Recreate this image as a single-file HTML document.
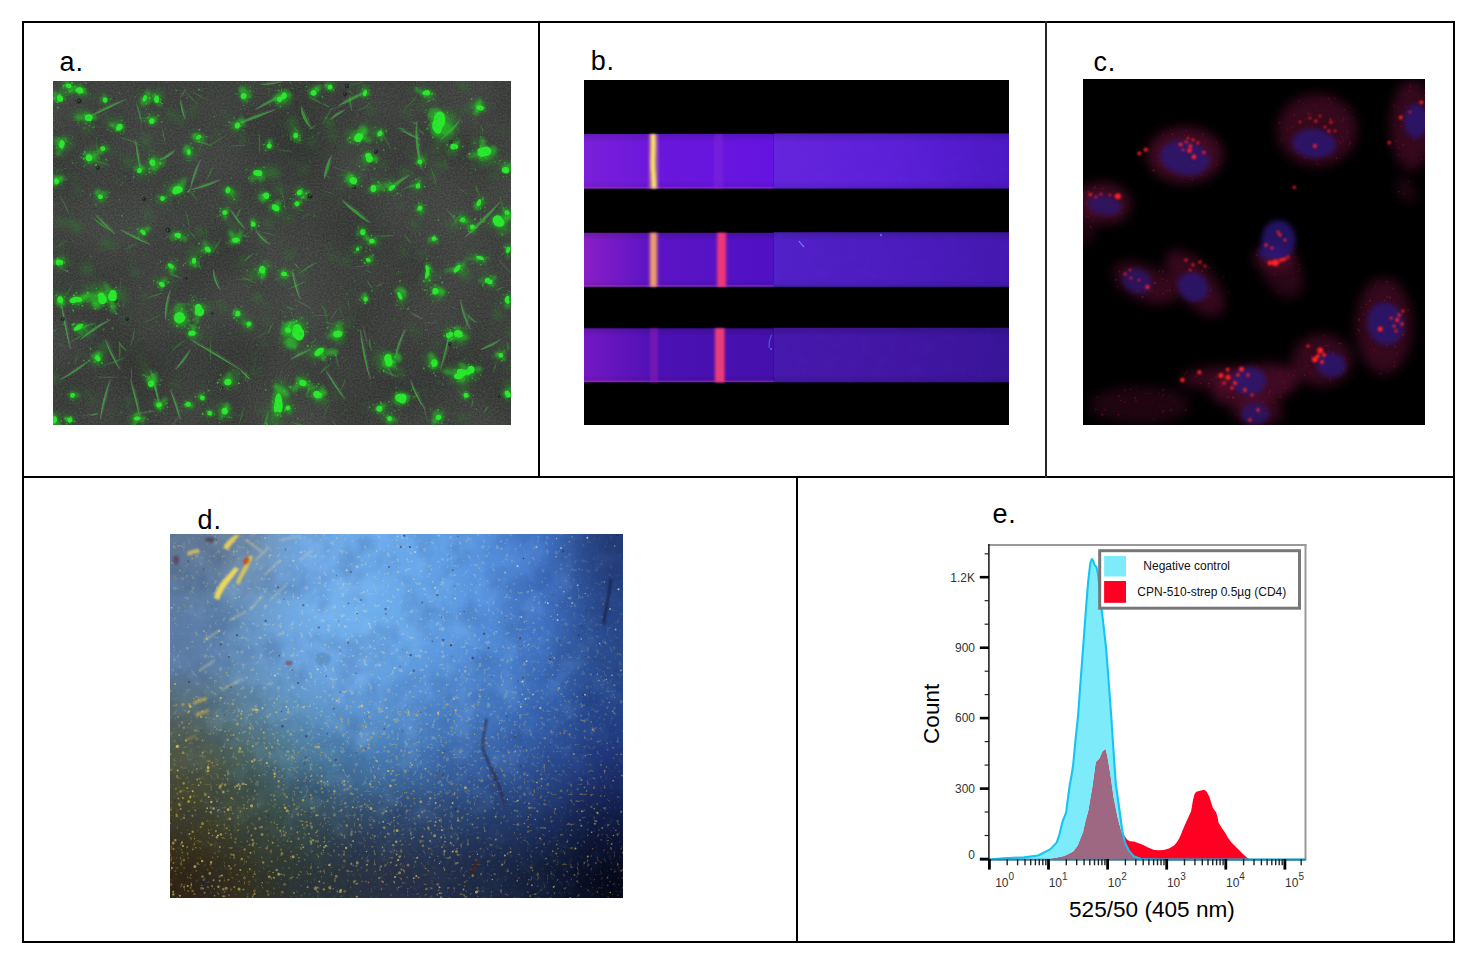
<!DOCTYPE html>
<html><head><meta charset="utf-8">
<style>
html,body{margin:0;padding:0;background:#fff;}
body{width:1478px;height:966px;position:relative;overflow:hidden;font-family:"Liberation Sans",Arial,sans-serif;}
.ln{position:absolute;background:#000;}
.lbl{position:absolute;font-size:27px;line-height:1;color:#000;letter-spacing:0.8px;white-space:nowrap;}
svg{display:block;}
</style></head><body>

<div class="ln" style="left:22px;top:21px;width:1433px;height:2px"></div>
<div class="ln" style="left:22px;top:941px;width:1433px;height:2px"></div>
<div class="ln" style="left:22px;top:21px;width:2px;height:922px"></div>
<div class="ln" style="left:1453px;top:21px;width:2px;height:922px"></div>
<div class="ln" style="left:22px;top:476px;width:1433px;height:2px"></div>
<div class="ln" style="left:538px;top:21px;width:2px;height:457px"></div>
<div class="ln" style="left:1045px;top:21px;width:2px;height:457px;background:#262626"></div>
<div class="ln" style="left:796px;top:476px;width:2px;height:467px"></div>

<div class="lbl" style="left:59.6px;top:48.7px">a.</div>
<div class="lbl" style="left:590.8px;top:48.4px">b.</div>
<div class="lbl" style="left:1093.5px;top:48.7px">c.</div>
<div class="lbl" style="left:197.6px;top:506.7px">d.</div>
<div class="lbl" style="left:992.4px;top:501px">e.</div>

<svg style="position:absolute;left:53px;top:81px" width="458" height="344" viewBox="53 81 458 344">
<defs>
<filter id="ab0" color-interpolation-filters="sRGB" x="-100%" y="-100%" width="300%" height="300%"><feGaussianBlur stdDeviation="3.2"/></filter>
<filter id="ab1" color-interpolation-filters="sRGB" x="-100%" y="-100%" width="300%" height="300%"><feGaussianBlur stdDeviation="1.8"/></filter>
<filter id="ab2" color-interpolation-filters="sRGB" x="-100%" y="-100%" width="300%" height="300%"><feGaussianBlur stdDeviation="0.75"/></filter>
<filter id="ab3" color-interpolation-filters="sRGB" x="-20%" y="-20%" width="140%" height="140%"><feGaussianBlur stdDeviation="0.55"/></filter>
<filter id="anz" color-interpolation-filters="sRGB" x="0" y="0" width="100%" height="100%"><feTurbulence type="fractalNoise" baseFrequency="0.6" numOctaves="1" seed="5"/><feColorMatrix type="matrix" values="0.5 0 0 0 0.0  0.5 0 0 0 0.01  0.5 0 0 0 0.0  0 0 0 0 1"/></filter>
<filter id="anz2" color-interpolation-filters="sRGB" x="0" y="0" width="100%" height="100%"><feTurbulence type="fractalNoise" baseFrequency="0.012" numOctaves="2" seed="9"/><feColorMatrix type="matrix" values="0.6 0 0 0 -0.05  0.6 0 0 0 -0.045  0.6 0 0 0 -0.05  0 0 0 0 1"/></filter>
</defs>
<rect x="53" y="81" width="458" height="344" fill="#404240"/>
<rect x="53" y="81" width="458" height="344" filter="url(#anz2)" opacity="0.22"/>
<rect x="53" y="81" width="458" height="344" filter="url(#anz)" opacity="0.3"/>
<g filter="url(#ab0)"><ellipse cx="260.2" cy="273.6" rx="6.6" ry="4" fill="#2c8c2c" opacity="0.3" transform="rotate(150 260.2 273.6)"/><ellipse cx="140" cy="357.5" rx="4.4" ry="3" fill="#2c8c2c" opacity="0.2" transform="rotate(114 140 357.5)"/><ellipse cx="192" cy="112.2" rx="6" ry="4.4" fill="#2c8c2c" opacity="0.2" transform="rotate(101 192 112.2)"/><ellipse cx="494.9" cy="305.9" rx="5.1" ry="2.2" fill="#2c8c2c" opacity="0.2" transform="rotate(135 494.9 305.9)"/><ellipse cx="81.9" cy="93.3" rx="6.4" ry="4.3" fill="#2c8c2c" opacity="0.4" transform="rotate(83 81.9 93.3)"/><ellipse cx="254.8" cy="370.8" rx="4.6" ry="3.2" fill="#2c8c2c" opacity="0.3" transform="rotate(169 254.8 370.8)"/><ellipse cx="91.9" cy="306.3" rx="4" ry="2.6" fill="#2c8c2c" opacity="0.4" transform="rotate(21 91.9 306.3)"/><ellipse cx="377.2" cy="189.5" rx="3.1" ry="1.6" fill="#2c8c2c" opacity="0.2" transform="rotate(27 377.2 189.5)"/><ellipse cx="236.4" cy="372.2" rx="3.9" ry="3.4" fill="#2c8c2c" opacity="0.4" transform="rotate(0 236.4 372.2)"/><ellipse cx="150.8" cy="399.9" rx="2.3" ry="1.3" fill="#2c8c2c" opacity="0.4" transform="rotate(107 150.8 399.9)"/><ellipse cx="86.5" cy="297.5" rx="5.9" ry="2.9" fill="#2c8c2c" opacity="0.2" transform="rotate(85 86.5 297.5)"/><ellipse cx="59.9" cy="222.1" rx="6.6" ry="2.8" fill="#2c8c2c" opacity="0.4" transform="rotate(2 59.9 222.1)"/><ellipse cx="80.4" cy="355.2" rx="2.9" ry="1.9" fill="#2c8c2c" opacity="0.3" transform="rotate(48 80.4 355.2)"/><ellipse cx="504.3" cy="345.7" rx="4.1" ry="2.3" fill="#2c8c2c" opacity="0.3" transform="rotate(54 504.3 345.7)"/><ellipse cx="53.2" cy="378.3" rx="6.9" ry="4.6" fill="#2c8c2c" opacity="0.4" transform="rotate(5 53.2 378.3)"/><ellipse cx="149.5" cy="216.6" rx="6.3" ry="4.4" fill="#2c8c2c" opacity="0.2" transform="rotate(37 149.5 216.6)"/><ellipse cx="150.7" cy="169.8" rx="5.9" ry="3.1" fill="#2c8c2c" opacity="0.3" transform="rotate(18 150.7 169.8)"/><ellipse cx="87" cy="152.8" rx="5.2" ry="1.9" fill="#2c8c2c" opacity="0.3" transform="rotate(159 87 152.8)"/><ellipse cx="260.6" cy="410.9" rx="4.4" ry="2.9" fill="#2c8c2c" opacity="0.4" transform="rotate(46 260.6 410.9)"/><ellipse cx="340.3" cy="187.9" rx="3.1" ry="2.2" fill="#2c8c2c" opacity="0.4" transform="rotate(40 340.3 187.9)"/><ellipse cx="391.7" cy="404.5" rx="3" ry="2.6" fill="#2c8c2c" opacity="0.4" transform="rotate(154 391.7 404.5)"/><ellipse cx="89" cy="97.3" rx="2.5" ry="1.6" fill="#2c8c2c" opacity="0.3" transform="rotate(180 89 97.3)"/><ellipse cx="232.4" cy="225.8" rx="6.5" ry="4" fill="#2c8c2c" opacity="0.3" transform="rotate(17 232.4 225.8)"/><ellipse cx="110.9" cy="245.9" rx="5.3" ry="3.6" fill="#2c8c2c" opacity="0.2" transform="rotate(54 110.9 245.9)"/><ellipse cx="473.2" cy="151.2" rx="2.1" ry="1" fill="#2c8c2c" opacity="0.3" transform="rotate(15 473.2 151.2)"/><ellipse cx="74.3" cy="178" rx="4.7" ry="4.1" fill="#2c8c2c" opacity="0.2" transform="rotate(35 74.3 178)"/><ellipse cx="461.1" cy="418.3" rx="5.3" ry="3.9" fill="#2c8c2c" opacity="0.3" transform="rotate(35 461.1 418.3)"/><ellipse cx="323.2" cy="398.7" rx="4.4" ry="2.4" fill="#2c8c2c" opacity="0.3" transform="rotate(8 323.2 398.7)"/><ellipse cx="62.7" cy="299.8" rx="4.4" ry="3.3" fill="#2c8c2c" opacity="0.3" transform="rotate(18 62.7 299.8)"/><ellipse cx="87.5" cy="268.9" rx="5.7" ry="4.8" fill="#2c8c2c" opacity="0.4" transform="rotate(180 87.5 268.9)"/><ellipse cx="112.3" cy="412.4" rx="3.7" ry="1.5" fill="#2c8c2c" opacity="0.3" transform="rotate(19 112.3 412.4)"/><ellipse cx="452" cy="224.5" rx="6" ry="4.9" fill="#2c8c2c" opacity="0.3" transform="rotate(159 452 224.5)"/><ellipse cx="356.3" cy="211.4" rx="2.1" ry="0.8" fill="#2c8c2c" opacity="0.2" transform="rotate(29 356.3 211.4)"/><ellipse cx="507.9" cy="383.6" rx="5.6" ry="3.2" fill="#2c8c2c" opacity="0.4" transform="rotate(148 507.9 383.6)"/><ellipse cx="262.7" cy="240.1" rx="4.7" ry="3" fill="#2c8c2c" opacity="0.3" transform="rotate(79 262.7 240.1)"/><ellipse cx="328.4" cy="246.4" rx="3.2" ry="2.3" fill="#2c8c2c" opacity="0.3" transform="rotate(157 328.4 246.4)"/><ellipse cx="355.3" cy="248.3" rx="6.5" ry="3.6" fill="#2c8c2c" opacity="0.2" transform="rotate(156 355.3 248.3)"/><ellipse cx="145.8" cy="139.3" rx="6.5" ry="4.7" fill="#2c8c2c" opacity="0.3" transform="rotate(61 145.8 139.3)"/><ellipse cx="202.7" cy="310.1" rx="3" ry="1.8" fill="#2c8c2c" opacity="0.4" transform="rotate(51 202.7 310.1)"/><ellipse cx="456.2" cy="213.2" rx="4.9" ry="2.6" fill="#2c8c2c" opacity="0.2" transform="rotate(127 456.2 213.2)"/><ellipse cx="213.6" cy="389.1" rx="2.2" ry="0.8" fill="#2c8c2c" opacity="0.4" transform="rotate(43 213.6 389.1)"/><ellipse cx="104.7" cy="243.1" rx="6.6" ry="5.3" fill="#2c8c2c" opacity="0.3" transform="rotate(133 104.7 243.1)"/><ellipse cx="279.2" cy="189.5" rx="6.2" ry="5.5" fill="#2c8c2c" opacity="0.3" transform="rotate(19 279.2 189.5)"/><ellipse cx="432.6" cy="176.7" rx="5" ry="3.6" fill="#2c8c2c" opacity="0.3" transform="rotate(90 432.6 176.7)"/><ellipse cx="194.5" cy="353.3" rx="2.1" ry="0.9" fill="#2c8c2c" opacity="0.3" transform="rotate(6 194.5 353.3)"/><ellipse cx="405.3" cy="172.6" rx="5.9" ry="4.6" fill="#2c8c2c" opacity="0.4" transform="rotate(29 405.3 172.6)"/><ellipse cx="257.5" cy="297.7" rx="5.3" ry="4.2" fill="#2c8c2c" opacity="0.4" transform="rotate(175 257.5 297.7)"/><ellipse cx="143.7" cy="364.4" rx="3.3" ry="2.4" fill="#2c8c2c" opacity="0.4" transform="rotate(136 143.7 364.4)"/><ellipse cx="380.1" cy="142.6" rx="3.4" ry="1.8" fill="#2c8c2c" opacity="0.4" transform="rotate(133 380.1 142.6)"/><ellipse cx="282.2" cy="423.9" rx="2.8" ry="2.3" fill="#2c8c2c" opacity="0.4" transform="rotate(57 282.2 423.9)"/><ellipse cx="92.9" cy="401.8" rx="5.6" ry="2.4" fill="#2c8c2c" opacity="0.3" transform="rotate(160 92.9 401.8)"/><ellipse cx="459.4" cy="83.3" rx="4.8" ry="3.4" fill="#2c8c2c" opacity="0.3" transform="rotate(87 459.4 83.3)"/><ellipse cx="265.4" cy="305.1" rx="3" ry="2.3" fill="#2c8c2c" opacity="0.4" transform="rotate(164 265.4 305.1)"/><ellipse cx="476.3" cy="123.5" rx="3.2" ry="1.8" fill="#2c8c2c" opacity="0.2" transform="rotate(79 476.3 123.5)"/><ellipse cx="298.9" cy="353" rx="3.6" ry="3.1" fill="#2c8c2c" opacity="0.4" transform="rotate(89 298.9 353)"/><ellipse cx="284.2" cy="93.8" rx="3.7" ry="2.2" fill="#2c8c2c" opacity="0.3" transform="rotate(7 284.2 93.8)"/><ellipse cx="153" cy="379.4" rx="4.1" ry="1.5" fill="#2c8c2c" opacity="0.3" transform="rotate(175 153 379.4)"/><ellipse cx="413.9" cy="129.3" rx="2.7" ry="1.7" fill="#2c8c2c" opacity="0.4" transform="rotate(173 413.9 129.3)"/><ellipse cx="368.7" cy="406.3" rx="4.5" ry="3.9" fill="#2c8c2c" opacity="0.2" transform="rotate(56 368.7 406.3)"/><ellipse cx="254.3" cy="273.2" rx="6.2" ry="4.1" fill="#2c8c2c" opacity="0.2" transform="rotate(131 254.3 273.2)"/><ellipse cx="439.4" cy="273.6" rx="3.6" ry="2" fill="#2c8c2c" opacity="0.4" transform="rotate(156 439.4 273.6)"/><ellipse cx="148.4" cy="373.7" rx="6.8" ry="4.4" fill="#2c8c2c" opacity="0.3" transform="rotate(51 148.4 373.7)"/><ellipse cx="241.3" cy="120.3" rx="2" ry="1.1" fill="#2c8c2c" opacity="0.3" transform="rotate(11 241.3 120.3)"/><ellipse cx="289.3" cy="218.8" rx="6" ry="4" fill="#2c8c2c" opacity="0.3" transform="rotate(176 289.3 218.8)"/><ellipse cx="129.4" cy="401.2" rx="4.3" ry="3.7" fill="#2c8c2c" opacity="0.4" transform="rotate(103 129.4 401.2)"/><ellipse cx="176.3" cy="243.8" rx="2.6" ry="1.6" fill="#2c8c2c" opacity="0.4" transform="rotate(121 176.3 243.8)"/><ellipse cx="293.4" cy="118.4" rx="4.1" ry="1.5" fill="#2c8c2c" opacity="0.3" transform="rotate(179 293.4 118.4)"/><ellipse cx="409.9" cy="88.8" rx="3" ry="1.4" fill="#2c8c2c" opacity="0.4" transform="rotate(82 409.9 88.8)"/><ellipse cx="384.4" cy="165.1" rx="4.5" ry="2.8" fill="#2c8c2c" opacity="0.3" transform="rotate(130 384.4 165.1)"/><ellipse cx="338.6" cy="327.9" rx="5.5" ry="4.6" fill="#2c8c2c" opacity="0.2" transform="rotate(162 338.6 327.9)"/><ellipse cx="242.3" cy="263.1" rx="2.8" ry="1.3" fill="#2c8c2c" opacity="0.4" transform="rotate(163 242.3 263.1)"/><ellipse cx="153" cy="155.4" rx="4.7" ry="3.2" fill="#2c8c2c" opacity="0.2" transform="rotate(160 153 155.4)"/><ellipse cx="424.2" cy="391.5" rx="3.6" ry="1.9" fill="#2c8c2c" opacity="0.4" transform="rotate(55 424.2 391.5)"/><ellipse cx="409.5" cy="147.9" rx="2.5" ry="2.1" fill="#2c8c2c" opacity="0.2" transform="rotate(22 409.5 147.9)"/><ellipse cx="171.8" cy="114.4" rx="6.2" ry="3.6" fill="#2c8c2c" opacity="0.4" transform="rotate(32 171.8 114.4)"/><ellipse cx="144.9" cy="297" rx="6" ry="2.4" fill="#2c8c2c" opacity="0.3" transform="rotate(91 144.9 297)"/><ellipse cx="470.4" cy="414.1" rx="2.6" ry="1.6" fill="#2c8c2c" opacity="0.4" transform="rotate(128 470.4 414.1)"/><ellipse cx="510.4" cy="367.5" rx="6" ry="3.7" fill="#2c8c2c" opacity="0.2" transform="rotate(141 510.4 367.5)"/><ellipse cx="333.9" cy="392.4" rx="4.4" ry="2" fill="#2c8c2c" opacity="0.2" transform="rotate(44 333.9 392.4)"/><ellipse cx="437.8" cy="421.7" rx="6.6" ry="2.7" fill="#2c8c2c" opacity="0.2" transform="rotate(174 437.8 421.7)"/><ellipse cx="264.6" cy="344.1" rx="3.6" ry="2.2" fill="#2c8c2c" opacity="0.3" transform="rotate(110 264.6 344.1)"/><ellipse cx="149.2" cy="209.4" rx="5.2" ry="1.9" fill="#2c8c2c" opacity="0.3" transform="rotate(104 149.2 209.4)"/><ellipse cx="260.9" cy="335.3" rx="4" ry="1.8" fill="#2c8c2c" opacity="0.2" transform="rotate(131 260.9 335.3)"/><ellipse cx="415.9" cy="192.4" rx="2.4" ry="2" fill="#2c8c2c" opacity="0.4" transform="rotate(161 415.9 192.4)"/><ellipse cx="483.3" cy="277" rx="3" ry="2" fill="#2c8c2c" opacity="0.3" transform="rotate(66 483.3 277)"/><ellipse cx="181" cy="121" rx="5.7" ry="2.5" fill="#2c8c2c" opacity="0.4" transform="rotate(34 181 121)"/><ellipse cx="463.6" cy="383.7" rx="5.5" ry="4.2" fill="#2c8c2c" opacity="0.4" transform="rotate(103 463.6 383.7)"/><ellipse cx="147.7" cy="144.6" rx="6" ry="3.1" fill="#2c8c2c" opacity="0.2" transform="rotate(91 147.7 144.6)"/><ellipse cx="506.7" cy="391.5" rx="2.2" ry="1.1" fill="#2c8c2c" opacity="0.4" transform="rotate(76 506.7 391.5)"/><ellipse cx="207.7" cy="308" rx="4.8" ry="3.1" fill="#2c8c2c" opacity="0.3" transform="rotate(127 207.7 308)"/><ellipse cx="347.2" cy="322.2" rx="5.8" ry="5.2" fill="#2c8c2c" opacity="0.2" transform="rotate(157 347.2 322.2)"/><ellipse cx="102.5" cy="162.5" rx="4.2" ry="2.6" fill="#2c8c2c" opacity="0.4" transform="rotate(165 102.5 162.5)"/><ellipse cx="225.1" cy="114.9" rx="3.3" ry="2.8" fill="#2c8c2c" opacity="0.3" transform="rotate(130 225.1 114.9)"/><ellipse cx="243.4" cy="260.1" rx="6.2" ry="2.5" fill="#2c8c2c" opacity="0.3" transform="rotate(165 243.4 260.1)"/><ellipse cx="87.9" cy="286.6" rx="5.8" ry="2.2" fill="#2c8c2c" opacity="0.4" transform="rotate(40 87.9 286.6)"/><ellipse cx="229.7" cy="414.7" rx="6.3" ry="4.1" fill="#2c8c2c" opacity="0.3" transform="rotate(109 229.7 414.7)"/><ellipse cx="485.9" cy="225.7" rx="4.6" ry="3.1" fill="#2c8c2c" opacity="0.3" transform="rotate(73 485.9 225.7)"/><ellipse cx="274.3" cy="173.8" rx="6.6" ry="4.8" fill="#2c8c2c" opacity="0.4" transform="rotate(6 274.3 173.8)"/><ellipse cx="59.4" cy="165.3" rx="2.2" ry="1" fill="#2c8c2c" opacity="0.4" transform="rotate(99 59.4 165.3)"/><ellipse cx="77.2" cy="189.4" rx="4" ry="2.7" fill="#2c8c2c" opacity="0.4" transform="rotate(81 77.2 189.4)"/><ellipse cx="86.7" cy="392.5" rx="4.1" ry="2.5" fill="#2c8c2c" opacity="0.4" transform="rotate(62 86.7 392.5)"/><ellipse cx="73.8" cy="114.9" rx="6.1" ry="5.1" fill="#2c8c2c" opacity="0.2" transform="rotate(62 73.8 114.9)"/><ellipse cx="329.5" cy="120.6" rx="5.1" ry="3.1" fill="#2c8c2c" opacity="0.3" transform="rotate(13 329.5 120.6)"/><ellipse cx="216.4" cy="134.2" rx="3.8" ry="1.6" fill="#2c8c2c" opacity="0.3" transform="rotate(153 216.4 134.2)"/><ellipse cx="173.1" cy="281.3" rx="4.1" ry="3.2" fill="#2c8c2c" opacity="0.3" transform="rotate(35 173.1 281.3)"/><ellipse cx="489.3" cy="333.6" rx="3.2" ry="1.3" fill="#2c8c2c" opacity="0.4" transform="rotate(129 489.3 333.6)"/><ellipse cx="339.2" cy="204.6" rx="3.4" ry="2.4" fill="#2c8c2c" opacity="0.3" transform="rotate(151 339.2 204.6)"/><ellipse cx="140" cy="176.9" rx="3.2" ry="2.8" fill="#2c8c2c" opacity="0.3" transform="rotate(167 140 176.9)"/><ellipse cx="472.4" cy="383.3" rx="2.2" ry="0.8" fill="#2c8c2c" opacity="0.3" transform="rotate(108 472.4 383.3)"/><ellipse cx="65.3" cy="94.1" rx="3.1" ry="1.6" fill="#2c8c2c" opacity="0.4" transform="rotate(173 65.3 94.1)"/><ellipse cx="126.7" cy="161.8" rx="6.9" ry="4.3" fill="#2c8c2c" opacity="0.3" transform="rotate(86 126.7 161.8)"/><ellipse cx="210.4" cy="337.2" rx="6.2" ry="2.4" fill="#2c8c2c" opacity="0.2" transform="rotate(159 210.4 337.2)"/><ellipse cx="436.8" cy="345.5" rx="4.2" ry="3.2" fill="#2c8c2c" opacity="0.3" transform="rotate(38 436.8 345.5)"/><ellipse cx="222" cy="305.9" rx="6.9" ry="3.7" fill="#2c8c2c" opacity="0.3" transform="rotate(47 222 305.9)"/><ellipse cx="248.9" cy="208" rx="2.5" ry="2.1" fill="#2c8c2c" opacity="0.2" transform="rotate(21 248.9 208)"/><ellipse cx="250.9" cy="276.4" rx="6.1" ry="3.7" fill="#2c8c2c" opacity="0.4" transform="rotate(2 250.9 276.4)"/><ellipse cx="87.8" cy="154.4" rx="5.3" ry="2.1" fill="#2c8c2c" opacity="0.3" transform="rotate(177 87.8 154.4)"/><ellipse cx="203.2" cy="384.3" rx="3.1" ry="2.2" fill="#2c8c2c" opacity="0.3" transform="rotate(30 203.2 384.3)"/><ellipse cx="200.7" cy="232.7" rx="5" ry="4.2" fill="#2c8c2c" opacity="0.4" transform="rotate(71 200.7 232.7)"/><ellipse cx="253.6" cy="357.2" rx="3.5" ry="1.8" fill="#2c8c2c" opacity="0.3" transform="rotate(132 253.6 357.2)"/><ellipse cx="166.7" cy="205.4" rx="3.8" ry="2.1" fill="#2c8c2c" opacity="0.3" transform="rotate(99 166.7 205.4)"/><ellipse cx="417.6" cy="335.2" rx="3.8" ry="2.2" fill="#2c8c2c" opacity="0.2" transform="rotate(151 417.6 335.2)"/><ellipse cx="310.8" cy="141.7" rx="5.8" ry="4.8" fill="#2c8c2c" opacity="0.3" transform="rotate(5 310.8 141.7)"/><ellipse cx="154.3" cy="100.9" rx="2.8" ry="1.4" fill="#2c8c2c" opacity="0.2" transform="rotate(108 154.3 100.9)"/><ellipse cx="82.3" cy="269.1" rx="5.9" ry="2.4" fill="#2c8c2c" opacity="0.2" transform="rotate(26 82.3 269.1)"/><ellipse cx="464.8" cy="110.1" rx="5.2" ry="2.2" fill="#2c8c2c" opacity="0.4" transform="rotate(166 464.8 110.1)"/><ellipse cx="246.3" cy="326" rx="4.4" ry="3.8" fill="#2c8c2c" opacity="0.3" transform="rotate(117 246.3 326)"/><ellipse cx="233.6" cy="197.2" rx="6.8" ry="4.9" fill="#2c8c2c" opacity="0.3" transform="rotate(137 233.6 197.2)"/><ellipse cx="421.6" cy="105.9" rx="5.1" ry="1.9" fill="#2c8c2c" opacity="0.4" transform="rotate(170 421.6 105.9)"/><ellipse cx="212.9" cy="82.3" rx="3.9" ry="1.6" fill="#2c8c2c" opacity="0.3" transform="rotate(138 212.9 82.3)"/><ellipse cx="346.2" cy="261.2" rx="5.6" ry="4.4" fill="#2c8c2c" opacity="0.3" transform="rotate(107 346.2 261.2)"/><ellipse cx="472.3" cy="165.5" rx="2.8" ry="2" fill="#2c8c2c" opacity="0.4" transform="rotate(82 472.3 165.5)"/><ellipse cx="146.6" cy="227.2" rx="3.5" ry="3.1" fill="#2c8c2c" opacity="0.2" transform="rotate(78 146.6 227.2)"/><ellipse cx="387.7" cy="185.4" rx="2.8" ry="2.4" fill="#2c8c2c" opacity="0.4" transform="rotate(117 387.7 185.4)"/><ellipse cx="60.9" cy="246.5" rx="6" ry="3.1" fill="#2c8c2c" opacity="0.2" transform="rotate(91 60.9 246.5)"/><ellipse cx="152.6" cy="162" rx="5.6" ry="3.8" fill="#2c8c2c" opacity="0.3" transform="rotate(47 152.6 162)"/><ellipse cx="462.7" cy="219.5" rx="6.6" ry="5.7" fill="#2c8c2c" opacity="0.4" transform="rotate(140 462.7 219.5)"/><ellipse cx="272.6" cy="170.6" rx="6.4" ry="5.5" fill="#2c8c2c" opacity="0.3" transform="rotate(140 272.6 170.6)"/><ellipse cx="406.4" cy="112.8" rx="6.3" ry="3.6" fill="#2c8c2c" opacity="0.3" transform="rotate(34 406.4 112.8)"/><ellipse cx="420" cy="213.4" rx="4.6" ry="2.9" fill="#2c8c2c" opacity="0.3" transform="rotate(14 420 213.4)"/><ellipse cx="354.2" cy="162.7" rx="2.1" ry="1.3" fill="#2c8c2c" opacity="0.3" transform="rotate(63 354.2 162.7)"/><ellipse cx="379.7" cy="289.5" rx="2.8" ry="1.2" fill="#2c8c2c" opacity="0.3" transform="rotate(66 379.7 289.5)"/><ellipse cx="468.9" cy="359.6" rx="2.7" ry="2" fill="#2c8c2c" opacity="0.4" transform="rotate(132 468.9 359.6)"/><ellipse cx="297.8" cy="132.8" rx="5.9" ry="2.1" fill="#2c8c2c" opacity="0.4" transform="rotate(38 297.8 132.8)"/><ellipse cx="429.5" cy="109.4" rx="3.3" ry="2.5" fill="#2c8c2c" opacity="0.2" transform="rotate(122 429.5 109.4)"/><ellipse cx="370.7" cy="109.5" rx="5.7" ry="3.7" fill="#2c8c2c" opacity="0.3" transform="rotate(4 370.7 109.5)"/><ellipse cx="414.5" cy="224.4" rx="6.6" ry="2.6" fill="#2c8c2c" opacity="0.4" transform="rotate(53 414.5 224.4)"/><ellipse cx="70" cy="223.1" rx="4.5" ry="3.9" fill="#2c8c2c" opacity="0.4" transform="rotate(80 70 223.1)"/><ellipse cx="195.3" cy="107.2" rx="3.5" ry="2.1" fill="#2c8c2c" opacity="0.4" transform="rotate(92 195.3 107.2)"/><ellipse cx="87" cy="129.4" rx="5.3" ry="3.9" fill="#2c8c2c" opacity="0.4" transform="rotate(31 87 129.4)"/><ellipse cx="352.5" cy="85.2" rx="3.9" ry="2.9" fill="#2c8c2c" opacity="0.3" transform="rotate(144 352.5 85.2)"/><ellipse cx="104.9" cy="346.5" rx="6.3" ry="5.1" fill="#2c8c2c" opacity="0.4" transform="rotate(157 104.9 346.5)"/><ellipse cx="122.7" cy="297" rx="6.7" ry="5.1" fill="#2c8c2c" opacity="0.4" transform="rotate(100 122.7 297)"/><ellipse cx="307.5" cy="110.9" rx="2.9" ry="1.6" fill="#2c8c2c" opacity="0.2" transform="rotate(79 307.5 110.9)"/><ellipse cx="485.8" cy="274.6" rx="5.6" ry="3" fill="#2c8c2c" opacity="0.4" transform="rotate(23 485.8 274.6)"/><ellipse cx="99.7" cy="294.9" rx="2.7" ry="1.9" fill="#2c8c2c" opacity="0.2" transform="rotate(49 99.7 294.9)"/><ellipse cx="237.2" cy="368.9" rx="5" ry="2" fill="#2c8c2c" opacity="0.3" transform="rotate(40 237.2 368.9)"/><ellipse cx="505.2" cy="230.2" rx="5.9" ry="3.2" fill="#2c8c2c" opacity="0.4" transform="rotate(130 505.2 230.2)"/><ellipse cx="116.7" cy="151.7" rx="2.7" ry="2" fill="#2c8c2c" opacity="0.3" transform="rotate(105 116.7 151.7)"/><ellipse cx="338.3" cy="331.1" rx="5.1" ry="2.7" fill="#2c8c2c" opacity="0.4" transform="rotate(62 338.3 331.1)"/><ellipse cx="355.4" cy="290.4" rx="2.1" ry="1.1" fill="#2c8c2c" opacity="0.3" transform="rotate(166 355.4 290.4)"/><ellipse cx="255.1" cy="272.7" rx="3" ry="1.6" fill="#2c8c2c" opacity="0.3" transform="rotate(26 255.1 272.7)"/><ellipse cx="333" cy="135.5" rx="5.8" ry="4.9" fill="#2c8c2c" opacity="0.3" transform="rotate(90 333 135.5)"/><ellipse cx="333.3" cy="257.6" rx="4.9" ry="2.2" fill="#2c8c2c" opacity="0.4" transform="rotate(180 333.3 257.6)"/><ellipse cx="435.7" cy="148.8" rx="6.7" ry="4.7" fill="#2c8c2c" opacity="0.2" transform="rotate(21 435.7 148.8)"/><ellipse cx="115.4" cy="245.4" rx="4.1" ry="2.2" fill="#2c8c2c" opacity="0.2" transform="rotate(92 115.4 245.4)"/><ellipse cx="174.9" cy="384.7" rx="4.3" ry="3.2" fill="#2c8c2c" opacity="0.3" transform="rotate(145 174.9 384.7)"/><ellipse cx="301.9" cy="273.9" rx="4.8" ry="2.4" fill="#2c8c2c" opacity="0.4" transform="rotate(85 301.9 273.9)"/><ellipse cx="328.5" cy="123.2" rx="6.1" ry="3.1" fill="#2c8c2c" opacity="0.4" transform="rotate(61 328.5 123.2)"/><ellipse cx="400.3" cy="205.9" rx="2.8" ry="1.9" fill="#2c8c2c" opacity="0.4" transform="rotate(116 400.3 205.9)"/><ellipse cx="67.7" cy="142.9" rx="6.9" ry="6" fill="#2c8c2c" opacity="0.4" transform="rotate(78 67.7 142.9)"/><ellipse cx="399.3" cy="372.5" rx="6.5" ry="4.5" fill="#2c8c2c" opacity="0.4" transform="rotate(4 399.3 372.5)"/><ellipse cx="125.6" cy="222.7" rx="2.2" ry="1.4" fill="#2c8c2c" opacity="0.2" transform="rotate(103 125.6 222.7)"/><ellipse cx="132.5" cy="259.8" rx="3.3" ry="2.2" fill="#2c8c2c" opacity="0.3" transform="rotate(164 132.5 259.8)"/><ellipse cx="412.1" cy="329.2" rx="5.9" ry="3.4" fill="#2c8c2c" opacity="0.3" transform="rotate(26 412.1 329.2)"/><ellipse cx="268.2" cy="222.5" rx="5.1" ry="3.7" fill="#2c8c2c" opacity="0.4" transform="rotate(72 268.2 222.5)"/><ellipse cx="275.5" cy="423.1" rx="6.2" ry="5.1" fill="#2c8c2c" opacity="0.3" transform="rotate(111 275.5 423.1)"/><ellipse cx="106.8" cy="120.4" rx="6.7" ry="3.6" fill="#2c8c2c" opacity="0.3" transform="rotate(107 106.8 120.4)"/><ellipse cx="467.2" cy="191.3" rx="2.3" ry="1.7" fill="#2c8c2c" opacity="0.4" transform="rotate(96 467.2 191.3)"/><ellipse cx="326.7" cy="339.6" rx="3.5" ry="2.4" fill="#2c8c2c" opacity="0.2" transform="rotate(31 326.7 339.6)"/><ellipse cx="439.7" cy="164.4" rx="6.4" ry="5.6" fill="#2c8c2c" opacity="0.3" transform="rotate(26 439.7 164.4)"/><ellipse cx="294" cy="163.3" rx="3.5" ry="2" fill="#2c8c2c" opacity="0.3" transform="rotate(17 294 163.3)"/><ellipse cx="510.7" cy="332.4" rx="6.4" ry="3.5" fill="#2c8c2c" opacity="0.3" transform="rotate(144 510.7 332.4)"/><ellipse cx="421.8" cy="157.3" rx="5.7" ry="3.8" fill="#2c8c2c" opacity="0.4" transform="rotate(25 421.8 157.3)"/><ellipse cx="291" cy="125.7" rx="6.4" ry="4.3" fill="#2c8c2c" opacity="0.3" transform="rotate(75 291 125.7)"/><ellipse cx="164.7" cy="183.9" rx="3.6" ry="1.4" fill="#2c8c2c" opacity="0.4" transform="rotate(135 164.7 183.9)"/><ellipse cx="234.9" cy="203.6" rx="4.9" ry="1.8" fill="#2c8c2c" opacity="0.2" transform="rotate(80 234.9 203.6)"/><ellipse cx="194" cy="252.5" rx="6.7" ry="5.9" fill="#2c8c2c" opacity="0.3" transform="rotate(52 194 252.5)"/><ellipse cx="145.8" cy="376.5" rx="5.5" ry="2.1" fill="#2c8c2c" opacity="0.3" transform="rotate(90 145.8 376.5)"/><ellipse cx="464.9" cy="86.5" rx="5.2" ry="3.8" fill="#2c8c2c" opacity="0.3" transform="rotate(136 464.9 86.5)"/><ellipse cx="342.6" cy="146.9" rx="6.4" ry="2.4" fill="#2c8c2c" opacity="0.2" transform="rotate(80 342.6 146.9)"/><ellipse cx="493.3" cy="175.2" rx="4.1" ry="3.4" fill="#2c8c2c" opacity="0.3" transform="rotate(113 493.3 175.2)"/><ellipse cx="243.1" cy="139.3" rx="6.3" ry="2.6" fill="#2c8c2c" opacity="0.4" transform="rotate(68 243.1 139.3)"/><ellipse cx="135.9" cy="162" rx="5.3" ry="4.2" fill="#2c8c2c" opacity="0.3" transform="rotate(169 135.9 162)"/><ellipse cx="293.2" cy="120.8" rx="4.6" ry="4.1" fill="#2c8c2c" opacity="0.4" transform="rotate(46 293.2 120.8)"/><ellipse cx="358.5" cy="176.2" rx="5.2" ry="2.1" fill="#2c8c2c" opacity="0.4" transform="rotate(112 358.5 176.2)"/><ellipse cx="473.1" cy="106.4" rx="6.5" ry="2.3" fill="#2c8c2c" opacity="0.3" transform="rotate(137 473.1 106.4)"/><ellipse cx="167.9" cy="357.3" rx="2.4" ry="1.2" fill="#2c8c2c" opacity="0.4" transform="rotate(62 167.9 357.3)"/><ellipse cx="135.1" cy="333.6" rx="2.1" ry="1.7" fill="#2c8c2c" opacity="0.2" transform="rotate(8 135.1 333.6)"/><ellipse cx="337.8" cy="396.2" rx="4.9" ry="1.7" fill="#2c8c2c" opacity="0.4" transform="rotate(15 337.8 396.2)"/><ellipse cx="135.4" cy="272.3" rx="5.2" ry="2.9" fill="#2c8c2c" opacity="0.4" transform="rotate(8 135.4 272.3)"/><ellipse cx="289.7" cy="254.9" rx="6.2" ry="4.5" fill="#2c8c2c" opacity="0.3" transform="rotate(136 289.7 254.9)"/><ellipse cx="132.7" cy="349.2" rx="2.8" ry="1.9" fill="#2c8c2c" opacity="0.3" transform="rotate(112 132.7 349.2)"/><ellipse cx="303.9" cy="169.1" rx="5.6" ry="4.2" fill="#2c8c2c" opacity="0.3" transform="rotate(139 303.9 169.1)"/><ellipse cx="154.3" cy="280.6" rx="4.5" ry="1.7" fill="#2c8c2c" opacity="0.3" transform="rotate(13 154.3 280.6)"/><ellipse cx="315.3" cy="381.3" rx="2.9" ry="1.3" fill="#2c8c2c" opacity="0.2" transform="rotate(127 315.3 381.3)"/><ellipse cx="422.2" cy="254.3" rx="5.6" ry="4.6" fill="#2c8c2c" opacity="0.2" transform="rotate(29 422.2 254.3)"/><ellipse cx="468.5" cy="276.7" rx="4.7" ry="3.7" fill="#2c8c2c" opacity="0.3" transform="rotate(37 468.5 276.7)"/><ellipse cx="77.7" cy="227.3" rx="5.5" ry="4.4" fill="#2c8c2c" opacity="0.4" transform="rotate(67 77.7 227.3)"/><ellipse cx="403.5" cy="252.4" rx="5.3" ry="3.3" fill="#2c8c2c" opacity="0.3" transform="rotate(63 403.5 252.4)"/><ellipse cx="126.2" cy="318.6" rx="6.2" ry="4.8" fill="#2c8c2c" opacity="0.2" transform="rotate(105 126.2 318.6)"/><ellipse cx="266.8" cy="321.3" rx="5.5" ry="4.8" fill="#2c8c2c" opacity="0.2" transform="rotate(153 266.8 321.3)"/><ellipse cx="504.7" cy="130.7" rx="4.3" ry="3.2" fill="#2c8c2c" opacity="0.2" transform="rotate(61 504.7 130.7)"/><ellipse cx="240.7" cy="261.8" rx="2.5" ry="1.6" fill="#2c8c2c" opacity="0.3" transform="rotate(19 240.7 261.8)"/><ellipse cx="498" cy="314.9" rx="5.6" ry="5" fill="#2c8c2c" opacity="0.4" transform="rotate(75 498 314.9)"/><ellipse cx="169" cy="270.8" rx="3.2" ry="1.9" fill="#2c8c2c" opacity="0.4" transform="rotate(93 169 270.8)"/><ellipse cx="194.4" cy="406.6" rx="6.6" ry="3.1" fill="#2c8c2c" opacity="0.2" transform="rotate(149 194.4 406.6)"/><ellipse cx="350.6" cy="101.1" rx="3.7" ry="2.7" fill="#2c8c2c" opacity="0.4" transform="rotate(151 350.6 101.1)"/><ellipse cx="476.2" cy="142" rx="6.3" ry="5.4" fill="#2c8c2c" opacity="0.3" transform="rotate(96 476.2 142)"/><ellipse cx="410.9" cy="155.1" rx="3.7" ry="1.7" fill="#2c8c2c" opacity="0.3" transform="rotate(41 410.9 155.1)"/><ellipse cx="59" cy="96.9" rx="5.1" ry="4.1" fill="#279a27" opacity="0.35" transform="rotate(78 59 96.9)"/><ellipse cx="58.9" cy="97.8" rx="5.2" ry="4.2" fill="#279a27" opacity="0.35" transform="rotate(46 58.9 97.8)"/><ellipse cx="62.7" cy="95.1" rx="4.4" ry="3.5" fill="#279a27" opacity="0.35" transform="rotate(18 62.7 95.1)"/><ellipse cx="82.3" cy="115.1" rx="7.8" ry="5.6" fill="#279a27" opacity="0.35" transform="rotate(158 82.3 115.1)"/><ellipse cx="81.9" cy="114.1" rx="5" ry="3.6" fill="#279a27" opacity="0.35" transform="rotate(100 81.9 114.1)"/><ellipse cx="88.5" cy="119.1" rx="4.9" ry="3.5" fill="#279a27" opacity="0.35" transform="rotate(26 88.5 119.1)"/><ellipse cx="117.6" cy="124.3" rx="6.2" ry="5" fill="#279a27" opacity="0.35" transform="rotate(92 117.6 124.3)"/><ellipse cx="115.4" cy="125.1" rx="5.9" ry="4.7" fill="#279a27" opacity="0.35" transform="rotate(30 115.4 125.1)"/><ellipse cx="114.3" cy="125.9" rx="4.4" ry="3.5" fill="#279a27" opacity="0.35" transform="rotate(21 114.3 125.9)"/><ellipse cx="154.8" cy="120" rx="3.5" ry="2.8" fill="#279a27" opacity="0.35" transform="rotate(132 154.8 120)"/><ellipse cx="153.2" cy="119.3" rx="4.5" ry="3.6" fill="#279a27" opacity="0.35" transform="rotate(125 153.2 119.3)"/><ellipse cx="147.9" cy="118.1" rx="4.5" ry="3.6" fill="#279a27" opacity="0.35" transform="rotate(8 147.9 118.1)"/><ellipse cx="143.5" cy="97.7" rx="3.5" ry="4.7" fill="#279a27" opacity="0.35" transform="rotate(177 143.5 97.7)"/><ellipse cx="143" cy="101.3" rx="3" ry="4" fill="#279a27" opacity="0.35" transform="rotate(115 143 101.3)"/><ellipse cx="146.8" cy="94.6" rx="2.9" ry="3.9" fill="#279a27" opacity="0.35" transform="rotate(71 146.8 94.6)"/><ellipse cx="156.6" cy="98.3" rx="3.2" ry="3.3" fill="#279a27" opacity="0.35" transform="rotate(132 156.6 98.3)"/><ellipse cx="159.4" cy="95.8" rx="3.6" ry="3.7" fill="#279a27" opacity="0.35" transform="rotate(88 159.4 95.8)"/><ellipse cx="157.2" cy="94.9" rx="5.2" ry="5.3" fill="#279a27" opacity="0.35" transform="rotate(161 157.2 94.9)"/><ellipse cx="244.2" cy="90.5" rx="5.6" ry="4.5" fill="#279a27" opacity="0.35" transform="rotate(76 244.2 90.5)"/><ellipse cx="245.9" cy="91" rx="5.9" ry="4.7" fill="#279a27" opacity="0.35" transform="rotate(142 245.9 91)"/><ellipse cx="246.2" cy="96.8" rx="6.3" ry="5" fill="#279a27" opacity="0.35" transform="rotate(95 246.2 96.8)"/><ellipse cx="234.8" cy="126.9" rx="3.5" ry="3.1" fill="#279a27" opacity="0.35" transform="rotate(109 234.8 126.9)"/><ellipse cx="233.7" cy="125.4" rx="4.8" ry="4.3" fill="#279a27" opacity="0.35" transform="rotate(84 233.7 125.4)"/><ellipse cx="235.2" cy="127.7" rx="3.9" ry="3.5" fill="#279a27" opacity="0.35" transform="rotate(103 235.2 127.7)"/><ellipse cx="276.5" cy="101.4" rx="3.8" ry="3.5" fill="#279a27" opacity="0.35" transform="rotate(61 276.5 101.4)"/><ellipse cx="279.2" cy="101.1" rx="5.3" ry="4.9" fill="#279a27" opacity="0.35" transform="rotate(38 279.2 101.1)"/><ellipse cx="278.8" cy="96.5" rx="5.2" ry="4.7" fill="#279a27" opacity="0.35" transform="rotate(78 278.8 96.5)"/><ellipse cx="91.9" cy="151.9" rx="5.6" ry="4.5" fill="#279a27" opacity="0.35" transform="rotate(93 91.9 151.9)"/><ellipse cx="94.4" cy="162.5" rx="5.1" ry="4.1" fill="#279a27" opacity="0.35" transform="rotate(96 94.4 162.5)"/><ellipse cx="89.4" cy="158.6" rx="5.9" ry="4.7" fill="#279a27" opacity="0.35" transform="rotate(83 89.4 158.6)"/><ellipse cx="105.6" cy="145.6" rx="2.5" ry="2" fill="#279a27" opacity="0.35" transform="rotate(82 105.6 145.6)"/><ellipse cx="105.6" cy="149.2" rx="3" ry="2.4" fill="#279a27" opacity="0.35" transform="rotate(171 105.6 149.2)"/><ellipse cx="105.6" cy="149.7" rx="3.3" ry="2.7" fill="#279a27" opacity="0.35" transform="rotate(87 105.6 149.7)"/><ellipse cx="144" cy="168.8" rx="4.4" ry="3.5" fill="#279a27" opacity="0.35" transform="rotate(55 144 168.8)"/><ellipse cx="142.5" cy="171.1" rx="4.5" ry="3.6" fill="#279a27" opacity="0.35" transform="rotate(105 142.5 171.1)"/><ellipse cx="141.1" cy="166.3" rx="3" ry="2.4" fill="#279a27" opacity="0.35" transform="rotate(118 141.1 166.3)"/><ellipse cx="157.7" cy="160.7" rx="6.9" ry="5.5" fill="#279a27" opacity="0.35" transform="rotate(9 157.7 160.7)"/><ellipse cx="156.9" cy="164" rx="4.6" ry="3.7" fill="#279a27" opacity="0.35" transform="rotate(126 156.9 164)"/><ellipse cx="152.1" cy="167.2" rx="4.1" ry="3.3" fill="#279a27" opacity="0.35" transform="rotate(49 152.1 167.2)"/><ellipse cx="196.1" cy="135" rx="3.4" ry="2.7" fill="#279a27" opacity="0.35" transform="rotate(133 196.1 135)"/><ellipse cx="193.8" cy="137.4" rx="3.9" ry="3.1" fill="#279a27" opacity="0.35" transform="rotate(61 193.8 137.4)"/><ellipse cx="198.4" cy="139.9" rx="4.9" ry="4" fill="#279a27" opacity="0.35" transform="rotate(20 198.4 139.9)"/><ellipse cx="189.9" cy="152.7" rx="4.4" ry="5.3" fill="#279a27" opacity="0.35" transform="rotate(85 189.9 152.7)"/><ellipse cx="187.3" cy="147.7" rx="2.4" ry="2.9" fill="#279a27" opacity="0.35" transform="rotate(53 187.3 147.7)"/><ellipse cx="190.4" cy="154" rx="4.7" ry="5.7" fill="#279a27" opacity="0.35" transform="rotate(41 190.4 154)"/><ellipse cx="171.9" cy="191.1" rx="8.3" ry="4.8" fill="#279a27" opacity="0.35" transform="rotate(144 171.9 191.1)"/><ellipse cx="174.1" cy="188.6" rx="7.7" ry="4.4" fill="#279a27" opacity="0.35" transform="rotate(171 174.1 188.6)"/><ellipse cx="178.2" cy="186.4" rx="7" ry="4" fill="#279a27" opacity="0.35" transform="rotate(83 178.2 186.4)"/><ellipse cx="230.1" cy="194" rx="4.9" ry="3.9" fill="#279a27" opacity="0.35" transform="rotate(16 230.1 194)"/><ellipse cx="232.5" cy="193.2" rx="5.3" ry="4.2" fill="#279a27" opacity="0.35" transform="rotate(79 232.5 193.2)"/><ellipse cx="225.1" cy="190.1" rx="5" ry="4" fill="#279a27" opacity="0.35" transform="rotate(123 225.1 190.1)"/><ellipse cx="261.3" cy="197" rx="4.5" ry="3.6" fill="#279a27" opacity="0.35" transform="rotate(123 261.3 197)"/><ellipse cx="261.4" cy="193.4" rx="4.8" ry="3.9" fill="#279a27" opacity="0.35" transform="rotate(177 261.4 193.4)"/><ellipse cx="264.7" cy="197.9" rx="4" ry="3.2" fill="#279a27" opacity="0.35" transform="rotate(174 264.7 197.9)"/><ellipse cx="268.1" cy="144.8" rx="4.2" ry="3.4" fill="#279a27" opacity="0.35" transform="rotate(144 268.1 144.8)"/><ellipse cx="271.7" cy="146.5" rx="3.4" ry="2.7" fill="#279a27" opacity="0.35" transform="rotate(180 271.7 146.5)"/><ellipse cx="266.6" cy="147.7" rx="3" ry="2.4" fill="#279a27" opacity="0.35" transform="rotate(41 266.6 147.7)"/><ellipse cx="272.4" cy="206.2" rx="6" ry="4.3" fill="#279a27" opacity="0.35" transform="rotate(59 272.4 206.2)"/><ellipse cx="278" cy="211.9" rx="5.3" ry="3.8" fill="#279a27" opacity="0.35" transform="rotate(177 278 211.9)"/><ellipse cx="281.2" cy="211.9" rx="4.1" ry="2.9" fill="#279a27" opacity="0.35" transform="rotate(176 281.2 211.9)"/><ellipse cx="53.5" cy="178.3" rx="5.3" ry="4.3" fill="#279a27" opacity="0.35" transform="rotate(98 53.5 178.3)"/><ellipse cx="59.9" cy="185.4" rx="3.4" ry="2.7" fill="#279a27" opacity="0.35" transform="rotate(30 59.9 185.4)"/><ellipse cx="59.3" cy="177.8" rx="4.3" ry="3.5" fill="#279a27" opacity="0.35" transform="rotate(137 59.3 177.8)"/><ellipse cx="105.1" cy="193.5" rx="3.7" ry="3" fill="#279a27" opacity="0.35" transform="rotate(6 105.1 193.5)"/><ellipse cx="103.8" cy="199.7" rx="3.3" ry="2.6" fill="#279a27" opacity="0.35" transform="rotate(17 103.8 199.7)"/><ellipse cx="99.4" cy="199.2" rx="5.1" ry="4.1" fill="#279a27" opacity="0.35" transform="rotate(72 99.4 199.2)"/><ellipse cx="160.5" cy="200.1" rx="3.4" ry="2.7" fill="#279a27" opacity="0.35" transform="rotate(36 160.5 200.1)"/><ellipse cx="166" cy="197.7" rx="4.1" ry="3.3" fill="#279a27" opacity="0.35" transform="rotate(139 166 197.7)"/><ellipse cx="160.9" cy="201.1" rx="3.5" ry="2.8" fill="#279a27" opacity="0.35" transform="rotate(27 160.9 201.1)"/><ellipse cx="225.2" cy="215.6" rx="4.5" ry="3.6" fill="#279a27" opacity="0.35" transform="rotate(110 225.2 215.6)"/><ellipse cx="222.1" cy="211.4" rx="2.4" ry="2" fill="#279a27" opacity="0.35" transform="rotate(144 222.1 211.4)"/><ellipse cx="225.3" cy="211.1" rx="3.4" ry="2.7" fill="#279a27" opacity="0.35" transform="rotate(82 225.3 211.1)"/><ellipse cx="251.3" cy="224.2" rx="3.3" ry="2.6" fill="#279a27" opacity="0.35" transform="rotate(66 251.3 224.2)"/><ellipse cx="253.7" cy="221.8" rx="2.4" ry="1.9" fill="#279a27" opacity="0.35" transform="rotate(79 253.7 221.8)"/><ellipse cx="254.5" cy="220.7" rx="3.2" ry="2.6" fill="#279a27" opacity="0.35" transform="rotate(35 254.5 220.7)"/><ellipse cx="212.7" cy="246.7" rx="6" ry="4.2" fill="#279a27" opacity="0.35" transform="rotate(123 212.7 246.7)"/><ellipse cx="203.4" cy="248" rx="5" ry="3.5" fill="#279a27" opacity="0.35" transform="rotate(142 203.4 248)"/><ellipse cx="203.7" cy="249.6" rx="5.3" ry="3.7" fill="#279a27" opacity="0.35" transform="rotate(159 203.7 249.6)"/><ellipse cx="174.6" cy="233.7" rx="5.2" ry="2.5" fill="#279a27" opacity="0.35" transform="rotate(63 174.6 233.7)"/><ellipse cx="183.5" cy="235.5" rx="7.3" ry="3.5" fill="#279a27" opacity="0.35" transform="rotate(12 183.5 235.5)"/><ellipse cx="173.7" cy="232.5" rx="4.7" ry="2.2" fill="#279a27" opacity="0.35" transform="rotate(30 173.7 232.5)"/><ellipse cx="144.6" cy="230.7" rx="3.3" ry="2" fill="#279a27" opacity="0.35" transform="rotate(142 144.6 230.7)"/><ellipse cx="141.1" cy="232.4" rx="3.2" ry="1.9" fill="#279a27" opacity="0.35" transform="rotate(53 141.1 232.4)"/><ellipse cx="138.7" cy="231.3" rx="5.7" ry="3.4" fill="#279a27" opacity="0.35" transform="rotate(67 138.7 231.3)"/><ellipse cx="261.4" cy="176.4" rx="6.9" ry="4.4" fill="#279a27" opacity="0.35" transform="rotate(102 261.4 176.4)"/><ellipse cx="255.4" cy="173.9" rx="6.7" ry="4.3" fill="#279a27" opacity="0.35" transform="rotate(25 255.4 173.9)"/><ellipse cx="262.9" cy="173.4" rx="7.4" ry="4.7" fill="#279a27" opacity="0.35" transform="rotate(104 262.9 173.4)"/><ellipse cx="58.6" cy="149.9" rx="3.3" ry="3.3" fill="#279a27" opacity="0.35" transform="rotate(147 58.6 149.9)"/><ellipse cx="57.6" cy="142.9" rx="5.5" ry="5.5" fill="#279a27" opacity="0.35" transform="rotate(129 57.6 142.9)"/><ellipse cx="62.5" cy="148.7" rx="4.4" ry="4.4" fill="#279a27" opacity="0.35" transform="rotate(163 62.5 148.7)"/><ellipse cx="235.8" cy="237.8" rx="4.3" ry="2.4" fill="#279a27" opacity="0.35" transform="rotate(167 235.8 237.8)"/><ellipse cx="234.3" cy="236" rx="5.3" ry="3" fill="#279a27" opacity="0.35" transform="rotate(46 234.3 236)"/><ellipse cx="232.9" cy="241.4" rx="6.2" ry="3.5" fill="#279a27" opacity="0.35" transform="rotate(174 232.9 241.4)"/><ellipse cx="76.2" cy="88.4" rx="4.6" ry="3" fill="#279a27" opacity="0.35" transform="rotate(95 76.2 88.4)"/><ellipse cx="77.9" cy="89.2" rx="4" ry="2.6" fill="#279a27" opacity="0.35" transform="rotate(128 77.9 89.2)"/><ellipse cx="74.3" cy="86" rx="7.8" ry="5" fill="#279a27" opacity="0.35" transform="rotate(52 74.3 86)"/><ellipse cx="63.4" cy="83.7" rx="3.4" ry="2" fill="#279a27" opacity="0.35" transform="rotate(150 63.4 83.7)"/><ellipse cx="64.2" cy="89.5" rx="4.6" ry="2.7" fill="#279a27" opacity="0.35" transform="rotate(56 64.2 89.5)"/><ellipse cx="68" cy="88" rx="6" ry="3.6" fill="#279a27" opacity="0.35" transform="rotate(69 68 88)"/><ellipse cx="101.9" cy="99.2" rx="4.6" ry="3.7" fill="#279a27" opacity="0.35" transform="rotate(46 101.9 99.2)"/><ellipse cx="107" cy="100.2" rx="2.4" ry="1.9" fill="#279a27" opacity="0.35" transform="rotate(162 107 100.2)"/><ellipse cx="106.2" cy="103" rx="2.5" ry="2" fill="#279a27" opacity="0.35" transform="rotate(157 106.2 103)"/><ellipse cx="285.6" cy="99.9" rx="5.2" ry="5.9" fill="#279a27" opacity="0.35" transform="rotate(160 285.6 99.9)"/><ellipse cx="284" cy="100.8" rx="5.4" ry="6.2" fill="#279a27" opacity="0.35" transform="rotate(31 284 100.8)"/><ellipse cx="287.4" cy="97.5" rx="4.1" ry="4.7" fill="#279a27" opacity="0.35" transform="rotate(170 287.4 97.5)"/><ellipse cx="313.7" cy="94.9" rx="4.8" ry="3.8" fill="#279a27" opacity="0.35" transform="rotate(96 313.7 94.9)"/><ellipse cx="315" cy="92.4" rx="4.8" ry="3.9" fill="#279a27" opacity="0.35" transform="rotate(8 315 92.4)"/><ellipse cx="314.3" cy="91.2" rx="4.1" ry="3.3" fill="#279a27" opacity="0.35" transform="rotate(11 314.3 91.2)"/><ellipse cx="428.4" cy="97.1" rx="5.5" ry="2.6" fill="#279a27" opacity="0.35" transform="rotate(119 428.4 97.1)"/><ellipse cx="424.5" cy="91.5" rx="7.8" ry="3.6" fill="#279a27" opacity="0.35" transform="rotate(48 424.5 91.5)"/><ellipse cx="430.4" cy="97.6" rx="6.7" ry="3.1" fill="#279a27" opacity="0.35" transform="rotate(32 430.4 97.6)"/><ellipse cx="443.5" cy="135.1" rx="7.1" ry="8.5" fill="#279a27" opacity="0.35" transform="rotate(47 443.5 135.1)"/><ellipse cx="445.1" cy="128" rx="12.4" ry="14.9" fill="#279a27" opacity="0.35" transform="rotate(29 445.1 128)"/><ellipse cx="444.3" cy="124" rx="12.8" ry="15.3" fill="#279a27" opacity="0.35" transform="rotate(16 444.3 124)"/><ellipse cx="475.7" cy="103.3" rx="5.4" ry="3.4" fill="#279a27" opacity="0.35" transform="rotate(132 475.7 103.3)"/><ellipse cx="483.2" cy="107.3" rx="6.1" ry="3.9" fill="#279a27" opacity="0.35" transform="rotate(109 483.2 107.3)"/><ellipse cx="475.9" cy="105.6" rx="6.6" ry="4.2" fill="#279a27" opacity="0.35" transform="rotate(18 475.9 105.6)"/><ellipse cx="351.9" cy="136.2" rx="8.4" ry="6.2" fill="#279a27" opacity="0.35" transform="rotate(61 351.9 136.2)"/><ellipse cx="351.4" cy="137" rx="5.1" ry="3.7" fill="#279a27" opacity="0.35" transform="rotate(140 351.4 137)"/><ellipse cx="364.4" cy="131.3" rx="9.3" ry="6.8" fill="#279a27" opacity="0.35" transform="rotate(93 364.4 131.3)"/><ellipse cx="377.1" cy="132.1" rx="5.4" ry="4.3" fill="#279a27" opacity="0.35" transform="rotate(56 377.1 132.1)"/><ellipse cx="382.6" cy="130.3" rx="3.3" ry="2.6" fill="#279a27" opacity="0.35" transform="rotate(99 382.6 130.3)"/><ellipse cx="375.9" cy="135" rx="4.1" ry="3.3" fill="#279a27" opacity="0.35" transform="rotate(125 375.9 135)"/><ellipse cx="450.5" cy="150.7" rx="3.9" ry="3.1" fill="#279a27" opacity="0.35" transform="rotate(161 450.5 150.7)"/><ellipse cx="452.8" cy="150.4" rx="6.3" ry="5" fill="#279a27" opacity="0.35" transform="rotate(143 452.8 150.4)"/><ellipse cx="456.2" cy="145.3" rx="3.2" ry="2.6" fill="#279a27" opacity="0.35" transform="rotate(86 456.2 145.3)"/><ellipse cx="487.4" cy="158.4" rx="10.9" ry="8.1" fill="#279a27" opacity="0.35" transform="rotate(168 487.4 158.4)"/><ellipse cx="485.7" cy="156" rx="6.6" ry="4.9" fill="#279a27" opacity="0.35" transform="rotate(32 485.7 156)"/><ellipse cx="478.5" cy="154.3" rx="5.8" ry="4.3" fill="#279a27" opacity="0.35" transform="rotate(71 478.5 154.3)"/><ellipse cx="363.6" cy="162.9" rx="6.4" ry="5.2" fill="#279a27" opacity="0.35" transform="rotate(91 363.6 162.9)"/><ellipse cx="365.9" cy="151.7" rx="4.3" ry="3.4" fill="#279a27" opacity="0.35" transform="rotate(52 365.9 151.7)"/><ellipse cx="371" cy="155.9" rx="5.2" ry="4.2" fill="#279a27" opacity="0.35" transform="rotate(104 371 155.9)"/><ellipse cx="348.6" cy="176.5" rx="5.1" ry="4.1" fill="#279a27" opacity="0.35" transform="rotate(95 348.6 176.5)"/><ellipse cx="356" cy="180.5" rx="5.8" ry="4.7" fill="#279a27" opacity="0.35" transform="rotate(129 356 180.5)"/><ellipse cx="347.7" cy="176.7" rx="6.1" ry="4.8" fill="#279a27" opacity="0.35" transform="rotate(106 347.7 176.7)"/><ellipse cx="372" cy="189.6" rx="4.1" ry="3.7" fill="#279a27" opacity="0.35" transform="rotate(73 372 189.6)"/><ellipse cx="378.8" cy="184.1" rx="5.3" ry="4.7" fill="#279a27" opacity="0.35" transform="rotate(57 378.8 184.1)"/><ellipse cx="378.7" cy="187.5" rx="5.6" ry="5" fill="#279a27" opacity="0.35" transform="rotate(153 378.7 187.5)"/><ellipse cx="388.9" cy="188" rx="5.5" ry="2.6" fill="#279a27" opacity="0.35" transform="rotate(85 388.9 188)"/><ellipse cx="389.7" cy="186.6" rx="7.8" ry="3.8" fill="#279a27" opacity="0.35" transform="rotate(74 389.7 186.6)"/><ellipse cx="394.2" cy="183.5" rx="6.4" ry="3.1" fill="#279a27" opacity="0.35" transform="rotate(3 394.2 183.5)"/><ellipse cx="417.4" cy="183.4" rx="4.5" ry="3.6" fill="#279a27" opacity="0.35" transform="rotate(64 417.4 183.4)"/><ellipse cx="417.2" cy="184.4" rx="2.6" ry="2.1" fill="#279a27" opacity="0.35" transform="rotate(151 417.2 184.4)"/><ellipse cx="415.2" cy="187.1" rx="3.5" ry="2.8" fill="#279a27" opacity="0.35" transform="rotate(53 415.2 187.1)"/><ellipse cx="416.9" cy="161" rx="3.3" ry="2.6" fill="#279a27" opacity="0.35" transform="rotate(151 416.9 161)"/><ellipse cx="421.1" cy="160.9" rx="4.6" ry="3.6" fill="#279a27" opacity="0.35" transform="rotate(5 421.1 160.9)"/><ellipse cx="421.1" cy="159.5" rx="2.6" ry="2.1" fill="#279a27" opacity="0.35" transform="rotate(43 421.1 159.5)"/><ellipse cx="506.6" cy="167.2" rx="6.7" ry="4.3" fill="#279a27" opacity="0.35" transform="rotate(155 506.6 167.2)"/><ellipse cx="501.7" cy="166.3" rx="4.1" ry="2.6" fill="#279a27" opacity="0.35" transform="rotate(101 501.7 166.3)"/><ellipse cx="506.2" cy="166.4" rx="6.2" ry="3.9" fill="#279a27" opacity="0.35" transform="rotate(28 506.2 166.4)"/><ellipse cx="507.4" cy="214.8" rx="8.2" ry="6.1" fill="#279a27" opacity="0.35" transform="rotate(102 507.4 214.8)"/><ellipse cx="503.9" cy="228.3" rx="8.5" ry="6.3" fill="#279a27" opacity="0.35" transform="rotate(149 503.9 228.3)"/><ellipse cx="494.1" cy="219.6" rx="6.4" ry="4.8" fill="#279a27" opacity="0.35" transform="rotate(101 494.1 219.6)"/><ellipse cx="504.1" cy="214.8" rx="2.4" ry="1.9" fill="#279a27" opacity="0.35" transform="rotate(166 504.1 214.8)"/><ellipse cx="508.4" cy="214.8" rx="4.6" ry="3.7" fill="#279a27" opacity="0.35" transform="rotate(169 508.4 214.8)"/><ellipse cx="509.2" cy="214.4" rx="4.3" ry="3.4" fill="#279a27" opacity="0.35" transform="rotate(30 509.2 214.4)"/><ellipse cx="300" cy="189.7" rx="4.4" ry="3.5" fill="#279a27" opacity="0.35" transform="rotate(93 300 189.7)"/><ellipse cx="304.9" cy="196.8" rx="3.3" ry="2.6" fill="#279a27" opacity="0.35" transform="rotate(89 304.9 196.8)"/><ellipse cx="299.8" cy="193.6" rx="6.3" ry="5.1" fill="#279a27" opacity="0.35" transform="rotate(24 299.8 193.6)"/><ellipse cx="295.6" cy="203.9" rx="2.7" ry="2.2" fill="#279a27" opacity="0.35" transform="rotate(145 295.6 203.9)"/><ellipse cx="295.1" cy="205" rx="3.6" ry="2.9" fill="#279a27" opacity="0.35" transform="rotate(78 295.1 205)"/><ellipse cx="295.5" cy="205.8" rx="3" ry="2.4" fill="#279a27" opacity="0.35" transform="rotate(105 295.5 205.8)"/><ellipse cx="419.7" cy="211.8" rx="3.8" ry="3.1" fill="#279a27" opacity="0.35" transform="rotate(43 419.7 211.8)"/><ellipse cx="420.3" cy="208" rx="4.4" ry="3.6" fill="#279a27" opacity="0.35" transform="rotate(26 420.3 208)"/><ellipse cx="422.1" cy="208.3" rx="2.7" ry="2.2" fill="#279a27" opacity="0.35" transform="rotate(144 422.1 208.3)"/><ellipse cx="472.6" cy="226.3" rx="3.9" ry="3.1" fill="#279a27" opacity="0.35" transform="rotate(30 472.6 226.3)"/><ellipse cx="471.8" cy="223.5" rx="2.8" ry="2.2" fill="#279a27" opacity="0.35" transform="rotate(28 471.8 223.5)"/><ellipse cx="474.1" cy="228.5" rx="2.8" ry="2.2" fill="#279a27" opacity="0.35" transform="rotate(135 474.1 228.5)"/><ellipse cx="463.5" cy="219.2" rx="3.6" ry="2.9" fill="#279a27" opacity="0.35" transform="rotate(139 463.5 219.2)"/><ellipse cx="463.6" cy="222.4" rx="2.5" ry="2" fill="#279a27" opacity="0.35" transform="rotate(106 463.6 222.4)"/><ellipse cx="461.2" cy="217.8" rx="3.7" ry="3" fill="#279a27" opacity="0.35" transform="rotate(168 461.2 217.8)"/><ellipse cx="482" cy="201.7" rx="3" ry="4.8" fill="#279a27" opacity="0.35" transform="rotate(167 482 201.7)"/><ellipse cx="482.5" cy="204.5" rx="2.3" ry="3.6" fill="#279a27" opacity="0.35" transform="rotate(128 482.5 204.5)"/><ellipse cx="482.1" cy="199" rx="3.3" ry="5.2" fill="#279a27" opacity="0.35" transform="rotate(68 482.1 199)"/><ellipse cx="296.9" cy="133.9" rx="3.3" ry="3.5" fill="#279a27" opacity="0.35" transform="rotate(109 296.9 133.9)"/><ellipse cx="297.3" cy="135.1" rx="4" ry="4.2" fill="#279a27" opacity="0.35" transform="rotate(85 297.3 135.1)"/><ellipse cx="294.8" cy="131.9" rx="4.4" ry="4.7" fill="#279a27" opacity="0.35" transform="rotate(15 294.8 131.9)"/><ellipse cx="360.5" cy="231.2" rx="3.2" ry="3.4" fill="#279a27" opacity="0.35" transform="rotate(57 360.5 231.2)"/><ellipse cx="364.2" cy="234.3" rx="2.5" ry="2.6" fill="#279a27" opacity="0.35" transform="rotate(92 364.2 234.3)"/><ellipse cx="362.8" cy="229.7" rx="4.2" ry="4.5" fill="#279a27" opacity="0.35" transform="rotate(124 362.8 229.7)"/><ellipse cx="373.8" cy="240.3" rx="4.5" ry="3.1" fill="#279a27" opacity="0.35" transform="rotate(26 373.8 240.3)"/><ellipse cx="367.7" cy="241.9" rx="5.5" ry="3.8" fill="#279a27" opacity="0.35" transform="rotate(93 367.7 241.9)"/><ellipse cx="375.7" cy="242.6" rx="5.2" ry="3.5" fill="#279a27" opacity="0.35" transform="rotate(53 375.7 242.6)"/><ellipse cx="434.8" cy="239.2" rx="3.2" ry="2.5" fill="#279a27" opacity="0.35" transform="rotate(127 434.8 239.2)"/><ellipse cx="431.2" cy="240.5" rx="3.2" ry="2.6" fill="#279a27" opacity="0.35" transform="rotate(23 431.2 240.5)"/><ellipse cx="431.9" cy="239.2" rx="4.3" ry="3.5" fill="#279a27" opacity="0.35" transform="rotate(108 431.9 239.2)"/><ellipse cx="358.3" cy="248.6" rx="1.7" ry="1.4" fill="#279a27" opacity="0.35" transform="rotate(146 358.3 248.6)"/><ellipse cx="358.5" cy="247.2" rx="3.2" ry="2.5" fill="#279a27" opacity="0.35" transform="rotate(64 358.5 247.2)"/><ellipse cx="356.8" cy="248.3" rx="2.9" ry="2.3" fill="#279a27" opacity="0.35" transform="rotate(73 356.8 248.3)"/><ellipse cx="331" cy="83.8" rx="4.2" ry="3.4" fill="#279a27" opacity="0.35" transform="rotate(12 331 83.8)"/><ellipse cx="329.2" cy="84" rx="2.7" ry="2.2" fill="#279a27" opacity="0.35" transform="rotate(87 329.2 84)"/><ellipse cx="331" cy="83.6" rx="4.6" ry="3.7" fill="#279a27" opacity="0.35" transform="rotate(54 331 83.6)"/><ellipse cx="365.5" cy="88.3" rx="3.5" ry="4.4" fill="#279a27" opacity="0.35" transform="rotate(107 365.5 88.3)"/><ellipse cx="364" cy="94.2" rx="3.8" ry="4.9" fill="#279a27" opacity="0.35" transform="rotate(19 364 94.2)"/><ellipse cx="363" cy="89" rx="3.4" ry="4.3" fill="#279a27" opacity="0.35" transform="rotate(35 363 89)"/><ellipse cx="58.8" cy="261.5" rx="4.6" ry="3.7" fill="#279a27" opacity="0.35" transform="rotate(30 58.8 261.5)"/><ellipse cx="59.5" cy="265.8" rx="5.5" ry="4.4" fill="#279a27" opacity="0.35" transform="rotate(29 59.5 265.8)"/><ellipse cx="64.4" cy="260.6" rx="5.9" ry="4.7" fill="#279a27" opacity="0.35" transform="rotate(28 64.4 260.6)"/><ellipse cx="61.9" cy="299" rx="5.4" ry="4.3" fill="#279a27" opacity="0.35" transform="rotate(167 61.9 299)"/><ellipse cx="60.6" cy="304.1" rx="3.9" ry="3.1" fill="#279a27" opacity="0.35" transform="rotate(106 60.6 304.1)"/><ellipse cx="58.3" cy="296.5" rx="6.2" ry="5" fill="#279a27" opacity="0.35" transform="rotate(39 58.3 296.5)"/><ellipse cx="82.3" cy="299.7" rx="5.8" ry="2.6" fill="#279a27" opacity="0.35" transform="rotate(110 82.3 299.7)"/><ellipse cx="83.2" cy="297.1" rx="9.5" ry="4.4" fill="#279a27" opacity="0.35" transform="rotate(126 83.2 297.1)"/><ellipse cx="75.9" cy="301.8" rx="7.8" ry="3.6" fill="#279a27" opacity="0.35" transform="rotate(123 75.9 301.8)"/><ellipse cx="95.3" cy="301.3" rx="5.6" ry="4.9" fill="#279a27" opacity="0.35" transform="rotate(149 95.3 301.3)"/><ellipse cx="98.5" cy="289.9" rx="8.8" ry="7.6" fill="#279a27" opacity="0.35" transform="rotate(166 98.5 289.9)"/><ellipse cx="98.8" cy="298.9" rx="7.3" ry="6.3" fill="#279a27" opacity="0.35" transform="rotate(99 98.8 298.9)"/><ellipse cx="111.1" cy="298" rx="6.4" ry="6.1" fill="#279a27" opacity="0.35" transform="rotate(149 111.1 298)"/><ellipse cx="107.1" cy="299.8" rx="6.1" ry="5.8" fill="#279a27" opacity="0.35" transform="rotate(23 107.1 299.8)"/><ellipse cx="114.3" cy="292.4" rx="5.5" ry="5.2" fill="#279a27" opacity="0.35" transform="rotate(105 114.3 292.4)"/><ellipse cx="182.5" cy="314.8" rx="6" ry="4.8" fill="#279a27" opacity="0.35" transform="rotate(65 182.5 314.8)"/><ellipse cx="179.1" cy="322.5" rx="8" ry="6.4" fill="#279a27" opacity="0.35" transform="rotate(158 179.1 322.5)"/><ellipse cx="173.9" cy="313.5" rx="7.9" ry="6.3" fill="#279a27" opacity="0.35" transform="rotate(135 173.9 313.5)"/><ellipse cx="198.5" cy="309.8" rx="4.9" ry="4.7" fill="#279a27" opacity="0.35" transform="rotate(158 198.5 309.8)"/><ellipse cx="194.2" cy="307.2" rx="7.4" ry="7.1" fill="#279a27" opacity="0.35" transform="rotate(8 194.2 307.2)"/><ellipse cx="204.9" cy="307.9" rx="4.6" ry="4.5" fill="#279a27" opacity="0.35" transform="rotate(125 204.9 307.9)"/><ellipse cx="190.3" cy="330.7" rx="6.2" ry="5" fill="#279a27" opacity="0.35" transform="rotate(91 190.3 330.7)"/><ellipse cx="194.8" cy="330.1" rx="5.7" ry="4.6" fill="#279a27" opacity="0.35" transform="rotate(55 194.8 330.1)"/><ellipse cx="196.6" cy="337.5" rx="5.6" ry="4.4" fill="#279a27" opacity="0.35" transform="rotate(88 196.6 337.5)"/><ellipse cx="93.9" cy="360.5" rx="5.1" ry="4.1" fill="#279a27" opacity="0.35" transform="rotate(94 93.9 360.5)"/><ellipse cx="99.3" cy="356.7" rx="6.2" ry="5" fill="#279a27" opacity="0.35" transform="rotate(74 99.3 356.7)"/><ellipse cx="98.5" cy="361.2" rx="6.3" ry="5.1" fill="#279a27" opacity="0.35" transform="rotate(28 98.5 361.2)"/><ellipse cx="149.4" cy="378.7" rx="4.9" ry="4.4" fill="#279a27" opacity="0.35" transform="rotate(64 149.4 378.7)"/><ellipse cx="153.4" cy="381.6" rx="5" ry="4.5" fill="#279a27" opacity="0.35" transform="rotate(67 153.4 381.6)"/><ellipse cx="151.7" cy="381.4" rx="4.1" ry="3.7" fill="#279a27" opacity="0.35" transform="rotate(71 151.7 381.4)"/><ellipse cx="232.8" cy="377.2" rx="5.6" ry="4" fill="#279a27" opacity="0.35" transform="rotate(139 232.8 377.2)"/><ellipse cx="231.8" cy="382.2" rx="6.2" ry="4.4" fill="#279a27" opacity="0.35" transform="rotate(41 231.8 382.2)"/><ellipse cx="227.9" cy="382.7" rx="7.7" ry="5.5" fill="#279a27" opacity="0.35" transform="rotate(163 227.9 382.7)"/><ellipse cx="221.7" cy="407.1" rx="6.2" ry="5" fill="#279a27" opacity="0.35" transform="rotate(92 221.7 407.1)"/><ellipse cx="225.5" cy="411.8" rx="4.7" ry="3.8" fill="#279a27" opacity="0.35" transform="rotate(175 225.5 411.8)"/><ellipse cx="222.8" cy="413.6" rx="6.2" ry="5" fill="#279a27" opacity="0.35" transform="rotate(129 222.8 413.6)"/><ellipse cx="274.5" cy="410.8" rx="7.5" ry="14.5" fill="#279a27" opacity="0.35" transform="rotate(19 274.5 410.8)"/><ellipse cx="282.7" cy="393.1" rx="7.8" ry="14.9" fill="#279a27" opacity="0.35" transform="rotate(168 282.7 393.1)"/><ellipse cx="280.2" cy="398.6" rx="4" ry="7.7" fill="#279a27" opacity="0.35" transform="rotate(144 280.2 398.6)"/><ellipse cx="266.6" cy="267.1" rx="4.4" ry="4.4" fill="#279a27" opacity="0.35" transform="rotate(90 266.6 267.1)"/><ellipse cx="265.8" cy="265.5" rx="5.3" ry="5.3" fill="#279a27" opacity="0.35" transform="rotate(17 265.8 265.5)"/><ellipse cx="258.8" cy="269.8" rx="3.7" ry="3.7" fill="#279a27" opacity="0.35" transform="rotate(175 258.8 269.8)"/><ellipse cx="241.4" cy="317.5" rx="4.6" ry="4.3" fill="#279a27" opacity="0.35" transform="rotate(138 241.4 317.5)"/><ellipse cx="235" cy="313.7" rx="2.8" ry="2.7" fill="#279a27" opacity="0.35" transform="rotate(134 235 313.7)"/><ellipse cx="239.4" cy="314.4" rx="4.6" ry="4.3" fill="#279a27" opacity="0.35" transform="rotate(180 239.4 314.4)"/><ellipse cx="245.9" cy="321.4" rx="2.9" ry="2.3" fill="#279a27" opacity="0.35" transform="rotate(177 245.9 321.4)"/><ellipse cx="248.7" cy="324.4" rx="4.7" ry="3.8" fill="#279a27" opacity="0.35" transform="rotate(143 248.7 324.4)"/><ellipse cx="245.8" cy="326.9" rx="3" ry="2.4" fill="#279a27" opacity="0.35" transform="rotate(56 245.8 326.9)"/><ellipse cx="83.1" cy="330.2" rx="11.1" ry="3.8" fill="#279a27" opacity="0.35" transform="rotate(39 83.1 330.2)"/><ellipse cx="85.7" cy="330.1" rx="5.7" ry="2" fill="#279a27" opacity="0.35" transform="rotate(125 85.7 330.1)"/><ellipse cx="84.7" cy="330.6" rx="8.8" ry="3" fill="#279a27" opacity="0.35" transform="rotate(156 84.7 330.6)"/><ellipse cx="159.8" cy="281.6" rx="5.7" ry="3.4" fill="#279a27" opacity="0.35" transform="rotate(40 159.8 281.6)"/><ellipse cx="166" cy="280.6" rx="3.6" ry="2.1" fill="#279a27" opacity="0.35" transform="rotate(77 166 280.6)"/><ellipse cx="166" cy="280.6" rx="3.3" ry="2" fill="#279a27" opacity="0.35" transform="rotate(47 166 280.6)"/><ellipse cx="172.3" cy="266.5" rx="5.1" ry="3" fill="#279a27" opacity="0.35" transform="rotate(171 172.3 266.5)"/><ellipse cx="173.5" cy="262.8" rx="3.4" ry="2.1" fill="#279a27" opacity="0.35" transform="rotate(55 173.5 262.8)"/><ellipse cx="175.1" cy="268.8" rx="4.5" ry="2.7" fill="#279a27" opacity="0.35" transform="rotate(85 175.1 268.8)"/><ellipse cx="191.6" cy="261" rx="4.6" ry="4.9" fill="#279a27" opacity="0.35" transform="rotate(61 191.6 261)"/><ellipse cx="191.9" cy="262.8" rx="3.7" ry="3.9" fill="#279a27" opacity="0.35" transform="rotate(85 191.9 262.8)"/><ellipse cx="193.8" cy="260.6" rx="4" ry="4.2" fill="#279a27" opacity="0.35" transform="rotate(106 193.8 260.6)"/><ellipse cx="207.4" cy="410.7" rx="3" ry="2.4" fill="#279a27" opacity="0.35" transform="rotate(122 207.4 410.7)"/><ellipse cx="207.7" cy="416.2" rx="2.8" ry="2.3" fill="#279a27" opacity="0.35" transform="rotate(173 207.7 416.2)"/><ellipse cx="210.8" cy="411.5" rx="3.7" ry="2.9" fill="#279a27" opacity="0.35" transform="rotate(65 210.8 411.5)"/><ellipse cx="203" cy="394.6" rx="3.1" ry="2.5" fill="#279a27" opacity="0.35" transform="rotate(16 203 394.6)"/><ellipse cx="201.1" cy="396.8" rx="4.1" ry="3.3" fill="#279a27" opacity="0.35" transform="rotate(172 201.1 396.8)"/><ellipse cx="199.1" cy="396.2" rx="2.6" ry="2.1" fill="#279a27" opacity="0.35" transform="rotate(175 199.1 396.2)"/><ellipse cx="74.5" cy="393.6" rx="2.9" ry="2.3" fill="#279a27" opacity="0.35" transform="rotate(106 74.5 393.6)"/><ellipse cx="73" cy="392.8" rx="4" ry="3.2" fill="#279a27" opacity="0.35" transform="rotate(17 73 392.8)"/><ellipse cx="75.6" cy="398.9" rx="3.3" ry="2.7" fill="#279a27" opacity="0.35" transform="rotate(34 75.6 398.9)"/><ellipse cx="159" cy="407.6" rx="3.9" ry="3.2" fill="#279a27" opacity="0.35" transform="rotate(52 159 407.6)"/><ellipse cx="158.6" cy="404" rx="5.1" ry="4.1" fill="#279a27" opacity="0.35" transform="rotate(17 158.6 404)"/><ellipse cx="159.6" cy="409.1" rx="3.2" ry="2.6" fill="#279a27" opacity="0.35" transform="rotate(127 159.6 409.1)"/><ellipse cx="132.2" cy="421.9" rx="4.6" ry="2.7" fill="#279a27" opacity="0.35" transform="rotate(40 132.2 421.9)"/><ellipse cx="133.3" cy="416.5" rx="6" ry="3.6" fill="#279a27" opacity="0.35" transform="rotate(57 133.3 416.5)"/><ellipse cx="140.8" cy="417.5" rx="6.2" ry="3.7" fill="#279a27" opacity="0.35" transform="rotate(36 140.8 417.5)"/><ellipse cx="190.5" cy="403" rx="2.5" ry="2" fill="#279a27" opacity="0.35" transform="rotate(60 190.5 403)"/><ellipse cx="185.7" cy="405.6" rx="4.5" ry="3.6" fill="#279a27" opacity="0.35" transform="rotate(171 185.7 405.6)"/><ellipse cx="188" cy="403.4" rx="2.7" ry="2.2" fill="#279a27" opacity="0.35" transform="rotate(69 188 403.4)"/><ellipse cx="291.1" cy="339.3" rx="11.1" ry="11.4" fill="#279a27" opacity="0.35" transform="rotate(88 291.1 339.3)"/><ellipse cx="300" cy="323.2" rx="7.4" ry="7.6" fill="#279a27" opacity="0.35" transform="rotate(149 300 323.2)"/><ellipse cx="290.7" cy="331.9" rx="8.6" ry="8.9" fill="#279a27" opacity="0.35" transform="rotate(145 290.7 331.9)"/><ellipse cx="287.4" cy="334.2" rx="4" ry="3.2" fill="#279a27" opacity="0.35" transform="rotate(23 287.4 334.2)"/><ellipse cx="284" cy="328.6" rx="3.4" ry="2.8" fill="#279a27" opacity="0.35" transform="rotate(79 284 328.6)"/><ellipse cx="292.6" cy="335.5" rx="5.4" ry="4.3" fill="#279a27" opacity="0.35" transform="rotate(47 292.6 335.5)"/><ellipse cx="333.1" cy="331" rx="7.5" ry="5" fill="#279a27" opacity="0.35" transform="rotate(75 333.1 331)"/><ellipse cx="337.8" cy="337.7" rx="7.7" ry="5.1" fill="#279a27" opacity="0.35" transform="rotate(89 337.8 337.7)"/><ellipse cx="339.5" cy="337.2" rx="7" ry="4.7" fill="#279a27" opacity="0.35" transform="rotate(48 339.5 337.2)"/><ellipse cx="314.3" cy="352.4" rx="9.4" ry="4.3" fill="#279a27" opacity="0.35" transform="rotate(112 314.3 352.4)"/><ellipse cx="324.6" cy="351.7" rx="5.9" ry="2.7" fill="#279a27" opacity="0.35" transform="rotate(41 324.6 351.7)"/><ellipse cx="312.6" cy="351.8" rx="10.2" ry="4.7" fill="#279a27" opacity="0.35" transform="rotate(5 312.6 351.8)"/><ellipse cx="382.7" cy="358.5" rx="9.4" ry="8.8" fill="#279a27" opacity="0.35" transform="rotate(156 382.7 358.5)"/><ellipse cx="391.8" cy="359.2" rx="5.7" ry="5.3" fill="#279a27" opacity="0.35" transform="rotate(3 391.8 359.2)"/><ellipse cx="384.8" cy="367.7" rx="6.4" ry="6" fill="#279a27" opacity="0.35" transform="rotate(158 384.8 367.7)"/><ellipse cx="434.7" cy="365.9" rx="5" ry="4.4" fill="#279a27" opacity="0.35" transform="rotate(81 434.7 365.9)"/><ellipse cx="430" cy="358.7" rx="6.3" ry="5.6" fill="#279a27" opacity="0.35" transform="rotate(156 430 358.7)"/><ellipse cx="433" cy="363.9" rx="5.8" ry="5.1" fill="#279a27" opacity="0.35" transform="rotate(85 433 363.9)"/><ellipse cx="464.4" cy="334.9" rx="6.7" ry="5.4" fill="#279a27" opacity="0.35" transform="rotate(159 464.4 334.9)"/><ellipse cx="463.2" cy="339.6" rx="4.7" ry="3.7" fill="#279a27" opacity="0.35" transform="rotate(130 463.2 339.6)"/><ellipse cx="459.7" cy="340" rx="7.1" ry="5.6" fill="#279a27" opacity="0.35" transform="rotate(80 459.7 340)"/><ellipse cx="447.5" cy="336.6" rx="3.7" ry="3" fill="#279a27" opacity="0.35" transform="rotate(86 447.5 336.6)"/><ellipse cx="447.9" cy="331.9" rx="5.4" ry="4.3" fill="#279a27" opacity="0.35" transform="rotate(88 447.9 331.9)"/><ellipse cx="449.8" cy="332.1" rx="5.6" ry="4.5" fill="#279a27" opacity="0.35" transform="rotate(131 449.8 332.1)"/><ellipse cx="463.7" cy="376.2" rx="10.6" ry="5.3" fill="#279a27" opacity="0.35" transform="rotate(102 463.7 376.2)"/><ellipse cx="456.4" cy="374.9" rx="10.4" ry="5.2" fill="#279a27" opacity="0.35" transform="rotate(118 456.4 374.9)"/><ellipse cx="452.3" cy="371.8" rx="10.5" ry="5.2" fill="#279a27" opacity="0.35" transform="rotate(15 452.3 371.8)"/><ellipse cx="471.4" cy="376.1" rx="5.1" ry="4.1" fill="#279a27" opacity="0.35" transform="rotate(113 471.4 376.1)"/><ellipse cx="464.3" cy="367.9" rx="4.2" ry="3.4" fill="#279a27" opacity="0.35" transform="rotate(149 464.3 367.9)"/><ellipse cx="473.6" cy="374.1" rx="5" ry="4" fill="#279a27" opacity="0.35" transform="rotate(162 473.6 374.1)"/><ellipse cx="400.4" cy="397.9" rx="7.5" ry="6" fill="#279a27" opacity="0.35" transform="rotate(18 400.4 397.9)"/><ellipse cx="400.2" cy="398.7" rx="6.2" ry="5" fill="#279a27" opacity="0.35" transform="rotate(170 400.2 398.7)"/><ellipse cx="400.3" cy="396.7" rx="5.7" ry="4.6" fill="#279a27" opacity="0.35" transform="rotate(55 400.3 396.7)"/><ellipse cx="380.7" cy="408.3" rx="4.2" ry="3.3" fill="#279a27" opacity="0.35" transform="rotate(170 380.7 408.3)"/><ellipse cx="382.9" cy="410.6" rx="5.8" ry="4.6" fill="#279a27" opacity="0.35" transform="rotate(70 382.9 410.6)"/><ellipse cx="381.9" cy="411.7" rx="3.8" ry="3" fill="#279a27" opacity="0.35" transform="rotate(121 381.9 411.7)"/><ellipse cx="388.2" cy="416.8" rx="4.6" ry="3.7" fill="#279a27" opacity="0.35" transform="rotate(5 388.2 416.8)"/><ellipse cx="392.9" cy="419.7" rx="3.5" ry="2.8" fill="#279a27" opacity="0.35" transform="rotate(164 392.9 419.7)"/><ellipse cx="390.4" cy="421.6" rx="4.6" ry="3.7" fill="#279a27" opacity="0.35" transform="rotate(164 390.4 421.6)"/><ellipse cx="491.9" cy="284.6" rx="3.7" ry="2.6" fill="#279a27" opacity="0.35" transform="rotate(66 491.9 284.6)"/><ellipse cx="493" cy="283.7" rx="4.2" ry="2.9" fill="#279a27" opacity="0.35" transform="rotate(47 493 283.7)"/><ellipse cx="489.5" cy="282.9" rx="4" ry="2.8" fill="#279a27" opacity="0.35" transform="rotate(159 489.5 282.9)"/><ellipse cx="437.3" cy="293.1" rx="5.3" ry="4.8" fill="#279a27" opacity="0.35" transform="rotate(111 437.3 293.1)"/><ellipse cx="439.4" cy="293.3" rx="5.7" ry="5.1" fill="#279a27" opacity="0.35" transform="rotate(0 439.4 293.3)"/><ellipse cx="436.6" cy="295.2" rx="5.2" ry="4.7" fill="#279a27" opacity="0.35" transform="rotate(125 436.6 295.2)"/><ellipse cx="426.2" cy="277.2" rx="2.1" ry="6" fill="#279a27" opacity="0.35" transform="rotate(41 426.2 277.2)"/><ellipse cx="427.9" cy="283" rx="2.5" ry="7.1" fill="#279a27" opacity="0.35" transform="rotate(158 427.9 283)"/><ellipse cx="429.6" cy="276.8" rx="3" ry="8.7" fill="#279a27" opacity="0.35" transform="rotate(80 429.6 276.8)"/><ellipse cx="400.1" cy="298.4" rx="2.1" ry="3.9" fill="#279a27" opacity="0.35" transform="rotate(68 400.1 298.4)"/><ellipse cx="401.4" cy="302.1" rx="2.7" ry="5.1" fill="#279a27" opacity="0.35" transform="rotate(13 401.4 302.1)"/><ellipse cx="402.8" cy="292.7" rx="3.9" ry="7.5" fill="#279a27" opacity="0.35" transform="rotate(158 402.8 292.7)"/><ellipse cx="364.2" cy="299" rx="2.5" ry="2" fill="#279a27" opacity="0.35" transform="rotate(27 364.2 299)"/><ellipse cx="364" cy="299.5" rx="3.6" ry="2.9" fill="#279a27" opacity="0.35" transform="rotate(9 364 299.5)"/><ellipse cx="362.7" cy="300.8" rx="2.5" ry="2" fill="#279a27" opacity="0.35" transform="rotate(134 362.7 300.8)"/><ellipse cx="499.1" cy="353.2" rx="3.8" ry="3" fill="#279a27" opacity="0.35" transform="rotate(61 499.1 353.2)"/><ellipse cx="500.4" cy="354.7" rx="3.2" ry="2.6" fill="#279a27" opacity="0.35" transform="rotate(90 500.4 354.7)"/><ellipse cx="499.4" cy="358" rx="4.5" ry="3.6" fill="#279a27" opacity="0.35" transform="rotate(136 499.4 358)"/><ellipse cx="506.2" cy="392.7" rx="4" ry="3.2" fill="#279a27" opacity="0.35" transform="rotate(121 506.2 392.7)"/><ellipse cx="511" cy="389.6" rx="4.6" ry="3.7" fill="#279a27" opacity="0.35" transform="rotate(121 511 389.6)"/><ellipse cx="508.8" cy="396.1" rx="5" ry="4" fill="#279a27" opacity="0.35" transform="rotate(164 508.8 396.1)"/><ellipse cx="291.1" cy="408" rx="4.7" ry="3.7" fill="#279a27" opacity="0.35" transform="rotate(150 291.1 408)"/><ellipse cx="288.3" cy="411.6" rx="3.7" ry="2.9" fill="#279a27" opacity="0.35" transform="rotate(48 288.3 411.6)"/><ellipse cx="285.7" cy="411.5" rx="3.9" ry="3.1" fill="#279a27" opacity="0.35" transform="rotate(47 285.7 411.5)"/><ellipse cx="303.1" cy="380.8" rx="8.3" ry="4.4" fill="#279a27" opacity="0.35" transform="rotate(81 303.1 380.8)"/><ellipse cx="299.1" cy="385.9" rx="5" ry="2.7" fill="#279a27" opacity="0.35" transform="rotate(14 299.1 385.9)"/><ellipse cx="301.8" cy="382.4" rx="5.3" ry="2.8" fill="#279a27" opacity="0.35" transform="rotate(121 301.8 382.4)"/><ellipse cx="314.7" cy="392.4" rx="7.6" ry="6.1" fill="#279a27" opacity="0.35" transform="rotate(140 314.7 392.4)"/><ellipse cx="313.3" cy="392.6" rx="6.8" ry="5.4" fill="#279a27" opacity="0.35" transform="rotate(112 313.3 392.6)"/><ellipse cx="322.8" cy="401.3" rx="6" ry="4.8" fill="#279a27" opacity="0.35" transform="rotate(62 322.8 401.3)"/><ellipse cx="465.3" cy="396.5" rx="4" ry="3.2" fill="#279a27" opacity="0.35" transform="rotate(157 465.3 396.5)"/><ellipse cx="465.3" cy="392.4" rx="3.8" ry="3" fill="#279a27" opacity="0.35" transform="rotate(62 465.3 392.4)"/><ellipse cx="462.8" cy="395.2" rx="2.4" ry="2" fill="#279a27" opacity="0.35" transform="rotate(18 462.8 395.2)"/><ellipse cx="460.8" cy="270.7" rx="7.8" ry="3.1" fill="#279a27" opacity="0.35" transform="rotate(53 460.8 270.7)"/><ellipse cx="463.8" cy="271.5" rx="7.1" ry="2.9" fill="#279a27" opacity="0.35" transform="rotate(150 463.8 271.5)"/><ellipse cx="462.7" cy="272.1" rx="7.9" ry="3.1" fill="#279a27" opacity="0.35" transform="rotate(85 462.7 272.1)"/><ellipse cx="282.7" cy="272.4" rx="6" ry="3.6" fill="#279a27" opacity="0.35" transform="rotate(130 282.7 272.4)"/><ellipse cx="285.3" cy="276.1" rx="6" ry="3.6" fill="#279a27" opacity="0.35" transform="rotate(49 285.3 276.1)"/><ellipse cx="282.3" cy="276.5" rx="5.5" ry="3.3" fill="#279a27" opacity="0.35" transform="rotate(114 282.3 276.5)"/><ellipse cx="436.6" cy="418.4" rx="3.9" ry="3.1" fill="#279a27" opacity="0.35" transform="rotate(111 436.6 418.4)"/><ellipse cx="437.6" cy="418" rx="4.5" ry="3.6" fill="#279a27" opacity="0.35" transform="rotate(77 437.6 418)"/><ellipse cx="440.6" cy="412.9" rx="5.6" ry="4.4" fill="#279a27" opacity="0.35" transform="rotate(160 440.6 412.9)"/><ellipse cx="370.9" cy="259.7" rx="3.3" ry="2.2" fill="#279a27" opacity="0.35" transform="rotate(129 370.9 259.7)"/><ellipse cx="371.6" cy="261.7" rx="3.4" ry="2.2" fill="#279a27" opacity="0.35" transform="rotate(171 371.6 261.7)"/><ellipse cx="365.1" cy="258.4" rx="2.9" ry="2" fill="#279a27" opacity="0.35" transform="rotate(154 365.1 258.4)"/><ellipse cx="485.1" cy="259.2" rx="8" ry="2.7" fill="#279a27" opacity="0.35" transform="rotate(111 485.1 259.2)"/><ellipse cx="474.5" cy="257.1" rx="7.7" ry="2.6" fill="#279a27" opacity="0.35" transform="rotate(21 474.5 257.1)"/><ellipse cx="479.2" cy="261.2" rx="6.4" ry="2.1" fill="#279a27" opacity="0.35" transform="rotate(100 479.2 261.2)"/><ellipse cx="51.5" cy="419.2" rx="4.2" ry="4.5" fill="#279a27" opacity="0.35" transform="rotate(66 51.5 419.2)"/><ellipse cx="52.1" cy="418.8" rx="4.5" ry="4.8" fill="#279a27" opacity="0.35" transform="rotate(76 52.1 418.8)"/><ellipse cx="58.6" cy="417.1" rx="4.6" ry="4.9" fill="#279a27" opacity="0.35" transform="rotate(15 58.6 417.1)"/><ellipse cx="70" cy="416.8" rx="2.9" ry="2.3" fill="#279a27" opacity="0.35" transform="rotate(166 70 416.8)"/><ellipse cx="69.2" cy="420.7" rx="4.1" ry="3.3" fill="#279a27" opacity="0.35" transform="rotate(86 69.2 420.7)"/><ellipse cx="71.8" cy="420.6" rx="3" ry="2.4" fill="#279a27" opacity="0.35" transform="rotate(180 71.8 420.6)"/><ellipse cx="509.3" cy="298.9" rx="2.8" ry="3.7" fill="#279a27" opacity="0.35" transform="rotate(6 509.3 298.9)"/><ellipse cx="505.4" cy="303.4" rx="3.2" ry="4.2" fill="#279a27" opacity="0.35" transform="rotate(130 505.4 303.4)"/><ellipse cx="511.2" cy="297.3" rx="3.8" ry="5" fill="#279a27" opacity="0.35" transform="rotate(135 511.2 297.3)"/><ellipse cx="510.7" cy="248.3" rx="3.8" ry="4.9" fill="#279a27" opacity="0.35" transform="rotate(126 510.7 248.3)"/><ellipse cx="509" cy="248" rx="3.6" ry="4.6" fill="#279a27" opacity="0.35" transform="rotate(107 509 248)"/><ellipse cx="509.1" cy="246.1" rx="2.1" ry="2.7" fill="#279a27" opacity="0.35" transform="rotate(118 509.1 246.1)"/></g>
<g filter="url(#ab3)"><path d="M341.5,200.3Q353.6,214.5 370,223.4Q357.7,209.4 341.5,200.3Z" fill="#34b834" opacity="0.7"/><path d="M342.1,199.7Q353.7,214.5 370.6,222.8Q358.8,208.3 342.1,199.7Z" fill="none" stroke="#7c867e" stroke-width="0.8" opacity="0.35"/><path d="M416,122Q413.5,146.6 421.6,170Q419.2,146 416,122Z" fill="#34b834" opacity="0.7"/><path d="M416.6,121.4Q413.5,146.1 422.2,169.4Q420.5,145.3 416.6,121.4Z" fill="none" stroke="#7c867e" stroke-width="0.8" opacity="0.35"/><path d="M323.7,179Q330.7,168.5 330.8,155.8Q324.5,166.6 323.7,179Z" fill="#34b834" opacity="0.7"/><path d="M324.3,178.4Q332,168.1 331.4,155.2Q324.4,165.7 324.3,178.4Z" fill="none" stroke="#7c867e" stroke-width="0.8" opacity="0.35"/><path d="M300.6,106Q300.9,119.8 311.3,129Q306.8,117.1 300.6,106Z" fill="#34b834" opacity="0.7"/><path d="M301.2,105.4Q300.9,119.5 311.9,128.4Q308.1,116.2 301.2,105.4Z" fill="none" stroke="#7c867e" stroke-width="0.8" opacity="0.35"/><path d="M338,106Q353.2,100.7 366.5,91.7Q350.6,95.6 338,106Z" fill="#34b834" opacity="0.7"/><path d="M338.6,105.4Q354.1,100.7 367.1,91.1Q350.9,94.4 338.6,105.4Z" fill="none" stroke="#7c867e" stroke-width="0.8" opacity="0.35"/><path d="M464.4,237.7Q485.1,222.8 500,202Q481.1,218.7 464.4,237.7Z" fill="#34b834" opacity="0.7"/><path d="M465,237.1Q486.2,222.6 500.6,201.4Q481.2,217.7 465,237.1Z" fill="none" stroke="#7c867e" stroke-width="0.8" opacity="0.35"/><path d="M387.8,191.4Q398.9,184 409.2,175.4Q395.5,179.4 387.8,191.4Z" fill="#34b834" opacity="0.7"/><path d="M388.4,190.8Q399.9,183.9 409.8,174.8Q395.7,178.3 388.4,190.8Z" fill="none" stroke="#7c867e" stroke-width="0.8" opacity="0.35"/><path d="M89,117Q107.6,109.7 125,100Q105.6,105.5 89,117Z" fill="#34b834" opacity="0.7"/><path d="M89.6,116.4Q108.4,109.6 125.6,99.4Q105.9,104.4 89.6,116.4Z" fill="none" stroke="#7c867e" stroke-width="0.8" opacity="0.35"/><path d="M190,190Q206,188.1 220,180Q204.6,183.7 190,190Z" fill="#34b834" opacity="0.7"/><path d="M190.6,189.4Q206.8,188 220.6,179.4Q205,182.6 190.6,189.4Z" fill="none" stroke="#7c867e" stroke-width="0.8" opacity="0.35"/><path d="M200,160Q192.3,173.6 190,189Q195.9,174.8 200,160Z" fill="#34b834" opacity="0.7"/><path d="M200.6,159.4Q192.4,172.8 190.6,188.4Q197,174.4 200.6,159.4Z" fill="none" stroke="#7c867e" stroke-width="0.8" opacity="0.35"/><path d="M160,160Q169.7,158.3 175,150Q167.1,154.4 160,160Z" fill="#34b834" opacity="0.7"/><path d="M160.6,159.4Q170.6,158.2 175.6,149.4Q167.4,153.4 160.6,159.4Z" fill="none" stroke="#7c867e" stroke-width="0.8" opacity="0.35"/><path d="M135,140Q136.2,155.2 140,170Q140,154.6 135,140Z" fill="#34b834" opacity="0.7"/><path d="M135.6,139.4Q136.3,154.7 140.6,169.4Q141.1,153.9 135.6,139.4Z" fill="none" stroke="#7c867e" stroke-width="0.8" opacity="0.35"/><path d="M236,125Q256,118.9 275,110Q254.2,114 236,125Z" fill="#34b834" opacity="0.7"/><path d="M236.6,124.4Q256.8,118.8 275.6,109.4Q254.5,112.9 236.6,124.4Z" fill="none" stroke="#7c867e" stroke-width="0.8" opacity="0.35"/><path d="M255,110Q269.8,103.9 283,95Q267.6,99.8 255,110Z" fill="#34b834" opacity="0.7"/><path d="M255.6,109.4Q270.6,103.8 283.6,94.4Q267.9,98.7 255.6,109.4Z" fill="none" stroke="#7c867e" stroke-width="0.8" opacity="0.35"/><path d="M260,85Q271.3,85.6 282,82Q270.8,81.8 260,85Z" fill="#34b834" opacity="0.7"/><path d="M260.6,84.4Q271.9,85.5 282.6,81.4Q271.3,80.7 260.6,84.4Z" fill="none" stroke="#7c867e" stroke-width="0.8" opacity="0.35"/><path d="M80,340Q94.8,329.6 110,320Q92.6,326.4 80,340Z" fill="#34b834" opacity="0.7"/><path d="M80.6,339.4Q95.6,329.4 110.6,319.4Q92.9,325.4 80.6,339.4Z" fill="none" stroke="#7c867e" stroke-width="0.8" opacity="0.35"/><path d="M60,300Q63.7,325.3 70,350Q67.5,324.5 60,300Z" fill="#34b834" opacity="0.7"/><path d="M60.6,299.4Q63.9,324.7 70.6,349.4Q68.6,323.8 60.6,299.4Z" fill="none" stroke="#7c867e" stroke-width="0.8" opacity="0.35"/><path d="M105,340Q110.1,356.2 120,370Q113.5,354.5 105,340Z" fill="#34b834" opacity="0.7"/><path d="M105.6,339.4Q110.3,355.8 120.6,369.4Q114.5,353.7 105.6,339.4Z" fill="none" stroke="#7c867e" stroke-width="0.8" opacity="0.35"/><path d="M190,340Q214.9,355.2 240,370Q216.9,351.8 190,340Z" fill="#34b834" opacity="0.7"/><path d="M190.6,339.4Q215.3,355 240.6,369.4Q217.7,350.8 190.6,339.4Z" fill="none" stroke="#7c867e" stroke-width="0.8" opacity="0.35"/><path d="M240,370Q244.3,375.7 250,380Q247,373 240,370Z" fill="#34b834" opacity="0.7"/><path d="M240.6,369.4Q244.6,375.4 250.6,379.4Q248,372 240.6,369.4Z" fill="none" stroke="#7c867e" stroke-width="0.8" opacity="0.35"/><path d="M170,290Q163.7,304.4 165,320Q167.6,305 170,290Z" fill="#34b834" opacity="0.7"/><path d="M170.6,289.4Q163.9,303.7 165.6,319.4Q168.6,304.5 170.6,289.4Z" fill="none" stroke="#7c867e" stroke-width="0.8" opacity="0.35"/><path d="M213,270Q212.6,281.4 220,290Q216.3,280.1 213,270Z" fill="#34b834" opacity="0.7"/><path d="M213.6,269.4Q212.8,280.9 220.6,289.4Q217.3,279.3 213.6,269.4Z" fill="none" stroke="#7c867e" stroke-width="0.8" opacity="0.35"/><path d="M190,350Q181.9,359.6 175,370Q185.1,361.9 190,350Z" fill="#34b834" opacity="0.7"/><path d="M190.6,349.4Q182.2,358.7 175.6,369.4Q186,361.6 190.6,349.4Z" fill="none" stroke="#7c867e" stroke-width="0.8" opacity="0.35"/><path d="M150,370Q154.7,390.1 160,410Q158.5,389.1 150,370Z" fill="#34b834" opacity="0.7"/><path d="M150.6,369.4Q154.8,389.6 160.6,409.4Q159.5,388.4 150.6,369.4Z" fill="none" stroke="#7c867e" stroke-width="0.8" opacity="0.35"/><path d="M170,390Q175,405 180,420Q178.7,403.8 170,390Z" fill="#34b834" opacity="0.7"/><path d="M170.6,389.4Q175.1,404.6 180.6,419.4Q179.7,403 170.6,389.4Z" fill="none" stroke="#7c867e" stroke-width="0.8" opacity="0.35"/><path d="M130,380Q135.1,400 140,420Q138.9,399 130,380Z" fill="#34b834" opacity="0.7"/><path d="M130.6,379.4Q135.3,399.5 140.6,419.4Q139.9,398.3 130.6,379.4Z" fill="none" stroke="#7c867e" stroke-width="0.8" opacity="0.35"/><path d="M110,380Q101.7,399.2 100,420Q105.5,400.1 110,380Z" fill="#34b834" opacity="0.7"/><path d="M110.6,379.4Q101.8,398.5 100.6,419.4Q106.5,399.6 110.6,379.4Z" fill="none" stroke="#7c867e" stroke-width="0.8" opacity="0.35"/><path d="M60,380Q76.7,372.6 90,360Q74.6,369.4 60,380Z" fill="#34b834" opacity="0.7"/><path d="M60.6,379.4Q77.6,372.4 90.6,359.4Q74.9,368.4 60.6,379.4Z" fill="none" stroke="#7c867e" stroke-width="0.8" opacity="0.35"/><path d="M290,360Q300.3,355.7 310,350Q298.6,352.2 290,360Z" fill="#34b834" opacity="0.7"/><path d="M290.6,359.4Q301.1,355.5 310.6,349.4Q299,351.2 290.6,359.4Z" fill="none" stroke="#7c867e" stroke-width="0.8" opacity="0.35"/><path d="M325,370Q333.4,386.1 345,400Q336.7,383.9 325,370Z" fill="#34b834" opacity="0.7"/><path d="M325.6,369.4Q333.6,385.7 345.6,399.4Q337.6,383 325.6,369.4Z" fill="none" stroke="#7c867e" stroke-width="0.8" opacity="0.35"/><path d="M360,330Q362.1,355.6 370,380Q366,354.8 360,330Z" fill="#34b834" opacity="0.7"/><path d="M360.6,329.4Q362.3,355.1 370.6,379.4Q367,354.1 360.6,329.4Z" fill="none" stroke="#7c867e" stroke-width="0.8" opacity="0.35"/><path d="M395,360Q399.6,344.9 405,330Q395.9,343.6 395,360Z" fill="#34b834" opacity="0.7"/><path d="M395.6,359.4Q400.6,344.4 405.6,329.4Q396.1,342.9 395.6,359.4Z" fill="none" stroke="#7c867e" stroke-width="0.8" opacity="0.35"/><path d="M410,380Q414.3,396.6 425,410Q417.8,394.8 410,380Z" fill="#34b834" opacity="0.7"/><path d="M410.6,379.4Q414.5,396.2 425.6,409.4Q418.8,394 410.6,379.4Z" fill="none" stroke="#7c867e" stroke-width="0.8" opacity="0.35"/><path d="M440,370Q448.6,350.9 450,330Q444.9,350 440,370Z" fill="#34b834" opacity="0.7"/><path d="M440.6,369.4Q449.7,350.4 450.6,329.4Q445,349.3 440.6,369.4Z" fill="none" stroke="#7c867e" stroke-width="0.8" opacity="0.35"/><path d="M470,330Q465.5,314.8 460,300Q461.8,316.1 470,330Z" fill="#34b834" opacity="0.7"/><path d="M470.6,329.4Q466.5,314.1 460.6,299.4Q462,315.6 470.6,329.4Z" fill="none" stroke="#7c867e" stroke-width="0.8" opacity="0.35"/><path d="M480,350Q491.3,347.7 500,340Q489.6,344.2 480,350Z" fill="#34b834" opacity="0.7"/><path d="M480.6,349.4Q492.1,347.5 500.6,339.4Q490,343.2 480.6,349.4Z" fill="none" stroke="#7c867e" stroke-width="0.8" opacity="0.35"/><path d="M292,270Q293.2,285.8 300,300Q296.9,284.8 292,270Z" fill="#34b834" opacity="0.7"/><path d="M292.6,269.4Q293.3,285.3 300.6,299.4Q298,284 292.6,269.4Z" fill="none" stroke="#7c867e" stroke-width="0.8" opacity="0.35"/><path d="M400,130Q409.5,136 420,140Q411.2,132.5 400,130Z" fill="#34b834" opacity="0.7"/><path d="M400.6,129.4Q409.9,135.8 420.6,139.4Q412,131.5 400.6,129.4Z" fill="none" stroke="#7c867e" stroke-width="0.8" opacity="0.35"/><path d="M440,140Q452.7,132.7 460,120Q450,130 440,140Z" fill="#34b834" opacity="0.7"/><path d="M440.6,139.4Q453.6,132.4 460.6,119.4Q450.2,129 440.6,139.4Z" fill="none" stroke="#7c867e" stroke-width="0.8" opacity="0.35"/><path d="M330,120Q337.8,115.5 345,110Q335.6,112.2 330,120Z" fill="#34b834" opacity="0.7"/><path d="M330.6,119.4Q338.7,115.2 345.6,109.4Q336,111.2 330.6,119.4Z" fill="none" stroke="#7c867e" stroke-width="0.8" opacity="0.35"/><path d="M120,230Q134.2,239.1 150,245Q135.9,235.6 120,230Z" fill="#34b834" opacity="0.7"/><path d="M120.6,229.4Q134.6,238.9 150.6,244.4Q136.7,234.6 120.6,229.4Z" fill="none" stroke="#7c867e" stroke-width="0.8" opacity="0.35"/><path d="M95,215Q104.3,225.7 115,235Q107,223 95,215Z" fill="#34b834" opacity="0.7"/><path d="M95.6,214.4Q104.6,225.4 115.6,234.4Q108,222 95.6,214.4Z" fill="none" stroke="#7c867e" stroke-width="0.8" opacity="0.35"/><path d="M230,210Q236.2,221 245,230Q239.3,218.7 230,210Z" fill="#34b834" opacity="0.7"/><path d="M230.6,209.4Q236.4,220.7 245.6,229.4Q240.3,217.8 230.6,209.4Z" fill="none" stroke="#7c867e" stroke-width="0.8" opacity="0.35"/><path d="M255,230Q260,240 270,245Q262.8,237.2 255,230Z" fill="#34b834" opacity="0.7"/><path d="M255.6,229.4Q260.3,239.7 270.6,244.4Q263.7,236.3 255.6,229.4Z" fill="none" stroke="#7c867e" stroke-width="0.8" opacity="0.35"/><path d="M180,100Q180.3,110.6 185,120Q184.1,109.6 180,100Z" fill="#34b834" opacity="0.7"/><path d="M180.6,99.4Q180.4,110.1 185.6,119.4Q185.1,108.9 180.6,99.4Z" fill="none" stroke="#7c867e" stroke-width="0.8" opacity="0.35"/><path d="M332.1,420.5Q334.8,426.6 341.2,428.3Q336.1,425.1 332.1,420.5Z" fill="#3cb43c" opacity="0.4"/><path d="M254.5,229.3Q243.1,234 233.6,241.9Q244.6,236.5 254.5,229.3Z" fill="#2e9a2e" opacity="0.4"/><path d="M405.6,190.6Q397.3,192.5 390.7,197.9Q398.3,194.5 405.6,190.6Z" fill="#34a834" opacity="0.3"/><path d="M371.6,102.6Q364.3,107.6 356,111.1Q365.1,109.2 371.6,102.6Z" fill="#34a834" opacity="0.4"/><path d="M504,287.4Q498.6,286.6 495.7,291.3Q499.8,289.1 504,287.4Z" fill="#34a834" opacity="0.5"/><path d="M306.6,96.1Q315.3,101.3 324.5,105.4Q316.6,98.7 306.6,96.1Z" fill="#34a834" opacity="0.5"/><path d="M216,204.8Q220.5,209.7 225.4,214.2Q221.7,208.5 216,204.8Z" fill="#3cb43c" opacity="0.4"/><path d="M132,140.5Q134.8,145.3 140.5,145.3Q136.1,143.2 132,140.5Z" fill="#2e9a2e" opacity="0.5"/><path d="M338.2,307.8Q332.2,314 328.5,321.8Q335.4,316.3 338.2,307.8Z" fill="#607a60" opacity="0.4"/><path d="M256.4,278.9Q245.1,278.6 233.9,279.1Q245.1,281 256.4,278.9Z" fill="#2e9a2e" opacity="0.4"/><path d="M349.7,94.5Q347.6,103.6 352.1,111.7Q351.6,103 349.7,94.5Z" fill="#3cb43c" opacity="0.5"/><path d="M369.8,337.1Q366.9,345.2 372,352.1Q370.9,344.6 369.8,337.1Z" fill="#2e9a2e" opacity="0.6"/><path d="M435.6,106.6Q444.2,116.1 453.8,124.4Q446.3,113.9 435.6,106.6Z" fill="#607a60" opacity="0.6"/><path d="M289.7,421.7Q301.5,427.8 314.9,427.8Q302.5,423.9 289.7,421.7Z" fill="#34a834" opacity="0.5"/><path d="M396.9,235Q384.8,235.1 372.8,235.8Q384.9,238.3 396.9,235Z" fill="#34a834" opacity="0.4"/><path d="M465.4,312.9Q469.2,321 477.8,323Q471.9,317.6 465.4,312.9Z" fill="#3cb43c" opacity="0.5"/><path d="M58.6,329.2Q49.2,330.3 40.3,333.6Q50,333.9 58.6,329.2Z" fill="#2e9a2e" opacity="0.6"/><path d="M308.9,115.9Q306.2,121.6 303.6,127.4Q309.6,123.1 308.9,115.9Z" fill="#2e9a2e" opacity="0.3"/><path d="M418.4,129.3Q420.3,134 425.3,134.4Q422.7,130.7 418.4,129.3Z" fill="#2e9a2e" opacity="0.6"/><path d="M421.7,391Q414.5,393.7 412.2,401Q416.9,396 421.7,391Z" fill="#34a834" opacity="0.3"/><path d="M310.9,212.7Q304.5,214.3 300.3,219.3Q306,216.6 310.9,212.7Z" fill="#2e9a2e" opacity="0.3"/><path d="M323.6,174Q327.5,176.8 331.3,179.6Q328.7,175.1 323.6,174Z" fill="#3cb43c" opacity="0.4"/><path d="M439.8,322Q429.7,321.2 419.8,323.3Q430,325.4 439.8,322Z" fill="#607a60" opacity="0.3"/><path d="M241,283.3Q245.7,288.2 252.6,288Q246.4,286.7 241,283.3Z" fill="#34a834" opacity="0.4"/><path d="M204.2,132Q201.5,144 197.1,155.5Q203.6,144.6 204.2,132Z" fill="#2e9a2e" opacity="0.5"/><path d="M348.1,296.6Q347.1,305.2 350.8,313.1Q348.9,304.9 348.1,296.6Z" fill="#34a834" opacity="0.3"/><path d="M139.8,241.9Q130,244 122.9,250.9Q131.8,247.3 139.8,241.9Z" fill="#2e9a2e" opacity="0.3"/><path d="M431,131.8Q433.9,135.4 438.5,136.1Q435,133.5 431,131.8Z" fill="#34a834" opacity="0.3"/><path d="M379.7,128.7Q385.3,140.3 391.9,151.4Q388.2,138.8 379.7,128.7Z" fill="#34a834" opacity="0.4"/><path d="M259.2,231.3Q267.4,234.5 276.2,235.3Q267.9,232.4 259.2,231.3Z" fill="#34a834" opacity="0.4"/><path d="M121.5,276.4Q118.2,283.8 121.1,291.4Q120.6,283.9 121.5,276.4Z" fill="#607a60" opacity="0.3"/><path d="M422.4,402.8Q424.7,413.6 427.7,424.3Q427,413 422.4,402.8Z" fill="#607a60" opacity="0.5"/><path d="M126.5,356.2Q114.9,360.5 103.5,365.2Q116.4,364.3 126.5,356.2Z" fill="#34a834" opacity="0.4"/><path d="M187.1,339.1Q177.1,343.1 171.1,352Q179.2,345.7 187.1,339.1Z" fill="#2e9a2e" opacity="0.4"/><path d="M168.3,272.8Q174.6,277.8 182.7,278.5Q175.8,274.8 168.3,272.8Z" fill="#3cb43c" opacity="0.5"/><path d="M456.3,386.9Q457.5,393.9 464.1,396.3Q460.1,391.7 456.3,386.9Z" fill="#607a60" opacity="0.3"/><path d="M237.9,275Q247.3,281.1 258.1,283.9Q248.4,278.5 237.9,275Z" fill="#34a834" opacity="0.4"/><path d="M490.5,214.9Q496.7,222.8 503.8,229.9Q498.4,221.3 490.5,214.9Z" fill="#34a834" opacity="0.5"/><path d="M139.9,373.1Q147.1,378.6 154.5,383.6Q149.2,375.6 139.9,373.1Z" fill="#3cb43c" opacity="0.5"/><path d="M340.3,301.6Q339.4,310.3 341.9,318.7Q341.1,310.1 340.3,301.6Z" fill="#34a834" opacity="0.4"/><path d="M273.5,329.6Q261.7,333.7 251.2,340.4Q262.8,335.8 273.5,329.6Z" fill="#607a60" opacity="0.4"/><path d="M384.4,349.8Q381.9,359.1 382.1,368.8Q383.8,359.4 384.4,349.8Z" fill="#2e9a2e" opacity="0.5"/><path d="M246.2,371.5Q245,377.2 244.5,382.9Q249.2,377.8 246.2,371.5Z" fill="#3cb43c" opacity="0.3"/><path d="M69.4,239Q60,243.1 52.1,249.7Q62,246.5 69.4,239Z" fill="#607a60" opacity="0.3"/><path d="M346.9,89.8Q349.6,93.1 353.3,95.4Q352.3,90.1 346.9,89.8Z" fill="#2e9a2e" opacity="0.4"/><path d="M95.7,322Q83.4,324.8 73.5,332.4Q84.9,328 95.7,322Z" fill="#3cb43c" opacity="0.6"/><path d="M306.8,281.2Q296.6,283.3 288.4,289.6Q297.6,285.5 306.8,281.2Z" fill="#3cb43c" opacity="0.5"/><path d="M267.5,84.7Q268.3,91 268.5,97.4Q271.3,90.8 267.5,84.7Z" fill="#2e9a2e" opacity="0.3"/><path d="M331,315.6Q319.8,314.6 308.7,316.3Q319.9,316.4 331,315.6Z" fill="#3cb43c" opacity="0.4"/><path d="M181,411.5Q173.9,421.7 167.4,432.2Q177.3,423.9 181,411.5Z" fill="#607a60" opacity="0.3"/><path d="M374.3,264.5Q361.8,265.3 349.4,267.5Q362,267.3 374.3,264.5Z" fill="#607a60" opacity="0.5"/><path d="M402.7,233.9Q407.3,239.7 411.5,245.6Q410.2,237.5 402.7,233.9Z" fill="#2e9a2e" opacity="0.4"/><path d="M118.2,136.8Q129.2,141.2 140.5,145.1Q130.3,138.2 118.2,136.8Z" fill="#34a834" opacity="0.4"/><path d="M136.9,418.5Q139.9,421.7 142.5,425.3Q142.1,420 136.9,418.5Z" fill="#2e9a2e" opacity="0.5"/><path d="M499.9,195.3Q500.2,208.1 507.4,218.7Q504,206.9 499.9,195.3Z" fill="#2e9a2e" opacity="0.4"/><path d="M279.6,186.6Q282.4,197.2 285.2,207.8Q285.1,196.5 279.6,186.6Z" fill="#34a834" opacity="0.4"/><path d="M135.7,101.8Q138.1,114 142.1,125.7Q141.8,113 135.7,101.8Z" fill="#34a834" opacity="0.6"/><path d="M288.8,269Q290.5,274.8 295.8,277.6Q293.6,272.3 288.8,269Z" fill="#3cb43c" opacity="0.4"/><path d="M164.1,313Q152.7,318 141.3,323Q153.9,320.7 164.1,313Z" fill="#2e9a2e" opacity="0.3"/><path d="M130.7,365.3Q131.4,375.1 130.9,384.9Q133.5,375 130.7,365.3Z" fill="#3cb43c" opacity="0.4"/><path d="M330.8,166.3Q338.5,170.5 347.2,171Q339.2,167.9 330.8,166.3Z" fill="#607a60" opacity="0.4"/><path d="M241,207Q237.3,213.1 234.6,219.8Q240.1,214.5 241,207Z" fill="#3cb43c" opacity="0.5"/><path d="M123.5,179.9Q121.4,183.8 118.7,187.3Q123.5,185.1 123.5,179.9Z" fill="#607a60" opacity="0.5"/><path d="M475,185.1Q474.7,190.7 478.7,194.5Q478.7,189.1 475,185.1Z" fill="#2e9a2e" opacity="0.5"/><path d="M297.6,348.5Q296.6,353.3 298,358.2Q299.2,353.3 297.6,348.5Z" fill="#34a834" opacity="0.4"/><path d="M186.2,227Q191.9,236 199.7,243.2Q193.6,234.6 186.2,227Z" fill="#34a834" opacity="0.5"/><path d="M280.4,85.1Q280.6,89.9 282.8,94.3Q282.8,89.4 280.4,85.1Z" fill="#34a834" opacity="0.4"/><path d="M198.9,258.6Q197.2,265.4 201.4,271Q199.8,264.9 198.9,258.6Z" fill="#2e9a2e" opacity="0.6"/><path d="M316.1,124.3Q312,126.9 308.1,129.8Q313.7,129.4 316.1,124.3Z" fill="#34a834" opacity="0.5"/><path d="M190,190Q192,196.8 198,200.7Q195,194.6 190,190Z" fill="#34a834" opacity="0.4"/><path d="M409.2,311.3Q415.5,318 424.6,319.6Q417.4,314.6 409.2,311.3Z" fill="#607a60" opacity="0.6"/><path d="M331.5,363.6Q323.3,366.5 319.6,374.4Q325.8,369.3 331.5,363.6Z" fill="#2e9a2e" opacity="0.6"/><path d="M409.4,120.2Q413.5,124.4 419.4,124.9Q414.9,121.4 409.4,120.2Z" fill="#3cb43c" opacity="0.3"/><path d="M206.1,225.1Q206.3,232.5 206.5,239.9Q208.1,232.4 206.1,225.1Z" fill="#2e9a2e" opacity="0.5"/><path d="M323.6,310.4Q326.4,318.7 328.3,327.2Q329.1,317.9 323.6,310.4Z" fill="#2e9a2e" opacity="0.3"/><path d="M266.3,269.5Q261,277.3 260.9,286.8Q262.5,277.8 266.3,269.5Z" fill="#607a60" opacity="0.6"/><path d="M227,135.6Q214.3,139.5 205.1,148.9Q216.2,142.5 227,135.6Z" fill="#2e9a2e" opacity="0.4"/><path d="M321.3,303.2Q322.7,311.1 327.7,317.5Q326.5,309.4 321.3,303.2Z" fill="#34a834" opacity="0.3"/><path d="M214.5,164Q208.6,172.8 205,182.7Q211.2,174 214.5,164Z" fill="#3cb43c" opacity="0.4"/><path d="M222.5,237.6Q214.4,244.6 211.1,254.9Q218,247 222.5,237.6Z" fill="#3cb43c" opacity="0.3"/><path d="M293.8,274.5Q285,275.9 276.4,278.5Q285.7,279.3 293.8,274.5Z" fill="#607a60" opacity="0.4"/><path d="M90.5,158Q99.8,164.7 111.2,165.8Q100.9,161.6 90.5,158Z" fill="#34a834" opacity="0.4"/><path d="M133.8,117.2Q144.5,120.1 155.5,118.3Q144.6,117.9 133.8,117.2Z" fill="#2e9a2e" opacity="0.6"/><path d="M144.5,211.2Q144.2,216 145.4,220.8Q145.9,215.9 144.5,211.2Z" fill="#3cb43c" opacity="0.3"/><path d="M98.9,414.2Q93.7,411.8 90,416.1Q94.4,415 98.9,414.2Z" fill="#3cb43c" opacity="0.6"/><path d="M131.4,422.1Q138.7,431.2 149.5,435.3Q140.4,428.8 131.4,422.1Z" fill="#34a834" opacity="0.3"/><path d="M322,190.7Q329.4,192.9 336.9,194.9Q329.9,191.2 322,190.7Z" fill="#34a834" opacity="0.4"/><path d="M244.8,405.3Q240.5,415.8 238.1,427Q243.1,416.6 244.8,405.3Z" fill="#34a834" opacity="0.5"/><path d="M253.4,253Q247.5,256.5 243.2,261.7Q249.6,258.8 253.4,253Z" fill="#3cb43c" opacity="0.5"/><path d="M186.2,86.8Q182.3,92.6 178.9,98.8Q185.6,94.6 186.2,86.8Z" fill="#607a60" opacity="0.5"/><path d="M56.5,341.9Q60.7,347 67.3,347.7Q62.2,344.2 56.5,341.9Z" fill="#607a60" opacity="0.3"/><path d="M56.4,265.4Q62.2,271 70,273Q64,267.7 56.4,265.4Z" fill="#607a60" opacity="0.4"/><path d="M210.4,339.4Q208.7,350.5 210.2,361.7Q212.2,350.6 210.4,339.4Z" fill="#2e9a2e" opacity="0.5"/><path d="M318.2,261.7Q306.6,265.2 298.4,274.3Q308.7,268.6 318.2,261.7Z" fill="#34a834" opacity="0.5"/><path d="M308.9,386.6Q306.5,391.3 305.7,396.5Q310.6,392.6 308.9,386.6Z" fill="#34a834" opacity="0.5"/><path d="M119.1,340.3Q117.8,351 119.8,361.6Q121.7,350.9 119.1,340.3Z" fill="#3cb43c" opacity="0.4"/><path d="M462.5,211.3Q455.3,219.6 450,229.3Q457.5,221.2 462.5,211.3Z" fill="#34a834" opacity="0.6"/><path d="M322.6,322Q330.4,323.6 338,325.8Q331,321.2 322.6,322Z" fill="#2e9a2e" opacity="0.6"/><path d="M481.1,123.7Q481.6,130.2 483.3,136.4Q483.7,129.8 481.1,123.7Z" fill="#34a834" opacity="0.5"/><path d="M293.3,126.8Q295.2,130.6 298,133.7Q298.2,128.6 293.3,126.8Z" fill="#2e9a2e" opacity="0.6"/><path d="M273.9,323Q268.3,327.6 267.6,334.7Q270.1,328.5 273.9,323Z" fill="#34a834" opacity="0.6"/><path d="M488.8,405.7Q483.4,408.4 484.1,414.3Q486.7,410.2 488.8,405.7Z" fill="#34a834" opacity="0.4"/><path d="M99.9,413.6Q89.4,414.2 79.1,415.5Q89.6,416.1 99.9,413.6Z" fill="#607a60" opacity="0.6"/><path d="M402.5,409.8Q396.5,418.6 396,429.3Q398.4,419.3 402.5,409.8Z" fill="#2e9a2e" opacity="0.4"/><path d="M156.6,411.3Q144,410 132.3,415.2Q144.6,414 156.6,411.3Z" fill="#607a60" opacity="0.5"/><path d="M87,332.7Q76.3,337.2 66.9,344.1Q77.6,339.5 87,332.7Z" fill="#34a834" opacity="0.5"/><path d="M74.7,282.2Q66.2,290.6 61.8,301.7Q69.1,292.5 74.7,282.2Z" fill="#2e9a2e" opacity="0.4"/><path d="M345.9,104.3Q335.8,107.3 325.9,110.8Q336.7,110.1 345.9,104.3Z" fill="#607a60" opacity="0.4"/><path d="M364.7,269.6Q367.4,274.2 372.3,272.3Q368.8,270.2 364.7,269.6Z" fill="#607a60" opacity="0.3"/><path d="M496.5,363.1Q492.6,367.4 493.6,373.1Q495.9,368.4 496.5,363.1Z" fill="#34a834" opacity="0.4"/><path d="M193.4,141.2Q202.9,143.7 212.3,146.3Q203.8,140.4 193.4,141.2Z" fill="#3cb43c" opacity="0.5"/><path d="M470.3,310.8Q467.1,321.6 462.9,332.1Q469.8,322.5 470.3,310.8Z" fill="#607a60" opacity="0.5"/><path d="M345.4,377.9Q342,384.4 340.4,391.5Q345.2,385.5 345.4,377.9Z" fill="#34a834" opacity="0.4"/><path d="M275,149.1Q284.1,153.1 293.7,151.1Q284.4,150.2 275,149.1Z" fill="#2e9a2e" opacity="0.4"/><path d="M58.1,193.1Q64.4,204.4 69.8,216.2Q66.6,203.3 58.1,193.1Z" fill="#607a60" opacity="0.6"/><path d="M316.7,337Q313.7,340.8 310,344Q315.6,342.6 316.7,337Z" fill="#607a60" opacity="0.5"/><path d="M366.1,279.3Q368.5,286.2 374.2,290.5Q370.7,284.6 366.1,279.3Z" fill="#3cb43c" opacity="0.4"/><path d="M444.5,291.3Q439.9,297 436.1,303.1Q442,298.5 444.5,291.3Z" fill="#607a60" opacity="0.5"/><path d="M405.7,322.1Q402.8,333.5 398.7,344.6Q404.5,334 405.7,322.1Z" fill="#607a60" opacity="0.5"/><path d="M437.7,421.3Q432.2,423.3 429.4,428.4Q434.4,425.8 437.7,421.3Z" fill="#34a834" opacity="0.3"/><path d="M496.5,256.6Q502.9,268.1 513.6,275.7Q505.8,265.5 496.5,256.6Z" fill="#607a60" opacity="0.3"/><path d="M96.6,139.7Q94,148 98.9,155.2Q98.1,147.4 96.6,139.7Z" fill="#2e9a2e" opacity="0.4"/><path d="M430.4,111.9Q427,115.8 428,120.9Q429.9,116.6 430.4,111.9Z" fill="#34a834" opacity="0.4"/><path d="M383.6,282.2Q378.2,283.2 374.8,287.6Q380.3,286.6 383.6,282.2Z" fill="#607a60" opacity="0.4"/><path d="M176.1,304.5Q184.3,304.5 192.5,304.7Q184.3,302 176.1,304.5Z" fill="#34a834" opacity="0.4"/><path d="M382.5,370.3Q389.4,376.2 398.5,377Q391,372.5 382.5,370.3Z" fill="#3cb43c" opacity="0.4"/><path d="M92.2,217.1Q100.1,227 111.9,231.9Q102.7,223.6 92.2,217.1Z" fill="#34a834" opacity="0.6"/><path d="M322.8,102.5Q324.9,107.7 330.5,106.8Q326.6,104.8 322.8,102.5Z" fill="#3cb43c" opacity="0.4"/><path d="M159.8,157.1Q163.1,160.1 167.5,160.9Q164.5,157.2 159.8,157.1Z" fill="#607a60" opacity="0.5"/><path d="M456.4,186.4Q462.2,191.9 469.5,195.2Q463.1,190.5 456.4,186.4Z" fill="#607a60" opacity="0.6"/><path d="M76,322.5Q83.8,329.1 91.2,336.1Q85.3,327.4 76,322.5Z" fill="#2e9a2e" opacity="0.6"/><path d="M472.4,398.7Q471,403 471.2,407.5Q474.9,403.5 472.4,398.7Z" fill="#3cb43c" opacity="0.4"/><path d="M365.6,81.9Q353.5,82.3 342.8,87.9Q354,84 365.6,81.9Z" fill="#3cb43c" opacity="0.4"/><path d="M443.7,158.6Q444.2,165.7 449.5,170.6Q446.8,164.5 443.7,158.6Z" fill="#2e9a2e" opacity="0.4"/><path d="M429.7,165Q432.4,175.8 437,186Q435.3,174.8 429.7,165Z" fill="#34a834" opacity="0.4"/><path d="M258.6,129.9Q258.6,142.7 259.8,155.4Q261.5,142.5 258.6,129.9Z" fill="#34a834" opacity="0.5"/><path d="M94,319.7Q93.8,324.4 96.4,328.3Q95.5,323.9 94,319.7Z" fill="#34a834" opacity="0.4"/><path d="M382.8,418.7Q385.5,422.5 389.5,424.9Q388.3,419.4 382.8,418.7Z" fill="#607a60" opacity="0.3"/><path d="M110.9,109.7Q101.3,112.6 95.5,120.7Q102.9,114.9 110.9,109.7Z" fill="#607a60" opacity="0.3"/><path d="M182.8,89.3Q190.2,99 199.7,106.8Q192.6,96.8 182.8,89.3Z" fill="#2e9a2e" opacity="0.4"/><path d="M291.9,298.6Q302,305 312.9,310.1Q304,301.5 291.9,298.6Z" fill="#607a60" opacity="0.4"/><path d="M387.2,367Q388.9,372.9 393.5,376.8Q392,370.8 387.2,367Z" fill="#607a60" opacity="0.6"/><path d="M185.6,229.3Q172.5,231.1 162.4,239.7Q174.1,234.8 185.6,229.3Z" fill="#2e9a2e" opacity="0.4"/><path d="M335.5,102.9Q327.4,112.7 322.2,124.2Q330.1,114.3 335.5,102.9Z" fill="#2e9a2e" opacity="0.4"/><path d="M507.6,341Q506.1,347 508.3,352.8Q510.1,346.8 507.6,341Z" fill="#34a834" opacity="0.4"/><path d="M78.2,352.4Q74,359.4 74.9,367.4Q77.4,360.1 78.2,352.4Z" fill="#2e9a2e" opacity="0.3"/><path d="M286,306Q289.6,310.6 295.3,309.3Q290.7,307.5 286,306Z" fill="#34a834" opacity="0.5"/><path d="M126.1,176.1Q117.9,180.4 109.9,185Q118.7,181.8 126.1,176.1Z" fill="#34a834" opacity="0.3"/><path d="M396.2,127.7Q401.3,130 406.8,130Q401.9,126.9 396.2,127.7Z" fill="#2e9a2e" opacity="0.6"/><path d="M147.6,151.5Q151.9,150.7 156.1,151.9Q152,148.7 147.6,151.5Z" fill="#607a60" opacity="0.5"/><path d="M165.9,292.4Q155,293.3 145.3,298.3Q156,296.8 165.9,292.4Z" fill="#3cb43c" opacity="0.4"/><path d="M143.4,336.7Q137.8,338.9 133.6,343.3Q138.9,340.6 143.4,336.7Z" fill="#3cb43c" opacity="0.3"/><path d="M417.9,93.8Q410.9,102.3 403.3,110.1Q412.6,103.8 417.9,93.8Z" fill="#2e9a2e" opacity="0.5"/><path d="M118,340.7Q120.3,348.3 127.5,351.7Q123.3,345.8 118,340.7Z" fill="#34a834" opacity="0.6"/><path d="M329.5,402.7Q324.7,410.8 322.5,419.9Q326.5,411.5 329.5,402.7Z" fill="#3cb43c" opacity="0.4"/><path d="M506.3,216Q516.8,221.6 526.9,227.9Q517.9,219.6 506.3,216Z" fill="#34a834" opacity="0.3"/><path d="M421.8,182.5Q410.4,184.5 400.4,190.2Q411.6,187.8 421.8,182.5Z" fill="#34a834" opacity="0.5"/><path d="M161.1,123.5Q162.9,135.3 165.6,147Q164.6,135 161.1,123.5Z" fill="#3cb43c" opacity="0.6"/><path d="M268.8,410.1Q265.3,419.7 261.8,429.3Q269,421 268.8,410.1Z" fill="#3cb43c" opacity="0.5"/><path d="M135,327.4Q132.3,337.2 129.7,347Q135.1,338 135,327.4Z" fill="#607a60" opacity="0.5"/><path d="M293.5,262Q295.2,266.9 299.8,269.5Q297.7,264.8 293.5,262Z" fill="#3cb43c" opacity="0.5"/><path d="M185.1,209.2Q187.4,219.5 189.6,229.9Q190,219 185.1,209.2Z" fill="#2e9a2e" opacity="0.5"/><path d="M290.5,197.5Q297,202.3 304.5,205Q297.8,200.8 290.5,197.5Z" fill="#34a834" opacity="0.5"/><path d="M335.1,350.3Q335.2,361.1 339.3,371.2Q338.6,360.5 335.1,350.3Z" fill="#3cb43c" opacity="0.3"/><path d="M362.1,323.1Q363.6,335.8 367.9,347.9Q367.2,335 362.1,323.1Z" fill="#607a60" opacity="0.5"/><path d="M189.5,90.4Q199,96.6 209.5,100.9Q200,94.8 189.5,90.4Z" fill="#2e9a2e" opacity="0.6"/><path d="M93.7,376.5Q106.4,378.8 119.2,377Q106.4,376.9 93.7,376.5Z" fill="#607a60" opacity="0.6"/><path d="M444.7,208.1Q451.6,216.7 458.5,225.4Q454.7,214.3 444.7,208.1Z" fill="#607a60" opacity="0.5"/><path d="M247.5,145.8Q237.3,143.2 227.3,146.6Q237.4,146.3 247.5,145.8Z" fill="#3cb43c" opacity="0.3"/><path d="M349.7,248.7Q353.1,253 356.5,257.3Q354.8,251.7 349.7,248.7Z" fill="#2e9a2e" opacity="0.4"/></g>
<g filter="url(#ab1)"><ellipse cx="53.6" cy="99.1" rx="3.3" ry="3.1" fill="#2cbc2c" opacity="0.5" transform="rotate(167 53.6 99.1)"/><ellipse cx="54.9" cy="93.9" rx="3.4" ry="2.2" fill="#2cbc2c" opacity="0.6" transform="rotate(222 54.9 93.9)"/><ellipse cx="78.7" cy="117.7" rx="4" ry="2.9" fill="#2cbc2c" opacity="0.6" transform="rotate(178 78.7 117.7)"/><ellipse cx="93.7" cy="117.4" rx="3.6" ry="2.1" fill="#2cbc2c" opacity="0.7" transform="rotate(359 93.7 117.4)"/><ellipse cx="112.4" cy="125" rx="3.5" ry="1.7" fill="#2cbc2c" opacity="0.7" transform="rotate(201 112.4 125)"/><ellipse cx="122.3" cy="127.9" rx="3.6" ry="2" fill="#2cbc2c" opacity="0.5" transform="rotate(5 122.3 127.9)"/><ellipse cx="154.6" cy="119.6" rx="2.6" ry="2.7" fill="#2cbc2c" opacity="0.5" transform="rotate(333 154.6 119.6)"/><ellipse cx="148.8" cy="100.6" rx="2.2" ry="3.9" fill="#2cbc2c" opacity="0.6" transform="rotate(19 148.8 100.6)"/><ellipse cx="148.2" cy="93.3" rx="2.9" ry="3.3" fill="#2cbc2c" opacity="0.5" transform="rotate(307 148.2 93.3)"/><ellipse cx="142.9" cy="103.4" rx="1.7" ry="3.8" fill="#2cbc2c" opacity="0.6" transform="rotate(134 142.9 103.4)"/><ellipse cx="159.3" cy="104.7" rx="2.6" ry="2.2" fill="#2cbc2c" opacity="0.5" transform="rotate(56 159.3 104.7)"/><ellipse cx="244.6" cy="99.1" rx="3" ry="2.7" fill="#2cbc2c" opacity="0.5" transform="rotate(86 244.6 99.1)"/><ellipse cx="242.3" cy="90.1" rx="3.5" ry="3.2" fill="#2cbc2c" opacity="0.6" transform="rotate(247 242.3 90.1)"/><ellipse cx="249.4" cy="95.1" rx="3" ry="1.9" fill="#2cbc2c" opacity="0.5" transform="rotate(358 249.4 95.1)"/><ellipse cx="243.9" cy="125.1" rx="2.2" ry="1.9" fill="#2cbc2c" opacity="0.5" transform="rotate(356 243.9 125.1)"/><ellipse cx="242.3" cy="121" rx="3.2" ry="2.4" fill="#2cbc2c" opacity="0.6" transform="rotate(321 242.3 121)"/><ellipse cx="240.8" cy="120.9" rx="2.5" ry="3.1" fill="#2cbc2c" opacity="0.5" transform="rotate(310 240.8 120.9)"/><ellipse cx="279.8" cy="94.7" rx="3.1" ry="1.8" fill="#2cbc2c" opacity="0.5" transform="rotate(282 279.8 94.7)"/><ellipse cx="275.6" cy="98.6" rx="2.7" ry="2.1" fill="#2cbc2c" opacity="0.7" transform="rotate(182 275.6 98.6)"/><ellipse cx="96.2" cy="153.9" rx="4.2" ry="2.5" fill="#2cbc2c" opacity="0.5" transform="rotate(331 96.2 153.9)"/><ellipse cx="94.8" cy="157" rx="3.5" ry="3.5" fill="#2cbc2c" opacity="0.5" transform="rotate(353 94.8 157)"/><ellipse cx="101.2" cy="152.3" rx="2" ry="1.7" fill="#2cbc2c" opacity="0.7" transform="rotate(114 101.2 152.3)"/><ellipse cx="106.6" cy="148.9" rx="2.3" ry="1.4" fill="#2cbc2c" opacity="0.7" transform="rotate(2 106.6 148.9)"/><ellipse cx="142.3" cy="168.1" rx="2.3" ry="2.1" fill="#2cbc2c" opacity="0.7" transform="rotate(317 142.3 168.1)"/><ellipse cx="135.7" cy="168.8" rx="2.4" ry="2.4" fill="#2cbc2c" opacity="0.6" transform="rotate(194 135.7 168.8)"/><ellipse cx="153.5" cy="166.9" rx="4.4" ry="2.7" fill="#2cbc2c" opacity="0.7" transform="rotate(91 153.5 166.9)"/><ellipse cx="157.2" cy="167.3" rx="2.5" ry="2.2" fill="#2cbc2c" opacity="0.5" transform="rotate(56 157.2 167.3)"/><ellipse cx="161.2" cy="163.2" rx="4.4" ry="2.5" fill="#2cbc2c" opacity="0.5" transform="rotate(8 161.2 163.2)"/><ellipse cx="194.6" cy="137.1" rx="2.7" ry="2.1" fill="#2cbc2c" opacity="0.6" transform="rotate(178 194.6 137.1)"/><ellipse cx="202.5" cy="137.6" rx="3.2" ry="2.1" fill="#2cbc2c" opacity="0.5" transform="rotate(7 202.5 137.6)"/><ellipse cx="194.9" cy="135.5" rx="2.7" ry="1.7" fill="#2cbc2c" opacity="0.7" transform="rotate(205 194.9 135.5)"/><ellipse cx="184.9" cy="151" rx="2.2" ry="2.9" fill="#2cbc2c" opacity="0.6" transform="rotate(188 184.9 151)"/><ellipse cx="186.8" cy="147.7" rx="2.8" ry="2.8" fill="#2cbc2c" opacity="0.7" transform="rotate(232 186.8 147.7)"/><ellipse cx="182.8" cy="182.7" rx="5.9" ry="3.1" fill="#2cbc2c" opacity="0.5" transform="rotate(298 182.8 182.7)"/><ellipse cx="231.9" cy="192.1" rx="2.9" ry="1.6" fill="#2cbc2c" opacity="0.6" transform="rotate(24 231.9 192.1)"/><ellipse cx="261.9" cy="197.6" rx="2.6" ry="2.7" fill="#2cbc2c" opacity="0.7" transform="rotate(154 261.9 197.6)"/><ellipse cx="263.8" cy="199.8" rx="2.9" ry="2.3" fill="#2cbc2c" opacity="0.6" transform="rotate(114 263.8 199.8)"/><ellipse cx="269.8" cy="141.2" rx="2.6" ry="2.4" fill="#2cbc2c" opacity="0.6" transform="rotate(276 269.8 141.2)"/><ellipse cx="271.5" cy="207" rx="2.7" ry="2" fill="#2cbc2c" opacity="0.5" transform="rotate(185 271.5 207)"/><ellipse cx="278.2" cy="202.8" rx="2.9" ry="2.9" fill="#2cbc2c" opacity="0.6" transform="rotate(289 278.2 202.8)"/><ellipse cx="59.3" cy="179.6" rx="3.8" ry="3.2" fill="#2cbc2c" opacity="0.7" transform="rotate(342 59.3 179.6)"/><ellipse cx="55.1" cy="183.9" rx="3.8" ry="1.7" fill="#2cbc2c" opacity="0.5" transform="rotate(100 55.1 183.9)"/><ellipse cx="61.2" cy="178.5" rx="3.6" ry="2.9" fill="#2cbc2c" opacity="0.5" transform="rotate(337 61.2 178.5)"/><ellipse cx="105.5" cy="193.6" rx="2.1" ry="1.9" fill="#2cbc2c" opacity="0.7" transform="rotate(325 105.5 193.6)"/><ellipse cx="97.9" cy="191.5" rx="2.5" ry="2.5" fill="#2cbc2c" opacity="0.7" transform="rotate(238 97.9 191.5)"/><ellipse cx="96.9" cy="193.7" rx="2.8" ry="2.1" fill="#2cbc2c" opacity="0.6" transform="rotate(216 96.9 193.7)"/><ellipse cx="157.9" cy="196.4" rx="1.8" ry="1.6" fill="#2cbc2c" opacity="0.6" transform="rotate(204 157.9 196.4)"/><ellipse cx="227.2" cy="210.1" rx="2.2" ry="2.4" fill="#2cbc2c" opacity="0.6" transform="rotate(312 227.2 210.1)"/><ellipse cx="225.4" cy="217.7" rx="2.3" ry="1.4" fill="#2cbc2c" opacity="0.6" transform="rotate(82 225.4 217.7)"/><ellipse cx="224.4" cy="216.8" rx="1.9" ry="1.3" fill="#2cbc2c" opacity="0.6" transform="rotate(96 224.4 216.8)"/><ellipse cx="255.2" cy="226.8" rx="1.7" ry="1.2" fill="#2cbc2c" opacity="0.6" transform="rotate(53 255.2 226.8)"/><ellipse cx="253" cy="220.7" rx="2.9" ry="1.9" fill="#2cbc2c" opacity="0.6" transform="rotate(265 253 220.7)"/><ellipse cx="204.9" cy="243.5" rx="3.5" ry="2.4" fill="#2cbc2c" opacity="0.5" transform="rotate(245 204.9 243.5)"/><ellipse cx="203.5" cy="250.9" rx="2.2" ry="1.6" fill="#2cbc2c" opacity="0.5" transform="rotate(155 203.5 250.9)"/><ellipse cx="173.5" cy="238.3" rx="3.4" ry="1.4" fill="#2cbc2c" opacity="0.6" transform="rotate(136 173.5 238.3)"/><ellipse cx="184.2" cy="238.6" rx="3.4" ry="2.1" fill="#2cbc2c" opacity="0.6" transform="rotate(33 184.2 238.6)"/><ellipse cx="147.3" cy="229.2" rx="3.7" ry="2.3" fill="#2cbc2c" opacity="0.7" transform="rotate(316 147.3 229.2)"/><ellipse cx="260.8" cy="178" rx="2.6" ry="2.5" fill="#2cbc2c" opacity="0.6" transform="rotate(60 260.8 178)"/><ellipse cx="252.1" cy="179.1" rx="3.7" ry="2.9" fill="#2cbc2c" opacity="0.5" transform="rotate(129 252.1 179.1)"/><ellipse cx="64.1" cy="139" rx="2.3" ry="3.3" fill="#2cbc2c" opacity="0.5" transform="rotate(303 64.1 139)"/><ellipse cx="57.4" cy="140.9" rx="3.9" ry="2.9" fill="#2cbc2c" opacity="0.5" transform="rotate(222 57.4 140.9)"/><ellipse cx="58.4" cy="153.2" rx="2.7" ry="2.5" fill="#2cbc2c" opacity="0.6" transform="rotate(111 58.4 153.2)"/><ellipse cx="231.7" cy="234.4" rx="4.6" ry="2.3" fill="#2cbc2c" opacity="0.7" transform="rotate(236 231.7 234.4)"/><ellipse cx="239.7" cy="234.6" rx="4.6" ry="2.3" fill="#2cbc2c" opacity="0.6" transform="rotate(296 239.7 234.6)"/><ellipse cx="232.7" cy="241.9" rx="3.5" ry="2.4" fill="#2cbc2c" opacity="0.6" transform="rotate(135 232.7 241.9)"/><ellipse cx="72" cy="88.9" rx="2.9" ry="1.8" fill="#2cbc2c" opacity="0.7" transform="rotate(188 72 88.9)"/><ellipse cx="83.8" cy="91.7" rx="3.7" ry="2.1" fill="#2cbc2c" opacity="0.7" transform="rotate(28 83.8 91.7)"/><ellipse cx="73.1" cy="89.7" rx="3.4" ry="1.6" fill="#2cbc2c" opacity="0.7" transform="rotate(182 73.1 89.7)"/><ellipse cx="70.5" cy="90.9" rx="3.3" ry="1.8" fill="#2cbc2c" opacity="0.7" transform="rotate(69 70.5 90.9)"/><ellipse cx="66.8" cy="82.3" rx="3.7" ry="1.5" fill="#2cbc2c" opacity="0.6" transform="rotate(256 66.8 82.3)"/><ellipse cx="104.5" cy="95.8" rx="2.2" ry="1.4" fill="#2cbc2c" opacity="0.6" transform="rotate(263 104.5 95.8)"/><ellipse cx="289.3" cy="95.1" rx="1.8" ry="3.1" fill="#2cbc2c" opacity="0.7" transform="rotate(359 289.3 95.1)"/><ellipse cx="281.6" cy="98.8" rx="2.2" ry="2.6" fill="#2cbc2c" opacity="0.7" transform="rotate(140 281.6 98.8)"/><ellipse cx="311.5" cy="93.7" rx="2.1" ry="1.7" fill="#2cbc2c" opacity="0.7" transform="rotate(141 311.5 93.7)"/><ellipse cx="317.9" cy="88" rx="3.9" ry="2.5" fill="#2cbc2c" opacity="0.7" transform="rotate(316 317.9 88)"/><ellipse cx="418.6" cy="90.9" rx="4.9" ry="1.5" fill="#2cbc2c" opacity="0.7" transform="rotate(208 418.6 90.9)"/><ellipse cx="434.1" cy="113.7" rx="6" ry="6.9" fill="#2cbc2c" opacity="0.6" transform="rotate(235 434.1 113.7)"/><ellipse cx="446.4" cy="127.9" rx="6.9" ry="5.6" fill="#2cbc2c" opacity="0.6" transform="rotate(19 446.4 127.9)"/><ellipse cx="476.3" cy="112.3" rx="3.8" ry="2.8" fill="#2cbc2c" opacity="0.6" transform="rotate(119 476.3 112.3)"/><ellipse cx="479.7" cy="102.7" rx="4.2" ry="1.9" fill="#2cbc2c" opacity="0.7" transform="rotate(271 479.7 102.7)"/><ellipse cx="478.1" cy="104.1" rx="2.7" ry="2.6" fill="#2cbc2c" opacity="0.6" transform="rotate(252 478.1 104.1)"/><ellipse cx="366.9" cy="139.5" rx="5.4" ry="2.8" fill="#2cbc2c" opacity="0.5" transform="rotate(16 366.9 139.5)"/><ellipse cx="362.9" cy="133.3" rx="5.7" ry="3.3" fill="#2cbc2c" opacity="0.7" transform="rotate(322 362.9 133.3)"/><ellipse cx="362.6" cy="130.1" rx="4.2" ry="4.3" fill="#2cbc2c" opacity="0.6" transform="rotate(303 362.6 130.1)"/><ellipse cx="381.7" cy="137.7" rx="2.6" ry="1.6" fill="#2cbc2c" opacity="0.5" transform="rotate(65 381.7 137.7)"/><ellipse cx="457.7" cy="142.8" rx="3.8" ry="1.7" fill="#2cbc2c" opacity="0.5" transform="rotate(313 457.7 142.8)"/><ellipse cx="492.2" cy="150.6" rx="5.1" ry="5" fill="#2cbc2c" opacity="0.6" transform="rotate(342 492.2 150.6)"/><ellipse cx="473.4" cy="155.1" rx="6.1" ry="3.4" fill="#2cbc2c" opacity="0.5" transform="rotate(167 473.4 155.1)"/><ellipse cx="482.8" cy="143" rx="5.6" ry="2.9" fill="#2cbc2c" opacity="0.7" transform="rotate(263 482.8 143)"/><ellipse cx="375.4" cy="159.2" rx="3" ry="3.5" fill="#2cbc2c" opacity="0.7" transform="rotate(12 375.4 159.2)"/><ellipse cx="351.7" cy="177.1" rx="2.6" ry="2.8" fill="#2cbc2c" opacity="0.7" transform="rotate(263 351.7 177.1)"/><ellipse cx="348.7" cy="177.9" rx="2.7" ry="3.7" fill="#2cbc2c" opacity="0.7" transform="rotate(226 348.7 177.9)"/><ellipse cx="350.7" cy="176.8" rx="4.4" ry="2" fill="#2cbc2c" opacity="0.5" transform="rotate(252 350.7 176.8)"/><ellipse cx="381" cy="187.7" rx="3.5" ry="2.5" fill="#2cbc2c" opacity="0.5" transform="rotate(352 381 187.7)"/><ellipse cx="370.9" cy="190.3" rx="2.9" ry="1.9" fill="#2cbc2c" opacity="0.5" transform="rotate(157 370.9 190.3)"/><ellipse cx="388.3" cy="185.9" rx="4.4" ry="2" fill="#2cbc2c" opacity="0.7" transform="rotate(203 388.3 185.9)"/><ellipse cx="412.7" cy="185.9" rx="2.2" ry="1.7" fill="#2cbc2c" opacity="0.6" transform="rotate(180 412.7 185.9)"/><ellipse cx="419" cy="182" rx="2.9" ry="1.5" fill="#2cbc2c" opacity="0.7" transform="rotate(283 419 182)"/><ellipse cx="420.3" cy="158.7" rx="2.2" ry="2.3" fill="#2cbc2c" opacity="0.6" transform="rotate(277 420.3 158.7)"/><ellipse cx="423.6" cy="160.6" rx="1.8" ry="2.4" fill="#2cbc2c" opacity="0.7" transform="rotate(339 423.6 160.6)"/><ellipse cx="512.3" cy="163.3" rx="4.8" ry="2.1" fill="#2cbc2c" opacity="0.5" transform="rotate(306 512.3 163.3)"/><ellipse cx="508.2" cy="217.4" rx="6.8" ry="3" fill="#2cbc2c" opacity="0.7" transform="rotate(333 508.2 217.4)"/><ellipse cx="506.3" cy="216.4" rx="1.9" ry="2.2" fill="#2cbc2c" opacity="0.5" transform="rotate(101 506.3 216.4)"/><ellipse cx="510.7" cy="213" rx="1.6" ry="1.2" fill="#2cbc2c" opacity="0.6" transform="rotate(5 510.7 213)"/><ellipse cx="503.8" cy="210.2" rx="1.6" ry="1.9" fill="#2cbc2c" opacity="0.6" transform="rotate(217 503.8 210.2)"/><ellipse cx="304.4" cy="196.9" rx="3.1" ry="2" fill="#2cbc2c" opacity="0.6" transform="rotate(46 304.4 196.9)"/><ellipse cx="307.7" cy="192.6" rx="2.4" ry="2.3" fill="#2cbc2c" opacity="0.6" transform="rotate(356 307.7 192.6)"/><ellipse cx="300.6" cy="202.3" rx="2.1" ry="2" fill="#2cbc2c" opacity="0.6" transform="rotate(338 300.6 202.3)"/><ellipse cx="420.8" cy="204.9" rx="1.9" ry="2" fill="#2cbc2c" opacity="0.5" transform="rotate(285 420.8 204.9)"/><ellipse cx="421.1" cy="210.7" rx="2.5" ry="1.7" fill="#2cbc2c" opacity="0.7" transform="rotate(63 421.1 210.7)"/><ellipse cx="468.9" cy="227.2" rx="3" ry="1.5" fill="#2cbc2c" opacity="0.6" transform="rotate(177 468.9 227.2)"/><ellipse cx="470.6" cy="230.7" rx="2.1" ry="1.6" fill="#2cbc2c" opacity="0.6" transform="rotate(116 470.6 230.7)"/><ellipse cx="473.6" cy="231.8" rx="2.9" ry="1.6" fill="#2cbc2c" opacity="0.5" transform="rotate(76 473.6 231.8)"/><ellipse cx="467.7" cy="220.7" rx="2" ry="2" fill="#2cbc2c" opacity="0.5" transform="rotate(8 467.7 220.7)"/><ellipse cx="464.9" cy="221.2" rx="2.7" ry="2.3" fill="#2cbc2c" opacity="0.7" transform="rotate(28 464.9 221.2)"/><ellipse cx="477.8" cy="208.1" rx="1.4" ry="2.1" fill="#2cbc2c" opacity="0.5" transform="rotate(128 477.8 208.1)"/><ellipse cx="475.4" cy="205" rx="2" ry="3.2" fill="#2cbc2c" opacity="0.6" transform="rotate(171 475.4 205)"/><ellipse cx="476.4" cy="208.3" rx="2" ry="2.8" fill="#2cbc2c" opacity="0.5" transform="rotate(143 476.4 208.3)"/><ellipse cx="299.3" cy="140.4" rx="1.8" ry="2.6" fill="#2cbc2c" opacity="0.6" transform="rotate(37 299.3 140.4)"/><ellipse cx="365.7" cy="237.4" rx="2.3" ry="3.1" fill="#2cbc2c" opacity="0.5" transform="rotate(53 365.7 237.4)"/><ellipse cx="358.3" cy="233.1" rx="1.6" ry="2.6" fill="#2cbc2c" opacity="0.5" transform="rotate(172 358.3 233.1)"/><ellipse cx="369.3" cy="239.1" rx="2.6" ry="1.2" fill="#2cbc2c" opacity="0.6" transform="rotate(223 369.3 239.1)"/><ellipse cx="374.8" cy="242.4" rx="2.6" ry="1.8" fill="#2cbc2c" opacity="0.5" transform="rotate(25 374.8 242.4)"/><ellipse cx="368.4" cy="239.5" rx="3" ry="1.3" fill="#2cbc2c" opacity="0.7" transform="rotate(210 368.4 239.5)"/><ellipse cx="436.2" cy="241.4" rx="2.9" ry="1.2" fill="#2cbc2c" opacity="0.6" transform="rotate(51 436.2 241.4)"/><ellipse cx="429.9" cy="240.5" rx="2.9" ry="2" fill="#2cbc2c" opacity="0.5" transform="rotate(155 429.9 240.5)"/><ellipse cx="358.4" cy="251" rx="1.5" ry="1.3" fill="#2cbc2c" opacity="0.5" transform="rotate(67 358.4 251)"/><ellipse cx="358.1" cy="252" rx="1.2" ry="0.8" fill="#2cbc2c" opacity="0.7" transform="rotate(78 358.1 252)"/><ellipse cx="359.8" cy="246.8" rx="1.9" ry="1" fill="#2cbc2c" opacity="0.5" transform="rotate(312 359.8 246.8)"/><ellipse cx="326.4" cy="85.5" rx="1.9" ry="2.3" fill="#2cbc2c" opacity="0.6" transform="rotate(202 326.4 85.5)"/><ellipse cx="326.9" cy="87.3" rx="1.9" ry="1.8" fill="#2cbc2c" opacity="0.6" transform="rotate(174 326.9 87.3)"/><ellipse cx="332" cy="89.6" rx="2.2" ry="1.8" fill="#2cbc2c" opacity="0.6" transform="rotate(52 332 89.6)"/><ellipse cx="362.8" cy="96.1" rx="1.6" ry="1.7" fill="#2cbc2c" opacity="0.5" transform="rotate(137 362.8 96.1)"/><ellipse cx="368.1" cy="93.5" rx="1.9" ry="2" fill="#2cbc2c" opacity="0.7" transform="rotate(6 368.1 93.5)"/><ellipse cx="53.6" cy="262" rx="2.7" ry="2.8" fill="#2cbc2c" opacity="0.7" transform="rotate(179 53.6 262)"/><ellipse cx="62.3" cy="302.9" rx="3.6" ry="2.9" fill="#2cbc2c" opacity="0.6" transform="rotate(50 62.3 302.9)"/><ellipse cx="59.1" cy="303.2" rx="3" ry="2.9" fill="#2cbc2c" opacity="0.5" transform="rotate(105 59.1 303.2)"/><ellipse cx="85" cy="296.7" rx="5.9" ry="2.8" fill="#2cbc2c" opacity="0.7" transform="rotate(327 85 296.7)"/><ellipse cx="84.5" cy="297.3" rx="5.8" ry="2.5" fill="#2cbc2c" opacity="0.6" transform="rotate(330 84.5 297.3)"/><ellipse cx="83.2" cy="298.4" rx="4.2" ry="2.4" fill="#2cbc2c" opacity="0.5" transform="rotate(338 83.2 298.4)"/><ellipse cx="95.8" cy="303.8" rx="4" ry="3.1" fill="#2cbc2c" opacity="0.7" transform="rotate(131 95.8 303.8)"/><ellipse cx="91.9" cy="297.6" rx="4" ry="5" fill="#2cbc2c" opacity="0.6" transform="rotate(179 91.9 297.6)"/><ellipse cx="97.2" cy="305.2" rx="4.3" ry="4.8" fill="#2cbc2c" opacity="0.5" transform="rotate(118 97.2 305.2)"/><ellipse cx="101.9" cy="296.1" rx="5.1" ry="3.7" fill="#2cbc2c" opacity="0.7" transform="rotate(182 101.9 296.1)"/><ellipse cx="107.3" cy="287.5" rx="5.5" ry="2.8" fill="#2cbc2c" opacity="0.5" transform="rotate(240 107.3 287.5)"/><ellipse cx="112.7" cy="307.1" rx="5.3" ry="3.2" fill="#2cbc2c" opacity="0.6" transform="rotate(83 112.7 307.1)"/><ellipse cx="179.5" cy="309.3" rx="6.6" ry="5.4" fill="#2cbc2c" opacity="0.5" transform="rotate(260 179.5 309.3)"/><ellipse cx="197.2" cy="318.2" rx="4.4" ry="3.1" fill="#2cbc2c" opacity="0.5" transform="rotate(104 197.2 318.2)"/><ellipse cx="193.7" cy="327.1" rx="2.2" ry="2.6" fill="#2cbc2c" opacity="0.7" transform="rotate(284 193.7 327.1)"/><ellipse cx="96.8" cy="353.7" rx="2.2" ry="1.9" fill="#2cbc2c" opacity="0.5" transform="rotate(261 96.8 353.7)"/><ellipse cx="93.4" cy="356.1" rx="2.3" ry="1.7" fill="#2cbc2c" opacity="0.7" transform="rotate(205 93.4 356.1)"/><ellipse cx="99" cy="354.6" rx="3" ry="3.2" fill="#2cbc2c" opacity="0.6" transform="rotate(293 99 354.6)"/><ellipse cx="149.9" cy="380.5" rx="3.5" ry="2.8" fill="#2cbc2c" opacity="0.6" transform="rotate(237 149.9 380.5)"/><ellipse cx="154.5" cy="380.9" rx="3.8" ry="2.7" fill="#2cbc2c" opacity="0.6" transform="rotate(316 154.5 380.9)"/><ellipse cx="153.8" cy="376.4" rx="3.7" ry="2.8" fill="#2cbc2c" opacity="0.7" transform="rotate(286 153.8 376.4)"/><ellipse cx="229.2" cy="375" rx="4.1" ry="1.9" fill="#2cbc2c" opacity="0.5" transform="rotate(284 229.2 375)"/><ellipse cx="221.4" cy="416.8" rx="3.8" ry="1.7" fill="#2cbc2c" opacity="0.5" transform="rotate(115 221.4 416.8)"/><ellipse cx="228.9" cy="409" rx="3.2" ry="1.6" fill="#2cbc2c" opacity="0.5" transform="rotate(333 228.9 409)"/><ellipse cx="226.4" cy="406.3" rx="4" ry="2.4" fill="#2cbc2c" opacity="0.7" transform="rotate(295 226.4 406.3)"/><ellipse cx="281.3" cy="390.5" rx="4" ry="9.2" fill="#2cbc2c" opacity="0.7" transform="rotate(304 281.3 390.5)"/><ellipse cx="262.7" cy="275.8" rx="4" ry="3.9" fill="#2cbc2c" opacity="0.5" transform="rotate(82 262.7 275.8)"/><ellipse cx="235.8" cy="310.1" rx="2.4" ry="1.6" fill="#2cbc2c" opacity="0.5" transform="rotate(232 235.8 310.1)"/><ellipse cx="235.3" cy="314" rx="2.6" ry="2.8" fill="#2cbc2c" opacity="0.7" transform="rotate(170 235.3 314)"/><ellipse cx="251.6" cy="326.9" rx="1.6" ry="1.5" fill="#2cbc2c" opacity="0.6" transform="rotate(46 251.6 326.9)"/><ellipse cx="244.6" cy="322.8" rx="2.9" ry="1.6" fill="#2cbc2c" opacity="0.6" transform="rotate(196 244.6 322.8)"/><ellipse cx="80.4" cy="331.8" rx="3.6" ry="1.2" fill="#2cbc2c" opacity="0.6" transform="rotate(86 80.4 331.8)"/><ellipse cx="164.2" cy="280.8" rx="3.6" ry="1.8" fill="#2cbc2c" opacity="0.6" transform="rotate(301 164.2 280.8)"/><ellipse cx="161.4" cy="287.6" rx="3.4" ry="1.3" fill="#2cbc2c" opacity="0.6" transform="rotate(91 161.4 287.6)"/><ellipse cx="173.1" cy="268" rx="2.1" ry="1.6" fill="#2cbc2c" opacity="0.6" transform="rotate(39 173.1 268)"/><ellipse cx="171.8" cy="271.3" rx="3.4" ry="2.1" fill="#2cbc2c" opacity="0.5" transform="rotate(78 171.8 271.3)"/><ellipse cx="195.6" cy="264.9" rx="2" ry="2.4" fill="#2cbc2c" opacity="0.7" transform="rotate(47 195.6 264.9)"/><ellipse cx="212.2" cy="413.5" rx="2" ry="1.7" fill="#2cbc2c" opacity="0.5" transform="rotate(6 212.2 413.5)"/><ellipse cx="200.6" cy="396.4" rx="2.4" ry="1.7" fill="#2cbc2c" opacity="0.5" transform="rotate(220 200.6 396.4)"/><ellipse cx="199.8" cy="395.9" rx="2" ry="1.6" fill="#2cbc2c" opacity="0.7" transform="rotate(218 199.8 395.9)"/><ellipse cx="77.1" cy="395.2" rx="2.6" ry="1.6" fill="#2cbc2c" opacity="0.7" transform="rotate(358 77.1 395.2)"/><ellipse cx="157.1" cy="402.9" rx="2.1" ry="2.5" fill="#2cbc2c" opacity="0.6" transform="rotate(228 157.1 402.9)"/><ellipse cx="164.5" cy="400.5" rx="3.6" ry="2" fill="#2cbc2c" opacity="0.7" transform="rotate(310 164.5 400.5)"/><ellipse cx="157.3" cy="403.8" rx="2.4" ry="3.1" fill="#2cbc2c" opacity="0.7" transform="rotate(220 157.3 403.8)"/><ellipse cx="134.9" cy="422.8" rx="4" ry="2" fill="#2cbc2c" opacity="0.5" transform="rotate(107 134.9 422.8)"/><ellipse cx="136.6" cy="414.7" rx="2.2" ry="2.3" fill="#2cbc2c" opacity="0.7" transform="rotate(268 136.6 414.7)"/><ellipse cx="142.4" cy="418.7" rx="2.5" ry="2.3" fill="#2cbc2c" opacity="0.7" transform="rotate(0 142.4 418.7)"/><ellipse cx="191.7" cy="405.4" rx="1.5" ry="2.4" fill="#2cbc2c" opacity="0.7" transform="rotate(16 191.7 405.4)"/><ellipse cx="185.7" cy="404.6" rx="1.9" ry="2.1" fill="#2cbc2c" opacity="0.5" transform="rotate(172 185.7 404.6)"/><ellipse cx="191.4" cy="406.4" rx="2.4" ry="1.4" fill="#2cbc2c" opacity="0.6" transform="rotate(34 191.4 406.4)"/><ellipse cx="291.1" cy="343.6" rx="5" ry="6.7" fill="#2cbc2c" opacity="0.7" transform="rotate(121 291.1 343.6)"/><ellipse cx="286" cy="328.6" rx="4.4" ry="7.2" fill="#2cbc2c" opacity="0.6" transform="rotate(191 286 328.6)"/><ellipse cx="291" cy="326.7" rx="5.2" ry="6" fill="#2cbc2c" opacity="0.7" transform="rotate(211 291 326.7)"/><ellipse cx="289.5" cy="325.4" rx="3.1" ry="2.2" fill="#2cbc2c" opacity="0.5" transform="rotate(284 289.5 325.4)"/><ellipse cx="290.5" cy="325.5" rx="3.9" ry="1.7" fill="#2cbc2c" opacity="0.6" transform="rotate(293 290.5 325.5)"/><ellipse cx="335.8" cy="337.4" rx="3.3" ry="2.6" fill="#2cbc2c" opacity="0.5" transform="rotate(112 335.8 337.4)"/><ellipse cx="339.1" cy="326.2" rx="5.9" ry="3.6" fill="#2cbc2c" opacity="0.5" transform="rotate(277 339.1 326.2)"/><ellipse cx="331.5" cy="335.3" rx="5.3" ry="2.6" fill="#2cbc2c" opacity="0.5" transform="rotate(157 331.5 335.3)"/><ellipse cx="323.1" cy="357.2" rx="4.5" ry="2.4" fill="#2cbc2c" opacity="0.7" transform="rotate(69 323.1 357.2)"/><ellipse cx="332.2" cy="352.3" rx="6.5" ry="3.2" fill="#2cbc2c" opacity="0.7" transform="rotate(356 332.2 352.3)"/><ellipse cx="398.5" cy="357.5" rx="3.2" ry="4.9" fill="#2cbc2c" opacity="0.7" transform="rotate(347 398.5 357.5)"/><ellipse cx="393" cy="364.7" rx="5.7" ry="2.9" fill="#2cbc2c" opacity="0.5" transform="rotate(51 393 364.7)"/><ellipse cx="386.4" cy="364.6" rx="3.4" ry="5.4" fill="#2cbc2c" opacity="0.6" transform="rotate(128 386.4 364.6)"/><ellipse cx="431.3" cy="356.2" rx="3.7" ry="3.3" fill="#2cbc2c" opacity="0.6" transform="rotate(247 431.3 356.2)"/><ellipse cx="463.8" cy="336.8" rx="4.5" ry="2.6" fill="#2cbc2c" opacity="0.5" transform="rotate(19 463.8 336.8)"/><ellipse cx="454" cy="337.3" rx="4.4" ry="2.2" fill="#2cbc2c" opacity="0.6" transform="rotate(155 454 337.3)"/><ellipse cx="457.7" cy="329.4" rx="4.3" ry="2.7" fill="#2cbc2c" opacity="0.6" transform="rotate(257 457.7 329.4)"/><ellipse cx="450.5" cy="339.6" rx="2.8" ry="2.8" fill="#2cbc2c" opacity="0.6" transform="rotate(83 450.5 339.6)"/><ellipse cx="447.9" cy="372" rx="5.1" ry="2.4" fill="#2cbc2c" opacity="0.6" transform="rotate(194 447.9 372)"/><ellipse cx="461.6" cy="378.5" rx="4.3" ry="3.2" fill="#2cbc2c" opacity="0.7" transform="rotate(83 461.6 378.5)"/><ellipse cx="462.6" cy="366" rx="4.6" ry="2.5" fill="#2cbc2c" opacity="0.6" transform="rotate(212 462.6 366)"/><ellipse cx="478.3" cy="369.1" rx="4.1" ry="3.3" fill="#2cbc2c" opacity="0.6" transform="rotate(350 478.3 369.1)"/><ellipse cx="405.3" cy="397.7" rx="4.8" ry="4.7" fill="#2cbc2c" opacity="0.6" transform="rotate(345 405.3 397.7)"/><ellipse cx="381.6" cy="407.1" rx="2.4" ry="1.8" fill="#2cbc2c" opacity="0.6" transform="rotate(327 381.6 407.1)"/><ellipse cx="383.2" cy="406.2" rx="3.6" ry="1.9" fill="#2cbc2c" opacity="0.6" transform="rotate(328 383.2 406.2)"/><ellipse cx="389.9" cy="422.1" rx="3" ry="1.2" fill="#2cbc2c" opacity="0.7" transform="rotate(85 389.9 422.1)"/><ellipse cx="393.5" cy="419.4" rx="2.9" ry="1.9" fill="#2cbc2c" opacity="0.7" transform="rotate(12 393.5 419.4)"/><ellipse cx="492.2" cy="283.9" rx="2.7" ry="1.8" fill="#2cbc2c" opacity="0.7" transform="rotate(44 492.2 283.9)"/><ellipse cx="494.1" cy="277.7" rx="2.7" ry="2.1" fill="#2cbc2c" opacity="0.7" transform="rotate(329 494.1 277.7)"/><ellipse cx="481.3" cy="280.7" rx="3.2" ry="1.7" fill="#2cbc2c" opacity="0.6" transform="rotate(178 481.3 280.7)"/><ellipse cx="442.1" cy="292.2" rx="3.6" ry="3.3" fill="#2cbc2c" opacity="0.6" transform="rotate(14 442.1 292.2)"/><ellipse cx="441.8" cy="292.2" rx="2.2" ry="2.8" fill="#2cbc2c" opacity="0.5" transform="rotate(15 441.8 292.2)"/><ellipse cx="440" cy="290.6" rx="3.3" ry="3.2" fill="#2cbc2c" opacity="0.6" transform="rotate(2 440 290.6)"/><ellipse cx="429.4" cy="267.5" rx="1.4" ry="5.9" fill="#2cbc2c" opacity="0.7" transform="rotate(316 429.4 267.5)"/><ellipse cx="401.9" cy="290.1" rx="2.2" ry="4.6" fill="#2cbc2c" opacity="0.7" transform="rotate(304 401.9 290.1)"/><ellipse cx="404.1" cy="294" rx="2.2" ry="4.1" fill="#2cbc2c" opacity="0.6" transform="rotate(349 404.1 294)"/><ellipse cx="396.4" cy="291.1" rx="2" ry="2.5" fill="#2cbc2c" opacity="0.6" transform="rotate(206 396.4 291.1)"/><ellipse cx="364.6" cy="295.6" rx="2.9" ry="2.1" fill="#2cbc2c" opacity="0.5" transform="rotate(255 364.6 295.6)"/><ellipse cx="364.1" cy="294.5" rx="1.5" ry="2.3" fill="#2cbc2c" opacity="0.6" transform="rotate(252 364.1 294.5)"/><ellipse cx="367" cy="297.3" rx="2" ry="1.6" fill="#2cbc2c" opacity="0.5" transform="rotate(305 367 297.3)"/><ellipse cx="504.4" cy="358.9" rx="1.6" ry="2" fill="#2cbc2c" opacity="0.7" transform="rotate(45 504.4 358.9)"/><ellipse cx="503.5" cy="352.3" rx="2.6" ry="1.7" fill="#2cbc2c" opacity="0.5" transform="rotate(310 503.5 352.3)"/><ellipse cx="497.2" cy="354.5" rx="2.7" ry="2.2" fill="#2cbc2c" opacity="0.7" transform="rotate(193 497.2 354.5)"/><ellipse cx="511" cy="388.4" rx="2.3" ry="1.6" fill="#2cbc2c" opacity="0.7" transform="rotate(307 511 388.4)"/><ellipse cx="289.8" cy="412.6" rx="2.6" ry="1.4" fill="#2cbc2c" opacity="0.5" transform="rotate(68 289.8 412.6)"/><ellipse cx="295" cy="388" rx="4.4" ry="3.2" fill="#2cbc2c" opacity="0.6" transform="rotate(134 295 388)"/><ellipse cx="299.4" cy="380.4" rx="4.3" ry="2.5" fill="#2cbc2c" opacity="0.6" transform="rotate(232 299.4 380.4)"/><ellipse cx="309.7" cy="386.1" rx="5.4" ry="3.1" fill="#2cbc2c" opacity="0.5" transform="rotate(32 309.7 386.1)"/><ellipse cx="321.9" cy="393.2" rx="4.7" ry="2" fill="#2cbc2c" opacity="0.7" transform="rotate(328 321.9 393.2)"/><ellipse cx="323.7" cy="393.7" rx="4" ry="2.8" fill="#2cbc2c" opacity="0.5" transform="rotate(341 323.7 393.7)"/><ellipse cx="321.8" cy="389.9" rx="4.5" ry="2.1" fill="#2cbc2c" opacity="0.5" transform="rotate(302 321.8 389.9)"/><ellipse cx="468.8" cy="395.9" rx="2" ry="1.8" fill="#2cbc2c" opacity="0.5" transform="rotate(10 468.8 395.9)"/><ellipse cx="463" cy="264.9" rx="3.7" ry="2.1" fill="#2cbc2c" opacity="0.6" transform="rotate(304 463 264.9)"/><ellipse cx="458.2" cy="264.6" rx="3.2" ry="1.8" fill="#2cbc2c" opacity="0.6" transform="rotate(275 458.2 264.6)"/><ellipse cx="449.4" cy="270" rx="5.1" ry="1.7" fill="#2cbc2c" opacity="0.6" transform="rotate(165 449.4 270)"/><ellipse cx="282.9" cy="271.7" rx="2.3" ry="1.5" fill="#2cbc2c" opacity="0.7" transform="rotate(245 282.9 271.7)"/><ellipse cx="435.3" cy="413.7" rx="2.9" ry="3" fill="#2cbc2c" opacity="0.5" transform="rotate(217 435.3 413.7)"/><ellipse cx="434.7" cy="420.7" rx="3.1" ry="3" fill="#2cbc2c" opacity="0.7" transform="rotate(140 434.7 420.7)"/><ellipse cx="370.9" cy="256.5" rx="1.8" ry="1.5" fill="#2cbc2c" opacity="0.6" transform="rotate(302 370.9 256.5)"/><ellipse cx="372" cy="257.6" rx="1.5" ry="1.6" fill="#2cbc2c" opacity="0.7" transform="rotate(322 372 257.6)"/><ellipse cx="368" cy="262.7" rx="2.8" ry="1.2" fill="#2cbc2c" opacity="0.5" transform="rotate(93 368 262.7)"/><ellipse cx="483.5" cy="260.4" rx="3.3" ry="1.4" fill="#2cbc2c" opacity="0.6" transform="rotate(45 483.5 260.4)"/><ellipse cx="468" cy="258.9" rx="4.6" ry="1.2" fill="#2cbc2c" opacity="0.5" transform="rotate(172 468 258.9)"/><ellipse cx="51.8" cy="414.8" rx="2.8" ry="3.1" fill="#2cbc2c" opacity="0.6" transform="rotate(230 51.8 414.8)"/><ellipse cx="55" cy="423.2" rx="1.8" ry="2.5" fill="#2cbc2c" opacity="0.7" transform="rotate(90 55 423.2)"/><ellipse cx="58.2" cy="424.4" rx="2.3" ry="2.6" fill="#2cbc2c" opacity="0.6" transform="rotate(45 58.2 424.4)"/><ellipse cx="67.3" cy="419.9" rx="2.6" ry="1.4" fill="#2cbc2c" opacity="0.6" transform="rotate(182 67.3 419.9)"/><ellipse cx="67.2" cy="418.4" rx="2.8" ry="1.9" fill="#2cbc2c" opacity="0.7" transform="rotate(210 67.2 418.4)"/><ellipse cx="507.2" cy="306.3" rx="2.3" ry="2.3" fill="#2cbc2c" opacity="0.7" transform="rotate(101 507.2 306.3)"/><ellipse cx="510.9" cy="248.2" rx="1.7" ry="2.8" fill="#2cbc2c" opacity="0.6" transform="rotate(338 510.9 248.2)"/><ellipse cx="507.5" cy="256.8" rx="1.5" ry="1.7" fill="#2cbc2c" opacity="0.6" transform="rotate(96 507.5 256.8)"/></g>
<g filter="url(#ab3)"><circle cx="79" cy="101" r="2.5" fill="#181818" opacity="0.75"/><circle cx="78.6" cy="100.6" r="0.9" fill="#8a8a8a" opacity="0.5"/><circle cx="144" cy="199" r="2" fill="#181818" opacity="0.75"/><circle cx="143.6" cy="198.6" r="0.7" fill="#8a8a8a" opacity="0.5"/><circle cx="98" cy="168" r="2" fill="#181818" opacity="0.75"/><circle cx="97.6" cy="167.6" r="0.7" fill="#8a8a8a" opacity="0.5"/><circle cx="168" cy="230" r="2.5" fill="#181818" opacity="0.75"/><circle cx="167.6" cy="229.6" r="0.9" fill="#8a8a8a" opacity="0.5"/><circle cx="115" cy="300" r="2.5" fill="#181818" opacity="0.75"/><circle cx="114.6" cy="299.6" r="0.9" fill="#8a8a8a" opacity="0.5"/><circle cx="63" cy="319" r="2" fill="#181818" opacity="0.75"/><circle cx="62.6" cy="318.6" r="0.7" fill="#8a8a8a" opacity="0.5"/><circle cx="127" cy="319" r="2" fill="#181818" opacity="0.75"/><circle cx="126.6" cy="318.6" r="0.7" fill="#8a8a8a" opacity="0.5"/><circle cx="212" cy="313" r="1.5" fill="#181818" opacity="0.75"/><circle cx="211.6" cy="312.6" r="0.5" fill="#8a8a8a" opacity="0.5"/><circle cx="186" cy="278" r="1.5" fill="#181818" opacity="0.75"/><circle cx="185.6" cy="277.6" r="0.5" fill="#8a8a8a" opacity="0.5"/><circle cx="347" cy="86" r="2.2" fill="#181818" opacity="0.75"/><circle cx="346.6" cy="85.6" r="0.8" fill="#8a8a8a" opacity="0.5"/><circle cx="345" cy="94" r="2" fill="#181818" opacity="0.75"/><circle cx="344.6" cy="93.6" r="0.7" fill="#8a8a8a" opacity="0.5"/><circle cx="376" cy="152" r="2" fill="#181818" opacity="0.75"/><circle cx="375.6" cy="151.6" r="0.7" fill="#8a8a8a" opacity="0.5"/><circle cx="354" cy="187" r="2.3" fill="#181818" opacity="0.75"/><circle cx="353.6" cy="186.6" r="0.8" fill="#8a8a8a" opacity="0.5"/><circle cx="310" cy="196" r="2.5" fill="#181818" opacity="0.75"/><circle cx="309.6" cy="195.6" r="0.9" fill="#8a8a8a" opacity="0.5"/><circle cx="451" cy="142" r="2" fill="#181818" opacity="0.75"/><circle cx="450.6" cy="141.6" r="0.7" fill="#8a8a8a" opacity="0.5"/><circle cx="450" cy="344" r="2" fill="#181818" opacity="0.75"/><circle cx="449.6" cy="343.6" r="0.7" fill="#8a8a8a" opacity="0.5"/><circle cx="499" cy="396" r="1.5" fill="#181818" opacity="0.75"/><circle cx="498.6" cy="395.6" r="0.5" fill="#8a8a8a" opacity="0.5"/><circle cx="222" cy="388" r="1.5" fill="#181818" opacity="0.75"/><circle cx="221.6" cy="387.6" r="0.5" fill="#8a8a8a" opacity="0.5"/></g>
<g filter="url(#ab1)"><ellipse cx="59.2" cy="97.9" rx="4.4" ry="4.4" fill="#22b822" opacity="0.55" transform="rotate(0 59.2 97.9)"/><ellipse cx="87.7" cy="117.5" rx="5.5" ry="5" fill="#22b822" opacity="0.55" transform="rotate(0 87.7 117.5)"/><ellipse cx="118.9" cy="127.6" rx="4.4" ry="4.4" fill="#22b822" opacity="0.55" transform="rotate(0 118.9 127.6)"/><ellipse cx="151.8" cy="121" rx="3.9" ry="3.9" fill="#22b822" opacity="0.55" transform="rotate(0 151.8 121)"/><ellipse cx="145.6" cy="98.8" rx="3.3" ry="5.5" fill="#22b822" opacity="0.55" transform="rotate(20 145.6 98.8)"/><ellipse cx="156.3" cy="98.8" rx="3.9" ry="5" fill="#22b822" opacity="0.55" transform="rotate(-20 156.3 98.8)"/><ellipse cx="244.4" cy="95.2" rx="4.4" ry="4.4" fill="#22b822" opacity="0.55" transform="rotate(0 244.4 95.2)"/><ellipse cx="237.3" cy="125.5" rx="4.4" ry="5" fill="#22b822" opacity="0.55" transform="rotate(0 237.3 125.5)"/><ellipse cx="279" cy="98.8" rx="3.9" ry="4.4" fill="#22b822" opacity="0.55" transform="rotate(0 279 98.8)"/><ellipse cx="89.5" cy="157.6" rx="5.5" ry="5.5" fill="#22b822" opacity="0.55" transform="rotate(0 89.5 157.6)"/><ellipse cx="102.8" cy="148.7" rx="3.3" ry="3.3" fill="#22b822" opacity="0.55" transform="rotate(0 102.8 148.7)"/><ellipse cx="140.2" cy="170" rx="3.9" ry="3.9" fill="#22b822" opacity="0.55" transform="rotate(0 140.2 170)"/><ellipse cx="153.6" cy="162" rx="5" ry="5" fill="#22b822" opacity="0.55" transform="rotate(0 153.6 162)"/><ellipse cx="198" cy="137" rx="3.9" ry="3.9" fill="#22b822" opacity="0.55" transform="rotate(0 198 137)"/><ellipse cx="189" cy="152" rx="3.3" ry="5" fill="#22b822" opacity="0.55" transform="rotate(0 189 152)"/><ellipse cx="177.6" cy="189.6" rx="7.7" ry="5.5" fill="#22b822" opacity="0.55" transform="rotate(-15 177.6 189.6)"/><ellipse cx="228.4" cy="190.5" rx="3.9" ry="3.9" fill="#22b822" opacity="0.55" transform="rotate(0 228.4 190.5)"/><ellipse cx="265.7" cy="195.8" rx="4.4" ry="4.4" fill="#22b822" opacity="0.55" transform="rotate(0 265.7 195.8)"/><ellipse cx="269.3" cy="146" rx="3.3" ry="3.3" fill="#22b822" opacity="0.55" transform="rotate(0 269.3 146)"/><ellipse cx="276.4" cy="207.4" rx="5" ry="4.4" fill="#22b822" opacity="0.55" transform="rotate(0 276.4 207.4)"/><ellipse cx="55.7" cy="180.7" rx="4.4" ry="4.4" fill="#22b822" opacity="0.55" transform="rotate(0 55.7 180.7)"/><ellipse cx="101" cy="196.7" rx="3.9" ry="3.9" fill="#22b822" opacity="0.55" transform="rotate(0 101 196.7)"/><ellipse cx="162.5" cy="198.5" rx="3.3" ry="3.3" fill="#22b822" opacity="0.55" transform="rotate(0 162.5 198.5)"/><ellipse cx="224.8" cy="212.7" rx="3.3" ry="3.3" fill="#22b822" opacity="0.55" transform="rotate(0 224.8 212.7)"/><ellipse cx="253.3" cy="224.3" rx="3.3" ry="3.3" fill="#22b822" opacity="0.55" transform="rotate(0 253.3 224.3)"/><ellipse cx="207.9" cy="249.2" rx="4.4" ry="3.9" fill="#22b822" opacity="0.55" transform="rotate(0 207.9 249.2)"/><ellipse cx="177.6" cy="235.9" rx="5.5" ry="3.3" fill="#22b822" opacity="0.55" transform="rotate(10 177.6 235.9)"/><ellipse cx="142.9" cy="232.3" rx="4.4" ry="3.3" fill="#22b822" opacity="0.55" transform="rotate(30 142.9 232.3)"/><ellipse cx="257.7" cy="173.6" rx="5.5" ry="4.4" fill="#22b822" opacity="0.55" transform="rotate(0 257.7 173.6)"/><ellipse cx="61" cy="145" rx="4.4" ry="5.5" fill="#22b822" opacity="0.55" transform="rotate(0 61 145)"/><ellipse cx="236.4" cy="239.4" rx="5.5" ry="3.9" fill="#22b822" opacity="0.55" transform="rotate(0 236.4 239.4)"/><ellipse cx="79.7" cy="89.9" rx="5.5" ry="4.4" fill="#22b822" opacity="0.55" transform="rotate(0 79.7 89.9)"/><ellipse cx="68" cy="86" rx="4.4" ry="3.3" fill="#22b822" opacity="0.55" transform="rotate(0 68 86)"/><ellipse cx="105" cy="100" rx="3.3" ry="3.3" fill="#22b822" opacity="0.55" transform="rotate(0 105 100)"/><ellipse cx="284.6" cy="95.2" rx="3.9" ry="5.5" fill="#22b822" opacity="0.55" transform="rotate(30 284.6 95.2)"/><ellipse cx="314" cy="91.7" rx="4.4" ry="4.4" fill="#22b822" opacity="0.55" transform="rotate(0 314 91.7)"/><ellipse cx="427" cy="93.5" rx="6.6" ry="3.9" fill="#22b822" opacity="0.55" transform="rotate(0 427 93.5)"/><ellipse cx="438.6" cy="123.7" rx="8.8" ry="13.2" fill="#22b822" opacity="0.55" transform="rotate(10 438.6 123.7)"/><ellipse cx="479.5" cy="107.7" rx="5.5" ry="4.4" fill="#22b822" opacity="0.55" transform="rotate(0 479.5 107.7)"/><ellipse cx="357.6" cy="137" rx="6.6" ry="6.1" fill="#22b822" opacity="0.55" transform="rotate(0 357.6 137)"/><ellipse cx="379.8" cy="133.5" rx="3.9" ry="3.9" fill="#22b822" opacity="0.55" transform="rotate(0 379.8 133.5)"/><ellipse cx="454.6" cy="146" rx="4.4" ry="4.4" fill="#22b822" opacity="0.55" transform="rotate(0 454.6 146)"/><ellipse cx="484" cy="153" rx="7.7" ry="7.2" fill="#22b822" opacity="0.55" transform="rotate(0 484 153)"/><ellipse cx="368.2" cy="157.6" rx="5.5" ry="5.5" fill="#22b822" opacity="0.55" transform="rotate(0 368.2 157.6)"/><ellipse cx="352.2" cy="181.6" rx="5.5" ry="5.5" fill="#22b822" opacity="0.55" transform="rotate(0 352.2 181.6)"/><ellipse cx="374.5" cy="188.7" rx="4.4" ry="5" fill="#22b822" opacity="0.55" transform="rotate(0 374.5 188.7)"/><ellipse cx="392.3" cy="187" rx="5.5" ry="3.3" fill="#22b822" opacity="0.55" transform="rotate(-30 392.3 187)"/><ellipse cx="418" cy="186" rx="3.3" ry="3.3" fill="#22b822" opacity="0.55" transform="rotate(0 418 186)"/><ellipse cx="419.9" cy="162" rx="3.3" ry="3.3" fill="#22b822" opacity="0.55" transform="rotate(0 419.9 162)"/><ellipse cx="507" cy="169" rx="5.5" ry="4.4" fill="#22b822" opacity="0.55" transform="rotate(0 507 169)"/><ellipse cx="499" cy="221.6" rx="7.7" ry="7.2" fill="#22b822" opacity="0.55" transform="rotate(0 499 221.6)"/><ellipse cx="507" cy="212.7" rx="3.3" ry="3.3" fill="#22b822" opacity="0.55" transform="rotate(0 507 212.7)"/><ellipse cx="300.6" cy="193" rx="4.4" ry="4.4" fill="#22b822" opacity="0.55" transform="rotate(0 300.6 193)"/><ellipse cx="297" cy="203.8" rx="3.3" ry="3.3" fill="#22b822" opacity="0.55" transform="rotate(0 297 203.8)"/><ellipse cx="419.9" cy="208.3" rx="3.3" ry="3.3" fill="#22b822" opacity="0.55" transform="rotate(0 419.9 208.3)"/><ellipse cx="472.4" cy="227" rx="3.3" ry="3.3" fill="#22b822" opacity="0.55" transform="rotate(0 472.4 227)"/><ellipse cx="462.6" cy="219.9" rx="3.3" ry="3.3" fill="#22b822" opacity="0.55" transform="rotate(0 462.6 219.9)"/><ellipse cx="479.5" cy="203.8" rx="2.8" ry="5.5" fill="#22b822" opacity="0.55" transform="rotate(20 479.5 203.8)"/><ellipse cx="295.2" cy="136.2" rx="3.3" ry="4.4" fill="#22b822" opacity="0.55" transform="rotate(0 295.2 136.2)"/><ellipse cx="362.9" cy="232.3" rx="3.3" ry="4.4" fill="#22b822" opacity="0.55" transform="rotate(0 362.9 232.3)"/><ellipse cx="371.8" cy="241.2" rx="3.9" ry="3.3" fill="#22b822" opacity="0.55" transform="rotate(0 371.8 241.2)"/><ellipse cx="434" cy="238.6" rx="3.3" ry="3.3" fill="#22b822" opacity="0.55" transform="rotate(0 434 238.6)"/><ellipse cx="357.6" cy="249.2" rx="2.2" ry="2.2" fill="#22b822" opacity="0.55" transform="rotate(0 357.6 249.2)"/><ellipse cx="330" cy="87" rx="3.3" ry="3.3" fill="#22b822" opacity="0.55" transform="rotate(0 330 87)"/><ellipse cx="365" cy="93" rx="2.8" ry="4.4" fill="#22b822" opacity="0.55" transform="rotate(0 365 93)"/><ellipse cx="60" cy="262" rx="4.4" ry="4.4" fill="#22b822" opacity="0.55" transform="rotate(0 60 262)"/><ellipse cx="60" cy="300" rx="4.4" ry="4.4" fill="#22b822" opacity="0.55" transform="rotate(0 60 300)"/><ellipse cx="76" cy="300" rx="7.7" ry="4.4" fill="#22b822" opacity="0.55" transform="rotate(0 76 300)"/><ellipse cx="101" cy="297.5" rx="6.6" ry="7.2" fill="#22b822" opacity="0.55" transform="rotate(0 101 297.5)"/><ellipse cx="111.7" cy="296.6" rx="6.1" ry="7.2" fill="#22b822" opacity="0.55" transform="rotate(0 111.7 296.6)"/><ellipse cx="181.2" cy="318.9" rx="7.7" ry="7.7" fill="#22b822" opacity="0.55" transform="rotate(0 181.2 318.9)"/><ellipse cx="199" cy="310" rx="5.5" ry="6.6" fill="#22b822" opacity="0.55" transform="rotate(0 199 310)"/><ellipse cx="191.9" cy="334" rx="4.4" ry="4.4" fill="#22b822" opacity="0.55" transform="rotate(0 191.9 334)"/><ellipse cx="97.5" cy="358" rx="4.4" ry="4.4" fill="#22b822" opacity="0.55" transform="rotate(0 97.5 358)"/><ellipse cx="151.8" cy="383.9" rx="4.4" ry="5" fill="#22b822" opacity="0.55" transform="rotate(0 151.8 383.9)"/><ellipse cx="227.5" cy="381" rx="5.5" ry="5" fill="#22b822" opacity="0.55" transform="rotate(0 227.5 381)"/><ellipse cx="224" cy="411.4" rx="4.4" ry="4.4" fill="#22b822" opacity="0.55" transform="rotate(0 224 411.4)"/><ellipse cx="277.3" cy="404.3" rx="5.5" ry="13.2" fill="#22b822" opacity="0.55" transform="rotate(0 277.3 404.3)"/><ellipse cx="262.2" cy="270.8" rx="4.4" ry="5.5" fill="#22b822" opacity="0.55" transform="rotate(0 262.2 270.8)"/><ellipse cx="238" cy="313.5" rx="3.3" ry="3.9" fill="#22b822" opacity="0.55" transform="rotate(0 238 313.5)"/><ellipse cx="248.8" cy="324" rx="3.3" ry="3.3" fill="#22b822" opacity="0.55" transform="rotate(0 248.8 324)"/><ellipse cx="79.7" cy="327" rx="7.7" ry="3.3" fill="#22b822" opacity="0.55" transform="rotate(-15 79.7 327)"/><ellipse cx="161.6" cy="284" rx="4.4" ry="3.3" fill="#22b822" opacity="0.55" transform="rotate(20 161.6 284)"/><ellipse cx="170.5" cy="266.4" rx="4.4" ry="3.3" fill="#22b822" opacity="0.55" transform="rotate(20 170.5 266.4)"/><ellipse cx="193.6" cy="262" rx="3.3" ry="4.4" fill="#22b822" opacity="0.55" transform="rotate(20 193.6 262)"/><ellipse cx="209.7" cy="413.2" rx="3.3" ry="3.3" fill="#22b822" opacity="0.55" transform="rotate(0 209.7 413.2)"/><ellipse cx="202.5" cy="398" rx="3.3" ry="3.3" fill="#22b822" opacity="0.55" transform="rotate(0 202.5 398)"/><ellipse cx="72.6" cy="395.4" rx="3.3" ry="3.3" fill="#22b822" opacity="0.55" transform="rotate(0 72.6 395.4)"/><ellipse cx="159.8" cy="406" rx="4.4" ry="4.4" fill="#22b822" opacity="0.55" transform="rotate(0 159.8 406)"/><ellipse cx="136.7" cy="418.6" rx="4.4" ry="3.3" fill="#22b822" opacity="0.55" transform="rotate(0 136.7 418.6)"/><ellipse cx="188.3" cy="404.3" rx="3.3" ry="3.3" fill="#22b822" opacity="0.55" transform="rotate(0 188.3 404.3)"/><ellipse cx="297" cy="331.3" rx="7.7" ry="9.9" fill="#22b822" opacity="0.55" transform="rotate(0 297 331.3)"/><ellipse cx="288" cy="331.3" rx="4.4" ry="4.4" fill="#22b822" opacity="0.55" transform="rotate(0 288 331.3)"/><ellipse cx="338" cy="333" rx="6.6" ry="5.5" fill="#22b822" opacity="0.55" transform="rotate(0 338 333)"/><ellipse cx="320.2" cy="352.7" rx="7.7" ry="4.4" fill="#22b822" opacity="0.55" transform="rotate(-30 320.2 352.7)"/><ellipse cx="389.6" cy="359.8" rx="6.6" ry="7.7" fill="#22b822" opacity="0.55" transform="rotate(0 389.6 359.8)"/><ellipse cx="434" cy="363.4" rx="5.5" ry="6.1" fill="#22b822" opacity="0.55" transform="rotate(0 434 363.4)"/><ellipse cx="459" cy="335" rx="5.5" ry="5.5" fill="#22b822" opacity="0.55" transform="rotate(0 459 335)"/><ellipse cx="450" cy="335.8" rx="4.4" ry="4.4" fill="#22b822" opacity="0.55" transform="rotate(0 450 335.8)"/><ellipse cx="460.8" cy="374" rx="8.8" ry="5.5" fill="#22b822" opacity="0.55" transform="rotate(0 460.8 374)"/><ellipse cx="469.7" cy="370.5" rx="5.5" ry="5.5" fill="#22b822" opacity="0.55" transform="rotate(0 469.7 370.5)"/><ellipse cx="400.3" cy="399" rx="6.6" ry="6.6" fill="#22b822" opacity="0.55" transform="rotate(0 400.3 399)"/><ellipse cx="378.9" cy="408.8" rx="4.4" ry="4.4" fill="#22b822" opacity="0.55" transform="rotate(0 378.9 408.8)"/><ellipse cx="389.6" cy="418.6" rx="3.3" ry="3.3" fill="#22b822" opacity="0.55" transform="rotate(0 389.6 418.6)"/><ellipse cx="488.4" cy="280.6" rx="4.4" ry="3.9" fill="#22b822" opacity="0.55" transform="rotate(0 488.4 280.6)"/><ellipse cx="435.9" cy="290.4" rx="4.4" ry="5" fill="#22b822" opacity="0.55" transform="rotate(0 435.9 290.4)"/><ellipse cx="427.9" cy="272.6" rx="2.8" ry="9.9" fill="#22b822" opacity="0.55" transform="rotate(0 427.9 272.6)"/><ellipse cx="400.3" cy="295.7" rx="2.8" ry="6.6" fill="#22b822" opacity="0.55" transform="rotate(-10 400.3 295.7)"/><ellipse cx="365.6" cy="299.3" rx="3.3" ry="3.3" fill="#22b822" opacity="0.55" transform="rotate(0 365.6 299.3)"/><ellipse cx="500.9" cy="355.4" rx="3.3" ry="3.3" fill="#22b822" opacity="0.55" transform="rotate(0 500.9 355.4)"/><ellipse cx="507" cy="393.6" rx="4.4" ry="4.4" fill="#22b822" opacity="0.55" transform="rotate(0 507 393.6)"/><ellipse cx="288" cy="408" rx="3.3" ry="3.3" fill="#22b822" opacity="0.55" transform="rotate(0 288 408)"/><ellipse cx="302.4" cy="383" rx="6.6" ry="4.4" fill="#22b822" opacity="0.55" transform="rotate(0 302.4 383)"/><ellipse cx="318.4" cy="395.4" rx="5.5" ry="5.5" fill="#22b822" opacity="0.55" transform="rotate(0 318.4 395.4)"/><ellipse cx="466" cy="395.4" rx="3.3" ry="3.3" fill="#22b822" opacity="0.55" transform="rotate(0 466 395.4)"/><ellipse cx="457.3" cy="269" rx="6.6" ry="3.3" fill="#22b822" opacity="0.55" transform="rotate(-30 457.3 269)"/><ellipse cx="284.6" cy="274.4" rx="4.4" ry="3.3" fill="#22b822" opacity="0.55" transform="rotate(0 284.6 274.4)"/><ellipse cx="439.4" cy="416.8" rx="4.4" ry="4.4" fill="#22b822" opacity="0.55" transform="rotate(0 439.4 416.8)"/><ellipse cx="368.2" cy="260" rx="3.3" ry="2.8" fill="#22b822" opacity="0.55" transform="rotate(0 368.2 260)"/><ellipse cx="478.6" cy="258.3" rx="6.6" ry="2.8" fill="#22b822" opacity="0.55" transform="rotate(0 478.6 258.3)"/><ellipse cx="55" cy="420" rx="3.3" ry="4.4" fill="#22b822" opacity="0.55" transform="rotate(0 55 420)"/><ellipse cx="70" cy="420" rx="3.3" ry="3.3" fill="#22b822" opacity="0.55" transform="rotate(0 70 420)"/><ellipse cx="508" cy="300" rx="3.3" ry="5.5" fill="#22b822" opacity="0.55" transform="rotate(0 508 300)"/><ellipse cx="508" cy="250" rx="2.8" ry="4.4" fill="#22b822" opacity="0.55" transform="rotate(0 508 250)"/></g>
<g filter="url(#ab2)"><ellipse cx="60.3" cy="98.9" rx="2.9" ry="2.9" fill="#2ae82e" transform="rotate(4.4 60.3 98.9)"/><ellipse cx="59.2" cy="97.3" rx="2.3" ry="2.3" fill="#2ae82e" transform="rotate(-2.3 59.2 97.3)"/><ellipse cx="88.9" cy="117.7" rx="3.7" ry="3.4" fill="#2ae82e" transform="rotate(12 88.9 117.7)"/><ellipse cx="87.9" cy="117.8" rx="3.2" ry="2.9" fill="#2ae82e" transform="rotate(16.3 87.9 117.8)"/><ellipse cx="119.8" cy="126.7" rx="2.9" ry="2.9" fill="#2ae82e" transform="rotate(7.1 119.8 126.7)"/><ellipse cx="118.5" cy="128.3" rx="2.5" ry="2.5" fill="#2ae82e" transform="rotate(7.8 118.5 128.3)"/><ellipse cx="151.8" cy="121.3" rx="2.6" ry="2.6" fill="#2ae82e" transform="rotate(15.6 151.8 121.3)"/><ellipse cx="151.8" cy="120.7" rx="2.4" ry="2.4" fill="#2ae82e" transform="rotate(6.7 151.8 120.7)"/><ellipse cx="144.7" cy="98.8" rx="1.8" ry="3" fill="#2ae82e" transform="rotate(25.9 144.7 98.8)"/><ellipse cx="144.9" cy="98.1" rx="1.8" ry="3" fill="#2ae82e" transform="rotate(11.2 144.9 98.1)"/><ellipse cx="156.5" cy="99.9" rx="2.4" ry="3.1" fill="#2ae82e" transform="rotate(-14.1 156.5 99.9)"/><ellipse cx="156.9" cy="98.5" rx="2.2" ry="2.9" fill="#2ae82e" transform="rotate(-13.9 156.9 98.5)"/><ellipse cx="243.6" cy="95.9" rx="2.9" ry="2.9" fill="#2ae82e" transform="rotate(15.2 243.6 95.9)"/><ellipse cx="243.2" cy="96.4" rx="2.4" ry="2.4" fill="#2ae82e" transform="rotate(-14.8 243.2 96.4)"/><ellipse cx="237.6" cy="125" rx="2.3" ry="2.6" fill="#2ae82e" transform="rotate(4.3 237.6 125)"/><ellipse cx="237.4" cy="125.6" rx="2.6" ry="2.9" fill="#2ae82e" transform="rotate(4.7 237.4 125.6)"/><ellipse cx="279.7" cy="99.4" rx="2.4" ry="2.8" fill="#2ae82e" transform="rotate(13.1 279.7 99.4)"/><ellipse cx="278.9" cy="99.2" rx="2" ry="2.3" fill="#2ae82e" transform="rotate(-16.7 278.9 99.2)"/><ellipse cx="89.3" cy="158.2" rx="3" ry="3" fill="#2ae82e" transform="rotate(18.4 89.3 158.2)"/><ellipse cx="88.8" cy="157.6" rx="3.2" ry="3.2" fill="#2ae82e" transform="rotate(18.8 88.8 157.6)"/><ellipse cx="102.8" cy="148.7" rx="2.4" ry="2.4" fill="#2ae82e" transform="rotate(-13.9 102.8 148.7)"/><ellipse cx="139.6" cy="170.3" rx="2.2" ry="2.2" fill="#2ae82e" transform="rotate(-6.3 139.6 170.3)"/><ellipse cx="139.3" cy="171" rx="2.2" ry="2.2" fill="#2ae82e" transform="rotate(3.1 139.3 171)"/><ellipse cx="152.8" cy="163.4" rx="2.6" ry="2.6" fill="#2ae82e" transform="rotate(7.9 152.8 163.4)"/><ellipse cx="152.2" cy="162.1" rx="2.8" ry="2.8" fill="#2ae82e" transform="rotate(18 152.2 162.1)"/><ellipse cx="197.9" cy="137.8" rx="1.9" ry="1.9" fill="#2ae82e" transform="rotate(-10.6 197.9 137.8)"/><ellipse cx="199.2" cy="136.7" rx="2" ry="2" fill="#2ae82e" transform="rotate(-9.6 199.2 136.7)"/><ellipse cx="188.7" cy="152.1" rx="1.9" ry="2.8" fill="#2ae82e" transform="rotate(-7.8 188.7 152.1)"/><ellipse cx="188.9" cy="151.9" rx="1.8" ry="2.6" fill="#2ae82e" transform="rotate(0.7 188.9 151.9)"/><ellipse cx="178" cy="189.9" rx="4.9" ry="3.5" fill="#2ae82e" transform="rotate(-16.9 178 189.9)"/><ellipse cx="176.2" cy="191.2" rx="4" ry="2.9" fill="#2ae82e" transform="rotate(-22.9 176.2 191.2)"/><ellipse cx="177.2" cy="189.3" rx="4.1" ry="3" fill="#2ae82e" transform="rotate(-0.6 177.2 189.3)"/><ellipse cx="227.9" cy="190.6" rx="2.4" ry="2.4" fill="#2ae82e" transform="rotate(-14.8 227.9 190.6)"/><ellipse cx="228.2" cy="189.6" rx="2.3" ry="2.3" fill="#2ae82e" transform="rotate(9.2 228.2 189.6)"/><ellipse cx="266.7" cy="197" rx="2.3" ry="2.3" fill="#2ae82e" transform="rotate(-1.6 266.7 197)"/><ellipse cx="266.2" cy="195.4" rx="3" ry="3" fill="#2ae82e" transform="rotate(-0.2 266.2 195.4)"/><ellipse cx="269.3" cy="146" rx="2.4" ry="2.4" fill="#2ae82e" transform="rotate(14.8 269.3 146)"/><ellipse cx="275" cy="207.1" rx="3.1" ry="2.8" fill="#2ae82e" transform="rotate(13.5 275 207.1)"/><ellipse cx="276.4" cy="208.4" rx="3.2" ry="2.8" fill="#2ae82e" transform="rotate(-3.5 276.4 208.4)"/><ellipse cx="56.3" cy="180.7" rx="2.3" ry="2.3" fill="#2ae82e" transform="rotate(16 56.3 180.7)"/><ellipse cx="56.7" cy="181.8" rx="2.4" ry="2.4" fill="#2ae82e" transform="rotate(11.1 56.7 181.8)"/><ellipse cx="99.9" cy="196.7" rx="2.1" ry="2.1" fill="#2ae82e" transform="rotate(0.2 99.9 196.7)"/><ellipse cx="100.7" cy="196.8" rx="2.2" ry="2.2" fill="#2ae82e" transform="rotate(10.4 100.7 196.8)"/><ellipse cx="162.5" cy="198.5" rx="2.4" ry="2.4" fill="#2ae82e" transform="rotate(6.3 162.5 198.5)"/><ellipse cx="224.8" cy="212.7" rx="2.4" ry="2.4" fill="#2ae82e" transform="rotate(-8.9 224.8 212.7)"/><ellipse cx="253.3" cy="224.3" rx="2.4" ry="2.4" fill="#2ae82e" transform="rotate(-12.1 253.3 224.3)"/><ellipse cx="207.2" cy="248.8" rx="2.5" ry="2.2" fill="#2ae82e" transform="rotate(0.2 207.2 248.8)"/><ellipse cx="208.6" cy="250.4" rx="2.4" ry="2.1" fill="#2ae82e" transform="rotate(-8.2 208.6 250.4)"/><ellipse cx="177.7" cy="234.9" rx="3.4" ry="2" fill="#2ae82e" transform="rotate(-8.5 177.7 234.9)"/><ellipse cx="177.9" cy="236.1" rx="3.1" ry="1.9" fill="#2ae82e" transform="rotate(29.6 177.9 236.1)"/><ellipse cx="142.4" cy="231.3" rx="2.3" ry="1.7" fill="#2ae82e" transform="rotate(19.6 142.4 231.3)"/><ellipse cx="143.6" cy="232.8" rx="2.5" ry="1.9" fill="#2ae82e" transform="rotate(45.3 143.6 232.8)"/><ellipse cx="256.5" cy="172.8" rx="3.3" ry="2.7" fill="#2ae82e" transform="rotate(1.3 256.5 172.8)"/><ellipse cx="258.7" cy="173.1" rx="3.7" ry="2.9" fill="#2ae82e" transform="rotate(5.3 258.7 173.1)"/><ellipse cx="61.5" cy="145.3" rx="2.4" ry="3" fill="#2ae82e" transform="rotate(2.5 61.5 145.3)"/><ellipse cx="62.2" cy="143.3" rx="2.5" ry="3.1" fill="#2ae82e" transform="rotate(-7.7 62.2 143.3)"/><ellipse cx="235.5" cy="240.1" rx="3.4" ry="2.4" fill="#2ae82e" transform="rotate(-14.6 235.5 240.1)"/><ellipse cx="237.1" cy="240.3" rx="2.8" ry="2" fill="#2ae82e" transform="rotate(-19.2 237.1 240.3)"/><ellipse cx="80.1" cy="91" rx="3.3" ry="2.6" fill="#2ae82e" transform="rotate(0.2 80.1 91)"/><ellipse cx="79.4" cy="90.1" rx="3.7" ry="2.9" fill="#2ae82e" transform="rotate(3.9 79.4 90.1)"/><ellipse cx="68.7" cy="85.9" rx="2.9" ry="2.2" fill="#2ae82e" transform="rotate(10.8 68.7 85.9)"/><ellipse cx="68" cy="85.6" rx="2.4" ry="1.8" fill="#2ae82e" transform="rotate(19.2 68 85.6)"/><ellipse cx="105" cy="100" rx="2.4" ry="2.4" fill="#2ae82e" transform="rotate(5.6 105 100)"/><ellipse cx="283.5" cy="95.3" rx="2.2" ry="3.2" fill="#2ae82e" transform="rotate(33.9 283.5 95.3)"/><ellipse cx="284.1" cy="96.6" rx="2.3" ry="3.2" fill="#2ae82e" transform="rotate(43.1 284.1 96.6)"/><ellipse cx="313.3" cy="92.8" rx="2.6" ry="2.6" fill="#2ae82e" transform="rotate(1.8 313.3 92.8)"/><ellipse cx="313.8" cy="92.9" rx="2.7" ry="2.7" fill="#2ae82e" transform="rotate(1.4 313.8 92.9)"/><ellipse cx="426.4" cy="93.4" rx="3.6" ry="2.1" fill="#2ae82e" transform="rotate(-2.2 426.4 93.4)"/><ellipse cx="426" cy="92.5" rx="3.7" ry="2.2" fill="#2ae82e" transform="rotate(-18.9 426 92.5)"/><ellipse cx="439.5" cy="120.3" rx="5.8" ry="8.8" fill="#2ae82e" transform="rotate(2.7 439.5 120.3)"/><ellipse cx="437.3" cy="124.1" rx="4.9" ry="7.3" fill="#2ae82e" transform="rotate(18.9 437.3 124.1)"/><ellipse cx="437.5" cy="127.2" rx="4.5" ry="6.7" fill="#2ae82e" transform="rotate(-7.7 437.5 127.2)"/><ellipse cx="480.8" cy="108.2" rx="3" ry="2.4" fill="#2ae82e" transform="rotate(5.7 480.8 108.2)"/><ellipse cx="479" cy="107.7" rx="3" ry="2.4" fill="#2ae82e" transform="rotate(1.6 479 107.7)"/><ellipse cx="358.2" cy="138.3" rx="3.6" ry="3.3" fill="#2ae82e" transform="rotate(2.8 358.2 138.3)"/><ellipse cx="357.9" cy="138.4" rx="3.9" ry="3.6" fill="#2ae82e" transform="rotate(14.6 357.9 138.4)"/><ellipse cx="359.4" cy="136.6" rx="3.8" ry="3.5" fill="#2ae82e" transform="rotate(18.8 359.4 136.6)"/><ellipse cx="380" cy="133.6" rx="2.5" ry="2.5" fill="#2ae82e" transform="rotate(4.2 380 133.6)"/><ellipse cx="379.8" cy="133.9" rx="2.1" ry="2.1" fill="#2ae82e" transform="rotate(-4.9 379.8 133.9)"/><ellipse cx="453.2" cy="146.6" rx="2.9" ry="2.9" fill="#2ae82e" transform="rotate(9.4 453.2 146.6)"/><ellipse cx="455.9" cy="146.7" rx="2.3" ry="2.3" fill="#2ae82e" transform="rotate(-7.1 455.9 146.7)"/><ellipse cx="486.1" cy="151.2" rx="5.1" ry="4.7" fill="#2ae82e" transform="rotate(11.9 486.1 151.2)"/><ellipse cx="482.3" cy="151.7" rx="4.9" ry="4.5" fill="#2ae82e" transform="rotate(6.1 482.3 151.7)"/><ellipse cx="481.7" cy="153.1" rx="4.1" ry="3.8" fill="#2ae82e" transform="rotate(14.3 481.7 153.1)"/><ellipse cx="368.3" cy="155.9" rx="3.1" ry="3.1" fill="#2ae82e" transform="rotate(-19.6 368.3 155.9)"/><ellipse cx="369.6" cy="159" rx="3.5" ry="3.5" fill="#2ae82e" transform="rotate(-19.9 369.6 159)"/><ellipse cx="353.7" cy="180.8" rx="3.4" ry="3.4" fill="#2ae82e" transform="rotate(10.5 353.7 180.8)"/><ellipse cx="352.4" cy="180.3" rx="3" ry="3" fill="#2ae82e" transform="rotate(9.2 352.4 180.3)"/><ellipse cx="373.4" cy="188.3" rx="2.9" ry="3.3" fill="#2ae82e" transform="rotate(-3.6 373.4 188.3)"/><ellipse cx="373.5" cy="189.2" rx="2.5" ry="2.8" fill="#2ae82e" transform="rotate(11.6 373.5 189.2)"/><ellipse cx="391.8" cy="187.7" rx="3.6" ry="2.1" fill="#2ae82e" transform="rotate(-42.9 391.8 187.7)"/><ellipse cx="392.5" cy="186.9" rx="2.9" ry="1.7" fill="#2ae82e" transform="rotate(-13.5 392.5 186.9)"/><ellipse cx="418" cy="186" rx="2.4" ry="2.4" fill="#2ae82e" transform="rotate(-6.3 418 186)"/><ellipse cx="419.9" cy="162" rx="2.4" ry="2.4" fill="#2ae82e" transform="rotate(4.5 419.9 162)"/><ellipse cx="505.5" cy="170.3" rx="3.7" ry="3" fill="#2ae82e" transform="rotate(7.4 505.5 170.3)"/><ellipse cx="505.7" cy="169.5" rx="3.2" ry="2.6" fill="#2ae82e" transform="rotate(-1.1 505.7 169.5)"/><ellipse cx="497.6" cy="220" rx="5" ry="4.7" fill="#2ae82e" transform="rotate(4.2 497.6 220)"/><ellipse cx="500.2" cy="222.7" rx="4.4" ry="4.1" fill="#2ae82e" transform="rotate(2 500.2 222.7)"/><ellipse cx="498" cy="222.3" rx="4.5" ry="4.1" fill="#2ae82e" transform="rotate(11.4 498 222.3)"/><ellipse cx="507" cy="212.7" rx="2.4" ry="2.4" fill="#2ae82e" transform="rotate(-8.3 507 212.7)"/><ellipse cx="300.3" cy="191.8" rx="2.2" ry="2.2" fill="#2ae82e" transform="rotate(-11.4 300.3 191.8)"/><ellipse cx="299.2" cy="192.8" rx="2.5" ry="2.5" fill="#2ae82e" transform="rotate(15.3 299.2 192.8)"/><ellipse cx="297" cy="203.8" rx="2.4" ry="2.4" fill="#2ae82e" transform="rotate(-18.3 297 203.8)"/><ellipse cx="419.9" cy="208.3" rx="2.4" ry="2.4" fill="#2ae82e" transform="rotate(19.4 419.9 208.3)"/><ellipse cx="472.4" cy="227" rx="2.4" ry="2.4" fill="#2ae82e" transform="rotate(-16.2 472.4 227)"/><ellipse cx="462.6" cy="219.9" rx="2.4" ry="2.4" fill="#2ae82e" transform="rotate(13.2 462.6 219.9)"/><ellipse cx="479.3" cy="202.9" rx="1.7" ry="3.4" fill="#2ae82e" transform="rotate(14.2 479.3 202.9)"/><ellipse cx="478.7" cy="202.5" rx="1.7" ry="3.4" fill="#2ae82e" transform="rotate(28.8 478.7 202.5)"/><ellipse cx="296.2" cy="135.5" rx="2.1" ry="2.8" fill="#2ae82e" transform="rotate(-6.3 296.2 135.5)"/><ellipse cx="295.2" cy="135.6" rx="1.9" ry="2.5" fill="#2ae82e" transform="rotate(16.6 295.2 135.6)"/><ellipse cx="362.4" cy="232.1" rx="2.2" ry="2.9" fill="#2ae82e" transform="rotate(-1.9 362.4 232.1)"/><ellipse cx="363.6" cy="232.4" rx="1.9" ry="2.5" fill="#2ae82e" transform="rotate(8.8 363.6 232.4)"/><ellipse cx="371.8" cy="241.2" rx="2.8" ry="2.4" fill="#2ae82e" transform="rotate(6.1 371.8 241.2)"/><ellipse cx="434" cy="238.6" rx="2.4" ry="2.4" fill="#2ae82e" transform="rotate(-4.8 434 238.6)"/><ellipse cx="357.6" cy="249.2" rx="1.6" ry="1.6" fill="#2ae82e" transform="rotate(19.9 357.6 249.2)"/><ellipse cx="330" cy="87" rx="2.4" ry="2.4" fill="#2ae82e" transform="rotate(-16.3 330 87)"/><ellipse cx="365" cy="93" rx="2" ry="3.2" fill="#2ae82e" transform="rotate(14 365 93)"/><ellipse cx="60.6" cy="262.6" rx="2.6" ry="2.6" fill="#2ae82e" transform="rotate(10 60.6 262.6)"/><ellipse cx="58.7" cy="262.5" rx="2.9" ry="2.9" fill="#2ae82e" transform="rotate(-3.7 58.7 262.5)"/><ellipse cx="60.7" cy="300.5" rx="2.6" ry="2.6" fill="#2ae82e" transform="rotate(10.8 60.7 300.5)"/><ellipse cx="60" cy="298.9" rx="2.6" ry="2.6" fill="#2ae82e" transform="rotate(10.1 60 298.9)"/><ellipse cx="74.4" cy="299.9" rx="5" ry="2.9" fill="#2ae82e" transform="rotate(-19.5 74.4 299.9)"/><ellipse cx="77.8" cy="299.6" rx="4.4" ry="2.5" fill="#2ae82e" transform="rotate(7.9 77.8 299.6)"/><ellipse cx="101.3" cy="296.5" rx="3.5" ry="3.8" fill="#2ae82e" transform="rotate(-3.2 101.3 296.5)"/><ellipse cx="102.6" cy="299.8" rx="4.2" ry="4.5" fill="#2ae82e" transform="rotate(7.8 102.6 299.8)"/><ellipse cx="101.8" cy="299.4" rx="3.5" ry="3.8" fill="#2ae82e" transform="rotate(-14.2 101.8 299.4)"/><ellipse cx="113" cy="294.4" rx="3.6" ry="4.3" fill="#2ae82e" transform="rotate(-3.9 113 294.4)"/><ellipse cx="113.3" cy="297.2" rx="3.3" ry="3.9" fill="#2ae82e" transform="rotate(-17.4 113.3 297.2)"/><ellipse cx="111.6" cy="296.8" rx="3.5" ry="4.2" fill="#2ae82e" transform="rotate(3.2 111.6 296.8)"/><ellipse cx="179.1" cy="318.2" rx="5" ry="5" fill="#2ae82e" transform="rotate(-8.4 179.1 318.2)"/><ellipse cx="179.7" cy="317.3" rx="5.2" ry="5.2" fill="#2ae82e" transform="rotate(14.8 179.7 317.3)"/><ellipse cx="180.7" cy="318.1" rx="4.4" ry="4.4" fill="#2ae82e" transform="rotate(15.3 180.7 318.1)"/><ellipse cx="200.4" cy="311.9" rx="3.6" ry="4.3" fill="#2ae82e" transform="rotate(7.2 200.4 311.9)"/><ellipse cx="197.7" cy="311.9" rx="2.9" ry="3.5" fill="#2ae82e" transform="rotate(9.6 197.7 311.9)"/><ellipse cx="198.5" cy="308.1" rx="3.4" ry="4.1" fill="#2ae82e" transform="rotate(-9.8 198.5 308.1)"/><ellipse cx="193" cy="333.1" rx="2.7" ry="2.7" fill="#2ae82e" transform="rotate(-2.5 193 333.1)"/><ellipse cx="190.6" cy="333.4" rx="2.4" ry="2.4" fill="#2ae82e" transform="rotate(11 190.6 333.4)"/><ellipse cx="98.3" cy="359.2" rx="2.3" ry="2.3" fill="#2ae82e" transform="rotate(-11.5 98.3 359.2)"/><ellipse cx="97.1" cy="357.5" rx="2.4" ry="2.4" fill="#2ae82e" transform="rotate(10.1 97.1 357.5)"/><ellipse cx="150.4" cy="384" rx="2.3" ry="2.6" fill="#2ae82e" transform="rotate(-7.5 150.4 384)"/><ellipse cx="151.2" cy="383.8" rx="3" ry="3.3" fill="#2ae82e" transform="rotate(9.5 151.2 383.8)"/><ellipse cx="227.3" cy="382.5" rx="3" ry="2.7" fill="#2ae82e" transform="rotate(-12.5 227.3 382.5)"/><ellipse cx="228" cy="381.9" rx="3.5" ry="3.1" fill="#2ae82e" transform="rotate(0.3 228 381.9)"/><ellipse cx="224.6" cy="410.9" rx="3" ry="3" fill="#2ae82e" transform="rotate(9.6 224.6 410.9)"/><ellipse cx="224.8" cy="411.5" rx="2.9" ry="2.9" fill="#2ae82e" transform="rotate(-1.2 224.8 411.5)"/><ellipse cx="278.9" cy="403.8" rx="3.7" ry="8.9" fill="#2ae82e" transform="rotate(-7.3 278.9 403.8)"/><ellipse cx="277.4" cy="404.8" rx="3.3" ry="7.9" fill="#2ae82e" transform="rotate(13.7 277.4 404.8)"/><ellipse cx="278.5" cy="401.6" rx="3.5" ry="8.3" fill="#2ae82e" transform="rotate(1 278.5 401.6)"/><ellipse cx="261.9" cy="269.5" rx="2.9" ry="3.7" fill="#2ae82e" transform="rotate(19.6 261.9 269.5)"/><ellipse cx="262.8" cy="271" rx="2.3" ry="2.8" fill="#2ae82e" transform="rotate(-7.2 262.8 271)"/><ellipse cx="238" cy="313.5" rx="2.4" ry="2.8" fill="#2ae82e" transform="rotate(-6.8 238 313.5)"/><ellipse cx="248.8" cy="324" rx="2.4" ry="2.4" fill="#2ae82e" transform="rotate(-16.5 248.8 324)"/><ellipse cx="79.1" cy="326.7" rx="4.4" ry="1.9" fill="#2ae82e" transform="rotate(-32.2 79.1 326.7)"/><ellipse cx="77.9" cy="327.9" rx="4.6" ry="2" fill="#2ae82e" transform="rotate(-25.7 77.9 327.9)"/><ellipse cx="161.5" cy="283.7" rx="2.6" ry="1.9" fill="#2ae82e" transform="rotate(7.1 161.5 283.7)"/><ellipse cx="162.3" cy="284.9" rx="2.7" ry="2" fill="#2ae82e" transform="rotate(38.4 162.3 284.9)"/><ellipse cx="171.4" cy="266.5" rx="2.6" ry="2" fill="#2ae82e" transform="rotate(27.6 171.4 266.5)"/><ellipse cx="170.1" cy="265.5" rx="2.6" ry="1.9" fill="#2ae82e" transform="rotate(32.7 170.1 265.5)"/><ellipse cx="194" cy="260.7" rx="2.1" ry="2.9" fill="#2ae82e" transform="rotate(1.9 194 260.7)"/><ellipse cx="193.6" cy="261.1" rx="1.8" ry="2.4" fill="#2ae82e" transform="rotate(9.2 193.6 261.1)"/><ellipse cx="209.7" cy="413.2" rx="2.4" ry="2.4" fill="#2ae82e" transform="rotate(4.6 209.7 413.2)"/><ellipse cx="202.5" cy="398" rx="2.4" ry="2.4" fill="#2ae82e" transform="rotate(8.4 202.5 398)"/><ellipse cx="72.6" cy="395.4" rx="2.4" ry="2.4" fill="#2ae82e" transform="rotate(15.4 72.6 395.4)"/><ellipse cx="159.8" cy="404.8" rx="2.2" ry="2.2" fill="#2ae82e" transform="rotate(-16.6 159.8 404.8)"/><ellipse cx="158.8" cy="405.1" rx="2.4" ry="2.4" fill="#2ae82e" transform="rotate(-14 158.8 405.1)"/><ellipse cx="137.7" cy="418.3" rx="2.6" ry="1.9" fill="#2ae82e" transform="rotate(11.4 137.7 418.3)"/><ellipse cx="135.8" cy="418.6" rx="2.2" ry="1.7" fill="#2ae82e" transform="rotate(-0.6 135.8 418.6)"/><ellipse cx="188.3" cy="404.3" rx="2.4" ry="2.4" fill="#2ae82e" transform="rotate(17.1 188.3 404.3)"/><ellipse cx="297.3" cy="330.1" rx="4.7" ry="6.1" fill="#2ae82e" transform="rotate(0.1 297.3 330.1)"/><ellipse cx="297" cy="332.2" rx="4.8" ry="6.2" fill="#2ae82e" transform="rotate(15.6 297 332.2)"/><ellipse cx="299.3" cy="334.2" rx="5" ry="6.4" fill="#2ae82e" transform="rotate(7.3 299.3 334.2)"/><ellipse cx="288.8" cy="330.4" rx="2.4" ry="2.4" fill="#2ae82e" transform="rotate(13.7 288.8 330.4)"/><ellipse cx="287.8" cy="330" rx="2.8" ry="2.8" fill="#2ae82e" transform="rotate(-14.6 287.8 330)"/><ellipse cx="337" cy="334.5" rx="3.5" ry="2.9" fill="#2ae82e" transform="rotate(13.1 337 334.5)"/><ellipse cx="337" cy="334" rx="3.8" ry="3.1" fill="#2ae82e" transform="rotate(2.5 337 334)"/><ellipse cx="338.8" cy="333.8" rx="3.5" ry="3" fill="#2ae82e" transform="rotate(6.8 338.8 333.8)"/><ellipse cx="318.6" cy="352" rx="4.9" ry="2.8" fill="#2ae82e" transform="rotate(-43.9 318.6 352)"/><ellipse cx="319.8" cy="351.6" rx="4.7" ry="2.7" fill="#2ae82e" transform="rotate(-43 319.8 351.6)"/><ellipse cx="389" cy="362.1" rx="3.8" ry="4.5" fill="#2ae82e" transform="rotate(0 389 362.1)"/><ellipse cx="387.6" cy="358.6" rx="3.4" ry="4" fill="#2ae82e" transform="rotate(4.8 387.6 358.6)"/><ellipse cx="388.1" cy="358.2" rx="3.5" ry="4.1" fill="#2ae82e" transform="rotate(9.6 388.1 358.2)"/><ellipse cx="434.5" cy="362.6" rx="3.1" ry="3.4" fill="#2ae82e" transform="rotate(-9 434.5 362.6)"/><ellipse cx="434.2" cy="363.7" rx="2.9" ry="3.2" fill="#2ae82e" transform="rotate(-13.9 434.2 363.7)"/><ellipse cx="459.4" cy="334.2" rx="3.4" ry="3.4" fill="#2ae82e" transform="rotate(-13 459.4 334.2)"/><ellipse cx="457.6" cy="333.5" rx="3.6" ry="3.6" fill="#2ae82e" transform="rotate(1.5 457.6 333.5)"/><ellipse cx="448.7" cy="335.4" rx="2.7" ry="2.7" fill="#2ae82e" transform="rotate(-11.3 448.7 335.4)"/><ellipse cx="450.9" cy="334.4" rx="2.6" ry="2.6" fill="#2ae82e" transform="rotate(3 450.9 334.4)"/><ellipse cx="459.1" cy="375.7" rx="5.3" ry="3.3" fill="#2ae82e" transform="rotate(-14.8 459.1 375.7)"/><ellipse cx="462.2" cy="372.3" rx="5.5" ry="3.4" fill="#2ae82e" transform="rotate(13.4 462.2 372.3)"/><ellipse cx="461.6" cy="372.3" rx="4.5" ry="2.8" fill="#2ae82e" transform="rotate(13.2 461.6 372.3)"/><ellipse cx="470.9" cy="369.7" rx="3.7" ry="3.7" fill="#2ae82e" transform="rotate(12.5 470.9 369.7)"/><ellipse cx="468.3" cy="371.8" rx="2.8" ry="2.8" fill="#2ae82e" transform="rotate(-7 468.3 371.8)"/><ellipse cx="399.1" cy="397.8" rx="3.9" ry="3.9" fill="#2ae82e" transform="rotate(-18.2 399.1 397.8)"/><ellipse cx="402.3" cy="397.8" rx="4.1" ry="4.1" fill="#2ae82e" transform="rotate(-5.9 402.3 397.8)"/><ellipse cx="402.1" cy="399.3" rx="3.9" ry="3.9" fill="#2ae82e" transform="rotate(10.4 402.1 399.3)"/><ellipse cx="379.1" cy="408.7" rx="2.3" ry="2.3" fill="#2ae82e" transform="rotate(12 379.1 408.7)"/><ellipse cx="379.3" cy="408.7" rx="3" ry="3" fill="#2ae82e" transform="rotate(-1.4 379.3 408.7)"/><ellipse cx="389.6" cy="418.6" rx="2.4" ry="2.4" fill="#2ae82e" transform="rotate(9.7 389.6 418.6)"/><ellipse cx="487.5" cy="280.3" rx="2.7" ry="2.4" fill="#2ae82e" transform="rotate(-9.7 487.5 280.3)"/><ellipse cx="489.8" cy="281.8" rx="2.7" ry="2.4" fill="#2ae82e" transform="rotate(8.8 489.8 281.8)"/><ellipse cx="435.3" cy="291.3" rx="2.9" ry="3.2" fill="#2ae82e" transform="rotate(-1.6 435.3 291.3)"/><ellipse cx="436.1" cy="290.9" rx="2.4" ry="2.7" fill="#2ae82e" transform="rotate(-18.2 436.1 290.9)"/><ellipse cx="427.3" cy="272.8" rx="1.7" ry="6.1" fill="#2ae82e" transform="rotate(14.2 427.3 272.8)"/><ellipse cx="427.5" cy="270.5" rx="1.6" ry="5.7" fill="#2ae82e" transform="rotate(-13.5 427.5 270.5)"/><ellipse cx="399.9" cy="295.7" rx="1.7" ry="4.1" fill="#2ae82e" transform="rotate(-25.8 399.9 295.7)"/><ellipse cx="399.7" cy="295.6" rx="1.6" ry="3.9" fill="#2ae82e" transform="rotate(-23 399.7 295.6)"/><ellipse cx="365.6" cy="299.3" rx="2.4" ry="2.4" fill="#2ae82e" transform="rotate(6.4 365.6 299.3)"/><ellipse cx="500.9" cy="355.4" rx="2.4" ry="2.4" fill="#2ae82e" transform="rotate(2.6 500.9 355.4)"/><ellipse cx="508.3" cy="394.9" rx="2.7" ry="2.7" fill="#2ae82e" transform="rotate(-16.5 508.3 394.9)"/><ellipse cx="507.1" cy="393" rx="2.4" ry="2.4" fill="#2ae82e" transform="rotate(-17 507.1 393)"/><ellipse cx="288" cy="408" rx="2.4" ry="2.4" fill="#2ae82e" transform="rotate(7.6 288 408)"/><ellipse cx="303.1" cy="382.4" rx="3.6" ry="2.4" fill="#2ae82e" transform="rotate(19.7 303.1 382.4)"/><ellipse cx="302.6" cy="383.6" rx="3.6" ry="2.4" fill="#2ae82e" transform="rotate(17.7 302.6 383.6)"/><ellipse cx="319.2" cy="395.4" rx="2.9" ry="2.9" fill="#2ae82e" transform="rotate(-2.5 319.2 395.4)"/><ellipse cx="316.7" cy="394.4" rx="3.5" ry="3.5" fill="#2ae82e" transform="rotate(-15.6 316.7 394.4)"/><ellipse cx="466" cy="395.4" rx="2.4" ry="2.4" fill="#2ae82e" transform="rotate(-11.8 466 395.4)"/><ellipse cx="456.6" cy="270" rx="3.5" ry="1.7" fill="#2ae82e" transform="rotate(-33.4 456.6 270)"/><ellipse cx="457.4" cy="268" rx="4" ry="2" fill="#2ae82e" transform="rotate(-47.2 457.4 268)"/><ellipse cx="284.1" cy="274" rx="3" ry="2.2" fill="#2ae82e" transform="rotate(-2.5 284.1 274)"/><ellipse cx="284" cy="274" rx="2.4" ry="1.8" fill="#2ae82e" transform="rotate(-13.5 284 274)"/><ellipse cx="438.9" cy="417.3" rx="2.5" ry="2.5" fill="#2ae82e" transform="rotate(-10.8 438.9 417.3)"/><ellipse cx="438.1" cy="417.6" rx="2.4" ry="2.4" fill="#2ae82e" transform="rotate(-9.2 438.1 417.6)"/><ellipse cx="368.2" cy="260" rx="2.4" ry="2" fill="#2ae82e" transform="rotate(13.9 368.2 260)"/><ellipse cx="480.6" cy="258.4" rx="3.4" ry="1.4" fill="#2ae82e" transform="rotate(13.4 480.6 258.4)"/><ellipse cx="479.7" cy="257.5" rx="3.6" ry="1.5" fill="#2ae82e" transform="rotate(13.4 479.7 257.5)"/><ellipse cx="54.9" cy="419.1" rx="2.2" ry="3" fill="#2ae82e" transform="rotate(-11.5 54.9 419.1)"/><ellipse cx="54.3" cy="420.5" rx="2.2" ry="3" fill="#2ae82e" transform="rotate(8.3 54.3 420.5)"/><ellipse cx="70" cy="420" rx="2.4" ry="2.4" fill="#2ae82e" transform="rotate(-19.2 70 420)"/><ellipse cx="507" cy="299" rx="2" ry="3.4" fill="#2ae82e" transform="rotate(18.4 507 299)"/><ellipse cx="507.2" cy="300.6" rx="2.1" ry="3.4" fill="#2ae82e" transform="rotate(-18.8 507.2 300.6)"/><ellipse cx="508" cy="250" rx="2" ry="3.2" fill="#2ae82e" transform="rotate(16.1 508 250)"/></g>
<g filter="url(#ab2)"><path d="M481.3 187.7h0M374.8 152.4h0M286.8 185.6h0M224 249.6h0M444.2 175.3h0M155.9 312.2h0" stroke="#28a028" stroke-width="1" stroke-linecap="round" opacity="0.2"/><path d="M230.9 168.1h0M192.4 365.5h0M128.1 346h0M55.7 231.3h0M111.5 227.7h0M170.6 321.6h0M373 139.5h0M338.9 158.8h0M190 185.7h0M401.2 167.5h0M71.9 294.8h0M281 243h0M365.4 170h0M377.7 159.5h0" stroke="#28a028" stroke-width="1.5" stroke-linecap="round" opacity="0.2"/><path d="M435 183.2h0" stroke="#28a028" stroke-width="2" stroke-linecap="round" opacity="0.2"/><path d="M242 120.8h0M254.2 91.9h0M493.1 242h0M399.1 125.6h0M236.1 419.4h0M337.4 374.2h0M95.9 237.3h0M258.1 115.1h0M128.3 260.2h0M377.8 367.7h0M333.6 282.3h0M267.7 308.4h0M461.4 84.1h0M156.9 262.1h0M140.2 116.7h0M70.7 194.6h0M481.4 361.4h0" stroke="#28a028" stroke-width="1" stroke-linecap="round" opacity="0.3"/><path d="M64.2 258.1h0M110 320.4h0M440.6 134.8h0M100.6 344.9h0M338.8 84.6h0M116.1 211.3h0M406.1 210.6h0M131.6 274.4h0M70 98.8h0M472.5 354.9h0M219.1 188.1h0M439.6 406.3h0M342.2 183.7h0M75.7 326.1h0M149.6 155h0M72.8 222.1h0M425.5 177.8h0M462.4 334.3h0M414.2 340.7h0M351.1 316.1h0M499 202h0M246.2 162h0M382.7 164.8h0M71.5 98.3h0" stroke="#28a028" stroke-width="1.5" stroke-linecap="round" opacity="0.3"/><path d="M345.6 360.2h0M438 256.7h0M394.7 198.5h0" stroke="#28a028" stroke-width="2" stroke-linecap="round" opacity="0.3"/><path d="M445 299.7h0M299.8 410.6h0M117.7 184.4h0M441.7 126h0M376.4 385.7h0M198 177.9h0M375.1 172.9h0M364.3 90.3h0M100.8 378h0M375.7 389.3h0M497.9 424.3h0M396.5 281.4h0M230.5 295h0M281 396.9h0" stroke="#28a028" stroke-width="1" stroke-linecap="round" opacity="0.4"/><path d="M266.9 399.5h0M385.8 108.4h0M400.3 272.2h0M269.1 129.5h0M84 244h0M282.8 392.4h0M183.3 170.4h0M229.7 363.4h0M72.7 214h0M146.2 240.2h0M481.8 178.1h0M389.7 180.4h0M477.7 150.9h0M255 363.2h0M279.7 228.4h0M125.1 377.8h0M322.8 385.8h0M167.8 209.1h0M376.4 317.1h0M126.2 100.8h0M61.3 84.2h0M463.2 167.1h0" stroke="#28a028" stroke-width="1.5" stroke-linecap="round" opacity="0.4"/><path d="M452 344.8h0M272.8 417.8h0M307.5 248h0M202.2 90.7h0M190.8 294.7h0M354.5 281.2h0" stroke="#28a028" stroke-width="2" stroke-linecap="round" opacity="0.4"/><path d="M465.9 405.1h0M413 104.6h0M309.9 137.2h0M318.5 152.1h0M505.9 345.1h0M503.1 139.1h0M481.8 203.8h0M188.3 234.5h0M478.7 294.1h0M506.7 259.8h0M171.5 151.7h0M283.8 294h0M451.6 168.2h0M139.4 321.9h0M141.1 111.3h0M304.2 112.6h0M255.9 262.1h0M281.3 122.2h0" stroke="#28a028" stroke-width="1" stroke-linecap="round" opacity="0.5"/><path d="M412.4 396h0M279.8 403.1h0M239.6 229.2h0M435.7 134.8h0M300.3 83.5h0M484.5 289.4h0M250.3 387.8h0M510.7 366.1h0M56.7 369.2h0M148.5 180.5h0M491.8 157.6h0M474 298.1h0M61.3 394.1h0M117.2 182.1h0" stroke="#28a028" stroke-width="1.5" stroke-linecap="round" opacity="0.5"/><path d="M373.7 377.4h0" stroke="#28a028" stroke-width="2" stroke-linecap="round" opacity="0.5"/><path d="M99.4 128.9h0M156 94.4h0M234.1 124.3h0M103.4 148.3h0M271.8 144.2h0M95.9 193.9h0M182.5 227.7h0M146.8 234.7h0M246 170h0M441.1 100.6h0M418.1 164.5h0M508.2 168.4h0M491.3 227.4h0M512.1 228.1h0M513.5 209.2h0M310.3 200.9h0M292.9 183.4h0M374.1 239.5h0M185.1 316.1h0M195.1 319.6h0M200.9 335h0M99.1 352.4h0M151.8 378.5h0M272 420h0M308.2 329.7h0M288.3 347.3h0M353.6 341.6h0M388.1 344.7h0M451.6 338.7h0M403.6 398.8h0M487.3 280.8h0M507.6 397.6h0M462.4 394.5h0" stroke="#28b828" stroke-width="1" stroke-linecap="round" opacity="0.3"/><path d="M108.1 145.1h0M141.6 168.3h0M154.3 160.9h0M197.8 135.1h0M192.5 148.1h0M56.9 147.1h0M431.4 123.5h0M382.4 129.7h0M476 143.8h0M396.2 184.8h0M420.3 164.4h0M490.2 226.1h0M365.8 232.7h0M362.9 230.8h0M316.1 86.4h0M93.6 284.2h0M94.1 295.3h0M100.7 301h0M115.8 298.3h0M104.1 298.8h0M177 300.4h0M217.5 387.1h0M247.7 311.7h0M421.1 355.3h0M489.4 280.5h0M402.4 291.8h0M477.4 259.2h0" stroke="#28b828" stroke-width="1.5" stroke-linecap="round" opacity="0.3"/><path d="M506.4 207.6h0M330 84.9h0M110.6 306.4h0M99 299.3h0M116.4 290.3h0M455.2 378.5h0M467.6 381.2h0M402.6 305.8h0M366.6 300.6h0M315.9 403h0" stroke="#28b828" stroke-width="2" stroke-linecap="round" opacity="0.3"/><path d="M73.2 96.5h0M123.6 128.3h0M150.3 124.4h0M151.2 111.1h0M149.7 99.8h0M163.9 97.5h0M247 91.1h0M239.4 119.1h0M234.5 135.9h0M98.6 162h0M181.5 144.8h0M170.6 200.4h0M229.2 191.7h0M280.1 153.6h0M282.4 201.4h0M161.6 197.2h0M211.8 247.4h0M139.5 235.5h0M257.2 171.2h0M258.3 168.1h0M242.5 245.5h0M78.2 91.6h0M62.1 82.5h0M104.2 99.6h0M431.2 98.3h0M454.2 121.6h0M491 107.3h0M372.8 133.3h0M478.9 153h0M346.6 181h0M374.7 197.5h0M510.5 164.7h0M302.5 198.6h0M420.5 209h0M296.6 134.7h0M433.1 241.8h0M76.5 295.1h0M101 297.1h0M109.7 297.6h0M194.5 308.9h0M199.4 326.3h0M98.7 364.3h0M270.7 386.3h0M275.2 397.3h0M244 314.7h0M80 330.4h0M91.2 330.1h0M167.4 283.9h0M170.8 271.3h0M211.8 412.1h0M206.7 400.2h0M324.4 333h0M319.2 360.6h0M391.6 372.4h0M387.7 376.2h0M407.4 402.5h0M385.7 402.1h0M487.4 281.8h0M436.8 293.3h0M284.1 409.2h0M305.2 386.1h0M310.4 381.7h0M311.6 388.6h0M506.4 298.6h0" stroke="#28b828" stroke-width="1" stroke-linecap="round" opacity="0.4"/><path d="M123.7 125h0M152.6 93.3h0M237.8 83.8h0M240.9 116h0M88.8 163.4h0M102.6 143.7h0M193.7 130h0M181.8 204.7h0M263.4 188.4h0M271.3 145.1h0M288.2 218.5h0M275.5 213h0M253.1 226.7h0M130.3 227.5h0M285.5 92.2h0M284.3 92.2h0M315.5 97.1h0M309.1 84.3h0M417 81.4h0M425.2 94.1h0M435.2 125.6h0M429.9 109.2h0M369.8 143.5h0M457.9 142.2h0M448.6 150.3h0M487.9 153h0M477.3 152.4h0M352.1 184.1h0M369.4 188.4h0M382.9 189h0M380.1 183.4h0M419.1 166.5h0M500.8 232.7h0M506.5 214.7h0M421.3 202.1h0M480.4 206.9h0M291.4 140.2h0M358.3 228.1h0M367.6 239.8h0M367 239.1h0M356.3 251.4h0M83.4 301h0M72.7 304.5h0M79.4 308.2h0M107.5 289.5h0M168.1 331.2h0M200.9 300h0M280.9 395.3h0M254.6 269h0M252.5 330.7h0M171.1 271.8h0M175.5 258.6h0M198 261.7h0M299.5 318.9h0M348.7 326.6h0M311.5 355h0M321.1 351.5h0M322.5 359.2h0M404.4 354.2h0M388.7 369.6h0M454.6 337.5h0M468 368.8h0M454.3 370h0M480.1 355.8h0M398.7 407.2h0M412.5 388.4h0M383.9 415.1h0M391.6 417.4h0M440.4 292.6h0M432.8 301.8h0M431.5 263.5h0M374.6 299.5h0M504.3 350.7h0M296.9 378.9h0M459.9 272.2h0" stroke="#28b828" stroke-width="1.5" stroke-linecap="round" opacity="0.4"/><path d="M65.4 99.6h0M123.9 131.8h0M107.5 129.6h0M149.1 93.9h0M237 93.9h0M101.6 149.5h0M199.2 141.9h0M232.8 191h0M264.3 199.1h0M54 175.4h0M103.3 192.2h0M201.2 250.7h0M279.6 85.2h0M446.8 145.1h0M436.3 118.9h0M481.4 160.5h0M487.2 159h0M365.3 156.6h0M462.9 219.8h0M366.5 89.7h0M49.4 265.8h0M69.6 301.4h0M87.6 301.9h0M95.8 295.8h0M193.6 328.8h0M161.2 379.7h0M171.6 261.5h0M208.2 413.6h0M314.6 363.7h0M326.8 354.8h0M463.1 369.4h0M325.2 392.4h0M320.5 396.6h0M504 246.2h0" stroke="#28b828" stroke-width="2" stroke-linecap="round" opacity="0.4"/><path d="M145.6 97.5h0M152.4 101.3h0M101.8 154.3h0M133.7 167.2h0M195.7 134.4h0M178.7 192.1h0M228.8 190.9h0M263.1 198.7h0M173.4 233.1h0M169.1 234.1h0M252.2 175.7h0M90.7 98.2h0M279.2 94h0M451.1 128.5h0M440.8 120.5h0M475 111.4h0M485.5 151h0M494.6 150.7h0M371.4 160.1h0M377.2 196.1h0M508.1 169.1h0M499.8 221.6h0M368.3 103.5h0M60.6 255.6h0M169.1 325.2h0M180.6 331.3h0M184.9 318h0M193 328.1h0M155.8 388.3h0M208.7 381.6h0M222.4 411.6h0M283.1 428.6h0M275.9 377.3h0M254 263.7h0M243.7 318.1h0M233.5 317.6h0M74.8 332.2h0M214.7 413.5h0M330.6 329.8h0M339.4 343h0M388.8 353.1h0M439.9 368h0M449.7 338.9h0M499.6 289.5h0M432.6 301.1h0M428.3 277.4h0M502.7 355.3h0M511.2 402.3h0M506.9 390.1h0M302.2 385.5h0M469.1 403.3h0M462.8 271.5h0M441.6 423.3h0M364.7 258.7h0M512.9 299h0M511.9 303.7h0M507.7 249.3h0M509 251.7h0" stroke="#28b828" stroke-width="1" stroke-linecap="round" opacity="0.5"/><path d="M88.5 117.6h0M86 117.7h0M121 133.8h0M247.6 92h0M225.7 125.4h0M138.9 165h0M154.5 172.9h0M152.8 162.8h0M280.3 204h0M61.5 177.9h0M62 169.8h0M98.4 197.9h0M256.1 227.4h0M181.5 239h0M255.8 178.5h0M257.6 176.4h0M70.8 143.7h0M80.1 84.3h0M309.2 92.7h0M462.2 121.8h0M434.6 125.4h0M438.3 128.1h0M476 108.2h0M352.9 143.4h0M364.5 145.7h0M371.6 159.9h0M344.5 181.2h0M342.4 174.7h0M397.4 184h0M418.4 187.1h0M505.7 229.8h0M363.8 231.8h0M364.2 90.7h0M61.6 266.7h0M92.6 300.2h0M114.3 289.1h0M182.4 328.5h0M94 361.6h0M220.3 389.8h0M272.9 397h0M272.1 382h0M81.1 325.5h0M196.4 256.8h0M162.1 405.9h0M283 311.7h0M295.2 327.6h0M343.4 319.6h0M343.3 323.4h0M380.3 368.5h0M386.9 371.4h0M461.1 372.3h0M460.5 379.6h0M467.2 374.3h0M383.9 415.9h0M504.6 393.1h0M322.3 388.8h0M320.2 391.8h0M459.2 265.8h0M441.7 413.5h0M477.4 261.3h0M476 258.8h0M510.1 251h0M506.8 252h0" stroke="#28b828" stroke-width="1.5" stroke-linecap="round" opacity="0.5"/><path d="M94.2 126.7h0M149 117.1h0M144.5 121h0M249.9 97.1h0M198.3 137.2h0M184.8 196.6h0M170.2 238.3h0M246.6 169.2h0M59.2 144.2h0M110.4 98.9h0M437.6 147.9h0M454.8 147.4h0M516.3 181h0M294.6 141.8h0M366 251.5h0M64.6 262.3h0M103.7 305.7h0M119.4 305.9h0M200.8 310.4h0M231.3 417.6h0M289 386.9h0M275.3 405.6h0M254.9 269.6h0M158.1 287.4h0M198.8 266.4h0M143.2 421.3h0M307.4 322.7h0M307.9 332.2h0M381.4 358.9h0M453 336.7h0M468.3 371h0M408.2 405.2h0M284.7 410.7h0M66.9 421h0M500.8 303.1h0" stroke="#28b828" stroke-width="2" stroke-linecap="round" opacity="0.5"/><path d="M87.3 118.1h0M145.6 98.9h0M250.5 87.5h0M234.7 94h0M281.4 89.5h0M99.6 159.5h0M140.8 165.2h0M151.8 157.9h0M198.7 133.3h0M228.5 193.9h0M278.8 211.8h0M61.4 185h0M250.4 228.3h0M180.6 240.3h0M138 234.1h0M238.3 239.7h0M100.4 97.7h0M105.5 100.7h0M316.2 89.5h0M417 100h0M425.8 97h0M361.9 148.5h0M359.8 130h0M370.8 135.8h0M378.2 132.4h0M371.2 161.8h0M426.5 154.7h0M506.5 225.8h0M483.6 215.9h0M506 214.2h0M470.9 227.6h0M484.3 202.5h0M366.3 247.5h0M438.7 244.6h0M327.9 89.4h0M360.7 95.1h0M57.3 298.6h0M77.3 300.1h0M125.9 288h0M197 315.7h0M195.9 327.5h0M226.7 374.2h0M275.6 381h0M262.9 268.3h0M247.6 322.8h0M156.9 275.9h0M170.6 268.7h0M158.3 401.3h0M134.5 420.5h0M185.2 412.2h0M312.8 334.6h0M328.8 349.5h0M466.5 335.9h0M473.9 364.9h0M386.6 417.4h0M489.7 279.1h0M433.2 301.2h0M433.2 271.8h0M362 295.9h0M293.1 405.1h0M315.6 397.9h0M457.9 266.8h0M294.5 269.5h0M447.9 411.4h0" stroke="#28b828" stroke-width="1" stroke-linecap="round" opacity="0.6"/><path d="M50.9 86.7h0M241.2 125.8h0M231.7 123.1h0M286.4 90.2h0M76.2 162.9h0M90.4 154.8h0M85.2 164.5h0M141.5 167.9h0M148.3 159h0M197.7 141.4h0M190.5 161h0M194.1 191.2h0M181.1 198.2h0M56.9 171.7h0M166.1 201.3h0M217.6 216.6h0M208.9 255h0M188.2 235.3h0M139.5 231.7h0M66 141.4h0M232.1 241.5h0M68.1 86.2h0M318.5 89.8h0M433.2 99.4h0M432.2 116.6h0M388.4 188.4h0M497.3 179.2h0M501.7 216.3h0M300.2 210h0M293.4 207h0M48.4 262.2h0M189.8 330.7h0M192.1 326.1h0M192.7 329.1h0M95.3 356.5h0M155.4 385.4h0M157.5 372.9h0M62.9 324.3h0M171.8 266.1h0M201 256.5h0M196.2 266.7h0M214.5 414.6h0M203.1 398.7h0M72.9 395.7h0M158.5 402.4h0M136.3 422.2h0M135.4 424.3h0M186.2 401.8h0M323.4 358.3h0M315 345.5h0M395.8 349.9h0M448.4 334.6h0M447.8 328.5h0M476 362.1h0M471.2 373h0M395.3 402.7h0M372.4 410.6h0M492.5 285.8h0M482.7 284.6h0M492 280.4h0M428.5 265.6h0M426.9 293.7h0M513.2 398h0M291.2 408.6h0M295.3 408.4h0M276.1 279.2h0M475.5 254.8h0M57.7 432.8h0M510.7 302.5h0M511.2 307.7h0M512.4 251.7h0" stroke="#28b828" stroke-width="1.5" stroke-linecap="round" opacity="0.6"/><path d="M152.8 95.9h0M234.2 117.9h0M81.1 157.6h0M133.8 176.7h0M195.4 134.2h0M144.3 230.4h0M138.6 237.6h0M56.3 148.3h0M59.2 138.1h0M84.8 89h0M104.7 102.5h0M414.6 123.3h0M386.1 130.5h0M302.4 189h0M355 252.6h0M59.8 264.2h0M115 311.8h0M114.4 306.2h0M190 325.1h0M275.8 386.2h0M248 327.2h0M166.1 267.8h0M167.3 407.3h0M432.7 368.2h0M380.8 401.9h0M482.9 285.8h0M401.5 295.3h0M401.7 291.6h0M441.6 423.3h0M361.7 260.2h0" stroke="#28b828" stroke-width="2" stroke-linecap="round" opacity="0.6"/><path d="M99.1 114.1h0M149.8 126h0M147.3 94.3h0M186.8 152h0M157.7 188.5h0M261.5 201.2h0M273.3 146.5h0M57.8 186.2h0M171.6 236.3h0M264.3 169h0M86.2 94h0M282.3 93.8h0M287.3 100.4h0M416.8 90.8h0M425.7 139.4h0M455.3 147.5h0M371.6 160.2h0M354.1 182.3h0M366.3 193.1h0M503.4 167.7h0M507.3 216.2h0M508.2 211.7h0M477.7 196.9h0M360.6 93.3h0M54.5 260.7h0M98.7 364.3h0M224.8 416.5h0M258.6 272.7h0M168.1 281.8h0M199.3 258.6h0M206.9 411.2h0M181.3 411.3h0M459.5 341.3h0M409.1 397.1h0M391.8 417.6h0M284.2 284.8h0M470.4 259.4h0M476.6 253.9h0M513.9 305.4h0" stroke="#28b828" stroke-width="1" stroke-linecap="round" opacity="0.7"/><path d="M139.7 165.4h0M164.4 185.6h0M58.4 169.9h0M79.7 94.2h0M427.5 101.4h0M425.4 122.4h0M480.8 108.6h0M485.1 110.9h0M425.5 205.1h0M473.4 228.4h0M462.2 221.2h0M375 237.8h0M330.6 90.3h0M81.3 295.9h0M168.6 319.4h0M194.6 296.1h0M149.6 383.4h0M165.2 405.1h0M163.6 413.4h0M144.3 418.1h0M185.8 406.5h0M354 326.8h0M433.5 361.5h0M463.2 328.1h0M377.7 406.4h0M428.9 270.2h0M364.9 294.1h0M311.8 395.9h0M430.7 409.3h0M368.2 262h0M368.8 258.3h0M488.7 257.9h0" stroke="#28b828" stroke-width="1.5" stroke-linecap="round" opacity="0.7"/><path d="M84.5 114.9h0M85.3 153.4h0M106.1 159.7h0M265.6 150.4h0M137.5 229.5h0M381.4 140.3h0M374.5 168.4h0M180.9 311.4h0M156 389.8h0M157.6 282.2h0M300.7 334.3h0M472.4 378.3h0M396.5 392.8h0M386.4 417.6h0" stroke="#28b828" stroke-width="2" stroke-linecap="round" opacity="0.7"/><path d="M305.8 405h0M440.1 87.8h0M300.6 365h0M427.1 121.9h0M308.7 255.5h0M408.8 269.2h0M510.5 191h0M243.6 364.7h0M401 128.3h0" stroke="#30c030" stroke-width="1" stroke-linecap="round" opacity="0.2"/><path d="M77 285.6h0M261.3 226.7h0M207.7 191.4h0M66 384.1h0M209.8 122.5h0" stroke="#30c030" stroke-width="1.5" stroke-linecap="round" opacity="0.2"/><path d="M440.4 415.2h0M446.9 313.9h0M196.2 200.1h0M158.2 88.5h0M162.2 389.6h0M212.4 419.6h0M313.7 198.6h0M455.9 127.2h0M507.1 381.6h0M284.4 378.8h0M461.1 400.8h0M170.3 257.7h0M215.5 191.3h0M77 88.3h0M422.2 131.8h0M477.2 373.6h0M254.1 317.2h0" stroke="#30c030" stroke-width="1" stroke-linecap="round" opacity="0.3"/><path d="M287.4 135.1h0M232 162.4h0M103.6 301.2h0M219.3 301.4h0M86.1 383.2h0M480.9 360.4h0M470.9 172.3h0M155.7 297.4h0M425.7 381.5h0M80.9 328.7h0M177.8 220.7h0M92.3 421.6h0M82.4 191.2h0M156.5 415.8h0M163.6 189.9h0M417.4 342.5h0M238.6 221.5h0M256.5 344.5h0M92.4 266.4h0M501.5 269h0M308.4 232.9h0" stroke="#30c030" stroke-width="1.5" stroke-linecap="round" opacity="0.3"/><path d="M309.9 161.3h0M258.1 116.2h0M412.4 173.6h0" stroke="#30c030" stroke-width="2" stroke-linecap="round" opacity="0.3"/><path d="M410.3 299.6h0M205.1 284.1h0M316.9 240.5h0M177.1 346.2h0M374.4 158.5h0M444.7 193.4h0M138.9 333.1h0M240.8 109.2h0M363.2 405.1h0M499.3 101.1h0M149.9 147h0M148.7 242.3h0M462.5 206.9h0M470.2 159.5h0M341.7 286.4h0M285.3 203.9h0M466.5 171.3h0M119.6 397.3h0M142.1 146.6h0M247.1 202.8h0M217.9 274.8h0M64 311h0M433.9 182.5h0" stroke="#30c030" stroke-width="1" stroke-linecap="round" opacity="0.4"/><path d="M383.7 309.3h0M150.7 308.1h0M279.7 349h0M96.4 138.2h0M58.2 284.8h0M350.1 196.9h0M480.2 102.1h0M73.1 240.9h0M255.7 163.4h0M54.1 120.4h0M454.2 217h0M92.8 113.9h0M312.9 137.1h0M395.8 336.5h0M281.7 372.1h0M296.9 306.3h0M435.5 397.5h0M311.8 414.4h0M426 249.4h0M364.6 356.5h0" stroke="#30c030" stroke-width="1.5" stroke-linecap="round" opacity="0.4"/><path d="M103.5 181.6h0M445.1 236.4h0M453.4 307.3h0M370.4 156.5h0M73.3 342.2h0M508.9 347.1h0M198.2 90h0M237.9 370.4h0M144 239.9h0M240.7 113.9h0M383.5 135.7h0" stroke="#30c030" stroke-width="1" stroke-linecap="round" opacity="0.5"/><path d="M187 97.7h0M161.3 267.9h0M222.2 416.9h0M257.1 254.2h0M104.9 399.4h0M183.8 225.2h0M119.5 199.8h0M67.7 142.2h0M347 293.9h0M121 413h0M425.9 329.7h0M124.5 124h0M500 150h0M385.5 170.2h0M68.9 363h0M426.6 285.8h0M420 234h0M307.6 374.4h0M144 254.9h0M160.1 384.7h0M371.1 382.6h0M435.3 93.7h0M443.5 377.3h0" stroke="#30c030" stroke-width="1.5" stroke-linecap="round" opacity="0.5"/><path d="M112.6 328.4h0M247.2 270.5h0M373.1 255.2h0M435.6 375.7h0" stroke="#30c030" stroke-width="2" stroke-linecap="round" opacity="0.5"/><path d="M58.2 93.5h0M121.1 122.3h0M235.6 123.1h0M222 209.2h0M203.1 256.1h0M80.9 88.3h0M437.2 144.4h0M488.5 155.3h0M367 163.8h0M355.4 171.6h0M500.9 231h0M301.1 202.1h0M470.8 222.3h0M480.6 214.4h0M175.7 314.6h0M210.8 380.7h0M274.6 408.7h0M247 323.6h0M291.7 326.4h0M292.6 320.1h0M456.9 338.4h0M453.6 341.2h0M372.9 406.4h0M398.7 297.2h0M292.2 411.1h0M445.8 264.9h0M436.4 419.8h0" stroke="#30d030" stroke-width="1" stroke-linecap="round" opacity="0.3"/><path d="M86.6 112.2h0M139.6 165.8h0M186.2 151h0M51.2 189.7h0M279.4 90.8h0M316.6 93.5h0M422.1 100.8h0M423.3 93.3h0M463.6 146.6h0M370.8 152h0M358.3 177.6h0M505.2 162.6h0M498.5 226.5h0M296 204h0M296.3 206.9h0M415.5 206.7h0M184.3 306.3h0M169.5 323.2h0M217.4 406.4h0M267.4 421.7h0M161.2 288h0M163.8 283.8h0M331.1 330.6h0M396.8 358.3h0M434.6 367.7h0M442.2 352.8h0M435.9 358.8h0M455.4 370.1h0M438.1 372.2h0M464.7 359.1h0M391.7 404.7h0M503 358.9h0M288.2 408.4h0M301 381.8h0M470.3 264.2h0M442.3 420.3h0M441.6 425.8h0" stroke="#30d030" stroke-width="1.5" stroke-linecap="round" opacity="0.3"/><path d="M158.4 95.8h0M244.6 108.8h0M269.7 105.1h0M192.4 147.9h0M278 144.7h0M60 141.3h0M428.3 95.1h0M439.6 115.8h0M359.6 143.3h0M379.5 184.1h0M416.2 210.5h0M291 136.7h0M327.9 89.5h0M58.1 302.7h0M59 301.1h0M87.1 301.4h0M318.6 355.8h0M390.8 357.9h0M296.7 394.9h0M470.8 254.3h0" stroke="#30d030" stroke-width="2" stroke-linecap="round" opacity="0.3"/><path d="M60.6 99.7h0M79.4 125.7h0M155.5 117.7h0M148.9 120.3h0M149.5 87.6h0M156.3 98.9h0M237.2 131.4h0M96.5 151.2h0M188.4 197.8h0M188.8 187.9h0M265.8 193.1h0M269.4 200.7h0M273.1 207.8h0M103.7 200.9h0M169.5 196.1h0M252.9 222.6h0M202.1 250.8h0M260.6 180.8h0M61.5 155.1h0M238 237.6h0M284.5 96.2h0M293.2 94h0M435.5 95.1h0M438 141.7h0M354.6 131.5h0M454.7 145.8h0M457.2 154.9h0M457.2 141.7h0M497.4 157.8h0M372.5 160.5h0M349.9 186.2h0M352.8 187.5h0M511.3 177h0M500.4 208.1h0M423.1 216.3h0M366.3 238.7h0M362.9 223.6h0M366.3 235.8h0M361.5 248.7h0M327.2 84.4h0M59.4 247.8h0M175.5 300.4h0M159.1 325.5h0M93.7 358h0M229.4 412.1h0M273.5 422.5h0M282.9 423.8h0M266.2 272.4h0M163.4 280.8h0M191.7 256.7h0M204.3 400.3h0M78.1 396.3h0M65.2 396h0M139.7 417.7h0M143.2 423.7h0M130.7 419.1h0M189.3 403.8h0M389.1 356h0M431.3 360.7h0M449.9 336h0M461.6 374.4h0M405.6 403.8h0M430.2 268.6h0M397.1 295.4h0M301 387.7h0M310.2 388.4h0M56.9 419.2h0M68.2 418.8h0M503 302.1h0" stroke="#30d030" stroke-width="1" stroke-linecap="round" opacity="0.4"/><path d="M59.9 97.3h0M275.3 97.2h0M99.1 158.1h0M133.8 174.4h0M150 159.1h0M188.3 150.8h0M175.8 192.4h0M270.4 194.9h0M268.4 211.1h0M225.8 216.8h0M180.2 235.2h0M134.4 235.8h0M72.8 136.9h0M66.1 140.1h0M247.1 240.9h0M107.3 98.4h0M429.3 97.4h0M425 112.3h0M478.9 152.8h0M363.9 163h0M345.3 181.4h0M372.2 179.2h0M377.2 188.7h0M381.2 184.7h0M299.5 200.3h0M292.9 198.6h0M463.4 219.8h0M456.7 227h0M357.5 234.9h0M434.6 235.2h0M358.1 248.1h0M64.4 263.3h0M66.2 297.7h0M78.2 301.9h0M119.8 290.8h0M191.5 309.3h0M187.2 311.2h0M205.8 306h0M147.7 388.4h0M232.8 369.9h0M272.1 410.1h0M279.9 397.9h0M264.1 268.8h0M250.1 329.9h0M83.4 321.2h0M210.7 414.5h0M211.1 415.3h0M204.4 393.1h0M70.7 393.2h0M158.5 408.6h0M312.4 312.5h0M293.5 319.6h0M466.7 328.8h0M448.5 335.3h0M451.6 327.3h0M441.4 370.9h0M438.6 382.1h0M400.9 394.8h0M375.9 409.2h0M429 256.1h0M422.6 288.9h0M504.1 360.4h0M500.6 394.4h0M305 386h0M308 396.7h0M485.9 259h0M506.7 294.5h0" stroke="#30d030" stroke-width="1.5" stroke-linecap="round" opacity="0.4"/><path d="M83.9 128h0M121.9 120.3h0M250 91.1h0M160.4 159.2h0M228.7 187.9h0M233.1 196.5h0M165.8 197.7h0M424.8 96.8h0M446.3 132.3h0M383.1 132.6h0M500.1 160.7h0M354.3 180.1h0M391.2 188.8h0M400.9 195.6h0M419.7 162.3h0M425.3 166.9h0M426 164.1h0M60.7 307.2h0M106.2 309h0M195.3 314.1h0M197 333.3h0M251.1 323.6h0M82.1 326.9h0M103.7 329.4h0M163.4 286h0M172.2 265.1h0M294.7 347.1h0M307.2 327.3h0M337.1 325.9h0M402.9 403.4h0M414 396.6h0M394.6 411.1h0M426.8 258.9h0M396.6 305.3h0M372.6 260.3h0M477.5 260h0" stroke="#30d030" stroke-width="2" stroke-linecap="round" opacity="0.4"/><path d="M81.2 119h0M92.9 125h0M242.6 82h0M247.8 113.5h0M156.3 170.6h0M162.2 166.9h0M187.6 191.8h0M262.9 203.5h0M101.3 201.9h0M210 252.6h0M254.9 172.4h0M229.3 240.7h0M235.3 228.7h0M111.8 97h0M452.6 114.1h0M358.3 130.3h0M383 134.8h0M496.9 156.7h0M358.1 184.4h0M517.2 221.1h0M497 211h0M301.3 198.5h0M417.8 204.3h0M480.5 206.4h0M328.4 86.8h0M63.3 257.3h0M105.3 291.5h0M103.5 293h0M190.5 310.5h0M204.3 307.4h0M193.9 318.9h0M219.1 381.9h0M223.5 411.1h0M70.1 397.8h0M72.8 395.3h0M167.1 412.6h0M160.6 408.5h0M132 424.1h0M186 406.6h0M304.8 328.8h0M301.7 336.4h0M284.3 324.4h0M306.6 359.1h0M321.7 353.9h0M372.4 364.1h0M379 371.3h0M382.6 413.2h0M435.7 291.4h0M511.9 387.3h0M448.5 264.3h0M282.9 271.2h0M444.1 417h0M56.9 411.7h0M50.4 416h0M510.7 306.1h0" stroke="#30d030" stroke-width="1" stroke-linecap="round" opacity="0.5"/><path d="M159 99.2h0M243.3 105.6h0M98.8 149.7h0M191.1 143h0M186.9 160.7h0M271 145h0M270.9 200.4h0M51 169.6h0M166.8 196.8h0M167.1 230.9h0M247.9 236.4h0M79.1 88.1h0M103.1 98h0M436.2 115.9h0M369.8 140.8h0M357.5 130.7h0M348.7 142h0M379.3 186h0M384.2 189.6h0M412.9 181.5h0M488.4 223.2h0M503.1 222.2h0M311.3 194.2h0M303 193.3h0M471 232.2h0M358.4 227.1h0M64.5 296.8h0M78.9 304.4h0M99.3 297.7h0M147.9 379.5h0M247.7 381.1h0M226.4 407.7h0M290.6 388.3h0M276.7 423.9h0M273.2 394.2h0M250.4 324.8h0M194.8 265.7h0M207.1 410.9h0M68.2 394.5h0M188.3 404.5h0M289.1 338.9h0M358.5 330.3h0M390.5 354.2h0M456.9 347.2h0M449.7 338.3h0M453 334.5h0M398.8 409.8h0M373.5 404.4h0M426.2 267.4h0M307.8 384.7h0M464.8 393.4h0M469.1 396h0M286.1 278.4h0M285.4 269.2h0M436.8 418.4h0" stroke="#30d030" stroke-width="1.5" stroke-linecap="round" opacity="0.5"/><path d="M149.4 114.6h0M227.8 187h0M220.3 215.1h0M175.8 239h0M141.5 231.1h0M62.1 148.8h0M245.4 236.2h0M322.6 96.8h0M434.9 113h0M347.6 139.4h0M350.6 142.1h0M383.7 149.9h0M462.6 146.6h0M485.6 157.2h0M384.2 190.8h0M299.8 137.5h0M189 320.5h0M195.2 396.7h0M306.1 331.7h0M282.6 322.6h0M293.8 331.4h0M394.8 362.3h0M451.7 339.3h0M457.7 381.6h0M388.9 401.8h0M369.8 407.3h0M435.1 285.2h0M467.8 395.9h0M455.1 272.7h0M52.8 424.8h0M69.2 422.3h0M66.5 424h0" stroke="#30d030" stroke-width="2" stroke-linecap="round" opacity="0.5"/><path d="M90.5 123h0M122.6 134.6h0M284.5 92.5h0M286.8 93.6h0M275.2 101.4h0M99.2 151.3h0M157.5 167.6h0M204.8 141h0M179.9 184.1h0M178.5 181h0M226.6 193.6h0M180.5 240.3h0M171.5 240.1h0M249.9 176.5h0M264.1 166.9h0M66.3 95.1h0M458.2 138.3h0M451.4 118.4h0M483.1 103.1h0M353.3 143.9h0M456.5 137.7h0M477.6 154.9h0M368.6 159.4h0M348.7 184h0M512.7 171.6h0M484.7 211h0M509.6 214.1h0M300.9 202.1h0M460.1 216.2h0M440.3 234.8h0M358.4 246.9h0M367.9 98.6h0M56.7 295.1h0M58.2 300.7h0M93.3 296.8h0M111.8 302.1h0M174.2 309.5h0M170.5 312h0M178.9 320h0M191.5 301.1h0M191.2 330.1h0M94.7 360.1h0M263.6 262.4h0M239.6 310.9h0M240 314h0M162.8 283.1h0M189.8 264.8h0M203.2 393.1h0M303.3 330.4h0M291.8 333.1h0M325.6 333.8h0M336.5 325.2h0M337 331.6h0M424.9 371.5h0M437.9 361h0M428.2 269.4h0M360.3 300.8h0M361.8 296.9h0M491.6 356.2h0M510.3 389.5h0M511.4 389.7h0M317.6 399.7h0M325 399.8h0M287.6 271h0M57.4 421.7h0" stroke="#30d030" stroke-width="1" stroke-linecap="round" opacity="0.6"/><path d="M60.3 91h0M62.2 96.9h0M78.2 123.1h0M92.9 127.6h0M161.7 121.7h0M281.6 91.7h0M182.1 191.1h0M231.8 194.1h0M263.2 144.8h0M270.4 195.6h0M56.2 184.5h0M66.1 179.2h0M162.1 196.6h0M224.1 214.5h0M217.6 252.3h0M263.8 167.6h0M307.4 90.9h0M443.5 132.8h0M438.2 115.5h0M478 104.4h0M472.1 107.8h0M454 147.3h0M480.7 137.1h0M377.7 186.5h0M373.8 188.6h0M420.3 180.7h0M418.8 203h0M468.4 231.3h0M482.5 197.6h0M294.5 133.2h0M294.9 139.1h0M374.9 242.9h0M57.7 301.1h0M115 294.7h0M116 313.8h0M179.8 316.3h0M155.5 388h0M221.6 388.4h0M280.1 414.5h0M264.4 274.4h0M236.7 320.2h0M177.2 260.4h0M301.5 317.9h0M293.5 329h0M299 333h0M281.5 333.8h0M380.7 356.3h0M452 333h0M396.4 387.6h0M391.6 413.1h0M427.3 290.5h0M430.9 287.7h0M401.1 308.7h0M500.8 356h0M60.1 424.7h0M53.4 419.1h0M502.7 253.9h0" stroke="#30d030" stroke-width="1.5" stroke-linecap="round" opacity="0.6"/><path d="M58 107.7h0M158.4 115.4h0M229.3 122.3h0M189.4 190.1h0M234.4 199.3h0M207.5 247.7h0M75.1 86.8h0M69.5 91.6h0M316 88.5h0M318.1 90.3h0M438.7 117h0M432.3 122.9h0M477.2 111.2h0M390.6 182.9h0M416.3 163.6h0M507.6 211.9h0M482.9 199.6h0M82.4 305.9h0M116.5 313.5h0M196.9 313.5h0M199 327.9h0M220.7 374.8h0M266.2 423h0M168.5 282.2h0M327.5 327.8h0M340.2 333.1h0M321.3 353.4h0M434.9 361.6h0M429.1 366.2h0M423.9 368.5h0M444.2 335.8h0M442.1 282.5h0M425 290h0M408 309h0M453.6 268.5h0M370.6 261.5h0M70.5 416.8h0M74.4 421.2h0" stroke="#30d030" stroke-width="2" stroke-linecap="round" opacity="0.6"/><path d="M113.9 128.2h0M92.4 157.3h0M504.2 166.8h0M302.5 210.7h0M464.5 216.5h0M375.8 241.4h0M434.9 240.2h0M62.3 308h0M104.1 281.7h0M251.6 321.1h0M72.6 325.6h0M160.4 411.1h0M284.7 342.8h0M432.3 359.8h0M450.9 331.2h0M469.4 372.3h0M466 372.6h0M288.8 375.5h0M305.8 381.2h0M482.4 258.7h0M59.2 413.7h0" stroke="#30d030" stroke-width="1" stroke-linecap="round" opacity="0.7"/><path d="M240.4 126.1h0M89.6 154.3h0M72.8 162.9h0M153.6 158.5h0M199.7 140.7h0M90.2 194.7h0M306.5 86.4h0M416.6 87.9h0M426.1 110.2h0M364.5 138.7h0M484.9 207.7h0M522.3 228.4h0M499.6 221.5h0M459.3 220.5h0M479.8 202.8h0M480.4 218.7h0M362.9 89.3h0M106.7 290.7h0M107.4 302.1h0M197.8 322.3h0M272.6 402.1h0M268.6 265.8h0M261.1 272h0M74.4 323.7h0M185.3 263.3h0M210.6 411.8h0M285.2 316.5h0M291.5 335.9h0M330.5 358.8h0M323.4 348.3h0M450.2 329.8h0M480.7 375.1h0M380.6 411.1h0M391.3 293.7h0M365.1 296.8h0M497.9 353.7h0" stroke="#30d030" stroke-width="1.5" stroke-linecap="round" opacity="0.7"/><path d="M188.4 191.7h0M418.5 183.2h0M295.1 204h0M475.1 219h0M98.9 296.9h0M181.9 309h0M267 424.6h0M284 390.9h0M208.5 390.5h0M166.6 403.3h0M296.7 320.8h0M458 337.5h0M381.2 403.4h0M285.5 408.2h0M309.4 381.2h0M438.1 410.1h0M71.5 418.1h0M65.1 418.5h0" stroke="#30d030" stroke-width="2" stroke-linecap="round" opacity="0.7"/><path d="M230.4 259.1h0M117.7 271.9h0M327.7 208.1h0M123.1 132.3h0M115.1 257.6h0M501 278.4h0M190.6 315.5h0M204.1 393.9h0M469.4 130.2h0" stroke="#38d838" stroke-width="1" stroke-linecap="round" opacity="0.2"/><path d="M201.6 416.6h0M195.7 372.9h0M360.2 339.6h0M78.3 91.1h0M239.2 90.2h0" stroke="#38d838" stroke-width="1.5" stroke-linecap="round" opacity="0.2"/><path d="M416.1 179.4h0M307.6 241h0M68.4 174.3h0M144.9 167.4h0M235.2 125.4h0M113.1 176h0M156.4 322.5h0M200 212.4h0M352.1 360.3h0M200.4 175.3h0M220.5 404.2h0M144.8 362h0M108.2 287.5h0M315.6 341.4h0M275.7 98h0M438.3 410.9h0M127.7 267.7h0M138.9 368.2h0M443.9 157.6h0M235.3 356.4h0" stroke="#38d838" stroke-width="1" stroke-linecap="round" opacity="0.3"/><path d="M357.5 115h0M371.2 251.1h0M438.6 190h0M355.1 395.6h0M394.2 232.6h0M94.9 151.2h0M483.9 391.8h0M411.5 110h0M282.9 136h0M344.7 410.3h0M53 191.7h0M207.9 328h0M224.2 326h0M253.8 103.6h0M414.5 99.9h0" stroke="#38d838" stroke-width="1.5" stroke-linecap="round" opacity="0.3"/><path d="M318.4 133.1h0" stroke="#38d838" stroke-width="2" stroke-linecap="round" opacity="0.3"/><path d="M462.8 158.4h0M98.7 394.7h0M171.2 130.1h0M151.2 194.4h0M54.7 290.5h0M268.9 164.9h0M164.9 128.4h0M405.2 417.9h0M484.7 219.8h0M142.3 196.2h0M278.8 123.9h0M309.7 98.7h0M82 194.6h0M259.8 231.4h0M129.4 248.1h0M254.9 374.2h0M180.8 272.9h0M134.6 390.8h0M126.5 194h0M323.7 284.1h0M396.4 273.1h0M174.5 325.2h0M366 152.8h0M120.8 411.5h0M80.8 412.1h0" stroke="#38d838" stroke-width="1" stroke-linecap="round" opacity="0.4"/><path d="M231.4 178.2h0M327.9 400.7h0M254.7 81.8h0M125.1 176.5h0M127.6 252h0M197.1 227.9h0M248.4 377.9h0M76.9 299.4h0M275.7 266.8h0M230 333.5h0M421.6 343.4h0M265 261.5h0M102.3 193.5h0M90.6 256.2h0M507.7 165.8h0" stroke="#38d838" stroke-width="1.5" stroke-linecap="round" opacity="0.4"/><path d="M95.8 204.4h0M297.5 418.6h0M372.1 291h0" stroke="#38d838" stroke-width="2" stroke-linecap="round" opacity="0.4"/><path d="M209.4 253.5h0M143.1 209.3h0M415.3 324.9h0M235.5 306.3h0M134.3 251.2h0M503 146.5h0M155.2 415.2h0M133.5 178h0M450.2 404h0M65.5 168.5h0M452.5 134.1h0M426.5 262.8h0M478.6 306h0M86.7 299.9h0M120.3 116.6h0M394.4 318.6h0M262.9 417.5h0M497.1 95.7h0M365.8 137.9h0M159.9 196.2h0M238.8 415.9h0M186.3 112.2h0M400.1 236.1h0M412.8 97.5h0M255.8 214.1h0M458.8 353.2h0M275.5 318.4h0M460.4 327.3h0" stroke="#38d838" stroke-width="1" stroke-linecap="round" opacity="0.5"/><path d="M398.5 271.7h0M107.4 319.4h0M369.7 249.5h0M214.2 116.8h0M476.3 409.3h0M218.9 134.4h0M314.3 216h0M139.9 287.8h0M486.7 257.3h0M442.6 383.9h0M119.1 93.1h0M397.1 301.2h0M325.9 117.7h0M151.1 199.7h0M287.8 113.1h0M419.3 144.5h0M176.5 90.5h0M374.4 342.9h0M395.2 148.7h0" stroke="#38d838" stroke-width="1.5" stroke-linecap="round" opacity="0.5"/><path d="M265.7 389.9h0M122 215.8h0M199 89.4h0M438.4 219.8h0" stroke="#38d838" stroke-width="2" stroke-linecap="round" opacity="0.5"/><path d="M147.4 88.8h0M249.8 97.1h0M236.2 190.6h0M249.1 235.7h0M81.3 88.1h0M478 106.6h0M447 145.4h0M481.6 160.2h0M515.6 170.2h0M511.1 221.5h0M508.6 213.9h0M472.9 220.6h0M297.5 140.1h0M435.7 235.8h0M357.7 247.3h0M463.4 335.5h0M453.2 369.6h0M458.5 375.7h0M407.4 401.9h0M508 393.7h0M319 374.1h0M321.9 394.2h0M468.1 271.2h0M447.9 265.9h0M69.8 423.3h0M507.2 255.2h0" stroke="#3ce83c" stroke-width="1" stroke-linecap="round" opacity="0.3"/><path d="M141.4 106.2h0M275.3 90.6h0M275.5 101.7h0M190.2 143.9h0M178.5 202.2h0M259.4 195.2h0M101.8 194.4h0M142.7 228.3h0M264.4 178.3h0M72.4 86.9h0M292.1 88.3h0M432.8 93.6h0M417.4 121.7h0M428.7 125.1h0M440.3 121.4h0M473.9 119.3h0M386.4 131.7h0M378.8 195.1h0M418.5 177.5h0M328.4 92.4h0M100.8 288.6h0M100.7 297.3h0M123.2 304.1h0M161 381h0M227.9 417.7h0M287 409.3h0M278.3 389.5h0M73.4 395.3h0M73 401.1h0M290 345.2h0M306.7 334.5h0M435.7 363.1h0M404.5 403.2h0M443.2 411.2h0M503.1 294.8h0" stroke="#3ce83c" stroke-width="1.5" stroke-linecap="round" opacity="0.3"/><path d="M100.7 147.8h0M63 87.9h0M106.3 101.9h0M433.7 127.9h0M455.7 144.3h0M490.9 149.8h0M363.6 169.4h0M514.6 170.2h0M504.6 162.9h0M99.8 298.1h0M281 416.6h0M490.6 276.3h0M314.4 387.5h0M448.4 419.7h0" stroke="#3ce83c" stroke-width="2" stroke-linecap="round" opacity="0.3"/><path d="M66 100.7h0M245.2 90.4h0M169.8 190h0M192.1 191.8h0M229 189.5h0M268.1 191.3h0M258.4 198.6h0M263.7 199.3h0M281.6 200.3h0M62 148h0M65.2 142.3h0M90.7 94.2h0M68 94.7h0M285.4 102.3h0M315.1 85.6h0M444.2 113.9h0M425 121.7h0M355.1 185h0M356.4 185h0M409.4 185.5h0M419.3 188.6h0M506.4 173h0M485.5 221.2h0M509.7 213h0M299.9 186.4h0M376.5 238.8h0M360.8 97h0M62.4 263.1h0M65.6 292.9h0M110.3 311.8h0M204.4 298.8h0M229.9 384.3h0M228.9 385h0M264.6 384.3h0M272.3 401h0M263.9 275.1h0M265.9 268.5h0M70.9 399.5h0M292.5 315.3h0M317.8 353.6h0M397.2 375.4h0M430.3 371h0M448.1 335.6h0M461.6 372h0M401.9 408.2h0M497 353.7h0M320.7 387.4h0M322.5 394.7h0M370.5 261.7h0M482.2 258.5h0" stroke="#3ce83c" stroke-width="1" stroke-linecap="round" opacity="0.4"/><path d="M61.8 101.5h0M111.1 131.3h0M147.4 117.7h0M146.3 109.6h0M135.4 96.9h0M145.8 174.8h0M278.4 211.4h0M285.8 208h0M102.2 197.6h0M157 202.1h0M220.5 208.6h0M254.6 223.6h0M259.2 222.5h0M61.4 140h0M64.8 84.8h0M290.7 83.1h0M438.6 120.6h0M475.3 105.6h0M350.7 143.2h0M376.6 161.9h0M371.1 158.3h0M377.3 185.4h0M510.2 230.7h0M421 214.6h0M477 206.5h0M290.6 139.1h0M299.7 135.2h0M369 243.9h0M365 94.5h0M365.1 94.9h0M369.2 90.1h0M57.4 259.8h0M56.1 295.5h0M60.3 298.4h0M199.3 313.1h0M193.7 306.1h0M152.8 374.7h0M227.5 388.9h0M233.3 313.2h0M92.4 324.4h0M155.1 399.8h0M307.1 324.3h0M291.5 312.6h0M287.7 332.8h0M325.6 357.3h0M319.3 354.7h0M430 362.7h0M454.1 346.9h0M468 378.7h0M381.9 418.6h0M400 294.8h0M499.2 349.9h0M513.5 395.2h0M505.7 398h0M317.3 398.7h0M309.2 389.1h0M464.8 398.8h0M465.7 391.5h0M287.4 275.6h0M54.4 423.2h0" stroke="#3ce83c" stroke-width="1.5" stroke-linecap="round" opacity="0.4"/><path d="M58.9 144.2h0M75.9 90.6h0M314.1 91.4h0M314.6 92.2h0M429.3 92.8h0M431.8 94.3h0M356.7 135.8h0M474.4 142.8h0M361.6 186.2h0M419.4 187.1h0M95.2 309h0M193.7 300.3h0M89.3 360.8h0M265.4 269.2h0M234.1 318.3h0M76.9 325.2h0M150.1 410.7h0M297.6 332.1h0M394.9 356.7h0M411.3 390.4h0M459.5 266h0M505.4 247.6h0" stroke="#3ce83c" stroke-width="2" stroke-linecap="round" opacity="0.4"/><path d="M154.2 93.9h0M277.3 95.2h0M139 172.4h0M141 169.3h0M188.9 160.6h0M177.2 186h0M169.6 195.1h0M225.7 214.2h0M229 207.4h0M206.1 252.8h0M139.1 228.3h0M255.6 183.4h0M449.1 125.9h0M422.4 105.4h0M472.5 119h0M367 141.7h0M472.6 150h0M486.5 141.3h0M474 225.3h0M479.3 194.7h0M296.7 142.4h0M365.8 235.5h0M429.5 238.7h0M431.4 238.3h0M54.8 297h0M88.7 301h0M186.5 313.8h0M178.9 323.4h0M98.4 353.9h0M283.2 412.2h0M303.9 339.5h0M305.6 341.9h0M281.7 329.8h0M339 334.1h0M396.4 368.8h0M460.3 334h0M474.2 373.4h0M464.3 379.7h0M479.1 378.7h0M377.8 413.7h0M428.6 277.5h0M290.6 411h0M467.7 393.7h0M472.9 262.8h0M508.9 297h0" stroke="#3ce83c" stroke-width="1" stroke-linecap="round" opacity="0.5"/><path d="M89.5 125.8h0M86 123.6h0M112.2 125.8h0M120.7 125.2h0M150.1 123h0M141.1 98.7h0M146.6 103.8h0M277.5 103.5h0M88.7 162.1h0M84.1 166.4h0M161.4 200h0M163.2 199.2h0M227.4 213.1h0M219.9 211.6h0M248.5 177.9h0M62.3 141.4h0M237 243.6h0M226.9 243.1h0M70 85.4h0M66.8 80.2h0M444.3 133.9h0M357.4 144.9h0M376.8 143h0M475.4 169.3h0M495.2 162h0M351.8 175.4h0M501.8 222.3h0M516 216.9h0M290.4 198.8h0M417.8 210h0M460.6 228h0M480.7 208.7h0M299.5 140.1h0M333.8 89.9h0M100.4 300.3h0M96.4 288.4h0M94.1 303.2h0M118.2 304h0M184.7 326.8h0M192.7 297.3h0M188.5 328.6h0M152.4 380.9h0M226.4 407.9h0M281.4 381.9h0M258.5 272.8h0M241.8 306.2h0M247.4 327.2h0M78.8 324h0M93.7 330.7h0M160.6 261.8h0M175.8 268.8h0M190.2 262.9h0M200.9 395.5h0M148 419.2h0M311.6 346.6h0M342.2 332.2h0M393.3 361.1h0M475.8 380.1h0M409.6 395.9h0M388.1 416.8h0M483.8 283.2h0M440.3 277.4h0M430.7 294.7h0M359.2 299.5h0M473.4 395.4h0M459.6 268.9h0M509.3 291.5h0" stroke="#3ce83c" stroke-width="1.5" stroke-linecap="round" opacity="0.5"/><path d="M59.9 94.6h0M54.2 98.2h0M119.4 128.1h0M160.4 102h0M149.4 172.3h0M149 169.1h0M262.5 194.8h0M51.7 182.4h0M258.9 226.1h0M199 243.5h0M239.3 243.1h0M72 82.9h0M433 137.2h0M427.6 128.4h0M380.9 130.5h0M480.6 146.1h0M417 187.8h0M502.1 234.5h0M437.1 239h0M57.5 258.5h0M76.3 292.7h0M102 363h0M277.6 415.1h0M296.1 321.5h0M335.7 355.3h0M460.2 333.5h0M432.5 293.4h0M400 280.9h0M318.5 384.1h0" stroke="#3ce83c" stroke-width="2" stroke-linecap="round" opacity="0.5"/><path d="M247.8 101.8h0M151.1 173.3h0M149.5 154.7h0M187.7 150.8h0M255.1 190.1h0M264.6 144.5h0M102.2 191.4h0M109.4 192.6h0M100.1 190.6h0M208.3 248.9h0M204.3 249.5h0M74.4 86.6h0M284.4 89.9h0M433.6 98.6h0M441.8 118.6h0M458.1 129.7h0M427 129.5h0M444.8 118.6h0M445.1 122.7h0M481.4 109.4h0M447.3 144.5h0M373.3 150.7h0M361.5 155.6h0M359.2 177.9h0M506.4 176.3h0M505.8 217.9h0M301.3 197.2h0M301.6 198.6h0M477 227.5h0M466.2 223.1h0M357 238.6h0M435.3 238.5h0M72.8 304.6h0M62.1 303.7h0M68.4 293.9h0M123.7 306h0M92.7 354.9h0M159.2 385h0M239.6 373.6h0M222.2 404.1h0M278.5 399.6h0M285.7 442.3h0M201.3 398.8h0M202.9 404.4h0M141.3 418.3h0M191.1 405.6h0M299.4 330.4h0M403.8 375.7h0M386.7 364.2h0M383.3 352.7h0M455 334.3h0M452.9 330.3h0M459.1 377.6h0M460.4 372h0M463.2 372h0M454.7 372.9h0M466.1 373.1h0M471.6 365.4h0M473.8 369.4h0M387.4 415.3h0M397.8 397.4h0M400.7 393.3h0M513.8 382.4h0M464.2 392.9h0M283.1 271.9h0M278.1 270.6h0M368.1 262.1h0" stroke="#3ce83c" stroke-width="1" stroke-linecap="round" opacity="0.6"/><path d="M116.1 130.7h0M160.9 99.5h0M83.2 154.3h0M206.9 136.7h0M178.8 185.1h0M272.7 204.9h0M284.3 206.6h0M56.6 180.3h0M55.9 177.3h0M107 197.2h0M251.9 229.1h0M205.7 251.9h0M232.2 238.9h0M81.7 92.1h0M85.7 83.1h0M65.8 92.5h0M278.3 90.3h0M362.7 133.5h0M477.7 150h0M359.4 166.4h0M397.4 193.1h0M391 190.1h0M415.9 179.4h0M483.9 222.1h0M475.7 227.9h0M364.3 229.8h0M361.2 247h0M356.8 249.8h0M325.7 84.9h0M67.5 270.9h0M116.2 287.4h0M111.8 306.6h0M192.9 320h0M84 360.5h0M95.2 361.9h0M149.4 377.1h0M219.2 379.7h0M229.1 416.9h0M261.8 277.1h0M233.9 310.9h0M153.6 280.5h0M194.9 262.8h0M137.1 420.8h0M300 337.7h0M339.5 334.4h0M432.2 366.7h0M457.8 371.7h0M468.7 364.4h0M491.8 280.4h0M437.5 291.2h0M426.3 277.8h0M361.5 297.8h0M501.8 360.7h0M285.3 409.9h0M461.4 269.5h0M288 275.6h0M480.8 264.4h0M512 248.9h0" stroke="#3ce83c" stroke-width="1.5" stroke-linecap="round" opacity="0.6"/><path d="M57.4 102.2h0M149.7 98h0M96 164.9h0M84.6 151.9h0M199.4 129.7h0M251.8 225.8h0M251.9 221.7h0M63.5 85.7h0M349.6 137.8h0M469.4 153.8h0M378.2 181.9h0M303.1 197.3h0M306.1 193.6h0M73.9 295.3h0M73.2 310.5h0M177 325.9h0M230 430.4h0M73.3 324.5h0M185.2 404.5h0M307.6 346.1h0M293.7 322.6h0M289.1 326h0M454.4 327.9h0M429.8 280.6h0M423.9 281.3h0M400.2 296.6h0M365.2 303.3h0M290.5 386.4h0M364.6 263h0" stroke="#3ce83c" stroke-width="2" stroke-linecap="round" opacity="0.6"/><path d="M243.2 130.5h0M178.2 186.5h0M273.9 205.2h0M99.5 108.9h0M447.5 112.7h0M484.5 108.1h0M374.9 127.5h0M498.7 163.5h0M395.7 189.2h0M417.3 161.2h0M503.3 177h0M81 303.7h0M181.9 316.1h0M194.3 341.7h0M219.6 422.5h0M186.5 404.2h0M292.2 295h0M346.7 332.1h0M342.4 357.4h0M468.9 374.6h0M390.6 418.2h0M505.8 391.6h0M303.1 385.4h0M438.6 423.1h0M505.6 247.2h0" stroke="#3ce83c" stroke-width="1" stroke-linecap="round" opacity="0.7"/><path d="M155 94.9h0M162.1 103.4h0M242.9 122.6h0M280.2 106.6h0M429 100.8h0M471.5 99h0M377.8 135.9h0M480.1 158.3h0M424.8 186.5h0M419.8 161.2h0M295.5 194.2h0M454.2 215.7h0M371.6 235.5h0M104.5 297.5h0M173.9 315.8h0M175.5 314.1h0M90.7 348.8h0M225.6 409.9h0M72.1 324.3h0M183.2 265.2h0M160.5 404.4h0M337.9 330.8h0M383.9 370.3h0M383.7 371.2h0M433.8 372.9h0M458.9 370h0M468 375h0M378.6 408.2h0M448.9 292.5h0M316.8 386.5h0M296.5 383.6h0M61.2 421h0" stroke="#3ce83c" stroke-width="1.5" stroke-linecap="round" opacity="0.7"/><path d="M83.7 158.8h0M160.2 163.6h0M269.4 142.7h0M87.8 292.8h0M184.6 317.5h0M198.5 305.1h0M238.8 383.2h0M217.7 382.7h0M236.1 315.6h0M202.6 414h0M290.2 322.7h0M485.8 282h0M285.9 273.7h0M54.5 426h0M67.5 418.8h0" stroke="#3ce83c" stroke-width="2" stroke-linecap="round" opacity="0.7"/></g>
</svg>
<svg style="position:absolute;left:584px;top:80px" width="425" height="345" viewBox="0 0 425 345">
<defs>
<linearGradient id="bL1" x1="0" x2="1" y1="0" y2="0"><stop offset="0" stop-color="#7a20d8"/><stop offset="0.4" stop-color="#6a16dc"/><stop offset="1" stop-color="#6414e0"/></linearGradient>
<linearGradient id="bL2" x1="0" x2="1" y1="0" y2="0"><stop offset="0" stop-color="#8a1ec8"/><stop offset="0.35" stop-color="#5c14c4"/><stop offset="1" stop-color="#5010c4"/></linearGradient>
<linearGradient id="bL3" x1="0" x2="1" y1="0" y2="0"><stop offset="0" stop-color="#7418c4"/><stop offset="0.4" stop-color="#4c10b4"/><stop offset="1" stop-color="#4410ac"/></linearGradient>
<linearGradient id="bR1" x1="0" x2="1" y1="0" y2="0"><stop offset="0" stop-color="#6424dc"/><stop offset="0.5" stop-color="#5c20d8"/><stop offset="1" stop-color="#4c18c4"/></linearGradient>
<linearGradient id="bR2" x1="0" x2="1" y1="0" y2="0"><stop offset="0" stop-color="#5220c8"/><stop offset="0.5" stop-color="#4c1cbe"/><stop offset="1" stop-color="#4418b0"/></linearGradient>
<linearGradient id="bR3" x1="0" x2="1" y1="0" y2="0"><stop offset="0" stop-color="#4618ac"/><stop offset="0.5" stop-color="#4216a4"/><stop offset="1" stop-color="#381498"/></linearGradient>
<linearGradient id="vEdge" x1="0" x2="0" y1="0" y2="1"><stop offset="0" stop-color="#000" stop-opacity="0.15"/><stop offset="0.15" stop-color="#000" stop-opacity="0"/><stop offset="0.85" stop-color="#000" stop-opacity="0"/><stop offset="1" stop-color="#000" stop-opacity="0.1"/></linearGradient>
<filter id="bbl" color-interpolation-filters="sRGB" x="-50%" y="-10%" width="200%" height="120%"><feGaussianBlur stdDeviation="0.9"/></filter>
<filter id="bnz" color-interpolation-filters="sRGB" x="0" y="0" width="100%" height="100%"><feTurbulence type="fractalNoise" baseFrequency="0.08" numOctaves="3" seed="3"/><feColorMatrix type="matrix" values="0 0 0 0 0.5  0 0 0 0 0.4  0 0 0 0 1  0 0 0 -1.3 0.75"/></filter>
</defs>
<rect width="425" height="345" fill="#000"/>
<rect x="0" y="54" width="189.8" height="54.6" fill="url(#bL1)"/>
<rect x="189.8" y="53.5" width="235.2" height="55.1" fill="url(#bR1)"/>
<rect x="189.8" y="54" width="235.2" height="54.6" fill="#fff" opacity="0.06" filter="url(#bnz)"/>
<rect x="0" y="54" width="425" height="54.6" fill="url(#vEdge)"/>
<rect x="0" y="106.8" width="189.8" height="1.6" fill="#c030b0" opacity="0.5"/>
<rect x="0" y="152.8" width="189.8" height="54" fill="url(#bL2)"/>
<rect x="189.8" y="152.3" width="235.2" height="54.5" fill="url(#bR2)"/>
<rect x="189.8" y="152.8" width="235.2" height="54" fill="#fff" opacity="0.06" filter="url(#bnz)"/>
<rect x="0" y="152.8" width="425" height="54" fill="url(#vEdge)"/>
<rect x="0" y="205" width="189.8" height="1.6" fill="#c030b0" opacity="0.5"/>
<rect x="0" y="248.3" width="189.8" height="54" fill="url(#bL3)"/>
<rect x="189.8" y="247.8" width="235.2" height="54.5" fill="url(#bR3)"/>
<rect x="189.8" y="248.3" width="235.2" height="54" fill="#fff" opacity="0.06" filter="url(#bnz)"/>
<rect x="0" y="248.3" width="425" height="54" fill="url(#vEdge)"/>
<rect x="0" y="300.5" width="189.8" height="1.6" fill="#c030b0" opacity="0.5"/>
<g filter="url(#bbl)"><path d="M66.5,54 C67.5,70 65.5,80 67,95 L67.5,108.6 L72.5,108.6 L72,95 C70.5,80 72.5,70 71.5,54 Z" fill="#f6e870"/><rect x="64.5" y="54" width="10" height="54.6" fill="#f0c060" opacity="0.35"/><rect x="130" y="54" width="9" height="54.6" fill="#9030d0" opacity="0.35"/><rect x="66.5" y="152.8" width="6" height="54" fill="#f0b070"/><rect x="64.5" y="152.8" width="10" height="54" fill="#e08070" opacity="0.4"/><rect x="133.8" y="152.8" width="7.6" height="54" fill="#f84070"/><rect x="132" y="152.8" width="11.2" height="54" fill="#e03080" opacity="0.45"/><rect x="66" y="248.3" width="8" height="54" fill="#8a1cb0" opacity="0.6"/><rect x="131.5" y="248.3" width="8.5" height="54" fill="#f24870"/><rect x="130" y="248.3" width="11.5" height="54" fill="#e03080" opacity="0.45"/></g>
<path d="M215,161 q2,3 5,6" stroke="#6aa0ff" stroke-width="1.1" fill="none" opacity="0.85"/><circle cx="297" cy="155" r="1.2" fill="#6a80ff" opacity="0.7"/>
<path d="M187.5,255 q-3,5 -2.5,13" stroke="#5080ff" stroke-width="1" fill="none" opacity="0.8"/>
<circle cx="187" cy="269" r="1" fill="#5080ff" opacity="0.8"/>
</svg>
<svg style="position:absolute;left:1083px;top:79px" width="342" height="346" viewBox="1083 79 342 346">
<defs>
<filter id="cb1" color-interpolation-filters="sRGB" x="-100%" y="-100%" width="300%" height="300%"><feGaussianBlur stdDeviation="6"/></filter>
<filter id="cb2" color-interpolation-filters="sRGB" x="-100%" y="-100%" width="300%" height="300%"><feGaussianBlur stdDeviation="2.6"/></filter>
<filter id="cb3" color-interpolation-filters="sRGB" x="-100%" y="-100%" width="300%" height="300%"><feGaussianBlur stdDeviation="0.6"/></filter><filter id="cb4" color-interpolation-filters="sRGB" x="-100%" y="-100%" width="300%" height="300%"><feGaussianBlur stdDeviation="0.9"/></filter>
</defs>
<rect x="1083" y="79" width="342" height="346" fill="#000"/>
<g filter="url(#cb1)"><ellipse cx="1185" cy="155" rx="38" ry="28" fill="#6a1038" opacity="0.6" transform="rotate(0 1185 155)"/><ellipse cx="1317" cy="130" rx="40" ry="36" fill="#6a1038" opacity="0.5" transform="rotate(0 1317 130)"/><ellipse cx="1412" cy="125" rx="22" ry="45" fill="#6a1038" opacity="0.5" transform="rotate(0 1412 125)"/><ellipse cx="1105" cy="203" rx="26" ry="20" fill="#6a1038" opacity="0.6" transform="rotate(10 1105 203)"/><ellipse cx="1085" cy="215" rx="12" ry="30" fill="#6a1038" opacity="0.3" transform="rotate(0 1085 215)"/><ellipse cx="1145" cy="283" rx="34" ry="17" fill="#6a1038" opacity="0.5" transform="rotate(25 1145 283)"/><ellipse cx="1195" cy="283" rx="40" ry="19" fill="#6a1038" opacity="0.5" transform="rotate(50 1195 283)"/><ellipse cx="1384" cy="326" rx="28" ry="48" fill="#6a1038" opacity="0.5" transform="rotate(0 1384 326)"/><ellipse cx="1322" cy="360" rx="30" ry="26" fill="#6a1038" opacity="0.5" transform="rotate(0 1322 360)"/><ellipse cx="1255" cy="385" rx="45" ry="20" fill="#6a1038" opacity="0.6" transform="rotate(-10 1255 385)"/><ellipse cx="1215" cy="377" rx="35" ry="10" fill="#6a1038" opacity="0.5" transform="rotate(-5 1215 377)"/><ellipse cx="1258" cy="412" rx="25" ry="14" fill="#6a1038" opacity="0.5" transform="rotate(0 1258 412)"/><ellipse cx="1282" cy="272" rx="18" ry="28" fill="#6a1038" opacity="0.4" transform="rotate(-30 1282 272)"/><ellipse cx="1140" cy="405" rx="50" ry="18" fill="#6a1038" opacity="0.3" transform="rotate(0 1140 405)"/><ellipse cx="1406" cy="190" rx="8" ry="14" fill="#6a1038" opacity="0.3" transform="rotate(-30 1406 190)"/><ellipse cx="1275" cy="258" rx="22" ry="12" fill="#6a1038" opacity="0.5" transform="rotate(0 1275 258)"/></g>
<g filter="url(#cb3)"><path d="M1168.2 172.8h0M1300.5 162.6h0M1316.3 98.6h0M1303.4 103.6h0M1417.3 100.1h0M1413 134.6h0M1397.6 95.9h0M1076.1 225.3h0M1081.6 222.3h0M1088.5 230.3h0M1144 280h0M1163.5 291.3h0M1206.7 271.3h0M1203.1 296.1h0M1293.7 375.2h0M1236 370.3h0M1257.1 390.1h0M1235.3 382.2h0M1293.9 283.7h0M1298.9 265.4h0M1280.7 263.5h0M1120.1 404.1h0M1278.6 268.3h0" stroke="#c02030" stroke-width="1" stroke-linecap="round" opacity="0.2"/><path d="M1189 135.8h0M1165.5 151.9h0M1154.1 170.3h0M1207.4 175.2h0M1316.4 160h0M1308.4 148.6h0M1280.7 139.7h0M1326.4 98.5h0M1307.6 157.2h0M1353.2 117.5h0M1410 84.6h0M1426.8 154.5h0M1417.3 161h0M1093.4 219.6h0M1178.6 290.9h0M1161 277.9h0M1357.4 328.6h0M1387.1 344.9h0M1369.9 329.1h0M1305.1 361.9h0M1220.4 382.1h0M1230.6 392.4h0M1225.8 384h0M1225.5 381.6h0M1265.3 412.5h0M1253.6 415.8h0M1252.9 412.9h0M1263.3 413.5h0M1290.6 263.8h0M1272.3 263.9h0M1149.2 393.4h0M1158.2 395.3h0M1162.2 406.4h0M1145.7 393.1h0M1136.4 387.1h0M1288.7 259.1h0" stroke="#c02030" stroke-width="1.5" stroke-linecap="round" opacity="0.2"/><path d="M1287.4 129.5h0M1334.8 98.5h0M1298.3 271.2h0" stroke="#c02030" stroke-width="2" stroke-linecap="round" opacity="0.2"/><path d="M1166.5 154.6h0M1206.1 139.5h0M1153 151.2h0M1194.6 159.8h0M1190.1 130.4h0M1326.6 156.5h0M1346.5 131.3h0M1324.2 110.1h0M1315.8 138.7h0M1424.5 105.2h0M1392.5 104.2h0M1424 90.3h0M1407.1 102.7h0M1397.6 107.2h0M1412.8 159.8h0M1399.8 156.1h0M1101.4 188.7h0M1118.2 206.5h0M1111 186.3h0M1110.8 216.3h0M1086.3 216.5h0M1091.6 228.8h0M1081.7 188.7h0M1083.1 241.1h0M1174.5 289.8h0M1229.7 279.9h0M1185.7 271.3h0M1162.6 273.7h0M1178.1 266.2h0M1214.7 271.6h0M1366 327.3h0M1359.5 332.8h0M1356.7 334h0M1346.1 362.7h0M1348.6 358.5h0M1345.5 372.9h0M1310.5 374.2h0M1305.8 349.8h0M1284.5 382.8h0M1221.8 375.5h0M1281.3 393.6h0M1243.6 381.7h0M1237.9 375.6h0M1220.9 382.5h0M1236.5 415.1h0M1235.6 414h0M1299 264.4h0M1265.5 269.6h0M1278.4 244.6h0M1096.1 401.1h0M1116.9 389.9h0M1151.3 393.3h0M1156.9 414.6h0M1159.7 407.1h0M1111.3 397.6h0M1413.8 189.6h0" stroke="#c02030" stroke-width="1" stroke-linecap="round" opacity="0.3"/><path d="M1201.1 175h0M1176.4 151.2h0M1158 161h0M1187.8 160h0M1203.8 168.4h0M1216.7 142.8h0M1216.4 165.1h0M1204.8 141.9h0M1184 170.1h0M1159.1 164.6h0M1163.3 134.7h0M1164 151.2h0M1300 142.9h0M1349.3 144.4h0M1312.9 126.5h0M1292.2 127.5h0M1331 102.1h0M1313.8 144.8h0M1347.2 136.9h0M1326.7 151.1h0M1329.4 104.3h0M1343.1 140.6h0M1305.4 119.2h0M1322.5 99.4h0M1405.5 106.6h0M1400.7 126.5h0M1398.3 154.7h0M1424.6 95.8h0M1415.9 85.7h0M1406.4 112.2h0M1403 156.2h0M1415.3 133.4h0M1429.5 129.5h0M1422 159.6h0M1427 100.1h0M1121.1 213.5h0M1092.6 193.1h0M1114.6 220.6h0M1116.8 204.8h0M1098.8 194.7h0M1103.4 188.5h0M1085.3 192.8h0M1091 213h0M1163.3 270.3h0M1145.7 277.7h0M1163 271.4h0M1117.5 286.4h0M1167 280.6h0M1152.2 291.6h0M1149.9 291h0M1205.2 279.7h0M1195 270.6h0M1166 290.6h0M1223.8 276.7h0M1228.7 292.4h0M1206.9 296.4h0M1175.2 281.6h0M1189.6 273.6h0M1397.2 353.3h0M1390.9 305.5h0M1377.4 281.6h0M1379.7 318.2h0M1382.1 308.9h0M1398 331.6h0M1375.5 286.2h0M1388.4 371.5h0M1368.2 311.6h0M1387.4 307.9h0M1358.8 319.1h0M1371.1 337h0M1398.8 337.3h0M1344.5 359h0M1310.2 372.8h0M1324 335.7h0M1328.7 351.7h0M1307.3 365.5h0M1315 376.1h0M1283.8 381.2h0M1293.7 375.7h0M1263.7 402.3h0M1265.7 376.3h0M1220.4 394.7h0M1268.7 392.8h0M1257.5 365.9h0M1286.5 388.1h0M1263.1 384.6h0M1257.4 390.8h0M1225.9 381.2h0M1208.4 386.3h0M1244.2 372.3h0M1240.1 404.1h0M1274.2 402.5h0M1278.5 292h0M1274.4 274.4h0M1274 247.7h0M1299.6 268.7h0M1279.2 263.2h0M1096.9 396.9h0M1162.4 395.5h0M1403.8 193.7h0M1261.7 265.3h0M1281.4 261.5h0M1275 263h0" stroke="#c02030" stroke-width="1.5" stroke-linecap="round" opacity="0.3"/><path d="M1172.1 155.1h0M1162.5 160.2h0M1350.2 142.7h0M1308.5 113.3h0M1279.7 122.9h0M1410.4 86.7h0M1114.3 196.2h0M1093.5 198.1h0M1211.2 289.8h0M1359.4 319.9h0M1311.5 356.1h0M1340.9 343.6h0M1257.5 385.5h0M1280.2 396.8h0M1253.4 372.5h0M1266.5 408.3h0M1163.2 411.2h0" stroke="#c02030" stroke-width="2" stroke-linecap="round" opacity="0.3"/><path d="M1195.9 147.1h0M1170.3 129.9h0M1349.2 142.2h0M1342.1 137.2h0M1316 163.1h0M1331.8 162.7h0M1347.8 118h0M1313 104.2h0M1339.1 141.4h0M1397.2 141h0M1393.4 125.6h0M1396.8 133.6h0M1095.5 195.6h0M1074.9 222.4h0M1157.6 293.9h0M1176.9 297.6h0M1167.7 291.1h0M1377.6 346.1h0M1397.3 314.8h0M1366.7 293.1h0M1366.6 290h0M1378.8 354.4h0M1341.7 375h0M1298.6 361.2h0M1303.2 353.7h0M1308.8 346.6h0M1301.1 370.7h0M1284.7 388.5h0M1219.3 386.5h0M1269.3 415h0M1285.7 251.8h0M1265.6 262.7h0M1297.2 276.6h0M1147.9 393.3h0M1169.7 396.2h0M1174.8 400.8h0M1159.5 393.3h0M1408.4 181.7h0M1277.8 262.9h0" stroke="#c02030" stroke-width="1" stroke-linecap="round" opacity="0.4"/><path d="M1192.2 179.4h0M1186 130.6h0M1158.4 155.5h0M1190.2 176.5h0M1202.8 133.8h0M1193.2 165.4h0M1304.7 158h0M1340.8 142.7h0M1344.3 109.8h0M1298.7 101h0M1318.1 164.5h0M1311.8 114.3h0M1342.5 121h0M1343.6 118.9h0M1318.8 137.1h0M1298.3 152.6h0M1307.3 118.5h0M1413.8 139.3h0M1396.3 141.5h0M1431.5 134h0M1410.9 126.7h0M1398.6 147.8h0M1409.3 90.7h0M1425.1 118.5h0M1403.4 144.8h0M1404.7 121.7h0M1394.4 106.1h0M1094.2 189.1h0M1088 216.2h0M1083.2 196.3h0M1091.6 208.1h0M1086.6 203.2h0M1144.7 290.9h0M1128.1 276.4h0M1138.2 291h0M1159.3 271.2h0M1137.5 274.2h0M1193.4 300.7h0M1162.6 279.3h0M1209.4 296h0M1162.7 293.6h0M1188 288.5h0M1189.6 288.5h0M1209.1 267.8h0M1394.1 314.2h0M1366.4 304.4h0M1380.6 373.4h0M1374.4 350.3h0M1363.6 314.2h0M1386.3 344.6h0M1383.6 335.6h0M1394.5 366.4h0M1394.3 308.6h0M1385.5 329.8h0M1377.4 311.4h0M1397.8 328.7h0M1394.6 362.1h0M1393.2 288.4h0M1378.5 335.3h0M1361.2 307.2h0M1304.7 375.2h0M1343.2 368.9h0M1325.2 345.8h0M1327.8 345.5h0M1339 343.5h0M1326.9 354.5h0M1330 379.2h0M1269.9 391.1h0M1279.9 373.8h0M1216.1 376.9h0M1196.1 376.3h0M1186.5 371.9h0M1200.6 383.6h0M1184.2 374h0M1266.6 413.9h0M1282.7 261h0M1294.7 257h0M1136 400.3h0M1102.7 415.2h0M1121.1 400.7h0M1104.9 409.7h0M1124.5 402.1h0M1153.6 419.2h0M1095.9 409.4h0M1130.5 389.2h0M1124.9 389.9h0M1275.4 246.3h0M1288.9 253.8h0" stroke="#c02030" stroke-width="1.5" stroke-linecap="round" opacity="0.4"/><path d="M1185.8 160.7h0M1153.5 170.4h0M1330.4 118.9h0M1111.6 200.5h0M1082.4 194.5h0M1142.5 296.9h0M1369.9 300.7h0M1233.8 379.2h0" stroke="#c02030" stroke-width="2" stroke-linecap="round" opacity="0.4"/><path d="M1204.3 175.9h0M1184.3 135.6h0M1306.3 126.7h0M1315.7 105.5h0M1347.3 133h0M1127.2 272.9h0M1404.3 331.6h0M1325.4 361.6h0M1294.8 370.4h0M1330 381.1h0M1288.4 374.7h0M1230.6 379h0M1211.9 379.7h0M1293.9 279.1h0M1163.7 394.9h0" stroke="#c02030" stroke-width="1" stroke-linecap="round" opacity="0.5"/><path d="M1196.4 156.4h0M1191.6 165.5h0M1172.3 134h0M1205 161.9h0M1177.2 153.1h0M1294.1 114.8h0M1296 146.6h0M1328.9 98.7h0M1336.4 158.3h0M1309 114.8h0M1424.1 126.4h0M1095.2 187.1h0M1088 191.8h0M1090.3 226.8h0M1136.9 291.5h0M1119.8 271.8h0M1169.8 290.3h0M1116.2 279.8h0M1182.3 288.9h0M1191.4 271.1h0M1202.3 271.1h0M1387 296.9h0M1384.6 300.5h0M1396.4 339.5h0M1402.1 315.2h0M1408.1 310.1h0M1395.3 346.7h0M1358.9 330.3h0M1386.8 281.8h0M1334.3 365.2h0M1332.9 353.3h0M1228.4 397.3h0M1247.3 385.2h0M1241.4 392.4h0M1251.8 396.4h0M1221.9 386h0M1209 383.5h0M1259.6 414h0M1251.5 416.6h0M1261.2 415h0M1101.9 414.2h0M1118.4 414.7h0M1170.9 409.9h0M1119 396.1h0M1135.2 398.1h0M1163.1 389.9h0M1185.8 410.3h0M1398.8 191.8h0M1272.7 263.5h0M1256.7 255.3h0" stroke="#c02030" stroke-width="1.5" stroke-linecap="round" opacity="0.5"/><path d="M1188.3 142.4h0M1154.8 282.9h0M1389.9 297.4h0M1402.7 334.8h0M1233.1 397.4h0" stroke="#c02030" stroke-width="2" stroke-linecap="round" opacity="0.5"/></g>
<g filter="url(#cb2)"><ellipse cx="1185" cy="158" rx="25" ry="17" fill="#2a1878" opacity="0.8" transform="rotate(10 1185 158)"/><ellipse cx="1314" cy="143.5" rx="22" ry="14.5" fill="#2a1878" opacity="0.8" transform="rotate(5 1314 143.5)"/><ellipse cx="1416" cy="121" rx="12" ry="17" fill="#2a1878" opacity="0.8" transform="rotate(0 1416 121)"/><ellipse cx="1104.5" cy="205" rx="17" ry="10" fill="#2a1878" opacity="0.7" transform="rotate(10 1104.5 205)"/><ellipse cx="1137" cy="281" rx="15" ry="12" fill="#2a1878" opacity="0.7" transform="rotate(20 1137 281)"/><ellipse cx="1193" cy="287" rx="16" ry="14" fill="#2a1878" opacity="0.8" transform="rotate(35 1193 287)"/><ellipse cx="1278.5" cy="240" rx="17" ry="20" fill="#2a1878" opacity="0.8" transform="rotate(0 1278.5 240)"/><ellipse cx="1385.6" cy="323.6" rx="18" ry="21.5" fill="#2a1878" opacity="0.8" transform="rotate(-10 1385.6 323.6)"/><ellipse cx="1331" cy="364.8" rx="15" ry="12" fill="#2a1878" opacity="0.8" transform="rotate(10 1331 364.8)"/><ellipse cx="1249" cy="381" rx="17" ry="14" fill="#2a1878" opacity="0.8" transform="rotate(0 1249 381)"/><ellipse cx="1255" cy="414" rx="14" ry="11" fill="#2a1878" opacity="0.7" transform="rotate(0 1255 414)"/><ellipse cx="1270" cy="252" rx="12" ry="8" fill="#2a1878" opacity="0.7" transform="rotate(0 1270 252)"/></g>
<g filter="url(#cb4)"><circle cx="1180.6" cy="144.4" r="1.9" fill="#ff2222"/><circle cx="1189.5" cy="150.6" r="2.3" fill="#ff2222"/><circle cx="1194" cy="156.9" r="2.3" fill="#ff2222"/><circle cx="1203.9" cy="152.4" r="1.7" fill="#ff2222"/><circle cx="1190.4" cy="146.1" r="1.9" fill="#ff2222"/><circle cx="1139.4" cy="153.3" r="1.9" fill="#ff2222"/><circle cx="1145.7" cy="149.7" r="1.9" fill="#ff2222"/><circle cx="1186" cy="142" r="1.4" fill="#ff2222"/><circle cx="1193" cy="140" r="1.4" fill="#ff2222"/><circle cx="1198" cy="143" r="1.4" fill="#ff2222"/><circle cx="1183" cy="150" r="1.2" fill="#ff2222"/><circle cx="1188" cy="138" r="1.2" fill="#ff2222"/><circle cx="1117.9" cy="196.3" r="3" fill="#ff2222"/><circle cx="1090.2" cy="194.5" r="1.7" fill="#ff2222"/><circle cx="1096" cy="197" r="1.2" fill="#ff2222"/><circle cx="1101" cy="194" r="1.2" fill="#ff2222"/><circle cx="1110" cy="195" r="1.2" fill="#ff2222"/><circle cx="1314.9" cy="146" r="1.9" fill="#ff2222"/><circle cx="1315.8" cy="121" r="1.5" fill="#ff2222"/><circle cx="1331" cy="122" r="1.5" fill="#ff2222"/><circle cx="1329" cy="131" r="1.5" fill="#ff2222"/><circle cx="1320" cy="116" r="1.2" fill="#ff2222"/><circle cx="1310" cy="118" r="1.2" fill="#ff2222"/><circle cx="1300" cy="122" r="1.2" fill="#ff2222"/><circle cx="1325" cy="127" r="1.2" fill="#ff2222"/><circle cx="1335" cy="131" r="1.2" fill="#ff2222"/><circle cx="1421.4" cy="102.3" r="1.9" fill="#ff2222"/><circle cx="1400.8" cy="117.5" r="1.9" fill="#ff2222"/><circle cx="1389.2" cy="142.6" r="1.7" fill="#ff2222"/><circle cx="1294.3" cy="187.3" r="1.6" fill="#ff2222"/><circle cx="1410" cy="112" r="1.2" fill="#ff2222"/><circle cx="1147.5" cy="287" r="2.1" fill="#ff2222"/><circle cx="1125" cy="274" r="1.4" fill="#ff2222"/><circle cx="1131" cy="278" r="1.2" fill="#ff2222"/><circle cx="1182.4" cy="380" r="2.3" fill="#ff2222"/><circle cx="1199.4" cy="372.3" r="2.1" fill="#ff2222"/><circle cx="1220.9" cy="375.5" r="2.5" fill="#ff2222"/><circle cx="1228" cy="377.3" r="2.5" fill="#ff2222"/><circle cx="1241.5" cy="369.3" r="2.5" fill="#ff2222"/><circle cx="1227.7" cy="369.6" r="1.9" fill="#ff2222"/><circle cx="1235" cy="383" r="2.1" fill="#ff2222"/><circle cx="1245" cy="390" r="1.9" fill="#ff2222"/><circle cx="1238" cy="375" r="1.7" fill="#ff2222"/><circle cx="1232" cy="388" r="1.7" fill="#ff2222"/><circle cx="1224" cy="383" r="1.6" fill="#ff2222"/><circle cx="1252" cy="395" r="1.4" fill="#ff2222"/><circle cx="1248" cy="375" r="1.7" fill="#ff2222"/><circle cx="1258" cy="410" r="1.7" fill="#ff2222"/><circle cx="1250" cy="420" r="1.7" fill="#ff2222"/><circle cx="1275.5" cy="262.7" r="3.4" fill="#ff2222"/><circle cx="1270" cy="263" r="2.5" fill="#ff2222"/><circle cx="1281" cy="260" r="2.1" fill="#ff2222"/><circle cx="1284.4" cy="259.2" r="1.9" fill="#ff2222"/><circle cx="1288" cy="257" r="1.5" fill="#ff2222"/><circle cx="1266" cy="245" r="1.7" fill="#ff2222"/><circle cx="1272" cy="248" r="1.5" fill="#ff2222"/><circle cx="1397.2" cy="320" r="2.1" fill="#ff2222"/><circle cx="1380.2" cy="329" r="2.5" fill="#ff2222"/><circle cx="1399" cy="315" r="1.7" fill="#ff2222"/><circle cx="1402" cy="324" r="1.7" fill="#ff2222"/><circle cx="1394" cy="326" r="1.6" fill="#ff2222"/><circle cx="1391" cy="318" r="1.5" fill="#ff2222"/><circle cx="1403" cy="311" r="1.5" fill="#ff2222"/><circle cx="1396" cy="331" r="1.5" fill="#ff2222"/><circle cx="1320.2" cy="350.5" r="3" fill="#ff2222"/><circle cx="1314.9" cy="359.4" r="3" fill="#ff2222"/><circle cx="1318" cy="356" r="2.1" fill="#ff2222"/><circle cx="1324" cy="355" r="2.1" fill="#ff2222"/><circle cx="1322" cy="362" r="1.9" fill="#ff2222"/><circle cx="1308" cy="346" r="1.5" fill="#ff2222"/><circle cx="1130" cy="270" r="1.2" fill="#ff2222"/><circle cx="1139" cy="280" r="1.2" fill="#ff2222"/><circle cx="1186" cy="260" r="1.5" fill="#ff2222"/><circle cx="1193" cy="265" r="1.4" fill="#ff2222"/><circle cx="1200" cy="262" r="1.5" fill="#ff2222"/><circle cx="1205" cy="266" r="1.3" fill="#ff2222"/><circle cx="1190" cy="270" r="1.2" fill="#ff2222"/><circle cx="1280" cy="235" r="1.7" fill="#ff2222"/><circle cx="1285" cy="240" r="1.5" fill="#ff2222"/><circle cx="1278" cy="232" r="1.4" fill="#ff2222"/></g>
</svg>
<svg style="position:absolute;left:170px;top:534px" width="453" height="364" viewBox="170 534 453 364">
<defs>
<clipPath id="dclip"><rect x="170" y="534" width="453" height="364"/></clipPath>
<filter id="db1" color-interpolation-filters="sRGB" x="-30%" y="-30%" width="160%" height="160%"><feGaussianBlur stdDeviation="20"/></filter>
<filter id="db3" color-interpolation-filters="sRGB" x="-50%" y="-50%" width="200%" height="200%"><feGaussianBlur stdDeviation="0.5"/></filter>
<filter id="db4" color-interpolation-filters="sRGB" x="-50%" y="-50%" width="200%" height="200%"><feGaussianBlur stdDeviation="1.1"/></filter>
<filter id="dmot" color-interpolation-filters="sRGB" x="0" y="0" width="100%" height="100%"><feTurbulence type="fractalNoise" baseFrequency="0.03" numOctaves="3" seed="4"/><feColorMatrix type="matrix" values="0 0 0 0 0.1  0 0 0 0 0.15  0 0 0 0 0.35  -2.2 0 0 0 1.2"/></filter>
<filter id="dlit" color-interpolation-filters="sRGB" x="0" y="0" width="100%" height="100%"><feTurbulence type="fractalNoise" baseFrequency="0.04" numOctaves="3" seed="14"/><feColorMatrix type="matrix" values="0 0 0 0 0.6  0 0 0 0 0.8  0 0 0 0 1  2.4 0 0 0 -1.2"/></filter>
<filter id="dspk" color-interpolation-filters="sRGB" x="0" y="0" width="100%" height="100%"><feTurbulence type="fractalNoise" baseFrequency="0.22" numOctaves="2" seed="21"/><feColorMatrix type="matrix" values="0 0 0 0 0.9  0 0 0 0 0.9  0 0 0 0 0.7  4 0 0 0 -1.9"/><feComponentTransfer><feFuncA type="table" tableValues="0 0 0 0 0 0.5 1"/></feComponentTransfer></filter>
<filter id="dspk2" color-interpolation-filters="sRGB" x="0" y="0" width="100%" height="100%"><feTurbulence type="fractalNoise" baseFrequency="0.3" numOctaves="1" seed="33"/><feColorMatrix type="matrix" values="0 0 0 0 0.85  0 0 0 0 0.72  0 0 0 0 0.3  4 0 0 0 -1.9"/><feComponentTransfer><feFuncA type="table" tableValues="0 0 0 0 0 0.5 1"/></feComponentTransfer></filter>
<radialGradient id="dmA" cx="0.45" cy="0.3" r="0.6"><stop offset="0" stop-color="#fff" stop-opacity="1"/><stop offset="0.7" stop-color="#fff" stop-opacity="0.6"/><stop offset="1" stop-color="#fff" stop-opacity="0.15"/></radialGradient>
<mask id="dmaskA"><rect x="170" y="534" width="453" height="364" fill="url(#dmA)"/></mask>
<linearGradient id="dmB" x1="0" y1="0" x2="0.3" y2="1"><stop offset="0.35" stop-color="#fff" stop-opacity="0.1"/><stop offset="0.8" stop-color="#fff" stop-opacity="0.9"/></linearGradient>
<mask id="dmaskB"><rect x="170" y="534" width="453" height="364" fill="url(#dmB)"/></mask>
</defs>
<g clip-path="url(#dclip)">
<g filter="url(#db1)"><rect x="120" y="484" width="100.9" height="102.6" fill="#5f7896"/><rect x="220.3" y="484" width="50.9" height="102.6" fill="#738ca5"/><rect x="270.7" y="484" width="50.9" height="102.6" fill="#6ea5e1"/><rect x="321" y="484" width="50.9" height="102.6" fill="#6eaceb"/><rect x="371.3" y="484" width="50.9" height="102.6" fill="#69a8eb"/><rect x="421.7" y="484" width="50.9" height="102.6" fill="#5f9ee4"/><rect x="472" y="484" width="50.9" height="102.6" fill="#528cda"/><rect x="522.3" y="484" width="50.9" height="102.6" fill="#3e70c3"/><rect x="572.7" y="484" width="100.9" height="102.6" fill="#233c78"/><rect x="120" y="586" width="100.9" height="52.6" fill="#5c7da5"/><rect x="220.3" y="586" width="50.9" height="52.6" fill="#6996c3"/><rect x="270.7" y="586" width="50.9" height="52.6" fill="#70ace8"/><rect x="321" y="586" width="50.9" height="52.6" fill="#73b4f0"/><rect x="371.3" y="586" width="50.9" height="52.6" fill="#6cacec"/><rect x="421.7" y="586" width="50.9" height="52.6" fill="#5f9ee4"/><rect x="472" y="586" width="50.9" height="52.6" fill="#528eda"/><rect x="522.3" y="586" width="50.9" height="52.6" fill="#3e70c3"/><rect x="572.7" y="586" width="100.9" height="52.6" fill="#28488c"/><rect x="120" y="638" width="100.9" height="52.6" fill="#5a7aa5"/><rect x="220.3" y="638" width="50.9" height="52.6" fill="#6491be"/><rect x="270.7" y="638" width="50.9" height="52.6" fill="#6ca5e1"/><rect x="321" y="638" width="50.9" height="52.6" fill="#6ca8e8"/><rect x="371.3" y="638" width="50.9" height="52.6" fill="#64a2e4"/><rect x="421.7" y="638" width="50.9" height="52.6" fill="#5894dc"/><rect x="472" y="638" width="50.9" height="52.6" fill="#4c84d0"/><rect x="522.3" y="638" width="50.9" height="52.6" fill="#3c6cbc"/><rect x="572.7" y="638" width="100.9" height="52.6" fill="#284b8c"/><rect x="120" y="690" width="100.9" height="52.6" fill="#556664"/><rect x="220.3" y="690" width="50.9" height="52.6" fill="#587d91"/><rect x="270.7" y="690" width="50.9" height="52.6" fill="#5c91be"/><rect x="321" y="690" width="50.9" height="52.6" fill="#5c96d2"/><rect x="371.3" y="690" width="50.9" height="52.6" fill="#558ed0"/><rect x="421.7" y="690" width="50.9" height="52.6" fill="#4c82c8"/><rect x="472" y="690" width="50.9" height="52.6" fill="#4173bc"/><rect x="522.3" y="690" width="50.9" height="52.6" fill="#3462af"/><rect x="572.7" y="690" width="100.9" height="52.6" fill="#234187"/><rect x="120" y="742" width="100.9" height="52.6" fill="#4b503a"/><rect x="220.3" y="742" width="50.9" height="52.6" fill="#465c52"/><rect x="270.7" y="742" width="50.9" height="52.6" fill="#467087"/><rect x="321" y="742" width="50.9" height="52.6" fill="#4678a5"/><rect x="371.3" y="742" width="50.9" height="52.6" fill="#4173ac"/><rect x="421.7" y="742" width="50.9" height="52.6" fill="#3a68aa"/><rect x="472" y="742" width="50.9" height="52.6" fill="#345ca2"/><rect x="522.3" y="742" width="50.9" height="52.6" fill="#2d5096"/><rect x="572.7" y="742" width="100.9" height="52.6" fill="#1e3273"/><rect x="120" y="794" width="100.9" height="52.6" fill="#3e3e26"/><rect x="220.3" y="794" width="50.9" height="52.6" fill="#3c483a"/><rect x="270.7" y="794" width="50.9" height="52.6" fill="#374b48"/><rect x="321" y="794" width="50.9" height="52.6" fill="#32485f"/><rect x="371.3" y="794" width="50.9" height="52.6" fill="#2e4669"/><rect x="421.7" y="794" width="50.9" height="52.6" fill="#2a426c"/><rect x="472" y="794" width="50.9" height="52.6" fill="#243c6c"/><rect x="522.3" y="794" width="50.9" height="52.6" fill="#1e3264"/><rect x="572.7" y="794" width="100.9" height="52.6" fill="#0f1941"/><rect x="120" y="846" width="100.9" height="102.6" fill="#302414"/><rect x="220.3" y="846" width="50.9" height="102.6" fill="#323020"/><rect x="270.7" y="846" width="50.9" height="102.6" fill="#2d3732"/><rect x="321" y="846" width="50.9" height="102.6" fill="#28323e"/><rect x="371.3" y="846" width="50.9" height="102.6" fill="#283046"/><rect x="421.7" y="846" width="50.9" height="102.6" fill="#222d48"/><rect x="472" y="846" width="50.9" height="102.6" fill="#1a2642"/><rect x="522.3" y="846" width="50.9" height="102.6" fill="#0f1932"/><rect x="572.7" y="846" width="100.9" height="102.6" fill="#050819"/></g>
<rect x="170" y="534" width="453" height="364" filter="url(#dmot)" opacity="0.2"/>
<rect x="170" y="534" width="453" height="364" filter="url(#dlit)" opacity="0.3" mask="url(#dmaskA)"/>
<rect x="170" y="534" width="453" height="364" filter="url(#dspk)" opacity="0.3" mask="url(#dmaskA)"/>
<rect x="170" y="534" width="453" height="364" filter="url(#dspk2)" opacity="0.35" mask="url(#dmaskB)"/>
<g filter="url(#db3)"><path d="M399.8 864.5h0M570.2 580.2h0M586.4 610.5h0M505.2 617.7h0" stroke="#302050" stroke-width="1.5" stroke-linecap="round" opacity="0.3"/><path d="M587 815.3h0M523.6 747.4h0M365.5 748.7h0M285.5 549.6h0M391.3 784.5h0" stroke="#302050" stroke-width="2" stroke-linecap="round" opacity="0.3"/><path d="M309.7 797h0M581.3 625.8h0M191.6 792.1h0M188.7 561.3h0" stroke="#302050" stroke-width="2.5" stroke-linecap="round" opacity="0.3"/><path d="M491.4 677h0M550 744.8h0M568.9 864h0M356.6 752.4h0M320.5 887.3h0" stroke="#302050" stroke-width="1.5" stroke-linecap="round" opacity="0.4"/><path d="M333.9 708.7h0M439 771.1h0M348.4 603.4h0M327.4 733.4h0M422.2 602.6h0" stroke="#302050" stroke-width="2" stroke-linecap="round" opacity="0.4"/><path d="M413.9 670.7h0M268.3 815.5h0M230.7 687h0" stroke="#302050" stroke-width="2.5" stroke-linecap="round" opacity="0.4"/><path d="M233.9 557.4h0" stroke="#302050" stroke-width="1" stroke-linecap="round" opacity="0.5"/><path d="M185.9 739.3h0M201.4 730.5h0M224.3 715.1h0M308.8 813.7h0M355.9 673.2h0" stroke="#302050" stroke-width="1.5" stroke-linecap="round" opacity="0.5"/><path d="M583.5 695h0" stroke="#302050" stroke-width="2" stroke-linecap="round" opacity="0.5"/><path d="M385.6 609.1h0M443.2 639.9h0M306.2 736.2h0M474.6 862.8h0M619.5 841.8h0M410.8 655.1h0" stroke="#302050" stroke-width="2.5" stroke-linecap="round" opacity="0.5"/><path d="M452.1 656.2h0" stroke="#302050" stroke-width="1" stroke-linecap="round" opacity="0.6"/><path d="M279.4 655.8h0M281.5 711.6h0M282.5 891.1h0" stroke="#302050" stroke-width="1.5" stroke-linecap="round" opacity="0.6"/><path d="M189 682h0" stroke="#302050" stroke-width="2" stroke-linecap="round" opacity="0.6"/><path d="M617.2 534.8h0M472.7 658.1h0M455.5 809.6h0" stroke="#302050" stroke-width="2.5" stroke-linecap="round" opacity="0.6"/><path d="M523.3 558.5h0M357 613.5h0" stroke="#302050" stroke-width="1.5" stroke-linecap="round" opacity="0.7"/><path d="M610.4 859h0M494.7 779.7h0" stroke="#302050" stroke-width="2" stroke-linecap="round" opacity="0.7"/><path d="M449.1 556.1h0M496.2 877.5h0M338.4 621h0" stroke="#402040" stroke-width="1.5" stroke-linecap="round" opacity="0.3"/><path d="M185.1 800.7h0" stroke="#402040" stroke-width="2" stroke-linecap="round" opacity="0.3"/><path d="M574 771h0M506.8 716.2h0" stroke="#402040" stroke-width="2.5" stroke-linecap="round" opacity="0.3"/><path d="M454.6 586.1h0M459.6 828.2h0M411.7 827.4h0" stroke="#402040" stroke-width="1.5" stroke-linecap="round" opacity="0.4"/><path d="M561.7 884.9h0M618.4 775h0M361 600.1h0M573.5 802h0M384.4 728.7h0" stroke="#402040" stroke-width="2" stroke-linecap="round" opacity="0.4"/><path d="M318.8 627.6h0" stroke="#402040" stroke-width="2.5" stroke-linecap="round" opacity="0.4"/><path d="M518.2 681.2h0M443.8 751.2h0M587.1 747.1h0M441.5 617h0" stroke="#402040" stroke-width="1.5" stroke-linecap="round" opacity="0.5"/><path d="M228.9 657h0M348.2 642.8h0M305.6 757.6h0M522.7 678.1h0" stroke="#402040" stroke-width="2" stroke-linecap="round" opacity="0.5"/><path d="M237.1 635.2h0M265.6 621h0M563.3 551.1h0" stroke="#402040" stroke-width="2.5" stroke-linecap="round" opacity="0.5"/><path d="M326.1 676.2h0M561.6 804.6h0M292.2 670.4h0" stroke="#402040" stroke-width="1.5" stroke-linecap="round" opacity="0.6"/><path d="M400.8 547.1h0M174.7 801.1h0M550.2 659.4h0M578.6 635.6h0" stroke="#402040" stroke-width="2" stroke-linecap="round" opacity="0.6"/><path d="M576.9 876.4h0M282.4 726.3h0" stroke="#402040" stroke-width="2.5" stroke-linecap="round" opacity="0.6"/><path d="M452.7 569.9h0" stroke="#402040" stroke-width="1.5" stroke-linecap="round" opacity="0.7"/><path d="M404.2 535.7h0M409.9 547.1h0" stroke="#402040" stroke-width="2" stroke-linecap="round" opacity="0.7"/><path d="M402.4 649.5h0M367.2 716.3h0" stroke="#503030" stroke-width="1.5" stroke-linecap="round" opacity="0.3"/><path d="M457.8 536.6h0M400 666.5h0M527.1 781.1h0M552.5 594.9h0" stroke="#503030" stroke-width="2" stroke-linecap="round" opacity="0.3"/><path d="M303.7 888.9h0M535.2 787.9h0" stroke="#503030" stroke-width="2.5" stroke-linecap="round" opacity="0.3"/><path d="M211.4 606.4h0M340.5 650.7h0M565.8 817.1h0M409.8 655.7h0M216.6 540.1h0" stroke="#503030" stroke-width="1.5" stroke-linecap="round" opacity="0.4"/><path d="M385.9 614.1h0M268.4 831.5h0M514.7 736.9h0M303.9 865.2h0M203.5 569.3h0M436.1 774.2h0" stroke="#503030" stroke-width="2" stroke-linecap="round" opacity="0.4"/><path d="M350.8 572h0" stroke="#503030" stroke-width="2.5" stroke-linecap="round" opacity="0.4"/><path d="M322.9 892.4h0M284 599.3h0M336.5 575.8h0" stroke="#503030" stroke-width="1.5" stroke-linecap="round" opacity="0.5"/><path d="M249.2 562.4h0M616.8 639.8h0M304.4 763.6h0" stroke="#503030" stroke-width="2" stroke-linecap="round" opacity="0.5"/><path d="M442.9 774.7h0M437.4 595.1h0M220.7 644.4h0M303.3 605.2h0" stroke="#503030" stroke-width="2.5" stroke-linecap="round" opacity="0.5"/><path d="M585 656.8h0M421.8 818.4h0M464.1 611.6h0M402.5 731.1h0M420.6 712.2h0" stroke="#503030" stroke-width="1.5" stroke-linecap="round" opacity="0.6"/><path d="M559.8 641.1h0M278 587.4h0M403.2 895.8h0M389 567.1h0" stroke="#503030" stroke-width="2" stroke-linecap="round" opacity="0.6"/><path d="M335.9 759.9h0M520 638.3h0M484 633.7h0" stroke="#503030" stroke-width="2.5" stroke-linecap="round" opacity="0.6"/><path d="M377.2 843.7h0M575.8 542h0M432.2 641.2h0M340 692.3h0" stroke="#503030" stroke-width="1.5" stroke-linecap="round" opacity="0.7"/><path d="M360.1 884h0M488.4 648.1h0M520.7 765.9h0M298.1 683.1h0" stroke="#503030" stroke-width="2" stroke-linecap="round" opacity="0.7"/><path d="M451.1 645.3h0" stroke="#503030" stroke-width="2.5" stroke-linecap="round" opacity="0.7"/><path d="M425 868h0" stroke="#b89840" stroke-width="1" stroke-linecap="round" opacity="0.4"/><path d="M421.2 737.3h0M521 837.6h0M325.6 823.3h0M441.3 800.3h0M375 781h0M411 887h0M324 852.5h0M248.5 882.2h0M572.2 802.6h0M226.7 592.9h0M361.4 867.2h0M344.3 837.5h0M610 881.4h0" stroke="#b89840" stroke-width="1.5" stroke-linecap="round" opacity="0.4"/><path d="M563.4 771h0M184.9 606.4h0M217.9 815.9h0M489.4 777.5h0M534.1 756.9h0M372.2 737.3h0M339.4 869.8h0M330.5 889h0M387.7 833.4h0M544.6 800.2h0M615.8 830.3h0M607.1 743.3h0M438.6 890.2h0M271.3 822.3h0" stroke="#b89840" stroke-width="2" stroke-linecap="round" opacity="0.4"/><path d="M526.1 820.1h0" stroke="#b89840" stroke-width="1" stroke-linecap="round" opacity="0.5"/><path d="M464.1 895h0M290.6 856.7h0M281 735.3h0M435 787.6h0M318.3 815.2h0M353.3 865.3h0M594.2 808.4h0M562.2 723.5h0M599 830h0M343.5 785.2h0M592.7 848.7h0M275.6 804.3h0M237.1 830.7h0M302.7 809.8h0M222.9 684.2h0" stroke="#b89840" stroke-width="1.5" stroke-linecap="round" opacity="0.5"/><path d="M560.2 732.8h0M380.7 736.5h0M415.4 861.8h0M376.4 727.7h0M203.6 880h0M177.4 793.7h0M370.7 824.9h0M382 854.4h0M173.4 863h0M382.1 881.3h0M394.3 882.6h0M480.5 848.8h0M492.5 775.5h0" stroke="#b89840" stroke-width="2" stroke-linecap="round" opacity="0.5"/><path d="M374.7 771.4h0M476.8 735.7h0" stroke="#b89840" stroke-width="1" stroke-linecap="round" opacity="0.6"/><path d="M367.4 864.5h0M172 848.9h0M304.3 833.4h0M528.9 879.7h0M307.5 741.1h0M174.7 576.2h0M517.3 880.4h0M244.1 755.2h0M175 871.3h0" stroke="#b89840" stroke-width="1.5" stroke-linecap="round" opacity="0.6"/><path d="M439.8 806h0M350.9 793.2h0M193.7 698.4h0M310.5 874h0M249.5 844.8h0M428.8 848.4h0M469.6 856.5h0M446 742.4h0M374.9 836.1h0M556.3 853.4h0M418.3 877.6h0" stroke="#b89840" stroke-width="2" stroke-linecap="round" opacity="0.6"/><path d="M273.4 836.1h0M410.6 833.5h0M307.9 734.1h0" stroke="#b89840" stroke-width="1" stroke-linecap="round" opacity="0.7"/><path d="M271.5 728.9h0M196.2 683.5h0M567.2 842.1h0M371.4 781.3h0M425.8 868.5h0M238.4 830.1h0M600.9 796.1h0" stroke="#b89840" stroke-width="1.5" stroke-linecap="round" opacity="0.7"/><path d="M389.9 824.2h0M570.2 898h0M274.7 773.6h0M203.1 888.6h0M170.4 754h0M555.3 809h0M385.2 836.9h0M223.2 896.3h0M390.8 862.6h0M212 886h0M604.6 771.1h0M234.3 886.9h0M452.1 728.1h0M187.1 576.1h0M249.7 869h0M537.4 811.2h0M408.9 739.3h0M581.3 825.7h0M502.1 770.7h0M176.5 814.5h0" stroke="#b89840" stroke-width="2" stroke-linecap="round" opacity="0.7"/><path d="M261.6 885.5h0" stroke="#b89840" stroke-width="1" stroke-linecap="round" opacity="0.8"/><path d="M444.7 870.1h0M286 832.7h0M194.5 838.8h0M581.9 720.5h0M349.2 730.9h0M355.9 765.9h0" stroke="#b89840" stroke-width="1.5" stroke-linecap="round" opacity="0.8"/><path d="M489.2 746h0M396.4 865.3h0M393 845.3h0M569.6 734.6h0M495.8 839.5h0" stroke="#b89840" stroke-width="2" stroke-linecap="round" opacity="0.8"/><path d="M184.2 747.6h0M361.7 715.3h0M434.9 814.4h0M273.8 893.5h0" stroke="#b8a040" stroke-width="1.5" stroke-linecap="round" opacity="0.4"/><path d="M204.6 699.9h0M259.8 827.1h0M457.8 818h0M336.6 699.3h0M284 785h0M310.5 823h0M351.7 831.8h0M174.3 705.7h0M193.9 796.3h0M291.5 759.9h0M249.2 799.6h0M479.3 773.6h0M459.3 757.3h0" stroke="#b8a040" stroke-width="2" stroke-linecap="round" opacity="0.4"/><path d="M235.2 842.2h0M178.8 804.1h0M235.7 838.7h0M385.2 865.6h0M298.8 874.8h0M354.2 882.3h0M331 797.8h0M175.9 788.8h0" stroke="#b8a040" stroke-width="2.5" stroke-linecap="round" opacity="0.4"/><path d="M222.2 784.1h0M209.4 761.1h0M259.5 818.5h0M477.8 704h0M219.9 876.2h0" stroke="#b8a040" stroke-width="3" stroke-linecap="round" opacity="0.4"/><path d="M449.5 790.6h0M247.3 791.1h0M249.7 881.2h0M208.2 842.5h0M215 853.3h0M187.2 846.7h0" stroke="#b8a040" stroke-width="1.5" stroke-linecap="round" opacity="0.5"/><path d="M313.3 726.9h0M199.6 778.8h0M320.7 755.4h0M352.9 793.9h0M373.1 787.1h0M253.3 895.1h0M192.9 849.6h0M251.6 835.1h0" stroke="#b8a040" stroke-width="2" stroke-linecap="round" opacity="0.5"/><path d="M197.7 863.6h0M380.9 866.4h0M274 795.6h0M192.6 891.1h0M183.9 860.3h0M294.1 804.5h0M322.5 792.2h0M296.4 808.9h0M298.6 838.7h0M344.7 790h0M230.5 807.3h0M318 782.8h0" stroke="#b8a040" stroke-width="2.5" stroke-linecap="round" opacity="0.5"/><path d="M340.8 718.1h0M284.4 835h0" stroke="#b8a040" stroke-width="3" stroke-linecap="round" opacity="0.5"/><path d="M288.9 813.6h0M283.2 831.2h0M201.8 885.5h0M229.2 830.2h0M400.4 856h0M290 735.5h0" stroke="#b8a040" stroke-width="1.5" stroke-linecap="round" opacity="0.6"/><path d="M442.1 847.1h0M317.1 815h0M178.2 716.9h0M380 869.7h0M298.3 752.3h0M306.5 822h0M383 882h0" stroke="#b8a040" stroke-width="2" stroke-linecap="round" opacity="0.6"/><path d="M176.8 816h0M233.5 855h0M220.3 785.6h0M252.8 845.3h0M266.7 848.3h0M422.9 845.7h0M362.5 725.8h0M264.2 732.6h0M426.4 889.1h0M486.5 743.1h0M360 825.3h0" stroke="#b8a040" stroke-width="2.5" stroke-linecap="round" opacity="0.6"/><path d="M205.3 794.6h0M282 853.4h0M399.7 714.1h0M239.3 751.3h0M336.3 876.3h0" stroke="#b8a040" stroke-width="3" stroke-linecap="round" opacity="0.6"/><path d="M278.1 845.8h0" stroke="#b8a040" stroke-width="1.5" stroke-linecap="round" opacity="0.7"/><path d="M321.7 788.2h0M237.6 716.1h0M250.5 729.2h0M293.9 758.2h0M217.3 825.5h0M375.8 760.5h0M406.8 811.2h0M341.6 809.8h0M240.4 811.6h0M229 865.9h0M315.7 887.2h0" stroke="#b8a040" stroke-width="2" stroke-linecap="round" opacity="0.7"/><path d="M324.2 847.2h0M472.7 875.7h0M188.3 712.2h0M346.8 825.6h0M363.8 750.4h0M313 840.2h0M428.4 827.7h0" stroke="#b8a040" stroke-width="2.5" stroke-linecap="round" opacity="0.7"/><path d="M189.4 704.5h0M269.3 876.8h0M183.1 752.8h0M219.9 787.2h0M399.5 872.7h0M202.5 823.5h0M182.8 704.5h0" stroke="#b8a040" stroke-width="3" stroke-linecap="round" opacity="0.7"/><path d="M292.5 738.6h0" stroke="#c8b050" stroke-width="1" stroke-linecap="round" opacity="0.4"/><path d="M369.1 800.3h0M409.2 819.8h0M220 834.6h0M338.1 846.8h0M516 801.8h0M420.2 842.5h0M493.1 797.5h0M216.1 759.4h0M495.7 766.7h0M207.7 589.9h0M275.7 767.9h0M481.6 767.4h0M540.8 890.3h0M307.4 700.6h0M322.9 826h0M204.8 751h0M208.6 764.5h0" stroke="#c8b050" stroke-width="1.5" stroke-linecap="round" opacity="0.4"/><path d="M338.8 854.8h0M379 878.2h0M396.2 747.5h0M242.6 751.9h0M532.7 794.8h0M403.8 870.2h0M315.5 841.3h0M541.1 774.6h0M292.6 877.2h0M243.8 805.1h0M392 858h0M229 895.2h0M236.3 758.8h0M434.8 794.7h0M220.5 676.7h0M171.1 769.9h0M253.8 798.8h0M282.8 892.6h0M369.2 702.6h0M463.9 875.5h0M262.1 882.7h0M234.4 699.8h0" stroke="#c8b050" stroke-width="2" stroke-linecap="round" opacity="0.4"/><path d="M278.5 786.6h0M297.6 706.1h0M323.6 889.5h0M231.3 854.6h0M371 723.3h0M200.8 826.9h0M462.2 817.8h0M394.4 720h0M449.9 857.5h0M204.6 892.8h0M446.3 704.4h0M460.4 752.5h0M288.3 751.8h0" stroke="#c8b050" stroke-width="2.5" stroke-linecap="round" opacity="0.4"/><path d="M371.1 737.5h0M334.5 814.8h0M269.6 753.1h0" stroke="#c8b050" stroke-width="3" stroke-linecap="round" opacity="0.4"/><path d="M281.2 855.2h0M227.9 773.3h0M221 730.2h0M184.1 867.9h0M403.8 769.8h0M527.9 781.3h0M317.2 887.7h0M182.3 852.6h0M568.9 823.3h0M212.6 857.6h0" stroke="#c8b050" stroke-width="1.5" stroke-linecap="round" opacity="0.5"/><path d="M621.2 870.8h0M202.5 740.6h0M254.9 790.9h0M271.7 861.4h0M226.9 686h0M178.5 546h0M170.9 809.7h0M320.5 871.4h0M579.9 820.2h0M179.9 570.4h0M195.5 731h0M220.9 786.2h0M196.8 768.9h0M192.1 772.6h0M195.3 810.2h0M224.6 812h0" stroke="#c8b050" stroke-width="2" stroke-linecap="round" opacity="0.5"/><path d="M311.5 826.5h0M244.6 849.6h0M183.9 818.1h0M374.8 777.4h0M344.3 785h0M286.8 797.1h0" stroke="#c8b050" stroke-width="2.5" stroke-linecap="round" opacity="0.5"/><path d="M292.1 756.7h0M179.8 805h0" stroke="#c8b050" stroke-width="3" stroke-linecap="round" opacity="0.5"/><path d="M538 892.8h0" stroke="#c8b050" stroke-width="1" stroke-linecap="round" opacity="0.6"/><path d="M356.7 807.7h0M414.3 798.5h0M232.5 799h0M180.9 545.6h0M282.6 747.2h0M318.5 856.7h0M357.6 883.6h0M424.3 751.2h0M342.2 835.3h0M492.2 855.7h0M608 840.5h0M453.7 845.4h0M556.8 844.6h0M230.9 734.9h0M597.2 804.1h0M532.6 870.4h0M361.5 827.9h0M563.9 733.5h0M213.5 733.2h0M253.1 876.8h0M214.5 895.6h0M367 870h0" stroke="#c8b050" stroke-width="1.5" stroke-linecap="round" opacity="0.6"/><path d="M526.4 750.4h0M307.1 825.2h0M212.2 762.8h0M581.5 780h0M472.5 824.5h0M343.2 769.9h0M488.4 775.6h0M539.9 838.2h0M573.7 754h0M438.9 735.5h0M621.2 811.7h0M529 803.6h0M485.7 738.2h0M410.6 763.1h0M307.6 887.2h0M321.5 752.4h0M228.4 879.8h0M291.2 841.6h0M215.9 830.9h0M221.4 750.8h0M396.4 756.8h0M311.5 843.8h0M351.2 863.9h0M348.1 722.5h0M253.1 843.6h0M226.7 828.2h0M368.7 744.4h0M194.5 802.4h0" stroke="#c8b050" stroke-width="2" stroke-linecap="round" opacity="0.6"/><path d="M396.4 721.8h0M241.2 713.7h0M230 819.1h0M227.8 739.7h0M350.5 786.2h0M232.8 703.9h0M183.6 783.3h0M223.3 889.2h0M180.4 791.6h0M202.4 876.5h0M340.9 890.1h0" stroke="#c8b050" stroke-width="2.5" stroke-linecap="round" opacity="0.6"/><path d="M253.3 709.5h0M456.5 851.4h0M315.5 888.8h0M209.9 873.3h0M315.8 747h0" stroke="#c8b050" stroke-width="3" stroke-linecap="round" opacity="0.6"/><path d="M182 790.2h0" stroke="#c8b050" stroke-width="1" stroke-linecap="round" opacity="0.7"/><path d="M298.8 857.7h0M246.8 808.5h0M203.6 582.8h0M541.4 786h0M170.6 691.1h0M361.9 737.5h0M310.8 776.4h0M239.3 732.9h0M212.4 835.5h0M406.3 792.8h0M223.7 757.7h0M324.3 889.3h0M474.6 734.2h0M517.4 772h0M234.2 664.8h0M591.2 722h0M382.6 847.3h0M595.9 863h0M323.8 883h0M476 859.9h0M586.6 791.1h0M190.8 874.9h0M477.1 796.2h0M217.2 764.6h0M320.3 845.5h0M392.1 779.7h0M217 801.5h0M277.1 824.5h0" stroke="#c8b050" stroke-width="1.5" stroke-linecap="round" opacity="0.7"/><path d="M395.9 805h0M495.7 816.7h0M342.2 721.8h0M344.7 781.1h0M316.4 815.6h0M441.2 837.3h0M587.8 856.4h0M310.7 795.3h0M430.1 841.1h0M233.5 735h0M231.4 798h0M190.1 797.4h0M274.1 877.8h0M286.7 701.6h0M208.9 833.2h0M219.8 847.1h0M254.7 893.7h0M180.7 808.9h0" stroke="#c8b050" stroke-width="2" stroke-linecap="round" opacity="0.7"/><path d="M416.8 715.3h0M455.8 710.3h0M278.6 781.3h0M303.1 800.2h0M221 834.6h0" stroke="#c8b050" stroke-width="2.5" stroke-linecap="round" opacity="0.7"/><path d="M420.9 801.8h0M379.4 708.9h0M287.2 810.8h0M239 888.9h0M408.7 714.2h0" stroke="#c8b050" stroke-width="3" stroke-linecap="round" opacity="0.7"/><path d="M176.2 704.5h0M234 773.3h0" stroke="#c8b050" stroke-width="1" stroke-linecap="round" opacity="0.8"/><path d="M226.7 672.7h0M316.1 832.6h0M613.4 835.4h0" stroke="#c8b050" stroke-width="1.5" stroke-linecap="round" opacity="0.8"/><path d="M392.6 770.9h0M352.8 807.3h0M575.4 848.5h0M173.2 891.7h0M217.1 587.9h0M203.8 631h0" stroke="#c8b050" stroke-width="2" stroke-linecap="round" opacity="0.8"/><path d="M324.7 609h0M572 536.4h0M545 669.4h0M466.1 670.4h0M293.8 556.9h0" stroke="#c8d0b0" stroke-width="1.5" stroke-linecap="round" opacity="0.4"/><path d="M479.8 584.5h0M614.4 685.2h0M515.8 692.5h0" stroke="#c8d0b0" stroke-width="2" stroke-linecap="round" opacity="0.4"/><path d="M613.4 694.8h0M552.5 543.7h0" stroke="#c8d0b0" stroke-width="1" stroke-linecap="round" opacity="0.5"/><path d="M243.3 547.3h0M389.8 690.8h0M286.6 583.5h0M264.7 628.9h0M569.3 541.8h0M487.3 602.6h0M344.7 539h0" stroke="#c8d0b0" stroke-width="1.5" stroke-linecap="round" opacity="0.5"/><path d="M423.9 588.7h0M431.5 569.6h0M340.7 578.5h0M531.9 590.6h0M277.9 673.4h0" stroke="#c8d0b0" stroke-width="2" stroke-linecap="round" opacity="0.5"/><path d="M485.8 659.2h0" stroke="#c8d0b0" stroke-width="1" stroke-linecap="round" opacity="0.6"/><path d="M614.7 546.1h0M511.2 678.5h0M252.2 690.3h0M585.2 593.4h0M604.3 582.1h0M598.9 680.6h0M582.3 706h0M450.3 714.6h0M338.1 584.1h0M313.8 704.1h0M311 677.4h0" stroke="#c8d0b0" stroke-width="1.5" stroke-linecap="round" opacity="0.6"/><path d="M406.8 652.2h0" stroke="#c8d0b0" stroke-width="2" stroke-linecap="round" opacity="0.6"/><path d="M501.1 541.4h0M292.3 627.9h0M356.3 666.5h0M528.9 644.3h0M364.6 712.9h0M340.7 588.6h0" stroke="#c8d0b0" stroke-width="1.5" stroke-linecap="round" opacity="0.7"/><path d="M540.1 708h0M270.4 555.3h0M536.5 547h0" stroke="#c8d0b0" stroke-width="2" stroke-linecap="round" opacity="0.7"/><path d="M415 650.4h0" stroke="#c8d0b0" stroke-width="1" stroke-linecap="round" opacity="0.8"/><path d="M356.5 618.8h0M554.3 658.1h0M599.7 643.5h0M336.5 700.5h0" stroke="#c8d0b0" stroke-width="1.5" stroke-linecap="round" opacity="0.8"/><path d="M521.4 616.9h0" stroke="#c8d0b0" stroke-width="2" stroke-linecap="round" opacity="0.8"/><path d="M582.1 651.3h0M365.7 562.5h0M268.5 571.1h0M346.9 665.9h0M320.5 540.1h0M524.6 621.5h0" stroke="#d0c880" stroke-width="1.5" stroke-linecap="round" opacity="0.4"/><path d="M440.1 625.3h0M569.4 598.3h0M567.5 681.6h0M614.2 713.2h0M248.6 715.3h0M396.8 540h0M252.7 709.4h0" stroke="#d0c880" stroke-width="2" stroke-linecap="round" opacity="0.4"/><path d="M490.2 620.2h0" stroke="#d0c880" stroke-width="1" stroke-linecap="round" opacity="0.5"/><path d="M582.4 597.2h0M603.2 604h0M511.1 618.4h0M475.5 618.5h0" stroke="#d0c880" stroke-width="1.5" stroke-linecap="round" opacity="0.5"/><path d="M385.3 574h0M375.9 589.3h0M275.6 585.4h0M558.9 688.3h0M501.4 548.7h0" stroke="#d0c880" stroke-width="2" stroke-linecap="round" opacity="0.5"/><path d="M327.5 599.5h0M472.4 617.8h0M375.3 561.4h0M506.5 616.1h0M558 690h0M362.9 537.2h0M597.4 674h0" stroke="#d0c880" stroke-width="1.5" stroke-linecap="round" opacity="0.6"/><path d="M344.1 691.9h0M277.1 698.7h0M376.8 551.1h0M336.7 537.9h0M260.1 597.9h0" stroke="#d0c880" stroke-width="2" stroke-linecap="round" opacity="0.6"/><path d="M549.9 663.4h0" stroke="#d0c880" stroke-width="1" stroke-linecap="round" opacity="0.7"/><path d="M348 584.3h0M328.6 646.8h0M420.8 678.4h0M485.2 614.5h0M468.9 674.2h0" stroke="#d0c880" stroke-width="1.5" stroke-linecap="round" opacity="0.7"/><path d="M259.8 637.8h0M368.9 712.3h0M615.6 629.4h0M465.2 671.4h0" stroke="#d0c880" stroke-width="2" stroke-linecap="round" opacity="0.7"/><path d="M466.6 540.9h0M438.4 714.4h0M480 696.2h0M366.1 657h0" stroke="#d0c880" stroke-width="1.5" stroke-linecap="round" opacity="0.8"/><path d="M241.8 847.1h0" stroke="#d8c060" stroke-width="1" stroke-linecap="round" opacity="0.4"/><path d="M309.5 735h0M547.6 892.9h0M429 829.4h0M186.9 732.9h0M256.4 843.8h0M211.3 655.9h0M208.5 830.1h0M511.5 873.3h0M389.8 743.6h0M254.5 776.1h0M277 732.4h0" stroke="#d8c060" stroke-width="1.5" stroke-linecap="round" opacity="0.4"/><path d="M482.6 745h0M356.3 866.1h0M584.4 862.7h0M596.3 821.3h0M574.4 875h0M466 896.7h0M261.2 729.3h0M622 775.4h0M206.2 811.5h0M571.2 800.5h0M535.6 894.2h0M372.3 846.8h0M206 717.4h0M408 709.8h0M349 776.1h0M248 741h0M224.6 896.2h0M361.6 794.9h0M308.4 716.6h0M225.1 775.2h0" stroke="#d8c060" stroke-width="2" stroke-linecap="round" opacity="0.4"/><path d="M182.1 722.5h0M343.9 854.4h0M382.6 812.9h0M384.5 827.4h0M239.8 785.9h0M235 786.7h0M386.4 717.5h0M177 776.3h0M455.8 863.4h0M416.9 750.2h0M183.8 727.8h0" stroke="#d8c060" stroke-width="2.5" stroke-linecap="round" opacity="0.4"/><path d="M206 701.9h0M177.5 624.3h0" stroke="#d8c060" stroke-width="1" stroke-linecap="round" opacity="0.5"/><path d="M227.4 778.4h0M396.5 744.7h0M318.3 867.3h0M305.8 749.9h0M497.7 791.5h0M333.2 888.8h0M452.3 829.1h0M454.3 720.8h0M176.1 705.4h0M250.2 723.7h0M246.3 861.8h0" stroke="#d8c060" stroke-width="1.5" stroke-linecap="round" opacity="0.5"/><path d="M233.7 551.3h0M237.3 785.6h0M294.1 893h0M622.9 852.8h0M611.7 844h0M529.2 808.1h0M445 841.8h0M602.2 828h0M278.7 874.4h0M187.3 788.1h0M508.8 752.4h0M411.6 838.4h0M200.7 782.5h0M251.3 714.3h0M173.6 848.9h0M192.5 815.8h0" stroke="#d8c060" stroke-width="2" stroke-linecap="round" opacity="0.5"/><path d="M291 734.2h0M276.7 870.1h0M399.5 856.8h0M263.1 862.5h0M345.3 803.2h0M321.8 775.9h0M441.1 897.4h0M225.2 784.7h0M192.8 831.8h0" stroke="#d8c060" stroke-width="2.5" stroke-linecap="round" opacity="0.5"/><path d="M278.6 873.9h0M237.4 724.1h0" stroke="#d8c060" stroke-width="3" stroke-linecap="round" opacity="0.5"/><path d="M521 816.2h0" stroke="#d8c060" stroke-width="1" stroke-linecap="round" opacity="0.6"/><path d="M422.1 812.5h0M388.9 737.1h0M527.5 775.5h0M535.3 819.6h0M524.3 823.5h0M398.8 887.2h0M584.4 787.4h0M219 809.6h0M355.3 832.1h0M195.9 847.8h0M170.1 823.3h0M347.9 781.8h0M397.6 739.1h0" stroke="#d8c060" stroke-width="1.5" stroke-linecap="round" opacity="0.6"/><path d="M457.8 820.8h0M396.6 854.4h0M510.5 852.1h0M241.1 718.4h0M541.5 778.7h0M537 782.4h0M531.9 885.3h0M198.7 785.2h0M309 833.8h0M502.2 864.5h0M179.1 735.1h0M219.7 880.8h0M213.6 880.2h0M197.3 779.5h0M303.2 847.2h0M272.7 842.8h0M362.1 705.5h0M189.2 711.2h0M184.1 886.8h0" stroke="#d8c060" stroke-width="2" stroke-linecap="round" opacity="0.6"/><path d="M175.3 840.3h0M216.8 837.3h0M217.2 716h0M444.5 851.3h0M370.1 783.9h0M223.2 791.9h0" stroke="#d8c060" stroke-width="2.5" stroke-linecap="round" opacity="0.6"/><path d="M208 770.8h0M434.6 835.7h0M288.2 712h0" stroke="#d8c060" stroke-width="3" stroke-linecap="round" opacity="0.6"/><path d="M364.8 804.3h0M492.3 879.5h0M439.5 863.6h0M477.5 854.2h0M297.9 780.5h0M188.1 891h0M189.2 723.8h0M327.6 781.5h0M528.3 817.1h0M530.3 895.9h0M173.7 546.8h0M273.1 872.4h0M546 858.6h0M454.7 793.1h0M225.1 731.5h0" stroke="#d8c060" stroke-width="1.5" stroke-linecap="round" opacity="0.7"/><path d="M356.9 896.7h0M441.8 830.2h0M425.4 768.7h0M190.6 796.4h0M206.8 639.1h0M250.4 852.8h0M365.8 726.7h0M412.1 765.1h0M439.7 820.5h0M207.2 808.3h0M257.3 710.1h0M321.6 711.4h0M277.7 740.4h0M442.6 752.4h0M182.1 842.4h0" stroke="#d8c060" stroke-width="2" stroke-linecap="round" opacity="0.7"/><path d="M252.2 761.4h0M396.2 841.8h0M285.3 807.9h0M240 748.6h0M274.6 773.8h0M329.4 865h0M346.1 847.9h0M266.8 763h0M220.8 697.9h0" stroke="#d8c060" stroke-width="2.5" stroke-linecap="round" opacity="0.7"/><path d="M228.2 809.5h0M390.4 785.8h0M190.3 706.5h0M293.1 856.7h0M194.9 866.4h0M371 808.6h0M465.4 787.8h0M397.1 830.6h0M177.2 746.3h0" stroke="#d8c060" stroke-width="3" stroke-linecap="round" opacity="0.7"/><path d="M613.1 780.8h0M198.7 699.4h0M263.3 732.4h0M366.5 851.5h0" stroke="#d8c060" stroke-width="1.5" stroke-linecap="round" opacity="0.8"/><path d="M395 877h0M175 684h0M398.3 860.1h0M266.4 748.2h0M219 631.1h0" stroke="#d8c060" stroke-width="2" stroke-linecap="round" opacity="0.8"/><path d="M385.4 622.5h0M469.5 639.6h0M427.5 689h0" stroke="#d8d8a0" stroke-width="1" stroke-linecap="round" opacity="0.4"/><path d="M261.6 637.9h0M455 588.9h0M503.2 682.1h0M383.8 550.6h0" stroke="#d8d8a0" stroke-width="1.5" stroke-linecap="round" opacity="0.4"/><path d="M410.8 553h0M447.7 559.9h0M345.9 691.3h0M577.2 696.8h0M292.6 586h0M605.2 642.4h0" stroke="#d8d8a0" stroke-width="2" stroke-linecap="round" opacity="0.4"/><path d="M304.6 706.5h0M550.9 616.2h0" stroke="#d8d8a0" stroke-width="1.5" stroke-linecap="round" opacity="0.5"/><path d="M480.2 690h0M280.8 626.4h0M442.3 651.8h0M621.1 670.2h0M364.2 592.1h0M265.2 538h0" stroke="#d8d8a0" stroke-width="2" stroke-linecap="round" opacity="0.5"/><path d="M517.5 712.8h0" stroke="#d8d8a0" stroke-width="1" stroke-linecap="round" opacity="0.6"/><path d="M606.3 679.6h0M365.6 564.3h0M253.4 623.8h0M347.5 619.5h0M516.2 599.4h0M294.4 648.7h0M240.9 626.9h0" stroke="#d8d8a0" stroke-width="1.5" stroke-linecap="round" opacity="0.6"/><path d="M298 598.1h0M454.1 699h0M577.7 585.2h0M386.7 707.9h0M610.1 609.1h0" stroke="#d8d8a0" stroke-width="2" stroke-linecap="round" opacity="0.6"/><path d="M556.5 538.5h0M556.1 556.8h0M557.5 614.7h0M581.3 639.1h0M398.6 589.8h0M508.6 648h0" stroke="#d8d8a0" stroke-width="1.5" stroke-linecap="round" opacity="0.7"/><path d="M398 572.3h0M533 694.4h0M293.2 560.9h0M344.9 626.4h0M585 694.8h0M520.8 706.7h0" stroke="#d8d8a0" stroke-width="2" stroke-linecap="round" opacity="0.7"/><path d="M339.8 653.6h0M293.3 596.7h0M496.1 631.8h0" stroke="#d8d8a0" stroke-width="1.5" stroke-linecap="round" opacity="0.8"/><path d="M547.8 603.3h0M435.2 587.7h0" stroke="#d8d8a0" stroke-width="2" stroke-linecap="round" opacity="0.8"/><path d="M208.5 560.2h0" stroke="#e0c868" stroke-width="1" stroke-linecap="round" opacity="0.4"/><path d="M291.3 851.8h0M279 771.6h0M391.1 822.2h0M372.6 835.1h0M445.2 766.3h0M368.7 807.5h0M552.5 850.9h0M225.7 833.3h0M294.7 770.5h0M188.3 857.9h0M402.9 883h0" stroke="#e0c868" stroke-width="1.5" stroke-linecap="round" opacity="0.4"/><path d="M252.6 896.9h0M515.1 810.6h0M431.5 888.2h0M454.2 754.6h0M440.9 893.3h0M548.3 792.5h0M356.4 884h0M302.5 824.9h0M284.9 719.2h0M191.2 884.8h0M237 786h0M274.9 799.8h0M286 755h0" stroke="#e0c868" stroke-width="2" stroke-linecap="round" opacity="0.4"/><path d="M230.7 868.6h0M272.1 747.3h0M256.6 709.7h0M329.8 760.6h0M388.4 751.4h0" stroke="#e0c868" stroke-width="2.5" stroke-linecap="round" opacity="0.4"/><path d="M408.1 865.1h0M405.4 771.3h0M311.7 808.2h0" stroke="#e0c868" stroke-width="3" stroke-linecap="round" opacity="0.4"/><path d="M396.5 775.4h0M606.5 767.1h0M482.7 780.5h0M361.3 806h0M368.5 882.5h0M301.4 792.3h0M571.7 830.2h0M457.1 848.7h0M405.5 746.5h0M585.4 755.6h0M622.9 869.8h0M207.7 649.6h0M244.8 731.4h0M394.5 850.2h0M228.1 703.7h0M233 813.5h0M282 775.9h0M335.1 878.8h0" stroke="#e0c868" stroke-width="1.5" stroke-linecap="round" opacity="0.5"/><path d="M434.8 825.6h0M515.4 751.4h0M243.4 889.6h0M457.6 862.8h0M384.9 723.7h0M366.7 864.7h0M178.4 798.6h0M358.1 819.2h0M297.3 832.3h0M321.4 781.2h0M230.9 748.2h0M367.7 739.9h0M202.2 711.3h0M267.3 716.9h0M401.5 869.4h0M311.5 775.5h0M262.1 827h0" stroke="#e0c868" stroke-width="2" stroke-linecap="round" opacity="0.5"/><path d="M310.7 841.4h0M241.7 858.9h0M255.4 828.6h0M249.7 727.7h0M336.5 727.3h0M242.8 784h0M430.2 798.3h0M173.2 894.5h0M385.6 699.7h0M252.5 840h0M201 716.7h0" stroke="#e0c868" stroke-width="2.5" stroke-linecap="round" opacity="0.5"/><path d="M173.2 843h0M357.3 863.1h0M262 834.6h0M329.7 887.6h0M177.2 746.4h0M226.2 888.2h0" stroke="#e0c868" stroke-width="3" stroke-linecap="round" opacity="0.5"/><path d="M283.9 839.9h0M369.7 801.3h0" stroke="#e0c868" stroke-width="1" stroke-linecap="round" opacity="0.6"/><path d="M621.2 754.2h0M324.1 841.8h0M310.1 781h0M273 734.1h0M548.7 761.1h0M259.3 775.5h0M373.4 767h0M380.3 795.7h0M413.8 837.2h0M301.3 814.8h0M323.3 850.5h0M429.8 857.2h0" stroke="#e0c868" stroke-width="1.5" stroke-linecap="round" opacity="0.6"/><path d="M418.7 815.7h0M463.5 889.6h0M450.7 843h0M280.3 830.7h0M353.1 841h0M581.9 811.2h0M594.8 823.8h0M319.3 881.5h0M182.9 798h0M592.7 729.4h0M553.6 886.9h0M435.7 822h0M413.7 878.3h0M189.4 833.9h0M240.3 869.9h0M409.3 752.5h0M202.7 752.5h0M386.4 811.2h0M238.6 784.2h0" stroke="#e0c868" stroke-width="2" stroke-linecap="round" opacity="0.6"/><path d="M210.8 812.2h0M188.7 801.4h0M303.5 707.2h0M254.5 759.7h0M218.4 886.7h0M186 740.5h0M211.1 862.3h0M202.1 861.1h0M334.4 791.2h0" stroke="#e0c868" stroke-width="2.5" stroke-linecap="round" opacity="0.6"/><path d="M318.5 747h0M340.3 891.6h0" stroke="#e0c868" stroke-width="3" stroke-linecap="round" opacity="0.6"/><path d="M304.9 859.8h0M195.7 565.9h0" stroke="#e0c868" stroke-width="1" stroke-linecap="round" opacity="0.7"/><path d="M517.6 800.6h0M217.7 810.8h0M172.1 562.9h0M361 809.5h0M454.2 794.5h0M507.4 799.4h0M528.1 826.7h0M258.7 738.5h0M499.6 723h0M439.4 893.2h0M192.1 558.5h0M610.2 892.5h0M591.6 832.2h0" stroke="#e0c868" stroke-width="1.5" stroke-linecap="round" opacity="0.7"/><path d="M416.3 875.9h0M171.5 607.7h0M222 875.6h0M208.8 797h0M597.3 812.7h0M504.9 855.4h0M417.2 857.7h0M377.1 761.2h0M383.2 821.7h0M171.8 868.1h0M439.5 887.3h0M187.7 886.1h0M274.7 776.6h0M422.5 836.5h0M177.7 770.5h0M435.7 802.9h0M239.5 788.9h0M276.4 712.3h0M252.8 746.3h0M180 895.8h0" stroke="#e0c868" stroke-width="2" stroke-linecap="round" opacity="0.7"/><path d="M438.1 712.7h0M255.8 709.8h0M213.6 808.5h0M211.3 802.1h0" stroke="#e0c868" stroke-width="2.5" stroke-linecap="round" opacity="0.7"/><path d="M476.4 892.1h0M361.7 706h0M208.1 767.4h0M251.5 805.8h0" stroke="#e0c868" stroke-width="3" stroke-linecap="round" opacity="0.7"/><path d="M246.2 784.4h0M394.1 817.5h0" stroke="#e0c868" stroke-width="1.5" stroke-linecap="round" opacity="0.8"/><path d="M388.3 770.9h0M217.9 835.6h0M452.6 803h0M183 845.9h0M325.8 845.7h0M452.8 851.6h0M192.6 791.2h0" stroke="#e0c868" stroke-width="2" stroke-linecap="round" opacity="0.8"/><path d="M527.8 645.5h0M324.8 671.2h0M263.4 588.9h0M348.6 638.1h0M528.4 591.8h0M295 661.6h0" stroke="#e0e0c0" stroke-width="1.5" stroke-linecap="round" opacity="0.4"/><path d="M241.9 711.3h0M315.8 555.3h0M363.5 604.5h0M439.2 535.7h0M612.7 711.3h0" stroke="#e0e0c0" stroke-width="2" stroke-linecap="round" opacity="0.4"/><path d="M563.9 696.6h0" stroke="#e0e0c0" stroke-width="1" stroke-linecap="round" opacity="0.5"/><path d="M393.1 645.4h0M287.6 635.1h0M273 650.8h0M346.5 570.2h0M609.2 702.5h0M425.3 594.4h0M552.6 674.8h0" stroke="#e0e0c0" stroke-width="1.5" stroke-linecap="round" opacity="0.5"/><path d="M369 623.6h0M408.5 712h0M354.7 598.7h0M339.4 647.1h0M522.3 694.5h0" stroke="#e0e0c0" stroke-width="2" stroke-linecap="round" opacity="0.5"/><path d="M332.8 682.9h0" stroke="#e0e0c0" stroke-width="1" stroke-linecap="round" opacity="0.6"/><path d="M460.3 613.8h0M323.5 595.4h0M332.5 699.1h0M545.4 602.2h0M300.7 552.6h0M612 675.4h0M297.4 655.5h0M432.7 582h0M316.8 708h0M446.6 685.1h0M274.1 703.1h0M239.4 596.9h0" stroke="#e0e0c0" stroke-width="1.5" stroke-linecap="round" opacity="0.6"/><path d="M561 548.1h0M408.6 590.9h0M505.2 572.4h0M572.2 603h0" stroke="#e0e0c0" stroke-width="2" stroke-linecap="round" opacity="0.6"/><path d="M367.5 590.7h0M563.8 591.7h0M397.5 536.2h0" stroke="#e0e0c0" stroke-width="1.5" stroke-linecap="round" opacity="0.7"/><path d="M525.5 699.1h0M526.6 661.3h0M357.4 566.7h0M262.6 708.3h0M286.3 706.8h0M557.6 620h0M394.6 668.1h0M415 552.1h0M455 598.6h0" stroke="#e0e0c0" stroke-width="2" stroke-linecap="round" opacity="0.7"/><path d="M474.7 636.1h0" stroke="#e0e0c0" stroke-width="1" stroke-linecap="round" opacity="0.8"/><path d="M344 606.2h0M288.2 709.1h0M499 622.3h0" stroke="#e0e0c0" stroke-width="1.5" stroke-linecap="round" opacity="0.8"/><path d="M618.5 589.3h0M317.7 669.3h0M587.3 537.8h0M517.5 566h0M522.6 681.4h0M275.1 675.5h0" stroke="#e0e0c0" stroke-width="2" stroke-linecap="round" opacity="0.8"/></g>
<g filter="url(#db4)"><path d="M214,598 C216,590 220,583 225,578 C229,574 232,570 235,567 L239,569 C236,573 233,577 229,582 C225,587 221,593 219,600 Z" fill="#f2dc58" opacity="0.95"/><path d="M236,583 C238,577 241,571 244,566 C246,562 248,558 250,555 L253,557 C251,561 249,566 247,570 C244,575 241,580 239,585 Z" fill="#e8cc50" opacity="0.85"/><ellipse cx="246" cy="561" rx="2.6" ry="4" fill="#c84818" opacity="0.9" transform="rotate(30 246 561)"/><path d="M223,548 C226,542 230,538 235,535 L240,535 C236,539 232,543 228,550 Z" fill="#f0d458" opacity="0.9"/><path d="M187,552 C191,550 195,549 199,549 L200,553 C196,553 192,554 188,556 Z" fill="#e8cc58" opacity="0.75"/><path d="M192,703 C196,700 201,698 206,697 L207,700 C202,701 198,703 194,705 Z" fill="#e0b848" opacity="0.65"/><path d="M195,714 C199,712 204,710 209,709 L209,712 C205,713 200,715 196,717 Z" fill="#d8b050" opacity="0.6"/><path d="M186,740 C190,738 193,737 196,736" stroke="#d0a040" stroke-width="1.5" fill="none" opacity="0.6"/><path d="M246,540 L262,552" stroke="#e8e0a0" stroke-width="1.6" stroke-linecap="round" opacity="0.45"/><path d="M256,560 L268,548" stroke="#e8e0a0" stroke-width="1.6" stroke-linecap="round" opacity="0.45"/><path d="M265,575 L280,560" stroke="#e8e0a0" stroke-width="1.6" stroke-linecap="round" opacity="0.45"/><path d="M270,600 L286,585" stroke="#e8e0a0" stroke-width="1.6" stroke-linecap="round" opacity="0.45"/><path d="M250,610 L262,596" stroke="#e8e0a0" stroke-width="1.6" stroke-linecap="round" opacity="0.45"/><path d="M280,540 L300,536" stroke="#e8e0a0" stroke-width="1.6" stroke-linecap="round" opacity="0.45"/><path d="M300,560 L312,550" stroke="#e8e0a0" stroke-width="1.6" stroke-linecap="round" opacity="0.45"/><path d="M230,620 L245,612" stroke="#e8e0a0" stroke-width="1.6" stroke-linecap="round" opacity="0.45"/><path d="M205,640 L220,630" stroke="#e8e0a0" stroke-width="1.6" stroke-linecap="round" opacity="0.45"/><path d="M200,670 L215,660" stroke="#e8e0a0" stroke-width="1.6" stroke-linecap="round" opacity="0.45"/><path d="M222,690 L240,680" stroke="#e8e0a0" stroke-width="1.6" stroke-linecap="round" opacity="0.45"/><path d="M486.6,718.7 C484,730 482.5,740 483,749 C486,760 494,772 498,783 C501,792 504,800 505.5,805.4" stroke="#2a2040" stroke-width="2.2" fill="none" opacity="0.75"/><path d="M471.5,874 C473,868 476,864 479,861" stroke="#4a2018" stroke-width="3" fill="none" opacity="0.8"/><path d="M611,579 C609,595 606,610 603.5,624.5" stroke="#101838" stroke-width="2.5" fill="none" opacity="0.7"/><ellipse cx="289" cy="663" rx="3.5" ry="2" fill="#803020" opacity="0.6"/><ellipse cx="176" cy="560" rx="3" ry="5" fill="#502030" opacity="0.5"/><ellipse cx="210" cy="540" rx="5" ry="3" fill="#402030" opacity="0.5"/><ellipse cx="323" cy="659" rx="8" ry="7" fill="#2a4a70" opacity="0.2"/></g>
</g></svg>
<svg style="position:absolute;left:900px;top:490px" width="430" height="450" viewBox="900 490 430 450">
<defs><clipPath id="cpb"><path d="M988.7,859.5 L1003.6,858.3 L1024.1,857.4 L1038.1,855.5 L1050.2,849.4 L1056.8,842.4 L1059.6,834 L1062.4,821.9 L1066.1,812.6 L1067.9,798.6 L1069.8,784.7 L1071.6,775 L1073.1,765.4 L1075.5,740 L1078.1,715.7 L1080.5,682 L1083,649.4 L1085.5,615 L1088,583.1 L1090.3,563 L1091.8,559 L1093.3,561 L1094.8,565.5 L1096.3,566.6 L1098,574 L1099.6,588 L1101.3,606.3 L1103.7,627 L1106.2,649.4 L1108.7,682 L1111.2,715.7 L1113.1,745 L1115.8,783.8 L1118.5,803 L1120.5,818 L1122.5,832.3 L1125.2,843.1 L1129.2,851.1 L1134.2,856.6 L1141,859 L1160,859.5 L1305,859.5 L1305,859.5 L988.7,859.5 Z"/></clipPath></defs>
<path d="M988.7,859.5 L1003.6,858.3 L1024.1,857.4 L1038.1,855.5 L1050.2,849.4 L1056.8,842.4 L1059.6,834 L1062.4,821.9 L1066.1,812.6 L1067.9,798.6 L1069.8,784.7 L1071.6,775 L1073.1,765.4 L1075.5,740 L1078.1,715.7 L1080.5,682 L1083,649.4 L1085.5,615 L1088,583.1 L1090.3,563 L1091.8,559 L1093.3,561 L1094.8,565.5 L1096.3,566.6 L1098,574 L1099.6,588 L1101.3,606.3 L1103.7,627 L1106.2,649.4 L1108.7,682 L1111.2,715.7 L1113.1,745 L1115.8,783.8 L1118.5,803 L1120.5,818 L1122.5,832.3 L1125.2,843.1 L1129.2,851.1 L1134.2,856.6 L1141,859 L1160,859.5 L1305,859.5 L1305,859.5 L988.7,859.5 Z" fill="#7eebfa"/>
<path d="M1022.3,859.5 L1050.2,859.2 L1064.2,856.4 L1070,853.8 L1073.5,851.8 L1078.1,845.7 L1081.9,835.9 L1083.5,832.3 L1085.7,821.9 L1088.8,810.8 L1092.9,786.5 L1096.2,762.3 L1099.6,758.9 L1103,751.5 L1105.3,749.5 L1107,756.9 L1109.7,773.1 L1113.1,797.3 L1117.1,817.5 L1121.1,832.3 L1124.5,835.8 L1127,839.5 L1129.6,841.2 L1134.2,841.4 L1138,843 L1143.3,844.9 L1148,847.5 L1153.5,849.8 L1158,850.2 L1163.8,850 L1169,848.5 L1174,845.4 L1177,842 L1179.7,837.4 L1182.5,830.5 L1185.4,823.8 L1188.5,817 L1191.1,811.3 L1193,800 L1194.5,794.2 L1196,792 L1198,791.3 L1201,790.5 L1204.2,789.8 L1206.5,791.5 L1209.3,796.4 L1211,802 L1212.8,807.8 L1216.2,812.4 L1217.5,817 L1218.5,822.6 L1221.5,827.5 L1225.3,832.9 L1228,837.8 L1231,842 L1235,846 L1239,850 L1243,854 L1246.9,857.4 L1250,859.5 L1250,859.5 L1022.3,859.5 Z" fill="#ff0022"/>
<path d="M1022.3,859.5 L1050.2,859.2 L1064.2,856.4 L1070,853.8 L1073.5,851.8 L1078.1,845.7 L1081.9,835.9 L1083.5,832.3 L1085.7,821.9 L1088.8,810.8 L1092.9,786.5 L1096.2,762.3 L1099.6,758.9 L1103,751.5 L1105.3,749.5 L1107,756.9 L1109.7,773.1 L1113.1,797.3 L1117.1,817.5 L1121.1,832.3 L1124.5,835.8 L1127,839.5 L1129.6,841.2 L1134.2,841.4 L1138,843 L1143.3,844.9 L1148,847.5 L1153.5,849.8 L1158,850.2 L1163.8,850 L1169,848.5 L1174,845.4 L1177,842 L1179.7,837.4 L1182.5,830.5 L1185.4,823.8 L1188.5,817 L1191.1,811.3 L1193,800 L1194.5,794.2 L1196,792 L1198,791.3 L1201,790.5 L1204.2,789.8 L1206.5,791.5 L1209.3,796.4 L1211,802 L1212.8,807.8 L1216.2,812.4 L1217.5,817 L1218.5,822.6 L1221.5,827.5 L1225.3,832.9 L1228,837.8 L1231,842 L1235,846 L1239,850 L1243,854 L1246.9,857.4 L1250,859.5 L1250,859.5 L1022.3,859.5 Z" fill="#9e6882" clip-path="url(#cpb)"/>
<path d="M988.7,859.5 L1003.6,858.3 L1024.1,857.4 L1038.1,855.5 L1050.2,849.4 L1056.8,842.4 L1059.6,834 L1062.4,821.9 L1066.1,812.6 L1067.9,798.6 L1069.8,784.7 L1071.6,775 L1073.1,765.4 L1075.5,740 L1078.1,715.7 L1080.5,682 L1083,649.4 L1085.5,615 L1088,583.1 L1090.3,563 L1091.8,559 L1093.3,561 L1094.8,565.5 L1096.3,566.6 L1098,574 L1099.6,588 L1101.3,606.3 L1103.7,627 L1106.2,649.4 L1108.7,682 L1111.2,715.7 L1113.1,745 L1115.8,783.8 L1118.5,803 L1120.5,818 L1122.5,832.3 L1125.2,843.1 L1129.2,851.1 L1134.2,856.6 L1141,859 L1160,859.5 L1305,859.5" fill="none" stroke="#14c4f4" stroke-width="2.1" stroke-linejoin="round"/>
<line x1="988" y1="545" x2="1306.5" y2="545" stroke="#999" stroke-width="2.2"/>
<line x1="1305.5" y1="544" x2="1305.5" y2="860" stroke="#999" stroke-width="2"/>
<line x1="988.9" y1="544" x2="988.9" y2="869" stroke="#222" stroke-width="1.6"/>
<line x1="980" y1="859.8" x2="1306" y2="859.8" stroke="#3c7f9c" stroke-width="2"/>
<line x1="979.8" y1="859" x2="989" y2="859" stroke="#000" stroke-width="2.6"/>
<line x1="984.6" y1="835.5" x2="989" y2="835.5" stroke="#222" stroke-width="1.2"/>
<line x1="984.6" y1="812" x2="989" y2="812" stroke="#222" stroke-width="1.2"/>
<line x1="979.8" y1="788.6" x2="989" y2="788.6" stroke="#000" stroke-width="2.6"/>
<line x1="984.6" y1="765.1" x2="989" y2="765.1" stroke="#222" stroke-width="1.2"/>
<line x1="984.6" y1="741.6" x2="989" y2="741.6" stroke="#222" stroke-width="1.2"/>
<line x1="979.8" y1="718.1" x2="989" y2="718.1" stroke="#000" stroke-width="2.6"/>
<line x1="984.6" y1="694.6" x2="989" y2="694.6" stroke="#222" stroke-width="1.2"/>
<line x1="984.6" y1="671.2" x2="989" y2="671.2" stroke="#222" stroke-width="1.2"/>
<line x1="979.8" y1="647.7" x2="989" y2="647.7" stroke="#000" stroke-width="2.6"/>
<line x1="984.6" y1="624.2" x2="989" y2="624.2" stroke="#222" stroke-width="1.2"/>
<line x1="984.6" y1="600.7" x2="989" y2="600.7" stroke="#222" stroke-width="1.2"/>
<line x1="979.8" y1="577.2" x2="989" y2="577.2" stroke="#000" stroke-width="2.6"/>
<line x1="984.6" y1="553.8" x2="989" y2="553.8" stroke="#222" stroke-width="1.2"/>
<line x1="989.4" y1="859" x2="989.4" y2="869.6" stroke="#000" stroke-width="2.8"/>
<line x1="1007.2" y1="859" x2="1007.2" y2="865.3" stroke="#222" stroke-width="1.4"/>
<line x1="1017.6" y1="859" x2="1017.6" y2="865.3" stroke="#222" stroke-width="1.4"/>
<line x1="1025" y1="859" x2="1025" y2="865.3" stroke="#222" stroke-width="1.4"/>
<line x1="1030.7" y1="859" x2="1030.7" y2="865.3" stroke="#222" stroke-width="1.4"/>
<line x1="1035.4" y1="859" x2="1035.4" y2="865.3" stroke="#222" stroke-width="1.4"/>
<line x1="1039.3" y1="859" x2="1039.3" y2="865.3" stroke="#222" stroke-width="1.4"/>
<line x1="1042.8" y1="859" x2="1042.8" y2="865.3" stroke="#222" stroke-width="1.4"/>
<line x1="1045.8" y1="859" x2="1045.8" y2="865.3" stroke="#222" stroke-width="1.4"/>
<line x1="1048.5" y1="859" x2="1048.5" y2="869.6" stroke="#000" stroke-width="2.8"/>
<line x1="1066.3" y1="859" x2="1066.3" y2="865.3" stroke="#222" stroke-width="1.4"/>
<line x1="1076.7" y1="859" x2="1076.7" y2="865.3" stroke="#222" stroke-width="1.4"/>
<line x1="1084.1" y1="859" x2="1084.1" y2="865.3" stroke="#222" stroke-width="1.4"/>
<line x1="1089.8" y1="859" x2="1089.8" y2="865.3" stroke="#222" stroke-width="1.4"/>
<line x1="1094.5" y1="859" x2="1094.5" y2="865.3" stroke="#222" stroke-width="1.4"/>
<line x1="1098.4" y1="859" x2="1098.4" y2="865.3" stroke="#222" stroke-width="1.4"/>
<line x1="1101.9" y1="859" x2="1101.9" y2="865.3" stroke="#222" stroke-width="1.4"/>
<line x1="1104.9" y1="859" x2="1104.9" y2="865.3" stroke="#222" stroke-width="1.4"/>
<line x1="1107.6" y1="859" x2="1107.6" y2="869.6" stroke="#000" stroke-width="2.8"/>
<line x1="1125.4" y1="859" x2="1125.4" y2="865.3" stroke="#222" stroke-width="1.4"/>
<line x1="1135.8" y1="859" x2="1135.8" y2="865.3" stroke="#222" stroke-width="1.4"/>
<line x1="1143.2" y1="859" x2="1143.2" y2="865.3" stroke="#222" stroke-width="1.4"/>
<line x1="1148.9" y1="859" x2="1148.9" y2="865.3" stroke="#222" stroke-width="1.4"/>
<line x1="1153.6" y1="859" x2="1153.6" y2="865.3" stroke="#222" stroke-width="1.4"/>
<line x1="1157.5" y1="859" x2="1157.5" y2="865.3" stroke="#222" stroke-width="1.4"/>
<line x1="1161" y1="859" x2="1161" y2="865.3" stroke="#222" stroke-width="1.4"/>
<line x1="1164" y1="859" x2="1164" y2="865.3" stroke="#222" stroke-width="1.4"/>
<line x1="1166.7" y1="859" x2="1166.7" y2="869.6" stroke="#000" stroke-width="2.8"/>
<line x1="1184.5" y1="859" x2="1184.5" y2="865.3" stroke="#222" stroke-width="1.4"/>
<line x1="1194.9" y1="859" x2="1194.9" y2="865.3" stroke="#222" stroke-width="1.4"/>
<line x1="1202.3" y1="859" x2="1202.3" y2="865.3" stroke="#222" stroke-width="1.4"/>
<line x1="1208" y1="859" x2="1208" y2="865.3" stroke="#222" stroke-width="1.4"/>
<line x1="1212.7" y1="859" x2="1212.7" y2="865.3" stroke="#222" stroke-width="1.4"/>
<line x1="1216.6" y1="859" x2="1216.6" y2="865.3" stroke="#222" stroke-width="1.4"/>
<line x1="1220.1" y1="859" x2="1220.1" y2="865.3" stroke="#222" stroke-width="1.4"/>
<line x1="1223.1" y1="859" x2="1223.1" y2="865.3" stroke="#222" stroke-width="1.4"/>
<line x1="1225.8" y1="859" x2="1225.8" y2="869.6" stroke="#000" stroke-width="2.8"/>
<line x1="1243.6" y1="859" x2="1243.6" y2="865.3" stroke="#222" stroke-width="1.4"/>
<line x1="1254" y1="859" x2="1254" y2="865.3" stroke="#222" stroke-width="1.4"/>
<line x1="1261.4" y1="859" x2="1261.4" y2="865.3" stroke="#222" stroke-width="1.4"/>
<line x1="1267.1" y1="859" x2="1267.1" y2="865.3" stroke="#222" stroke-width="1.4"/>
<line x1="1271.8" y1="859" x2="1271.8" y2="865.3" stroke="#222" stroke-width="1.4"/>
<line x1="1275.7" y1="859" x2="1275.7" y2="865.3" stroke="#222" stroke-width="1.4"/>
<line x1="1279.2" y1="859" x2="1279.2" y2="865.3" stroke="#222" stroke-width="1.4"/>
<line x1="1282.2" y1="859" x2="1282.2" y2="865.3" stroke="#222" stroke-width="1.4"/>
<line x1="1284.9" y1="859" x2="1284.9" y2="869.6" stroke="#000" stroke-width="2.8"/>
<line x1="1301.2" y1="859" x2="1301.2" y2="865.3" stroke="#222" stroke-width="1.4"/>
<text x="975" y="858.8" font-size="12" text-anchor="end" fill="#333" font-family="Liberation Sans, Arial, sans-serif">0</text>
<text x="975" y="792.9" font-size="12" text-anchor="end" fill="#333" font-family="Liberation Sans, Arial, sans-serif">300</text>
<text x="975" y="722.4" font-size="12" text-anchor="end" fill="#333" font-family="Liberation Sans, Arial, sans-serif">600</text>
<text x="975" y="652" font-size="12" text-anchor="end" fill="#333" font-family="Liberation Sans, Arial, sans-serif">900</text>
<text x="975" y="581.5" font-size="12" text-anchor="end" fill="#333" font-family="Liberation Sans, Arial, sans-serif">1.2K</text>
<text x="995.2" y="887.4" font-size="12" fill="#333" font-family="Liberation Sans, Arial, sans-serif">10<tspan dy="-7.5" font-size="10">0</tspan></text>
<text x="1048.7" y="887.4" font-size="12" fill="#333" font-family="Liberation Sans, Arial, sans-serif">10<tspan dy="-7.5" font-size="10">1</tspan></text>
<text x="1107.8" y="887.4" font-size="12" fill="#333" font-family="Liberation Sans, Arial, sans-serif">10<tspan dy="-7.5" font-size="10">2</tspan></text>
<text x="1166.9" y="887.4" font-size="12" fill="#333" font-family="Liberation Sans, Arial, sans-serif">10<tspan dy="-7.5" font-size="10">3</tspan></text>
<text x="1226" y="887.4" font-size="12" fill="#333" font-family="Liberation Sans, Arial, sans-serif">10<tspan dy="-7.5" font-size="10">4</tspan></text>
<text x="1285.1" y="887.4" font-size="12" fill="#333" font-family="Liberation Sans, Arial, sans-serif">10<tspan dy="-7.5" font-size="10">5</tspan></text>
<text x="1069" y="916.8" font-size="22.6" fill="#000" font-family="Liberation Sans, Arial, sans-serif">525/50 (405 nm)</text>
<text transform="translate(939.2,744) rotate(-90)" font-size="22.6" fill="#000" font-family="Liberation Sans, Arial, sans-serif">Count</text>
<rect x="1099.7" y="550.7" width="199.8" height="57.5" fill="#fff" stroke="#777" stroke-width="3"/>
<rect x="1104.1" y="556" width="21.9" height="20.5" fill="#7eebfa"/>
<rect x="1104.1" y="581" width="21.9" height="21.8" fill="#ff0022"/>
<text x="1143.3" y="570.3" font-size="12" fill="#111" font-family="Liberation Sans, Arial, sans-serif">Negative control</text>
<text x="1137.3" y="596.3" font-size="12" fill="#111" font-family="Liberation Sans, Arial, sans-serif">CPN-510-strep 0.5µg (CD4)</text>
</svg>
</body></html>
